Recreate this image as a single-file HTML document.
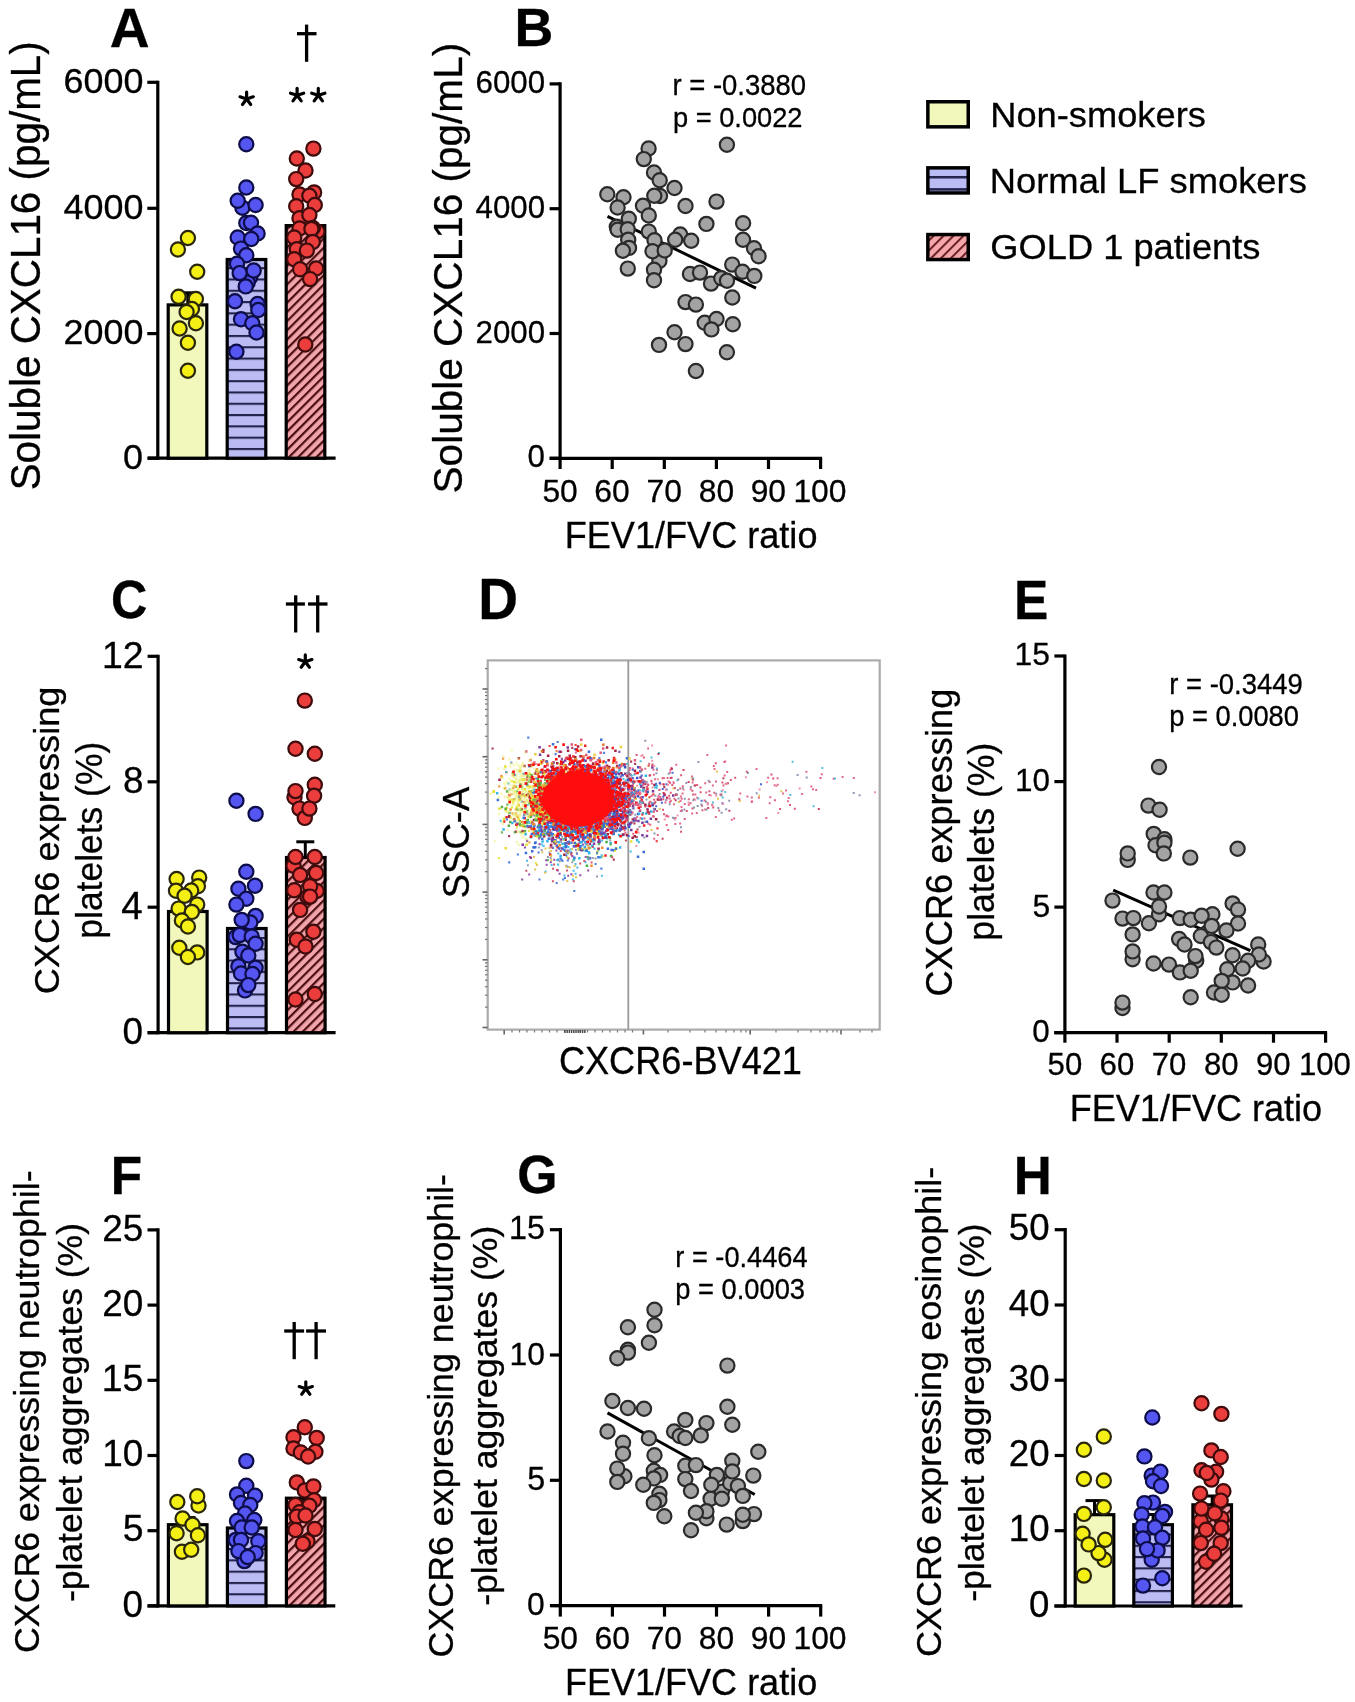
<!DOCTYPE html>
<html><head><meta charset="utf-8"><style>html,body{margin:0;padding:0;background:#fff;}svg{display:block;}text{font-family:"Liberation Sans",sans-serif;}</style></head>
<body><svg width="1355" height="1702" viewBox="0 0 1355 1702">
<defs>
<filter id="gblur" x="0" y="0" width="100%" height="100%" filterUnits="userSpaceOnUse"><feGaussianBlur stdDeviation="0.4"/></filter>
<filter id="soft" x="-5%" y="-5%" width="110%" height="110%"><feGaussianBlur stdDeviation="0.45"/></filter>
<pattern id="pblueA" patternUnits="userSpaceOnUse" width="20" height="11.3" y="7.25">
 <rect width="20" height="11.3" fill="#bcbcf4"/><rect y="0" width="20" height="2.1" fill="#23234d"/>
</pattern><pattern id="pblueC" patternUnits="userSpaceOnUse" width="20" height="11.3" y="-0.95">
 <rect width="20" height="11.3" fill="#bcbcf4"/><rect y="0" width="20" height="2.1" fill="#23234d"/>
</pattern><pattern id="pblueF" patternUnits="userSpaceOnUse" width="20" height="11.3" y="-0.05">
 <rect width="20" height="11.3" fill="#bcbcf4"/><rect y="0" width="20" height="2.1" fill="#23234d"/>
</pattern><pattern id="pblueH" patternUnits="userSpaceOnUse" width="20" height="11.3" y="7.95">
 <rect width="20" height="11.3" fill="#bcbcf4"/><rect y="0" width="20" height="2.1" fill="#23234d"/>
</pattern>
<pattern id="pblueL" patternUnits="userSpaceOnUse" width="20" height="12.2" y="175.95">
 <rect width="20" height="12.2" fill="#bcbcf4"/><rect y="0" width="20" height="2.5" fill="#23234d"/>
</pattern>
<pattern id="predL" patternUnits="userSpaceOnUse" width="7" height="7" patternTransform="rotate(-45)">
 <rect width="7" height="7" fill="#f4a6aa"/><rect y="0" width="7" height="1.8" fill="#5a1414"/>
</pattern>
<pattern id="pred" patternUnits="userSpaceOnUse" width="6.5" height="6.5" patternTransform="rotate(-45)">
 <rect width="6.5" height="6.5" fill="#f2a4ac"/><rect y="0" width="6.5" height="2.2" fill="#4a0e0e"/>
</pattern>
</defs>
<rect width="1355" height="1702" fill="#fff"/>
<g filter="url(#gblur)">
<line x1="157.8" y1="80.7" x2="157.8" y2="459.8" stroke="#000" stroke-width="3.2" stroke-linecap="butt"/>
<line x1="147.3" y1="82.3" x2="157.8" y2="82.3" stroke="#000" stroke-width="3.2" stroke-linecap="butt"/>
<line x1="147.3" y1="208.3" x2="157.8" y2="208.3" stroke="#000" stroke-width="3.2" stroke-linecap="butt"/>
<line x1="147.3" y1="333.6" x2="157.8" y2="333.6" stroke="#000" stroke-width="3.2" stroke-linecap="butt"/>
<line x1="147.3" y1="458.2" x2="157.8" y2="458.2" stroke="#000" stroke-width="3.2" stroke-linecap="butt"/>
<line x1="148.0" y1="458.2" x2="335.6" y2="458.2" stroke="#000" stroke-width="3.2" stroke-linecap="butt"/>
<rect x="168.2" y="304.9" width="38.6" height="153.3" fill="#f2f8bb" stroke="#000" stroke-width="3.2"/>
<rect x="227.2" y="259.5" width="38.6" height="198.7" fill="url(#pblueA)" stroke="#000" stroke-width="3.2"/>
<rect x="286.2" y="225.6" width="38.6" height="232.6" fill="url(#pred)" stroke="#000" stroke-width="3.2"/>
<line x1="560.1" y1="82.3" x2="560.1" y2="459.9" stroke="#000" stroke-width="3.2" stroke-linecap="butt"/>
<line x1="549.6" y1="458.3" x2="560.1" y2="458.3" stroke="#000" stroke-width="3.2" stroke-linecap="butt"/>
<line x1="549.6" y1="333.5" x2="560.1" y2="333.5" stroke="#000" stroke-width="3.2" stroke-linecap="butt"/>
<line x1="549.6" y1="208.7" x2="560.1" y2="208.7" stroke="#000" stroke-width="3.2" stroke-linecap="butt"/>
<line x1="549.6" y1="83.9" x2="560.1" y2="83.9" stroke="#000" stroke-width="3.2" stroke-linecap="butt"/>
<line x1="549.7" y1="458.3" x2="822.1" y2="458.3" stroke="#000" stroke-width="3.2" stroke-linecap="butt"/>
<line x1="560.1" y1="458.3" x2="560.1" y2="469.0" stroke="#000" stroke-width="3.2" stroke-linecap="butt"/>
<line x1="612.2" y1="458.3" x2="612.2" y2="469.0" stroke="#000" stroke-width="3.2" stroke-linecap="butt"/>
<line x1="664.3" y1="458.3" x2="664.3" y2="469.0" stroke="#000" stroke-width="3.2" stroke-linecap="butt"/>
<line x1="716.4" y1="458.3" x2="716.4" y2="469.0" stroke="#000" stroke-width="3.2" stroke-linecap="butt"/>
<line x1="768.5" y1="458.3" x2="768.5" y2="469.0" stroke="#000" stroke-width="3.2" stroke-linecap="butt"/>
<line x1="820.6" y1="458.3" x2="820.6" y2="469.0" stroke="#000" stroke-width="3.2" stroke-linecap="butt"/>
<rect x="927.85" y="101.75" width="40.4" height="25.10" fill="#f2f8bb" stroke="#000" stroke-width="3.5"/>
<rect x="927.85" y="167.85" width="40.4" height="25.10" fill="url(#pblueL)" stroke="#000" stroke-width="3.5"/>
<rect x="927.85" y="234.55" width="40.4" height="25.00" fill="url(#predL)" stroke="#000" stroke-width="3.5"/>
<line x1="158.1" y1="654.7" x2="158.1" y2="1034.3" stroke="#000" stroke-width="3.2" stroke-linecap="butt"/>
<line x1="147.6" y1="1032.7" x2="158.1" y2="1032.7" stroke="#000" stroke-width="3.2" stroke-linecap="butt"/>
<line x1="147.6" y1="907.2" x2="158.1" y2="907.2" stroke="#000" stroke-width="3.2" stroke-linecap="butt"/>
<line x1="147.6" y1="781.8" x2="158.1" y2="781.8" stroke="#000" stroke-width="3.2" stroke-linecap="butt"/>
<line x1="147.6" y1="656.3" x2="158.1" y2="656.3" stroke="#000" stroke-width="3.2" stroke-linecap="butt"/>
<line x1="147.6" y1="1032.7" x2="335.6" y2="1032.7" stroke="#000" stroke-width="3.2" stroke-linecap="butt"/>
<rect x="168.5" y="911.5" width="38.6" height="121.2" fill="#f2f8bb" stroke="#000" stroke-width="3.2"/>
<rect x="227.5" y="928.5" width="38.6" height="104.2" fill="url(#pblueC)" stroke="#000" stroke-width="3.2"/>
<rect x="286.5" y="857.5" width="38.6" height="175.2" fill="url(#pred)" stroke="#000" stroke-width="3.2"/>
<rect x="487.7" y="660.4" width="392" height="369.2" fill="none" stroke="#ababab" stroke-width="2.2"/>
<line x1="628.3" y1="660.4" x2="628.3" y2="1029.6" stroke="#9a9a9a" stroke-width="1.8" stroke-linecap="butt"/>
<line x1="1064.9" y1="654.4" x2="1064.9" y2="1034.3" stroke="#000" stroke-width="3.2" stroke-linecap="butt"/>
<line x1="1054.4" y1="1032.7" x2="1064.9" y2="1032.7" stroke="#000" stroke-width="3.2" stroke-linecap="butt"/>
<line x1="1054.4" y1="907.1" x2="1064.9" y2="907.1" stroke="#000" stroke-width="3.2" stroke-linecap="butt"/>
<line x1="1054.4" y1="781.6" x2="1064.9" y2="781.6" stroke="#000" stroke-width="3.2" stroke-linecap="butt"/>
<line x1="1054.4" y1="656.0" x2="1064.9" y2="656.0" stroke="#000" stroke-width="3.2" stroke-linecap="butt"/>
<line x1="1054.2" y1="1032.7" x2="1327.1" y2="1032.7" stroke="#000" stroke-width="3.2" stroke-linecap="butt"/>
<line x1="1064.9" y1="1032.7" x2="1064.9" y2="1042.7" stroke="#000" stroke-width="3.2" stroke-linecap="butt"/>
<line x1="1117.0" y1="1032.7" x2="1117.0" y2="1042.7" stroke="#000" stroke-width="3.2" stroke-linecap="butt"/>
<line x1="1169.2" y1="1032.7" x2="1169.2" y2="1042.7" stroke="#000" stroke-width="3.2" stroke-linecap="butt"/>
<line x1="1221.3" y1="1032.7" x2="1221.3" y2="1042.7" stroke="#000" stroke-width="3.2" stroke-linecap="butt"/>
<line x1="1273.5" y1="1032.7" x2="1273.5" y2="1042.7" stroke="#000" stroke-width="3.2" stroke-linecap="butt"/>
<line x1="1325.6" y1="1032.7" x2="1325.6" y2="1042.7" stroke="#000" stroke-width="3.2" stroke-linecap="butt"/>
<line x1="158.0" y1="1228.3" x2="158.0" y2="1607.5" stroke="#000" stroke-width="3.2" stroke-linecap="butt"/>
<line x1="147.5" y1="1605.9" x2="158.0" y2="1605.9" stroke="#000" stroke-width="3.2" stroke-linecap="butt"/>
<line x1="147.5" y1="1530.7" x2="158.0" y2="1530.7" stroke="#000" stroke-width="3.2" stroke-linecap="butt"/>
<line x1="147.5" y1="1455.5" x2="158.0" y2="1455.5" stroke="#000" stroke-width="3.2" stroke-linecap="butt"/>
<line x1="147.5" y1="1380.3" x2="158.0" y2="1380.3" stroke="#000" stroke-width="3.2" stroke-linecap="butt"/>
<line x1="147.5" y1="1305.1" x2="158.0" y2="1305.1" stroke="#000" stroke-width="3.2" stroke-linecap="butt"/>
<line x1="147.5" y1="1229.9" x2="158.0" y2="1229.9" stroke="#000" stroke-width="3.2" stroke-linecap="butt"/>
<line x1="147.6" y1="1605.9" x2="335.3" y2="1605.9" stroke="#000" stroke-width="3.2" stroke-linecap="butt"/>
<rect x="168.4" y="1524.7" width="38.6" height="81.2" fill="#f2f8bb" stroke="#000" stroke-width="3.2"/>
<rect x="227.4" y="1528.0" width="38.6" height="77.9" fill="url(#pblueF)" stroke="#000" stroke-width="3.2"/>
<rect x="286.4" y="1498.2" width="38.6" height="107.7" fill="url(#pred)" stroke="#000" stroke-width="3.2"/>
<line x1="560.4" y1="1228.1" x2="560.4" y2="1607.2" stroke="#000" stroke-width="3.2" stroke-linecap="butt"/>
<line x1="549.9" y1="1605.6" x2="560.4" y2="1605.6" stroke="#000" stroke-width="3.2" stroke-linecap="butt"/>
<line x1="549.9" y1="1480.3" x2="560.4" y2="1480.3" stroke="#000" stroke-width="3.2" stroke-linecap="butt"/>
<line x1="549.9" y1="1355.0" x2="560.4" y2="1355.0" stroke="#000" stroke-width="3.2" stroke-linecap="butt"/>
<line x1="549.9" y1="1229.7" x2="560.4" y2="1229.7" stroke="#000" stroke-width="3.2" stroke-linecap="butt"/>
<line x1="550.7" y1="1605.6" x2="822.2" y2="1605.6" stroke="#000" stroke-width="3.2" stroke-linecap="butt"/>
<line x1="560.3" y1="1605.6" x2="560.3" y2="1616.6" stroke="#000" stroke-width="3.2" stroke-linecap="butt"/>
<line x1="612.4" y1="1605.6" x2="612.4" y2="1616.6" stroke="#000" stroke-width="3.2" stroke-linecap="butt"/>
<line x1="664.5" y1="1605.6" x2="664.5" y2="1616.6" stroke="#000" stroke-width="3.2" stroke-linecap="butt"/>
<line x1="716.5" y1="1605.6" x2="716.5" y2="1616.6" stroke="#000" stroke-width="3.2" stroke-linecap="butt"/>
<line x1="768.6" y1="1605.6" x2="768.6" y2="1616.6" stroke="#000" stroke-width="3.2" stroke-linecap="butt"/>
<line x1="820.7" y1="1605.6" x2="820.7" y2="1616.6" stroke="#000" stroke-width="3.2" stroke-linecap="butt"/>
<line x1="1065.2" y1="1228.1" x2="1065.2" y2="1607.6" stroke="#000" stroke-width="3.2" stroke-linecap="butt"/>
<line x1="1054.7" y1="1606.0" x2="1065.2" y2="1606.0" stroke="#000" stroke-width="3.2" stroke-linecap="butt"/>
<line x1="1054.7" y1="1530.7" x2="1065.2" y2="1530.7" stroke="#000" stroke-width="3.2" stroke-linecap="butt"/>
<line x1="1054.7" y1="1455.5" x2="1065.2" y2="1455.5" stroke="#000" stroke-width="3.2" stroke-linecap="butt"/>
<line x1="1054.7" y1="1380.2" x2="1065.2" y2="1380.2" stroke="#000" stroke-width="3.2" stroke-linecap="butt"/>
<line x1="1054.7" y1="1305.0" x2="1065.2" y2="1305.0" stroke="#000" stroke-width="3.2" stroke-linecap="butt"/>
<line x1="1054.7" y1="1229.7" x2="1065.2" y2="1229.7" stroke="#000" stroke-width="3.2" stroke-linecap="butt"/>
<line x1="1054.3" y1="1606.0" x2="1242.5" y2="1606.0" stroke="#000" stroke-width="3.2" stroke-linecap="butt"/>
<rect x="1075.2" y="1514.7" width="38.6" height="91.3" fill="#f2f8bb" stroke="#000" stroke-width="3.2"/>
<rect x="1133.8" y="1524.7" width="38.6" height="81.3" fill="url(#pblueH)" stroke="#000" stroke-width="3.2"/>
<rect x="1192.9" y="1504.8" width="38.6" height="101.2" fill="url(#pred)" stroke="#000" stroke-width="3.2"/>
<line x1="187.8" y1="304.9" x2="187.8" y2="292.8" stroke="#000" stroke-width="3" stroke-linecap="butt"/>
<line x1="180.8" y1="292.8" x2="194.8" y2="292.8" stroke="#000" stroke-width="3" stroke-linecap="butt"/>
<circle cx="187.9" cy="238.0" r="7.1" fill="#f4f016" stroke="#2b2808" stroke-width="2.2"/>
<circle cx="177.9" cy="249.5" r="7.1" fill="#f4f016" stroke="#2b2808" stroke-width="2.2"/>
<circle cx="197.2" cy="271.8" r="7.1" fill="#f4f016" stroke="#2b2808" stroke-width="2.2"/>
<circle cx="178.6" cy="296.8" r="7.1" fill="#f4f016" stroke="#2b2808" stroke-width="2.2"/>
<circle cx="195.9" cy="299.0" r="7.1" fill="#f4f016" stroke="#2b2808" stroke-width="2.2"/>
<circle cx="191.9" cy="309.0" r="7.1" fill="#f4f016" stroke="#2b2808" stroke-width="2.2"/>
<circle cx="186.6" cy="312.0" r="7.1" fill="#f4f016" stroke="#2b2808" stroke-width="2.2"/>
<circle cx="195.9" cy="323.2" r="7.1" fill="#f4f016" stroke="#2b2808" stroke-width="2.2"/>
<circle cx="179.6" cy="328.5" r="7.1" fill="#f4f016" stroke="#2b2808" stroke-width="2.2"/>
<circle cx="187.9" cy="342.7" r="7.1" fill="#f4f016" stroke="#2b2808" stroke-width="2.2"/>
<circle cx="187.9" cy="370.8" r="7.1" fill="#f4f016" stroke="#2b2808" stroke-width="2.2"/>
<circle cx="246.3" cy="144.2" r="7.1" fill="#5454f2" stroke="#0c0c48" stroke-width="2.2"/>
<circle cx="246.3" cy="187.5" r="7.1" fill="#5454f2" stroke="#0c0c48" stroke-width="2.2"/>
<circle cx="242.4" cy="207.7" r="7.1" fill="#5454f2" stroke="#0c0c48" stroke-width="2.2"/>
<circle cx="237.7" cy="200.8" r="7.1" fill="#5454f2" stroke="#0c0c48" stroke-width="2.2"/>
<circle cx="255.6" cy="205.0" r="7.1" fill="#5454f2" stroke="#0c0c48" stroke-width="2.2"/>
<circle cx="246.3" cy="223.0" r="7.1" fill="#5454f2" stroke="#0c0c48" stroke-width="2.2"/>
<circle cx="251.0" cy="222.8" r="7.1" fill="#5454f2" stroke="#0c0c48" stroke-width="2.2"/>
<circle cx="257.6" cy="233.5" r="7.1" fill="#5454f2" stroke="#0c0c48" stroke-width="2.2"/>
<circle cx="237.7" cy="237.5" r="7.1" fill="#5454f2" stroke="#0c0c48" stroke-width="2.2"/>
<circle cx="251.3" cy="239.0" r="7.1" fill="#5454f2" stroke="#0c0c48" stroke-width="2.2"/>
<circle cx="241.0" cy="248.6" r="7.1" fill="#5454f2" stroke="#0c0c48" stroke-width="2.2"/>
<circle cx="246.3" cy="255.2" r="7.1" fill="#5454f2" stroke="#0c0c48" stroke-width="2.2"/>
<circle cx="237.0" cy="263.8" r="7.1" fill="#5454f2" stroke="#0c0c48" stroke-width="2.2"/>
<circle cx="250.3" cy="277.1" r="7.1" fill="#5454f2" stroke="#0c0c48" stroke-width="2.2"/>
<circle cx="247.7" cy="282.4" r="7.1" fill="#5454f2" stroke="#0c0c48" stroke-width="2.2"/>
<circle cx="245.7" cy="286.4" r="7.1" fill="#5454f2" stroke="#0c0c48" stroke-width="2.2"/>
<circle cx="239.7" cy="273.1" r="7.1" fill="#5454f2" stroke="#0c0c48" stroke-width="2.2"/>
<circle cx="253.7" cy="270.5" r="7.1" fill="#5454f2" stroke="#0c0c48" stroke-width="2.2"/>
<circle cx="235.0" cy="301.3" r="7.1" fill="#5454f2" stroke="#0c0c48" stroke-width="2.2"/>
<circle cx="257.6" cy="304.0" r="7.1" fill="#5454f2" stroke="#0c0c48" stroke-width="2.2"/>
<circle cx="258.3" cy="310.0" r="7.1" fill="#5454f2" stroke="#0c0c48" stroke-width="2.2"/>
<circle cx="241.0" cy="319.2" r="7.1" fill="#5454f2" stroke="#0c0c48" stroke-width="2.2"/>
<circle cx="252.3" cy="323.2" r="7.1" fill="#5454f2" stroke="#0c0c48" stroke-width="2.2"/>
<circle cx="256.5" cy="332.5" r="7.1" fill="#5454f2" stroke="#0c0c48" stroke-width="2.2"/>
<circle cx="236.4" cy="351.8" r="7.1" fill="#5454f2" stroke="#0c0c48" stroke-width="2.2"/>
<circle cx="313.4" cy="148.6" r="7.1" fill="#ec3e3e" stroke="#3e0808" stroke-width="2.2"/>
<circle cx="296.8" cy="158.5" r="7.1" fill="#ec3e3e" stroke="#3e0808" stroke-width="2.2"/>
<circle cx="305.5" cy="170.5" r="7.1" fill="#ec3e3e" stroke="#3e0808" stroke-width="2.2"/>
<circle cx="296.2" cy="179.1" r="7.1" fill="#ec3e3e" stroke="#3e0808" stroke-width="2.2"/>
<circle cx="314.1" cy="192.4" r="7.1" fill="#ec3e3e" stroke="#3e0808" stroke-width="2.2"/>
<circle cx="299.5" cy="194.4" r="7.1" fill="#ec3e3e" stroke="#3e0808" stroke-width="2.2"/>
<circle cx="309.4" cy="195.7" r="7.1" fill="#ec3e3e" stroke="#3e0808" stroke-width="2.2"/>
<circle cx="314.8" cy="205.0" r="7.1" fill="#ec3e3e" stroke="#3e0808" stroke-width="2.2"/>
<circle cx="296.2" cy="206.3" r="7.1" fill="#ec3e3e" stroke="#3e0808" stroke-width="2.2"/>
<circle cx="299.5" cy="218.3" r="7.1" fill="#ec3e3e" stroke="#3e0808" stroke-width="2.2"/>
<circle cx="309.4" cy="215.0" r="7.1" fill="#ec3e3e" stroke="#3e0808" stroke-width="2.2"/>
<circle cx="317.4" cy="231.6" r="7.1" fill="#ec3e3e" stroke="#3e0808" stroke-width="2.2"/>
<circle cx="312.8" cy="228.0" r="7.1" fill="#ec3e3e" stroke="#3e0808" stroke-width="2.2"/>
<circle cx="299.5" cy="228.5" r="7.1" fill="#ec3e3e" stroke="#3e0808" stroke-width="2.2"/>
<circle cx="311.4" cy="229.0" r="7.1" fill="#ec3e3e" stroke="#3e0808" stroke-width="2.2"/>
<circle cx="294.2" cy="237.5" r="7.1" fill="#ec3e3e" stroke="#3e0808" stroke-width="2.2"/>
<circle cx="312.8" cy="241.9" r="7.1" fill="#ec3e3e" stroke="#3e0808" stroke-width="2.2"/>
<circle cx="296.8" cy="249.2" r="7.1" fill="#ec3e3e" stroke="#3e0808" stroke-width="2.2"/>
<circle cx="306.8" cy="250.6" r="7.1" fill="#ec3e3e" stroke="#3e0808" stroke-width="2.2"/>
<circle cx="294.2" cy="259.2" r="7.1" fill="#ec3e3e" stroke="#3e0808" stroke-width="2.2"/>
<circle cx="300.1" cy="269.2" r="7.1" fill="#ec3e3e" stroke="#3e0808" stroke-width="2.2"/>
<circle cx="316.1" cy="268.5" r="7.1" fill="#ec3e3e" stroke="#3e0808" stroke-width="2.2"/>
<circle cx="310.1" cy="279.1" r="7.1" fill="#ec3e3e" stroke="#3e0808" stroke-width="2.2"/>
<circle cx="305.3" cy="344.5" r="7.1" fill="#ec3e3e" stroke="#3e0808" stroke-width="2.2"/>
<line x1="305.3" y1="857.5" x2="305.3" y2="841.8" stroke="#000" stroke-width="3" stroke-linecap="butt"/>
<line x1="296.3" y1="841.8" x2="314.3" y2="841.8" stroke="#000" stroke-width="3" stroke-linecap="butt"/>
<circle cx="176.6" cy="879.0" r="7.1" fill="#f4f016" stroke="#2b2808" stroke-width="2.2"/>
<circle cx="199.2" cy="877.6" r="7.1" fill="#f4f016" stroke="#2b2808" stroke-width="2.2"/>
<circle cx="197.9" cy="886.3" r="7.1" fill="#f4f016" stroke="#2b2808" stroke-width="2.2"/>
<circle cx="176.0" cy="890.8" r="7.1" fill="#f4f016" stroke="#2b2808" stroke-width="2.2"/>
<circle cx="191.2" cy="890.5" r="7.1" fill="#f4f016" stroke="#2b2808" stroke-width="2.2"/>
<circle cx="184.6" cy="895.8" r="7.1" fill="#f4f016" stroke="#2b2808" stroke-width="2.2"/>
<circle cx="178.6" cy="908.6" r="7.1" fill="#f4f016" stroke="#2b2808" stroke-width="2.2"/>
<circle cx="197.2" cy="904.6" r="7.1" fill="#f4f016" stroke="#2b2808" stroke-width="2.2"/>
<circle cx="191.9" cy="911.9" r="7.1" fill="#f4f016" stroke="#2b2808" stroke-width="2.2"/>
<circle cx="181.9" cy="920.5" r="7.1" fill="#f4f016" stroke="#2b2808" stroke-width="2.2"/>
<circle cx="187.9" cy="926.5" r="7.1" fill="#f4f016" stroke="#2b2808" stroke-width="2.2"/>
<circle cx="179.3" cy="947.7" r="7.1" fill="#f4f016" stroke="#2b2808" stroke-width="2.2"/>
<circle cx="197.2" cy="952.4" r="7.1" fill="#f4f016" stroke="#2b2808" stroke-width="2.2"/>
<circle cx="187.9" cy="957.0" r="7.1" fill="#f4f016" stroke="#2b2808" stroke-width="2.2"/>
<circle cx="236.4" cy="800.7" r="7.1" fill="#5454f2" stroke="#0c0c48" stroke-width="2.2"/>
<circle cx="255.6" cy="813.9" r="7.1" fill="#5454f2" stroke="#0c0c48" stroke-width="2.2"/>
<circle cx="246.3" cy="871.7" r="7.1" fill="#5454f2" stroke="#0c0c48" stroke-width="2.2"/>
<circle cx="238.4" cy="888.8" r="7.1" fill="#5454f2" stroke="#0c0c48" stroke-width="2.2"/>
<circle cx="255.0" cy="885.8" r="7.1" fill="#5454f2" stroke="#0c0c48" stroke-width="2.2"/>
<circle cx="246.3" cy="898.8" r="7.1" fill="#5454f2" stroke="#0c0c48" stroke-width="2.2"/>
<circle cx="236.4" cy="904.6" r="7.1" fill="#5454f2" stroke="#0c0c48" stroke-width="2.2"/>
<circle cx="255.6" cy="915.9" r="7.1" fill="#5454f2" stroke="#0c0c48" stroke-width="2.2"/>
<circle cx="250.3" cy="922.5" r="7.1" fill="#5454f2" stroke="#0c0c48" stroke-width="2.2"/>
<circle cx="241.7" cy="919.9" r="7.1" fill="#5454f2" stroke="#0c0c48" stroke-width="2.2"/>
<circle cx="235.7" cy="937.1" r="7.1" fill="#5454f2" stroke="#0c0c48" stroke-width="2.2"/>
<circle cx="239.7" cy="935.1" r="7.1" fill="#5454f2" stroke="#0c0c48" stroke-width="2.2"/>
<circle cx="251.7" cy="936.5" r="7.1" fill="#5454f2" stroke="#0c0c48" stroke-width="2.2"/>
<circle cx="255.6" cy="943.8" r="7.1" fill="#5454f2" stroke="#0c0c48" stroke-width="2.2"/>
<circle cx="242.4" cy="951.7" r="7.1" fill="#5454f2" stroke="#0c0c48" stroke-width="2.2"/>
<circle cx="248.3" cy="955.5" r="7.1" fill="#5454f2" stroke="#0c0c48" stroke-width="2.2"/>
<circle cx="238.4" cy="966.3" r="7.1" fill="#5454f2" stroke="#0c0c48" stroke-width="2.2"/>
<circle cx="255.6" cy="967.7" r="7.1" fill="#5454f2" stroke="#0c0c48" stroke-width="2.2"/>
<circle cx="245.0" cy="990.4" r="7.1" fill="#5454f2" stroke="#0c0c48" stroke-width="2.2"/>
<circle cx="241.0" cy="973.5" r="7.1" fill="#5454f2" stroke="#0c0c48" stroke-width="2.2"/>
<circle cx="252.5" cy="974.0" r="7.1" fill="#5454f2" stroke="#0c0c48" stroke-width="2.2"/>
<circle cx="248.3" cy="985.1" r="7.1" fill="#5454f2" stroke="#0c0c48" stroke-width="2.2"/>
<circle cx="304.8" cy="700.6" r="7.1" fill="#ec3e3e" stroke="#3e0808" stroke-width="2.2"/>
<circle cx="295.5" cy="748.8" r="7.1" fill="#ec3e3e" stroke="#3e0808" stroke-width="2.2"/>
<circle cx="314.8" cy="753.7" r="7.1" fill="#ec3e3e" stroke="#3e0808" stroke-width="2.2"/>
<circle cx="294.5" cy="797.3" r="7.1" fill="#ec3e3e" stroke="#3e0808" stroke-width="2.2"/>
<circle cx="314.8" cy="784.8" r="7.1" fill="#ec3e3e" stroke="#3e0808" stroke-width="2.2"/>
<circle cx="295.5" cy="791.1" r="7.1" fill="#ec3e3e" stroke="#3e0808" stroke-width="2.2"/>
<circle cx="314.1" cy="795.8" r="7.1" fill="#ec3e3e" stroke="#3e0808" stroke-width="2.2"/>
<circle cx="299.5" cy="808.6" r="7.1" fill="#ec3e3e" stroke="#3e0808" stroke-width="2.2"/>
<circle cx="304.8" cy="817.9" r="7.1" fill="#ec3e3e" stroke="#3e0808" stroke-width="2.2"/>
<circle cx="309.4" cy="808.6" r="7.1" fill="#ec3e3e" stroke="#3e0808" stroke-width="2.2"/>
<circle cx="293.5" cy="865.7" r="7.1" fill="#ec3e3e" stroke="#3e0808" stroke-width="2.2"/>
<circle cx="295.5" cy="857.0" r="7.1" fill="#ec3e3e" stroke="#3e0808" stroke-width="2.2"/>
<circle cx="314.8" cy="857.0" r="7.1" fill="#ec3e3e" stroke="#3e0808" stroke-width="2.2"/>
<circle cx="300.1" cy="875.0" r="7.1" fill="#ec3e3e" stroke="#3e0808" stroke-width="2.2"/>
<circle cx="316.1" cy="873.0" r="7.1" fill="#ec3e3e" stroke="#3e0808" stroke-width="2.2"/>
<circle cx="294.2" cy="890.2" r="7.1" fill="#ec3e3e" stroke="#3e0808" stroke-width="2.2"/>
<circle cx="316.7" cy="891.0" r="7.1" fill="#ec3e3e" stroke="#3e0808" stroke-width="2.2"/>
<circle cx="310.1" cy="886.3" r="7.1" fill="#ec3e3e" stroke="#3e0808" stroke-width="2.2"/>
<circle cx="307.5" cy="897.0" r="7.1" fill="#ec3e3e" stroke="#3e0808" stroke-width="2.2"/>
<circle cx="310.1" cy="896.6" r="7.1" fill="#ec3e3e" stroke="#3e0808" stroke-width="2.2"/>
<circle cx="300.1" cy="909.9" r="7.1" fill="#ec3e3e" stroke="#3e0808" stroke-width="2.2"/>
<circle cx="313.4" cy="931.8" r="7.1" fill="#ec3e3e" stroke="#3e0808" stroke-width="2.2"/>
<circle cx="296.8" cy="939.8" r="7.1" fill="#ec3e3e" stroke="#3e0808" stroke-width="2.2"/>
<circle cx="305.5" cy="946.5" r="7.1" fill="#ec3e3e" stroke="#3e0808" stroke-width="2.2"/>
<circle cx="314.8" cy="994.0" r="7.1" fill="#ec3e3e" stroke="#3e0808" stroke-width="2.2"/>
<circle cx="295.5" cy="999.5" r="7.1" fill="#ec3e3e" stroke="#3e0808" stroke-width="2.2"/>
<line x1="187.5" y1="1524.7" x2="187.5" y2="1517.5" stroke="#000" stroke-width="3" stroke-linecap="butt"/>
<line x1="179.5" y1="1517.5" x2="195.5" y2="1517.5" stroke="#000" stroke-width="3" stroke-linecap="butt"/>
<circle cx="177.3" cy="1502.0" r="7.1" fill="#f4f016" stroke="#2b2808" stroke-width="2.2"/>
<circle cx="198.5" cy="1505.5" r="7.1" fill="#f4f016" stroke="#2b2808" stroke-width="2.2"/>
<circle cx="197.2" cy="1496.3" r="7.1" fill="#f4f016" stroke="#2b2808" stroke-width="2.2"/>
<circle cx="182.6" cy="1518.5" r="7.1" fill="#f4f016" stroke="#2b2808" stroke-width="2.2"/>
<circle cx="192.5" cy="1524.8" r="7.1" fill="#f4f016" stroke="#2b2808" stroke-width="2.2"/>
<circle cx="176.6" cy="1533.2" r="7.1" fill="#f4f016" stroke="#2b2808" stroke-width="2.2"/>
<circle cx="197.9" cy="1535.2" r="7.1" fill="#f4f016" stroke="#2b2808" stroke-width="2.2"/>
<circle cx="181.9" cy="1551.8" r="7.1" fill="#f4f016" stroke="#2b2808" stroke-width="2.2"/>
<circle cx="191.2" cy="1549.8" r="7.1" fill="#f4f016" stroke="#2b2808" stroke-width="2.2"/>
<circle cx="246.3" cy="1461.1" r="7.1" fill="#5454f2" stroke="#0c0c48" stroke-width="2.2"/>
<circle cx="246.3" cy="1485.7" r="7.1" fill="#5454f2" stroke="#0c0c48" stroke-width="2.2"/>
<circle cx="237.0" cy="1494.4" r="7.1" fill="#5454f2" stroke="#0c0c48" stroke-width="2.2"/>
<circle cx="255.0" cy="1495.7" r="7.1" fill="#5454f2" stroke="#0c0c48" stroke-width="2.2"/>
<circle cx="241.0" cy="1503.0" r="7.1" fill="#5454f2" stroke="#0c0c48" stroke-width="2.2"/>
<circle cx="250.3" cy="1505.0" r="7.1" fill="#5454f2" stroke="#0c0c48" stroke-width="2.2"/>
<circle cx="245.0" cy="1513.5" r="7.1" fill="#5454f2" stroke="#0c0c48" stroke-width="2.2"/>
<circle cx="237.0" cy="1521.0" r="7.1" fill="#5454f2" stroke="#0c0c48" stroke-width="2.2"/>
<circle cx="254.3" cy="1520.0" r="7.1" fill="#5454f2" stroke="#0c0c48" stroke-width="2.2"/>
<circle cx="241.7" cy="1527.5" r="7.1" fill="#5454f2" stroke="#0c0c48" stroke-width="2.2"/>
<circle cx="251.7" cy="1527.5" r="7.1" fill="#5454f2" stroke="#0c0c48" stroke-width="2.2"/>
<circle cx="235.7" cy="1539.9" r="7.1" fill="#5454f2" stroke="#0c0c48" stroke-width="2.2"/>
<circle cx="241.0" cy="1539.9" r="7.1" fill="#5454f2" stroke="#0c0c48" stroke-width="2.2"/>
<circle cx="258.3" cy="1541.2" r="7.1" fill="#5454f2" stroke="#0c0c48" stroke-width="2.2"/>
<circle cx="255.6" cy="1553.1" r="7.1" fill="#5454f2" stroke="#0c0c48" stroke-width="2.2"/>
<circle cx="244.4" cy="1561.1" r="7.1" fill="#5454f2" stroke="#0c0c48" stroke-width="2.2"/>
<circle cx="238.4" cy="1551.1" r="7.1" fill="#5454f2" stroke="#0c0c48" stroke-width="2.2"/>
<circle cx="247.7" cy="1557.1" r="7.1" fill="#5454f2" stroke="#0c0c48" stroke-width="2.2"/>
<circle cx="304.8" cy="1427.3" r="7.1" fill="#ec3e3e" stroke="#3e0808" stroke-width="2.2"/>
<circle cx="293.5" cy="1437.2" r="7.1" fill="#ec3e3e" stroke="#3e0808" stroke-width="2.2"/>
<circle cx="316.7" cy="1437.9" r="7.1" fill="#ec3e3e" stroke="#3e0808" stroke-width="2.2"/>
<circle cx="293.5" cy="1448.5" r="7.1" fill="#ec3e3e" stroke="#3e0808" stroke-width="2.2"/>
<circle cx="315.4" cy="1451.8" r="7.1" fill="#ec3e3e" stroke="#3e0808" stroke-width="2.2"/>
<circle cx="300.8" cy="1452.5" r="7.1" fill="#ec3e3e" stroke="#3e0808" stroke-width="2.2"/>
<circle cx="308.1" cy="1456.5" r="7.1" fill="#ec3e3e" stroke="#3e0808" stroke-width="2.2"/>
<circle cx="296.8" cy="1482.4" r="7.1" fill="#ec3e3e" stroke="#3e0808" stroke-width="2.2"/>
<circle cx="304.8" cy="1490.4" r="7.1" fill="#ec3e3e" stroke="#3e0808" stroke-width="2.2"/>
<circle cx="313.4" cy="1486.4" r="7.1" fill="#ec3e3e" stroke="#3e0808" stroke-width="2.2"/>
<circle cx="314.1" cy="1500.3" r="7.1" fill="#ec3e3e" stroke="#3e0808" stroke-width="2.2"/>
<circle cx="295.5" cy="1505.0" r="7.1" fill="#ec3e3e" stroke="#3e0808" stroke-width="2.2"/>
<circle cx="309.4" cy="1505.8" r="7.1" fill="#ec3e3e" stroke="#3e0808" stroke-width="2.2"/>
<circle cx="299.5" cy="1512.3" r="7.1" fill="#ec3e3e" stroke="#3e0808" stroke-width="2.2"/>
<circle cx="296.8" cy="1516.6" r="7.1" fill="#ec3e3e" stroke="#3e0808" stroke-width="2.2"/>
<circle cx="305.5" cy="1515.5" r="7.1" fill="#ec3e3e" stroke="#3e0808" stroke-width="2.2"/>
<circle cx="314.8" cy="1529.0" r="7.1" fill="#ec3e3e" stroke="#3e0808" stroke-width="2.2"/>
<circle cx="295.5" cy="1530.0" r="7.1" fill="#ec3e3e" stroke="#3e0808" stroke-width="2.2"/>
<circle cx="307.5" cy="1541.2" r="7.1" fill="#ec3e3e" stroke="#3e0808" stroke-width="2.2"/>
<circle cx="302.8" cy="1543.8" r="7.1" fill="#ec3e3e" stroke="#3e0808" stroke-width="2.2"/>
<line x1="1094.5" y1="1514.7" x2="1094.5" y2="1500.6" stroke="#000" stroke-width="3" stroke-linecap="butt"/>
<line x1="1085.5" y1="1500.6" x2="1103.5" y2="1500.6" stroke="#000" stroke-width="3" stroke-linecap="butt"/>
<line x1="1212.2" y1="1504.8" x2="1212.2" y2="1496.0" stroke="#000" stroke-width="3" stroke-linecap="butt"/>
<line x1="1203.2" y1="1496.0" x2="1221.2" y2="1496.0" stroke="#000" stroke-width="3" stroke-linecap="butt"/>
<line x1="1153.1" y1="1524.7" x2="1153.1" y2="1514.5" stroke="#000" stroke-width="3" stroke-linecap="butt"/>
<line x1="1144.1" y1="1514.5" x2="1162.1" y2="1514.5" stroke="#000" stroke-width="3" stroke-linecap="butt"/>
<circle cx="1103.8" cy="1436.5" r="7.1" fill="#f4f016" stroke="#2b2808" stroke-width="2.2"/>
<circle cx="1083.9" cy="1449.7" r="7.1" fill="#f4f016" stroke="#2b2808" stroke-width="2.2"/>
<circle cx="1083.9" cy="1479.0" r="7.1" fill="#f4f016" stroke="#2b2808" stroke-width="2.2"/>
<circle cx="1103.8" cy="1480.5" r="7.1" fill="#f4f016" stroke="#2b2808" stroke-width="2.2"/>
<circle cx="1103.8" cy="1507.2" r="7.1" fill="#f4f016" stroke="#2b2808" stroke-width="2.2"/>
<circle cx="1083.9" cy="1513.9" r="7.1" fill="#f4f016" stroke="#2b2808" stroke-width="2.2"/>
<circle cx="1082.6" cy="1533.8" r="7.1" fill="#f4f016" stroke="#2b2808" stroke-width="2.2"/>
<circle cx="1105.2" cy="1539.8" r="7.1" fill="#f4f016" stroke="#2b2808" stroke-width="2.2"/>
<circle cx="1104.5" cy="1559.7" r="7.1" fill="#f4f016" stroke="#2b2808" stroke-width="2.2"/>
<circle cx="1098.5" cy="1553.1" r="7.1" fill="#f4f016" stroke="#2b2808" stroke-width="2.2"/>
<circle cx="1088.6" cy="1544.4" r="7.1" fill="#f4f016" stroke="#2b2808" stroke-width="2.2"/>
<circle cx="1083.9" cy="1575.6" r="7.1" fill="#f4f016" stroke="#2b2808" stroke-width="2.2"/>
<circle cx="1152.3" cy="1417.5" r="7.1" fill="#5454f2" stroke="#0c0c48" stroke-width="2.2"/>
<circle cx="1144.4" cy="1456.4" r="7.1" fill="#5454f2" stroke="#0c0c48" stroke-width="2.2"/>
<circle cx="1151.7" cy="1475.6" r="7.1" fill="#5454f2" stroke="#0c0c48" stroke-width="2.2"/>
<circle cx="1160.3" cy="1471.7" r="7.1" fill="#5454f2" stroke="#0c0c48" stroke-width="2.2"/>
<circle cx="1153.0" cy="1481.3" r="7.1" fill="#5454f2" stroke="#0c0c48" stroke-width="2.2"/>
<circle cx="1161.0" cy="1486.0" r="7.1" fill="#5454f2" stroke="#0c0c48" stroke-width="2.2"/>
<circle cx="1153.0" cy="1502.6" r="7.1" fill="#5454f2" stroke="#0c0c48" stroke-width="2.2"/>
<circle cx="1144.4" cy="1503.2" r="7.1" fill="#5454f2" stroke="#0c0c48" stroke-width="2.2"/>
<circle cx="1165.0" cy="1511.9" r="7.1" fill="#5454f2" stroke="#0c0c48" stroke-width="2.2"/>
<circle cx="1141.7" cy="1514.5" r="7.1" fill="#5454f2" stroke="#0c0c48" stroke-width="2.2"/>
<circle cx="1162.3" cy="1515.9" r="7.1" fill="#5454f2" stroke="#0c0c48" stroke-width="2.2"/>
<circle cx="1142.4" cy="1526.5" r="7.1" fill="#5454f2" stroke="#0c0c48" stroke-width="2.2"/>
<circle cx="1155.0" cy="1527.2" r="7.1" fill="#5454f2" stroke="#0c0c48" stroke-width="2.2"/>
<circle cx="1143.0" cy="1538.4" r="7.1" fill="#5454f2" stroke="#0c0c48" stroke-width="2.2"/>
<circle cx="1162.3" cy="1537.8" r="7.1" fill="#5454f2" stroke="#0c0c48" stroke-width="2.2"/>
<circle cx="1151.7" cy="1559.7" r="7.1" fill="#5454f2" stroke="#0c0c48" stroke-width="2.2"/>
<circle cx="1157.6" cy="1550.4" r="7.1" fill="#5454f2" stroke="#0c0c48" stroke-width="2.2"/>
<circle cx="1147.0" cy="1549.1" r="7.1" fill="#5454f2" stroke="#0c0c48" stroke-width="2.2"/>
<circle cx="1162.3" cy="1578.3" r="7.1" fill="#5454f2" stroke="#0c0c48" stroke-width="2.2"/>
<circle cx="1143.0" cy="1585.6" r="7.1" fill="#5454f2" stroke="#0c0c48" stroke-width="2.2"/>
<circle cx="1201.5" cy="1403.2" r="7.1" fill="#ec3e3e" stroke="#3e0808" stroke-width="2.2"/>
<circle cx="1221.4" cy="1413.9" r="7.1" fill="#ec3e3e" stroke="#3e0808" stroke-width="2.2"/>
<circle cx="1211.4" cy="1450.4" r="7.1" fill="#ec3e3e" stroke="#3e0808" stroke-width="2.2"/>
<circle cx="1220.7" cy="1457.0" r="7.1" fill="#ec3e3e" stroke="#3e0808" stroke-width="2.2"/>
<circle cx="1216.1" cy="1471.7" r="7.1" fill="#ec3e3e" stroke="#3e0808" stroke-width="2.2"/>
<circle cx="1201.5" cy="1470.3" r="7.1" fill="#ec3e3e" stroke="#3e0808" stroke-width="2.2"/>
<circle cx="1211.4" cy="1479.6" r="7.1" fill="#ec3e3e" stroke="#3e0808" stroke-width="2.2"/>
<circle cx="1206.8" cy="1473.0" r="7.1" fill="#ec3e3e" stroke="#3e0808" stroke-width="2.2"/>
<circle cx="1200.1" cy="1493.6" r="7.1" fill="#ec3e3e" stroke="#3e0808" stroke-width="2.2"/>
<circle cx="1223.4" cy="1491.3" r="7.1" fill="#ec3e3e" stroke="#3e0808" stroke-width="2.2"/>
<circle cx="1220.7" cy="1500.6" r="7.1" fill="#ec3e3e" stroke="#3e0808" stroke-width="2.2"/>
<circle cx="1221.4" cy="1518.5" r="7.1" fill="#ec3e3e" stroke="#3e0808" stroke-width="2.2"/>
<circle cx="1200.8" cy="1521.2" r="7.1" fill="#ec3e3e" stroke="#3e0808" stroke-width="2.2"/>
<circle cx="1201.5" cy="1508.6" r="7.1" fill="#ec3e3e" stroke="#3e0808" stroke-width="2.2"/>
<circle cx="1214.8" cy="1513.2" r="7.1" fill="#ec3e3e" stroke="#3e0808" stroke-width="2.2"/>
<circle cx="1221.4" cy="1527.8" r="7.1" fill="#ec3e3e" stroke="#3e0808" stroke-width="2.2"/>
<circle cx="1206.1" cy="1529.8" r="7.1" fill="#ec3e3e" stroke="#3e0808" stroke-width="2.2"/>
<circle cx="1206.1" cy="1561.7" r="7.1" fill="#ec3e3e" stroke="#3e0808" stroke-width="2.2"/>
<circle cx="1200.8" cy="1543.1" r="7.1" fill="#ec3e3e" stroke="#3e0808" stroke-width="2.2"/>
<circle cx="1220.7" cy="1543.1" r="7.1" fill="#ec3e3e" stroke="#3e0808" stroke-width="2.2"/>
<circle cx="1214.1" cy="1553.7" r="7.1" fill="#ec3e3e" stroke="#3e0808" stroke-width="2.2"/>
<line x1="607.5" y1="216.3" x2="756.0" y2="288.2" stroke="#000" stroke-width="3.0" stroke-linecap="butt"/>
<circle cx="648.6" cy="148.5" r="7.1" fill="#a3a3a3" stroke="#2c2c2c" stroke-width="2.2"/>
<circle cx="643.8" cy="159.1" r="7.1" fill="#a3a3a3" stroke="#2c2c2c" stroke-width="2.2"/>
<circle cx="654.0" cy="172.5" r="7.1" fill="#a3a3a3" stroke="#2c2c2c" stroke-width="2.2"/>
<circle cx="659.7" cy="180.2" r="7.1" fill="#a3a3a3" stroke="#2c2c2c" stroke-width="2.2"/>
<circle cx="674.5" cy="188.0" r="7.1" fill="#a3a3a3" stroke="#2c2c2c" stroke-width="2.2"/>
<circle cx="726.9" cy="144.8" r="7.1" fill="#a3a3a3" stroke="#2c2c2c" stroke-width="2.2"/>
<circle cx="607.3" cy="194.2" r="7.1" fill="#a3a3a3" stroke="#2c2c2c" stroke-width="2.2"/>
<circle cx="623.5" cy="197.2" r="7.1" fill="#a3a3a3" stroke="#2c2c2c" stroke-width="2.2"/>
<circle cx="617.6" cy="207.5" r="7.1" fill="#a3a3a3" stroke="#2c2c2c" stroke-width="2.2"/>
<circle cx="660.0" cy="196.0" r="7.1" fill="#a3a3a3" stroke="#2c2c2c" stroke-width="2.2"/>
<circle cx="654.3" cy="195.7" r="7.1" fill="#a3a3a3" stroke="#2c2c2c" stroke-width="2.2"/>
<circle cx="643.0" cy="205.7" r="7.1" fill="#a3a3a3" stroke="#2c2c2c" stroke-width="2.2"/>
<circle cx="648.8" cy="215.5" r="7.1" fill="#a3a3a3" stroke="#2c2c2c" stroke-width="2.2"/>
<circle cx="685.5" cy="206.0" r="7.1" fill="#a3a3a3" stroke="#2c2c2c" stroke-width="2.2"/>
<circle cx="716.5" cy="201.6" r="7.1" fill="#a3a3a3" stroke="#2c2c2c" stroke-width="2.2"/>
<circle cx="628.8" cy="218.7" r="7.1" fill="#a3a3a3" stroke="#2c2c2c" stroke-width="2.2"/>
<circle cx="616.8" cy="226.8" r="7.1" fill="#a3a3a3" stroke="#2c2c2c" stroke-width="2.2"/>
<circle cx="617.6" cy="229.7" r="7.1" fill="#a3a3a3" stroke="#2c2c2c" stroke-width="2.2"/>
<circle cx="627.7" cy="229.3" r="7.1" fill="#a3a3a3" stroke="#2c2c2c" stroke-width="2.2"/>
<circle cx="648.8" cy="231.6" r="7.1" fill="#a3a3a3" stroke="#2c2c2c" stroke-width="2.2"/>
<circle cx="706.4" cy="223.9" r="7.1" fill="#a3a3a3" stroke="#2c2c2c" stroke-width="2.2"/>
<circle cx="743.1" cy="223.3" r="7.1" fill="#a3a3a3" stroke="#2c2c2c" stroke-width="2.2"/>
<circle cx="628.2" cy="239.8" r="7.1" fill="#a3a3a3" stroke="#2c2c2c" stroke-width="2.2"/>
<circle cx="629.0" cy="247.9" r="7.1" fill="#a3a3a3" stroke="#2c2c2c" stroke-width="2.2"/>
<circle cx="622.9" cy="250.8" r="7.1" fill="#a3a3a3" stroke="#2c2c2c" stroke-width="2.2"/>
<circle cx="654.5" cy="240.2" r="7.1" fill="#a3a3a3" stroke="#2c2c2c" stroke-width="2.2"/>
<circle cx="659.4" cy="260.9" r="7.1" fill="#a3a3a3" stroke="#2c2c2c" stroke-width="2.2"/>
<circle cx="652.5" cy="251.2" r="7.1" fill="#a3a3a3" stroke="#2c2c2c" stroke-width="2.2"/>
<circle cx="664.7" cy="250.4" r="7.1" fill="#a3a3a3" stroke="#2c2c2c" stroke-width="2.2"/>
<circle cx="680.2" cy="234.5" r="7.1" fill="#a3a3a3" stroke="#2c2c2c" stroke-width="2.2"/>
<circle cx="675.2" cy="239.8" r="7.1" fill="#a3a3a3" stroke="#2c2c2c" stroke-width="2.2"/>
<circle cx="691.2" cy="240.8" r="7.1" fill="#a3a3a3" stroke="#2c2c2c" stroke-width="2.2"/>
<circle cx="743.0" cy="239.7" r="7.1" fill="#a3a3a3" stroke="#2c2c2c" stroke-width="2.2"/>
<circle cx="754.0" cy="248.2" r="7.1" fill="#a3a3a3" stroke="#2c2c2c" stroke-width="2.2"/>
<circle cx="758.6" cy="256.3" r="7.1" fill="#a3a3a3" stroke="#2c2c2c" stroke-width="2.2"/>
<circle cx="627.8" cy="268.6" r="7.1" fill="#a3a3a3" stroke="#2c2c2c" stroke-width="2.2"/>
<circle cx="654.0" cy="269.8" r="7.1" fill="#a3a3a3" stroke="#2c2c2c" stroke-width="2.2"/>
<circle cx="654.0" cy="280.2" r="7.1" fill="#a3a3a3" stroke="#2c2c2c" stroke-width="2.2"/>
<circle cx="690.0" cy="274.0" r="7.1" fill="#a3a3a3" stroke="#2c2c2c" stroke-width="2.2"/>
<circle cx="700.0" cy="272.6" r="7.1" fill="#a3a3a3" stroke="#2c2c2c" stroke-width="2.2"/>
<circle cx="711.0" cy="283.6" r="7.1" fill="#a3a3a3" stroke="#2c2c2c" stroke-width="2.2"/>
<circle cx="732.2" cy="264.6" r="7.1" fill="#a3a3a3" stroke="#2c2c2c" stroke-width="2.2"/>
<circle cx="742.5" cy="271.8" r="7.1" fill="#a3a3a3" stroke="#2c2c2c" stroke-width="2.2"/>
<circle cx="754.3" cy="275.9" r="7.1" fill="#a3a3a3" stroke="#2c2c2c" stroke-width="2.2"/>
<circle cx="721.3" cy="278.2" r="7.1" fill="#a3a3a3" stroke="#2c2c2c" stroke-width="2.2"/>
<circle cx="727.0" cy="280.7" r="7.1" fill="#a3a3a3" stroke="#2c2c2c" stroke-width="2.2"/>
<circle cx="732.3" cy="297.5" r="7.1" fill="#a3a3a3" stroke="#2c2c2c" stroke-width="2.2"/>
<circle cx="685.5" cy="302.1" r="7.1" fill="#a3a3a3" stroke="#2c2c2c" stroke-width="2.2"/>
<circle cx="695.9" cy="304.6" r="7.1" fill="#a3a3a3" stroke="#2c2c2c" stroke-width="2.2"/>
<circle cx="704.7" cy="322.7" r="7.1" fill="#a3a3a3" stroke="#2c2c2c" stroke-width="2.2"/>
<circle cx="716.5" cy="319.0" r="7.1" fill="#a3a3a3" stroke="#2c2c2c" stroke-width="2.2"/>
<circle cx="711.4" cy="329.4" r="7.1" fill="#a3a3a3" stroke="#2c2c2c" stroke-width="2.2"/>
<circle cx="732.8" cy="324.2" r="7.1" fill="#a3a3a3" stroke="#2c2c2c" stroke-width="2.2"/>
<circle cx="674.5" cy="332.3" r="7.1" fill="#a3a3a3" stroke="#2c2c2c" stroke-width="2.2"/>
<circle cx="659.0" cy="344.9" r="7.1" fill="#a3a3a3" stroke="#2c2c2c" stroke-width="2.2"/>
<circle cx="685.5" cy="344.1" r="7.1" fill="#a3a3a3" stroke="#2c2c2c" stroke-width="2.2"/>
<circle cx="726.9" cy="352.2" r="7.1" fill="#a3a3a3" stroke="#2c2c2c" stroke-width="2.2"/>
<circle cx="695.9" cy="371.0" r="7.1" fill="#a3a3a3" stroke="#2c2c2c" stroke-width="2.2"/>
<line x1="1113.2" y1="890.2" x2="1250.4" y2="950.7" stroke="#000" stroke-width="3.0" stroke-linecap="butt"/>
<circle cx="1159.0" cy="767.0" r="7.1" fill="#a3a3a3" stroke="#2c2c2c" stroke-width="2.2"/>
<circle cx="1148.4" cy="805.6" r="7.1" fill="#a3a3a3" stroke="#2c2c2c" stroke-width="2.2"/>
<circle cx="1159.6" cy="809.7" r="7.1" fill="#a3a3a3" stroke="#2c2c2c" stroke-width="2.2"/>
<circle cx="1153.7" cy="833.9" r="7.1" fill="#a3a3a3" stroke="#2c2c2c" stroke-width="2.2"/>
<circle cx="1164.4" cy="839.3" r="7.1" fill="#a3a3a3" stroke="#2c2c2c" stroke-width="2.2"/>
<circle cx="1155.5" cy="845.2" r="7.1" fill="#a3a3a3" stroke="#2c2c2c" stroke-width="2.2"/>
<circle cx="1164.4" cy="842.8" r="7.1" fill="#a3a3a3" stroke="#2c2c2c" stroke-width="2.2"/>
<circle cx="1163.8" cy="853.4" r="7.1" fill="#a3a3a3" stroke="#2c2c2c" stroke-width="2.2"/>
<circle cx="1127.7" cy="859.9" r="7.1" fill="#a3a3a3" stroke="#2c2c2c" stroke-width="2.2"/>
<circle cx="1127.7" cy="853.4" r="7.1" fill="#a3a3a3" stroke="#2c2c2c" stroke-width="2.2"/>
<circle cx="1190.3" cy="857.6" r="7.1" fill="#a3a3a3" stroke="#2c2c2c" stroke-width="2.2"/>
<circle cx="1237.6" cy="848.7" r="7.1" fill="#a3a3a3" stroke="#2c2c2c" stroke-width="2.2"/>
<circle cx="1112.5" cy="900.6" r="7.1" fill="#a3a3a3" stroke="#2c2c2c" stroke-width="2.2"/>
<circle cx="1153.5" cy="892.5" r="7.1" fill="#a3a3a3" stroke="#2c2c2c" stroke-width="2.2"/>
<circle cx="1164.4" cy="892.5" r="7.1" fill="#a3a3a3" stroke="#2c2c2c" stroke-width="2.2"/>
<circle cx="1122.5" cy="918.6" r="7.1" fill="#a3a3a3" stroke="#2c2c2c" stroke-width="2.2"/>
<circle cx="1133.4" cy="918.1" r="7.1" fill="#a3a3a3" stroke="#2c2c2c" stroke-width="2.2"/>
<circle cx="1148.9" cy="923.2" r="7.1" fill="#a3a3a3" stroke="#2c2c2c" stroke-width="2.2"/>
<circle cx="1159.0" cy="914.2" r="7.1" fill="#a3a3a3" stroke="#2c2c2c" stroke-width="2.2"/>
<circle cx="1159.0" cy="906.5" r="7.1" fill="#a3a3a3" stroke="#2c2c2c" stroke-width="2.2"/>
<circle cx="1179.9" cy="918.1" r="7.1" fill="#a3a3a3" stroke="#2c2c2c" stroke-width="2.2"/>
<circle cx="1190.7" cy="919.7" r="7.1" fill="#a3a3a3" stroke="#2c2c2c" stroke-width="2.2"/>
<circle cx="1212.4" cy="914.2" r="7.1" fill="#a3a3a3" stroke="#2c2c2c" stroke-width="2.2"/>
<circle cx="1201.6" cy="915.8" r="7.1" fill="#a3a3a3" stroke="#2c2c2c" stroke-width="2.2"/>
<circle cx="1207.0" cy="932.8" r="7.1" fill="#a3a3a3" stroke="#2c2c2c" stroke-width="2.2"/>
<circle cx="1211.7" cy="925.9" r="7.1" fill="#a3a3a3" stroke="#2c2c2c" stroke-width="2.2"/>
<circle cx="1200.8" cy="936.0" r="7.1" fill="#a3a3a3" stroke="#2c2c2c" stroke-width="2.2"/>
<circle cx="1232.6" cy="903.4" r="7.1" fill="#a3a3a3" stroke="#2c2c2c" stroke-width="2.2"/>
<circle cx="1238.0" cy="909.6" r="7.1" fill="#a3a3a3" stroke="#2c2c2c" stroke-width="2.2"/>
<circle cx="1238.0" cy="923.5" r="7.1" fill="#a3a3a3" stroke="#2c2c2c" stroke-width="2.2"/>
<circle cx="1226.4" cy="930.5" r="7.1" fill="#a3a3a3" stroke="#2c2c2c" stroke-width="2.2"/>
<circle cx="1132.6" cy="934.4" r="7.1" fill="#a3a3a3" stroke="#2c2c2c" stroke-width="2.2"/>
<circle cx="1132.6" cy="959.2" r="7.1" fill="#a3a3a3" stroke="#2c2c2c" stroke-width="2.2"/>
<circle cx="1132.6" cy="951.4" r="7.1" fill="#a3a3a3" stroke="#2c2c2c" stroke-width="2.2"/>
<circle cx="1179.1" cy="939.0" r="7.1" fill="#a3a3a3" stroke="#2c2c2c" stroke-width="2.2"/>
<circle cx="1184.5" cy="944.5" r="7.1" fill="#a3a3a3" stroke="#2c2c2c" stroke-width="2.2"/>
<circle cx="1196.2" cy="960.7" r="7.1" fill="#a3a3a3" stroke="#2c2c2c" stroke-width="2.2"/>
<circle cx="1195.4" cy="956.1" r="7.1" fill="#a3a3a3" stroke="#2c2c2c" stroke-width="2.2"/>
<circle cx="1153.5" cy="963.5" r="7.1" fill="#a3a3a3" stroke="#2c2c2c" stroke-width="2.2"/>
<circle cx="1169.0" cy="964.6" r="7.1" fill="#a3a3a3" stroke="#2c2c2c" stroke-width="2.2"/>
<circle cx="1179.9" cy="972.4" r="7.1" fill="#a3a3a3" stroke="#2c2c2c" stroke-width="2.2"/>
<circle cx="1190.7" cy="970.8" r="7.1" fill="#a3a3a3" stroke="#2c2c2c" stroke-width="2.2"/>
<circle cx="1210.9" cy="942.1" r="7.1" fill="#a3a3a3" stroke="#2c2c2c" stroke-width="2.2"/>
<circle cx="1216.3" cy="947.6" r="7.1" fill="#a3a3a3" stroke="#2c2c2c" stroke-width="2.2"/>
<circle cx="1232.6" cy="955.3" r="7.1" fill="#a3a3a3" stroke="#2c2c2c" stroke-width="2.2"/>
<circle cx="1258.2" cy="944.5" r="7.1" fill="#a3a3a3" stroke="#2c2c2c" stroke-width="2.2"/>
<circle cx="1263.6" cy="961.5" r="7.1" fill="#a3a3a3" stroke="#2c2c2c" stroke-width="2.2"/>
<circle cx="1258.9" cy="954.5" r="7.1" fill="#a3a3a3" stroke="#2c2c2c" stroke-width="2.2"/>
<circle cx="1248.1" cy="960.7" r="7.1" fill="#a3a3a3" stroke="#2c2c2c" stroke-width="2.2"/>
<circle cx="1242.7" cy="968.5" r="7.1" fill="#a3a3a3" stroke="#2c2c2c" stroke-width="2.2"/>
<circle cx="1227.2" cy="969.3" r="7.1" fill="#a3a3a3" stroke="#2c2c2c" stroke-width="2.2"/>
<circle cx="1232.6" cy="982.4" r="7.1" fill="#a3a3a3" stroke="#2c2c2c" stroke-width="2.2"/>
<circle cx="1221.7" cy="980.9" r="7.1" fill="#a3a3a3" stroke="#2c2c2c" stroke-width="2.2"/>
<circle cx="1248.1" cy="985.5" r="7.1" fill="#a3a3a3" stroke="#2c2c2c" stroke-width="2.2"/>
<circle cx="1214.0" cy="992.5" r="7.1" fill="#a3a3a3" stroke="#2c2c2c" stroke-width="2.2"/>
<circle cx="1221.7" cy="994.8" r="7.1" fill="#a3a3a3" stroke="#2c2c2c" stroke-width="2.2"/>
<circle cx="1190.7" cy="997.2" r="7.1" fill="#a3a3a3" stroke="#2c2c2c" stroke-width="2.2"/>
<circle cx="1122.5" cy="1008.0" r="7.1" fill="#a3a3a3" stroke="#2c2c2c" stroke-width="2.2"/>
<circle cx="1122.5" cy="1002.6" r="7.1" fill="#a3a3a3" stroke="#2c2c2c" stroke-width="2.2"/>
<line x1="607.5" y1="1412.9" x2="754.7" y2="1494.5" stroke="#000" stroke-width="3.0" stroke-linecap="butt"/>
<circle cx="654.5" cy="1309.8" r="7.1" fill="#a3a3a3" stroke="#2c2c2c" stroke-width="2.2"/>
<circle cx="654.5" cy="1325.2" r="7.1" fill="#a3a3a3" stroke="#2c2c2c" stroke-width="2.2"/>
<circle cx="627.9" cy="1327.3" r="7.1" fill="#a3a3a3" stroke="#2c2c2c" stroke-width="2.2"/>
<circle cx="648.9" cy="1342.8" r="7.1" fill="#a3a3a3" stroke="#2c2c2c" stroke-width="2.2"/>
<circle cx="627.9" cy="1349.8" r="7.1" fill="#a3a3a3" stroke="#2c2c2c" stroke-width="2.2"/>
<circle cx="627.9" cy="1352.6" r="7.1" fill="#a3a3a3" stroke="#2c2c2c" stroke-width="2.2"/>
<circle cx="617.3" cy="1358.2" r="7.1" fill="#a3a3a3" stroke="#2c2c2c" stroke-width="2.2"/>
<circle cx="727.4" cy="1365.6" r="7.1" fill="#a3a3a3" stroke="#2c2c2c" stroke-width="2.2"/>
<circle cx="612.4" cy="1401.0" r="7.1" fill="#a3a3a3" stroke="#2c2c2c" stroke-width="2.2"/>
<circle cx="627.9" cy="1408.0" r="7.1" fill="#a3a3a3" stroke="#2c2c2c" stroke-width="2.2"/>
<circle cx="644.0" cy="1408.7" r="7.1" fill="#a3a3a3" stroke="#2c2c2c" stroke-width="2.2"/>
<circle cx="727.4" cy="1406.8" r="7.1" fill="#a3a3a3" stroke="#2c2c2c" stroke-width="2.2"/>
<circle cx="685.3" cy="1419.9" r="7.1" fill="#a3a3a3" stroke="#2c2c2c" stroke-width="2.2"/>
<circle cx="706.4" cy="1423.1" r="7.1" fill="#a3a3a3" stroke="#2c2c2c" stroke-width="2.2"/>
<circle cx="732.3" cy="1424.8" r="7.1" fill="#a3a3a3" stroke="#2c2c2c" stroke-width="2.2"/>
<circle cx="607.5" cy="1431.5" r="7.1" fill="#a3a3a3" stroke="#2c2c2c" stroke-width="2.2"/>
<circle cx="674.1" cy="1431.5" r="7.1" fill="#a3a3a3" stroke="#2c2c2c" stroke-width="2.2"/>
<circle cx="679.7" cy="1436.0" r="7.1" fill="#a3a3a3" stroke="#2c2c2c" stroke-width="2.2"/>
<circle cx="685.3" cy="1438.0" r="7.1" fill="#a3a3a3" stroke="#2c2c2c" stroke-width="2.2"/>
<circle cx="700.8" cy="1435.4" r="7.1" fill="#a3a3a3" stroke="#2c2c2c" stroke-width="2.2"/>
<circle cx="648.9" cy="1438.2" r="7.1" fill="#a3a3a3" stroke="#2c2c2c" stroke-width="2.2"/>
<circle cx="623.0" cy="1442.8" r="7.1" fill="#a3a3a3" stroke="#2c2c2c" stroke-width="2.2"/>
<circle cx="623.0" cy="1453.8" r="7.1" fill="#a3a3a3" stroke="#2c2c2c" stroke-width="2.2"/>
<circle cx="624.4" cy="1476.3" r="7.1" fill="#a3a3a3" stroke="#2c2c2c" stroke-width="2.2"/>
<circle cx="617.3" cy="1468.6" r="7.1" fill="#a3a3a3" stroke="#2c2c2c" stroke-width="2.2"/>
<circle cx="617.3" cy="1481.9" r="7.1" fill="#a3a3a3" stroke="#2c2c2c" stroke-width="2.2"/>
<circle cx="654.5" cy="1455.2" r="7.1" fill="#a3a3a3" stroke="#2c2c2c" stroke-width="2.2"/>
<circle cx="653.8" cy="1470.7" r="7.1" fill="#a3a3a3" stroke="#2c2c2c" stroke-width="2.2"/>
<circle cx="660.1" cy="1474.9" r="7.1" fill="#a3a3a3" stroke="#2c2c2c" stroke-width="2.2"/>
<circle cx="653.8" cy="1478.4" r="7.1" fill="#a3a3a3" stroke="#2c2c2c" stroke-width="2.2"/>
<circle cx="643.3" cy="1484.7" r="7.1" fill="#a3a3a3" stroke="#2c2c2c" stroke-width="2.2"/>
<circle cx="659.4" cy="1493.8" r="7.1" fill="#a3a3a3" stroke="#2c2c2c" stroke-width="2.2"/>
<circle cx="659.4" cy="1500.1" r="7.1" fill="#a3a3a3" stroke="#2c2c2c" stroke-width="2.2"/>
<circle cx="653.8" cy="1502.9" r="7.1" fill="#a3a3a3" stroke="#2c2c2c" stroke-width="2.2"/>
<circle cx="664.3" cy="1516.2" r="7.1" fill="#a3a3a3" stroke="#2c2c2c" stroke-width="2.2"/>
<circle cx="685.3" cy="1465.8" r="7.1" fill="#a3a3a3" stroke="#2c2c2c" stroke-width="2.2"/>
<circle cx="695.9" cy="1465.1" r="7.1" fill="#a3a3a3" stroke="#2c2c2c" stroke-width="2.2"/>
<circle cx="685.3" cy="1479.1" r="7.1" fill="#a3a3a3" stroke="#2c2c2c" stroke-width="2.2"/>
<circle cx="691.0" cy="1491.0" r="7.1" fill="#a3a3a3" stroke="#2c2c2c" stroke-width="2.2"/>
<circle cx="691.0" cy="1530.3" r="7.1" fill="#a3a3a3" stroke="#2c2c2c" stroke-width="2.2"/>
<circle cx="716.9" cy="1474.9" r="7.1" fill="#a3a3a3" stroke="#2c2c2c" stroke-width="2.2"/>
<circle cx="710.6" cy="1498.7" r="7.1" fill="#a3a3a3" stroke="#2c2c2c" stroke-width="2.2"/>
<circle cx="721.8" cy="1491.7" r="7.1" fill="#a3a3a3" stroke="#2c2c2c" stroke-width="2.2"/>
<circle cx="711.3" cy="1484.7" r="7.1" fill="#a3a3a3" stroke="#2c2c2c" stroke-width="2.2"/>
<circle cx="721.8" cy="1498.7" r="7.1" fill="#a3a3a3" stroke="#2c2c2c" stroke-width="2.2"/>
<circle cx="706.4" cy="1518.3" r="7.1" fill="#a3a3a3" stroke="#2c2c2c" stroke-width="2.2"/>
<circle cx="706.4" cy="1511.3" r="7.1" fill="#a3a3a3" stroke="#2c2c2c" stroke-width="2.2"/>
<circle cx="695.9" cy="1512.7" r="7.1" fill="#a3a3a3" stroke="#2c2c2c" stroke-width="2.2"/>
<circle cx="732.3" cy="1460.8" r="7.1" fill="#a3a3a3" stroke="#2c2c2c" stroke-width="2.2"/>
<circle cx="730.2" cy="1483.3" r="7.1" fill="#a3a3a3" stroke="#2c2c2c" stroke-width="2.2"/>
<circle cx="732.3" cy="1471.4" r="7.1" fill="#a3a3a3" stroke="#2c2c2c" stroke-width="2.2"/>
<circle cx="737.9" cy="1486.1" r="7.1" fill="#a3a3a3" stroke="#2c2c2c" stroke-width="2.2"/>
<circle cx="742.8" cy="1495.9" r="7.1" fill="#a3a3a3" stroke="#2c2c2c" stroke-width="2.2"/>
<circle cx="758.3" cy="1451.7" r="7.1" fill="#a3a3a3" stroke="#2c2c2c" stroke-width="2.2"/>
<circle cx="753.3" cy="1475.6" r="7.1" fill="#a3a3a3" stroke="#2c2c2c" stroke-width="2.2"/>
<circle cx="742.8" cy="1521.1" r="7.1" fill="#a3a3a3" stroke="#2c2c2c" stroke-width="2.2"/>
<circle cx="754.0" cy="1514.1" r="7.1" fill="#a3a3a3" stroke="#2c2c2c" stroke-width="2.2"/>
<circle cx="742.8" cy="1514.8" r="7.1" fill="#a3a3a3" stroke="#2c2c2c" stroke-width="2.2"/>
<circle cx="726.7" cy="1524.6" r="7.1" fill="#a3a3a3" stroke="#2c2c2c" stroke-width="2.2"/>
<line x1="246.6" y1="99.0" x2="246.6" y2="92.0" stroke="#000" stroke-width="3.2" stroke-linecap="round"/>
<line x1="246.6" y1="99.0" x2="253.2" y2="96.8" stroke="#000" stroke-width="3.2" stroke-linecap="round"/>
<line x1="246.6" y1="99.0" x2="250.7" y2="104.5" stroke="#000" stroke-width="3.2" stroke-linecap="round"/>
<line x1="246.6" y1="99.0" x2="242.5" y2="104.5" stroke="#000" stroke-width="3.2" stroke-linecap="round"/>
<line x1="246.6" y1="99.0" x2="240.0" y2="96.8" stroke="#000" stroke-width="3.2" stroke-linecap="round"/>
<line x1="297.1" y1="95.3" x2="297.1" y2="88.4" stroke="#000" stroke-width="3.2" stroke-linecap="round"/>
<line x1="297.1" y1="95.3" x2="303.7" y2="93.2" stroke="#000" stroke-width="3.2" stroke-linecap="round"/>
<line x1="297.1" y1="95.3" x2="301.2" y2="100.9" stroke="#000" stroke-width="3.2" stroke-linecap="round"/>
<line x1="297.1" y1="95.3" x2="293.0" y2="100.9" stroke="#000" stroke-width="3.2" stroke-linecap="round"/>
<line x1="297.1" y1="95.3" x2="290.5" y2="93.2" stroke="#000" stroke-width="3.2" stroke-linecap="round"/>
<line x1="318.3" y1="95.3" x2="318.3" y2="88.4" stroke="#000" stroke-width="3.2" stroke-linecap="round"/>
<line x1="318.3" y1="95.3" x2="324.9" y2="93.2" stroke="#000" stroke-width="3.2" stroke-linecap="round"/>
<line x1="318.3" y1="95.3" x2="322.4" y2="100.9" stroke="#000" stroke-width="3.2" stroke-linecap="round"/>
<line x1="318.3" y1="95.3" x2="314.2" y2="100.9" stroke="#000" stroke-width="3.2" stroke-linecap="round"/>
<line x1="318.3" y1="95.3" x2="311.7" y2="93.2" stroke="#000" stroke-width="3.2" stroke-linecap="round"/>
<line x1="306.6" y1="24.6" x2="306.6" y2="61.8" stroke="#000" stroke-width="3.3" stroke-linecap="butt"/>
<line x1="297.0" y1="33.7" x2="316.5" y2="33.7" stroke="#000" stroke-width="3.3" stroke-linecap="butt"/>
<line x1="305.3" y1="661.8" x2="305.3" y2="654.9" stroke="#000" stroke-width="3.2" stroke-linecap="round"/>
<line x1="305.3" y1="661.8" x2="311.9" y2="659.6" stroke="#000" stroke-width="3.2" stroke-linecap="round"/>
<line x1="305.3" y1="661.8" x2="309.4" y2="667.3" stroke="#000" stroke-width="3.2" stroke-linecap="round"/>
<line x1="305.3" y1="661.8" x2="301.2" y2="667.3" stroke="#000" stroke-width="3.2" stroke-linecap="round"/>
<line x1="305.3" y1="661.8" x2="298.7" y2="659.6" stroke="#000" stroke-width="3.2" stroke-linecap="round"/>
<line x1="295.7" y1="595.3" x2="295.7" y2="632.5" stroke="#000" stroke-width="3.3" stroke-linecap="butt"/>
<line x1="285.9" y1="604.0" x2="304.9" y2="604.0" stroke="#000" stroke-width="3.3" stroke-linecap="butt"/>
<line x1="317.7" y1="595.3" x2="317.7" y2="632.5" stroke="#000" stroke-width="3.3" stroke-linecap="butt"/>
<line x1="308.0" y1="604.0" x2="327.5" y2="604.0" stroke="#000" stroke-width="3.3" stroke-linecap="butt"/>
<line x1="305.8" y1="1388.8" x2="305.8" y2="1381.8" stroke="#000" stroke-width="3.2" stroke-linecap="round"/>
<line x1="305.8" y1="1388.8" x2="312.4" y2="1386.6" stroke="#000" stroke-width="3.2" stroke-linecap="round"/>
<line x1="305.8" y1="1388.8" x2="309.9" y2="1394.3" stroke="#000" stroke-width="3.2" stroke-linecap="round"/>
<line x1="305.8" y1="1388.8" x2="301.7" y2="1394.3" stroke="#000" stroke-width="3.2" stroke-linecap="round"/>
<line x1="305.8" y1="1388.8" x2="299.2" y2="1386.6" stroke="#000" stroke-width="3.2" stroke-linecap="round"/>
<line x1="294.2" y1="1322.0" x2="294.2" y2="1359.2" stroke="#000" stroke-width="3.3" stroke-linecap="butt"/>
<line x1="284.2" y1="1331.0" x2="304.1" y2="1331.0" stroke="#000" stroke-width="3.3" stroke-linecap="butt"/>
<line x1="316.1" y1="1322.0" x2="316.1" y2="1359.2" stroke="#000" stroke-width="3.3" stroke-linecap="butt"/>
<line x1="306.1" y1="1331.0" x2="326.0" y2="1331.0" stroke="#000" stroke-width="3.3" stroke-linecap="butt"/>
<g filter="url(#soft)">
<path d="M578.6 821.0h2.5v2.5h-2.5zM576.3 802.2h2.5v2.5h-2.5zM538.4 835.5h2.5v2.5h-2.5zM588.0 813.7h2.5v2.5h-2.5zM594.1 816.4h2.5v2.5h-2.5zM588.2 846.5h2.5v2.5h-2.5zM568.9 820.6h2.5v2.5h-2.5zM578.9 815.0h2.5v2.5h-2.5zM591.9 814.3h2.5v2.5h-2.5zM574.5 803.6h2.5v2.5h-2.5zM578.9 812.3h2.5v2.5h-2.5zM536.7 833.7h2.5v2.5h-2.5zM582.8 803.4h2.5v2.5h-2.5zM558.8 818.2h2.5v2.5h-2.5zM558.4 829.7h2.5v2.5h-2.5zM562.3 817.7h2.5v2.5h-2.5zM592.4 816.1h2.5v2.5h-2.5zM591.5 814.7h2.5v2.5h-2.5zM595.7 817.2h2.5v2.5h-2.5zM569.7 816.3h2.5v2.5h-2.5zM579.1 828.0h2.5v2.5h-2.5zM575.6 819.1h2.5v2.5h-2.5zM579.2 816.6h2.5v2.5h-2.5zM580.1 829.0h2.5v2.5h-2.5zM576.3 807.1h2.5v2.5h-2.5zM563.6 826.9h2.5v2.5h-2.5zM583.3 817.7h2.5v2.5h-2.5zM574.9 826.0h2.5v2.5h-2.5zM580.7 808.5h2.5v2.5h-2.5zM566.8 819.2h2.5v2.5h-2.5zM574.5 804.5h2.5v2.5h-2.5zM567.0 815.1h2.5v2.5h-2.5zM570.3 827.4h2.5v2.5h-2.5zM608.7 836.8h2.5v2.5h-2.5zM563.6 821.9h2.5v2.5h-2.5zM574.0 830.7h2.5v2.5h-2.5zM576.7 801.2h2.5v2.5h-2.5zM585.7 864.4h2.5v2.5h-2.5zM575.4 808.2h2.5v2.5h-2.5zM581.3 809.7h2.5v2.5h-2.5zM569.9 828.5h2.5v2.5h-2.5zM609.9 854.8h2.5v2.5h-2.5zM580.4 827.2h2.5v2.5h-2.5zM561.6 829.0h2.5v2.5h-2.5zM604.1 833.4h2.5v2.5h-2.5zM598.0 830.1h2.5v2.5h-2.5zM575.4 843.4h2.5v2.5h-2.5zM568.9 807.7h2.5v2.5h-2.5zM613.0 829.2h2.5v2.5h-2.5zM562.0 815.6h2.5v2.5h-2.5zM587.0 807.8h2.5v2.5h-2.5zM586.9 825.3h2.5v2.5h-2.5zM574.8 804.3h2.5v2.5h-2.5zM605.3 840.8h2.5v2.5h-2.5zM581.3 848.7h2.5v2.5h-2.5zM594.0 831.1h2.5v2.5h-2.5zM580.4 808.8h2.5v2.5h-2.5zM570.5 827.8h2.5v2.5h-2.5zM590.7 815.4h2.5v2.5h-2.5zM563.7 842.5h2.5v2.5h-2.5zM560.7 820.1h2.5v2.5h-2.5zM570.8 827.8h2.5v2.5h-2.5zM552.8 818.4h2.5v2.5h-2.5zM589.2 808.8h2.5v2.5h-2.5zM563.6 826.4h2.5v2.5h-2.5zM535.6 830.3h2.5v2.5h-2.5zM603.8 820.5h2.5v2.5h-2.5zM587.6 809.3h2.5v2.5h-2.5zM587.2 829.7h2.5v2.5h-2.5zM553.5 818.6h2.5v2.5h-2.5zM588.2 818.7h2.5v2.5h-2.5zM582.0 829.4h2.5v2.5h-2.5zM583.0 836.6h2.5v2.5h-2.5zM561.6 826.0h2.5v2.5h-2.5zM581.3 804.0h2.5v2.5h-2.5zM574.0 810.2h2.5v2.5h-2.5zM562.9 825.9h2.5v2.5h-2.5zM577.1 814.4h2.5v2.5h-2.5zM569.6 809.6h2.5v2.5h-2.5zM557.1 823.0h2.5v2.5h-2.5zM567.2 809.8h2.5v2.5h-2.5zM573.2 824.5h2.5v2.5h-2.5zM588.6 823.1h2.5v2.5h-2.5zM573.7 829.3h2.5v2.5h-2.5zM586.6 811.7h2.5v2.5h-2.5zM593.6 813.4h2.5v2.5h-2.5zM576.1 824.6h2.5v2.5h-2.5zM594.7 821.9h2.5v2.5h-2.5zM597.6 833.0h2.5v2.5h-2.5zM585.4 811.3h2.5v2.5h-2.5zM564.6 807.8h2.5v2.5h-2.5zM552.7 820.2h2.5v2.5h-2.5zM566.2 805.5h2.5v2.5h-2.5zM545.7 831.7h2.5v2.5h-2.5z" fill="#46b04a"/>
<path d="M613.1 808.7h2.5v2.5h-2.5zM529.7 798.2h2.5v2.5h-2.5zM589.8 799.8h2.5v2.5h-2.5zM555.1 792.3h2.5v2.5h-2.5zM601.1 791.6h2.5v2.5h-2.5zM587.8 796.8h2.5v2.5h-2.5zM606.3 800.5h2.5v2.5h-2.5zM560.5 806.2h2.5v2.5h-2.5zM581.0 794.2h2.5v2.5h-2.5zM543.7 801.7h2.5v2.5h-2.5zM584.1 796.7h2.5v2.5h-2.5zM617.1 822.8h2.5v2.5h-2.5zM531.5 827.7h2.5v2.5h-2.5zM585.8 811.2h2.5v2.5h-2.5zM609.1 821.0h2.5v2.5h-2.5zM612.4 795.5h2.5v2.5h-2.5zM612.2 821.1h2.5v2.5h-2.5zM612.1 819.7h2.5v2.5h-2.5zM604.2 796.7h2.5v2.5h-2.5zM563.5 810.6h2.5v2.5h-2.5zM575.9 801.5h2.5v2.5h-2.5zM630.0 784.8h2.5v2.5h-2.5zM625.4 818.9h2.5v2.5h-2.5zM591.8 819.8h2.5v2.5h-2.5zM587.8 796.9h2.5v2.5h-2.5zM572.6 809.9h2.5v2.5h-2.5zM549.9 843.7h2.5v2.5h-2.5zM589.9 816.3h2.5v2.5h-2.5zM621.1 795.6h2.5v2.5h-2.5zM606.1 789.7h2.5v2.5h-2.5zM602.2 804.8h2.5v2.5h-2.5zM598.6 823.3h2.5v2.5h-2.5zM593.6 796.8h2.5v2.5h-2.5zM587.3 803.0h2.5v2.5h-2.5zM617.9 781.2h2.5v2.5h-2.5zM590.0 799.6h2.5v2.5h-2.5zM585.4 816.8h2.5v2.5h-2.5zM559.3 823.5h2.5v2.5h-2.5zM564.4 815.6h2.5v2.5h-2.5zM548.0 818.4h2.5v2.5h-2.5zM588.1 798.8h2.5v2.5h-2.5zM576.8 809.2h2.5v2.5h-2.5zM573.2 808.7h2.5v2.5h-2.5zM589.1 794.0h2.5v2.5h-2.5zM578.5 807.2h2.5v2.5h-2.5zM602.8 801.6h2.5v2.5h-2.5zM563.1 801.2h2.5v2.5h-2.5zM558.3 789.9h2.5v2.5h-2.5zM584.4 794.0h2.5v2.5h-2.5zM619.4 819.5h2.5v2.5h-2.5zM565.0 811.7h2.5v2.5h-2.5zM572.3 801.6h2.5v2.5h-2.5zM625.1 781.5h2.5v2.5h-2.5zM620.1 771.9h2.5v2.5h-2.5zM576.1 800.8h2.5v2.5h-2.5zM537.7 811.1h2.5v2.5h-2.5zM603.6 779.4h2.5v2.5h-2.5zM607.9 814.3h2.5v2.5h-2.5zM537.3 796.1h2.5v2.5h-2.5zM557.4 789.8h2.5v2.5h-2.5zM606.9 794.8h2.5v2.5h-2.5zM577.1 825.6h2.5v2.5h-2.5zM553.0 792.1h2.5v2.5h-2.5zM586.6 801.1h2.5v2.5h-2.5zM605.8 800.5h2.5v2.5h-2.5zM542.5 807.0h2.5v2.5h-2.5zM563.2 853.6h2.5v2.5h-2.5zM605.8 818.8h2.5v2.5h-2.5zM612.2 787.8h2.5v2.5h-2.5zM621.9 798.0h2.5v2.5h-2.5zM597.7 807.4h2.5v2.5h-2.5zM534.6 803.6h2.5v2.5h-2.5zM617.2 791.8h2.5v2.5h-2.5zM581.6 798.6h2.5v2.5h-2.5zM585.7 797.8h2.5v2.5h-2.5zM609.2 817.4h2.5v2.5h-2.5zM517.6 756.9h2.5v2.5h-2.5zM599.7 790.6h2.5v2.5h-2.5zM570.6 830.5h2.5v2.5h-2.5zM567.4 813.6h2.5v2.5h-2.5zM621.0 825.9h2.5v2.5h-2.5zM599.6 815.1h2.5v2.5h-2.5zM595.3 786.8h2.5v2.5h-2.5zM630.7 787.7h2.5v2.5h-2.5zM616.5 824.1h2.5v2.5h-2.5zM595.2 807.8h2.5v2.5h-2.5zM613.9 789.3h2.5v2.5h-2.5zM597.1 789.4h2.5v2.5h-2.5zM569.2 813.4h2.5v2.5h-2.5zM571.0 826.1h2.5v2.5h-2.5zM529.2 777.5h2.5v2.5h-2.5zM546.5 781.3h2.5v2.5h-2.5zM556.0 792.2h2.5v2.5h-2.5zM610.0 772.8h2.5v2.5h-2.5zM541.8 774.7h2.5v2.5h-2.5zM523.1 778.2h2.5v2.5h-2.5zM568.6 809.3h2.5v2.5h-2.5zM596.0 801.8h2.5v2.5h-2.5zM595.3 798.1h2.5v2.5h-2.5zM574.0 797.5h2.5v2.5h-2.5zM633.5 835.1h2.5v2.5h-2.5zM614.4 776.0h2.5v2.5h-2.5zM593.1 838.7h2.5v2.5h-2.5zM614.6 782.9h2.5v2.5h-2.5zM633.7 769.6h2.5v2.5h-2.5zM543.5 827.6h2.5v2.5h-2.5zM618.8 786.3h2.5v2.5h-2.5zM565.8 829.5h2.5v2.5h-2.5zM612.3 803.9h2.5v2.5h-2.5zM521.4 793.2h2.5v2.5h-2.5zM615.0 809.3h2.5v2.5h-2.5zM609.4 794.8h2.5v2.5h-2.5zM615.6 827.3h2.5v2.5h-2.5zM552.8 789.2h2.5v2.5h-2.5zM633.8 796.3h2.5v2.5h-2.5zM584.2 792.5h2.5v2.5h-2.5zM591.0 802.9h2.5v2.5h-2.5zM508.0 814.9h2.5v2.5h-2.5zM571.0 800.3h2.5v2.5h-2.5zM551.9 820.1h2.5v2.5h-2.5zM614.9 812.0h2.5v2.5h-2.5zM563.9 804.4h2.5v2.5h-2.5zM618.5 815.6h2.5v2.5h-2.5zM571.9 807.6h2.5v2.5h-2.5zM573.5 821.7h2.5v2.5h-2.5zM575.3 817.6h2.5v2.5h-2.5zM625.7 834.1h2.5v2.5h-2.5zM597.7 807.8h2.5v2.5h-2.5zM653.3 783.8h2.5v2.5h-2.5zM583.7 804.6h2.5v2.5h-2.5zM615.7 796.5h2.5v2.5h-2.5zM628.7 777.5h2.5v2.5h-2.5zM569.2 816.8h2.5v2.5h-2.5zM621.7 816.6h2.5v2.5h-2.5zM602.7 798.2h2.5v2.5h-2.5zM569.4 820.3h2.5v2.5h-2.5zM599.8 809.7h2.5v2.5h-2.5zM593.3 786.4h2.5v2.5h-2.5zM527.9 795.0h2.5v2.5h-2.5zM533.9 772.2h2.5v2.5h-2.5zM591.2 796.2h2.5v2.5h-2.5zM618.6 781.6h2.5v2.5h-2.5zM563.9 812.0h2.5v2.5h-2.5zM628.1 804.4h2.5v2.5h-2.5zM622.8 799.9h2.5v2.5h-2.5zM539.8 801.0h2.5v2.5h-2.5zM641.6 801.4h2.5v2.5h-2.5zM563.3 807.5h2.5v2.5h-2.5zM590.2 814.6h2.5v2.5h-2.5zM600.4 786.3h2.5v2.5h-2.5zM565.9 810.1h2.5v2.5h-2.5zM548.9 818.0h2.5v2.5h-2.5zM631.4 836.4h2.5v2.5h-2.5zM624.3 805.6h2.5v2.5h-2.5zM579.5 811.9h2.5v2.5h-2.5zM576.5 813.4h2.5v2.5h-2.5zM586.0 811.4h2.5v2.5h-2.5zM575.8 809.0h2.5v2.5h-2.5zM595.3 801.8h2.5v2.5h-2.5zM574.8 809.2h2.5v2.5h-2.5zM626.1 774.8h2.5v2.5h-2.5zM605.9 793.9h2.5v2.5h-2.5zM540.5 813.3h2.5v2.5h-2.5zM531.4 806.6h2.5v2.5h-2.5zM566.4 811.4h2.5v2.5h-2.5zM564.1 798.9h2.5v2.5h-2.5zM597.4 812.9h2.5v2.5h-2.5zM530.5 820.8h2.5v2.5h-2.5zM618.8 803.9h2.5v2.5h-2.5zM552.4 825.1h2.5v2.5h-2.5zM602.8 823.1h2.5v2.5h-2.5zM610.8 783.0h2.5v2.5h-2.5zM556.5 812.3h2.5v2.5h-2.5zM561.7 796.8h2.5v2.5h-2.5zM595.1 811.4h2.5v2.5h-2.5zM589.5 799.0h2.5v2.5h-2.5zM568.5 826.2h2.5v2.5h-2.5zM592.6 793.9h2.5v2.5h-2.5zM498.3 778.4h2.5v2.5h-2.5zM596.5 798.2h2.5v2.5h-2.5zM547.7 806.6h2.5v2.5h-2.5zM624.1 797.7h2.5v2.5h-2.5zM587.2 793.5h2.5v2.5h-2.5zM595.1 819.5h2.5v2.5h-2.5zM622.1 781.7h2.5v2.5h-2.5zM560.1 796.3h2.5v2.5h-2.5zM563.8 797.4h2.5v2.5h-2.5zM565.9 795.8h2.5v2.5h-2.5zM609.4 827.5h2.5v2.5h-2.5zM599.2 792.7h2.5v2.5h-2.5zM583.7 802.7h2.5v2.5h-2.5zM586.7 800.2h2.5v2.5h-2.5zM583.7 793.0h2.5v2.5h-2.5zM615.8 808.7h2.5v2.5h-2.5zM608.0 806.8h2.5v2.5h-2.5zM549.5 817.6h2.5v2.5h-2.5zM594.1 800.1h2.5v2.5h-2.5zM575.3 810.9h2.5v2.5h-2.5zM590.9 807.8h2.5v2.5h-2.5zM564.8 791.0h2.5v2.5h-2.5zM596.1 799.0h2.5v2.5h-2.5zM583.0 798.0h2.5v2.5h-2.5zM542.9 834.9h2.5v2.5h-2.5zM574.1 830.3h2.5v2.5h-2.5zM559.6 812.0h2.5v2.5h-2.5zM592.0 792.4h2.5v2.5h-2.5zM541.9 812.6h2.5v2.5h-2.5zM551.6 792.3h2.5v2.5h-2.5zM556.0 815.5h2.5v2.5h-2.5zM577.9 819.2h2.5v2.5h-2.5zM656.6 798.3h2.5v2.5h-2.5zM523.3 764.7h2.5v2.5h-2.5zM589.5 799.7h2.5v2.5h-2.5zM566.8 823.1h2.5v2.5h-2.5zM616.8 779.3h2.5v2.5h-2.5zM525.0 810.9h2.5v2.5h-2.5zM553.2 798.9h2.5v2.5h-2.5zM630.5 793.6h2.5v2.5h-2.5zM580.5 798.5h2.5v2.5h-2.5zM545.6 816.7h2.5v2.5h-2.5zM543.6 798.8h2.5v2.5h-2.5zM572.3 814.0h2.5v2.5h-2.5zM543.4 783.3h2.5v2.5h-2.5zM602.1 796.4h2.5v2.5h-2.5zM599.2 794.6h2.5v2.5h-2.5zM610.7 786.7h2.5v2.5h-2.5zM529.8 763.7h2.5v2.5h-2.5zM617.8 782.7h2.5v2.5h-2.5zM605.3 783.3h2.5v2.5h-2.5zM610.6 793.8h2.5v2.5h-2.5zM615.7 796.1h2.5v2.5h-2.5zM539.1 771.0h2.5v2.5h-2.5zM606.2 801.6h2.5v2.5h-2.5zM606.5 802.2h2.5v2.5h-2.5zM627.5 785.1h2.5v2.5h-2.5zM603.3 825.5h2.5v2.5h-2.5zM581.9 827.7h2.5v2.5h-2.5zM618.8 800.8h2.5v2.5h-2.5zM567.4 818.8h2.5v2.5h-2.5zM611.2 775.0h2.5v2.5h-2.5zM586.3 820.7h2.5v2.5h-2.5zM558.7 788.6h2.5v2.5h-2.5zM541.0 806.2h2.5v2.5h-2.5zM607.9 797.3h2.5v2.5h-2.5zM623.6 793.9h2.5v2.5h-2.5zM617.5 817.0h2.5v2.5h-2.5zM614.0 820.3h2.5v2.5h-2.5zM601.5 785.0h2.5v2.5h-2.5zM568.9 806.4h2.5v2.5h-2.5zM583.0 823.4h2.5v2.5h-2.5zM577.0 811.7h2.5v2.5h-2.5zM564.5 824.3h2.5v2.5h-2.5zM574.7 802.6h2.5v2.5h-2.5zM591.3 801.3h2.5v2.5h-2.5zM532.7 818.8h2.5v2.5h-2.5zM589.8 789.7h2.5v2.5h-2.5zM569.3 813.2h2.5v2.5h-2.5zM601.8 782.0h2.5v2.5h-2.5zM514.6 830.6h2.5v2.5h-2.5zM590.0 820.4h2.5v2.5h-2.5zM597.8 805.5h2.5v2.5h-2.5zM558.7 806.5h2.5v2.5h-2.5zM624.6 812.1h2.5v2.5h-2.5zM589.8 795.5h2.5v2.5h-2.5zM605.5 809.2h2.5v2.5h-2.5zM606.8 813.5h2.5v2.5h-2.5zM607.1 786.7h2.5v2.5h-2.5zM595.6 801.5h2.5v2.5h-2.5zM585.1 795.5h2.5v2.5h-2.5zM619.4 790.4h2.5v2.5h-2.5zM627.6 793.4h2.5v2.5h-2.5zM561.2 797.4h2.5v2.5h-2.5zM573.1 820.3h2.5v2.5h-2.5zM512.9 818.1h2.5v2.5h-2.5zM550.9 840.1h2.5v2.5h-2.5zM568.6 796.2h2.5v2.5h-2.5zM574.4 799.9h2.5v2.5h-2.5zM524.7 794.0h2.5v2.5h-2.5zM526.9 793.1h2.5v2.5h-2.5zM539.3 803.2h2.5v2.5h-2.5zM585.7 791.0h2.5v2.5h-2.5zM582.4 805.6h2.5v2.5h-2.5zM578.8 799.3h2.5v2.5h-2.5zM594.9 788.8h2.5v2.5h-2.5zM564.4 838.5h2.5v2.5h-2.5zM590.1 788.1h2.5v2.5h-2.5zM585.2 815.1h2.5v2.5h-2.5zM608.5 800.0h2.5v2.5h-2.5zM616.1 810.4h2.5v2.5h-2.5zM598.3 786.0h2.5v2.5h-2.5zM627.2 802.2h2.5v2.5h-2.5zM591.4 804.8h2.5v2.5h-2.5zM581.1 804.4h2.5v2.5h-2.5zM554.9 813.2h2.5v2.5h-2.5zM592.1 804.2h2.5v2.5h-2.5zM609.8 803.8h2.5v2.5h-2.5zM624.6 804.7h2.5v2.5h-2.5zM644.1 803.5h2.5v2.5h-2.5zM585.9 802.6h2.5v2.5h-2.5zM579.0 830.1h2.5v2.5h-2.5zM617.0 780.5h2.5v2.5h-2.5zM600.1 795.2h2.5v2.5h-2.5zM601.9 812.4h2.5v2.5h-2.5zM529.2 825.5h2.5v2.5h-2.5zM580.6 796.5h2.5v2.5h-2.5zM597.3 783.4h2.5v2.5h-2.5zM581.4 810.9h2.5v2.5h-2.5zM587.4 805.1h2.5v2.5h-2.5zM611.6 820.7h2.5v2.5h-2.5zM583.5 801.3h2.5v2.5h-2.5zM569.3 822.9h2.5v2.5h-2.5zM539.9 819.6h2.5v2.5h-2.5zM535.1 769.4h2.5v2.5h-2.5zM549.4 832.4h2.5v2.5h-2.5zM627.2 800.0h2.5v2.5h-2.5zM601.8 810.6h2.5v2.5h-2.5zM654.9 817.9h2.5v2.5h-2.5zM557.6 814.6h2.5v2.5h-2.5zM602.0 785.4h2.5v2.5h-2.5zM577.6 838.6h2.5v2.5h-2.5zM580.7 801.4h2.5v2.5h-2.5zM595.5 815.8h2.5v2.5h-2.5zM628.7 796.4h2.5v2.5h-2.5zM620.2 820.9h2.5v2.5h-2.5zM611.9 790.7h2.5v2.5h-2.5zM596.0 802.5h2.5v2.5h-2.5zM551.6 836.6h2.5v2.5h-2.5zM594.6 816.7h2.5v2.5h-2.5zM568.8 803.6h2.5v2.5h-2.5zM581.6 833.1h2.5v2.5h-2.5zM557.5 795.1h2.5v2.5h-2.5zM597.3 847.4h2.5v2.5h-2.5zM581.8 795.1h2.5v2.5h-2.5zM587.0 813.8h2.5v2.5h-2.5zM607.5 800.6h2.5v2.5h-2.5zM548.4 833.9h2.5v2.5h-2.5zM585.0 796.3h2.5v2.5h-2.5zM642.4 786.8h2.5v2.5h-2.5zM606.6 832.9h2.5v2.5h-2.5zM563.0 837.9h2.5v2.5h-2.5zM577.2 817.3h2.5v2.5h-2.5zM579.1 811.3h2.5v2.5h-2.5zM580.7 796.9h2.5v2.5h-2.5zM580.3 814.8h2.5v2.5h-2.5zM618.3 804.9h2.5v2.5h-2.5zM579.7 805.1h2.5v2.5h-2.5zM599.0 807.1h2.5v2.5h-2.5zM566.2 808.9h2.5v2.5h-2.5zM536.2 799.4h2.5v2.5h-2.5zM555.1 797.1h2.5v2.5h-2.5zM572.9 801.9h2.5v2.5h-2.5zM544.6 800.7h2.5v2.5h-2.5zM558.6 803.3h2.5v2.5h-2.5zM584.1 825.5h2.5v2.5h-2.5zM570.5 821.8h2.5v2.5h-2.5zM614.6 804.6h2.5v2.5h-2.5zM587.7 795.3h2.5v2.5h-2.5zM579.2 800.0h2.5v2.5h-2.5zM625.9 815.1h2.5v2.5h-2.5zM604.7 817.3h2.5v2.5h-2.5zM567.9 801.3h2.5v2.5h-2.5zM593.5 809.1h2.5v2.5h-2.5zM601.2 796.6h2.5v2.5h-2.5zM594.8 797.1h2.5v2.5h-2.5zM562.0 798.5h2.5v2.5h-2.5zM619.2 788.5h2.5v2.5h-2.5zM583.6 819.0h2.5v2.5h-2.5zM598.0 804.2h2.5v2.5h-2.5zM615.7 791.9h2.5v2.5h-2.5zM589.5 798.3h2.5v2.5h-2.5zM603.3 791.4h2.5v2.5h-2.5zM612.2 831.5h2.5v2.5h-2.5zM620.0 800.8h2.5v2.5h-2.5zM613.2 809.0h2.5v2.5h-2.5zM559.7 806.9h2.5v2.5h-2.5zM601.8 784.6h2.5v2.5h-2.5zM579.4 808.9h2.5v2.5h-2.5zM584.1 793.7h2.5v2.5h-2.5zM604.1 817.0h2.5v2.5h-2.5zM573.4 807.9h2.5v2.5h-2.5zM553.5 791.8h2.5v2.5h-2.5zM519.2 783.2h2.5v2.5h-2.5zM604.2 785.0h2.5v2.5h-2.5zM586.6 799.8h2.5v2.5h-2.5zM555.8 813.2h2.5v2.5h-2.5zM545.2 800.4h2.5v2.5h-2.5zM607.2 823.6h2.5v2.5h-2.5zM589.3 792.4h2.5v2.5h-2.5zM600.8 798.0h2.5v2.5h-2.5zM615.1 822.6h2.5v2.5h-2.5zM586.4 808.5h2.5v2.5h-2.5zM528.6 796.8h2.5v2.5h-2.5zM578.5 824.7h2.5v2.5h-2.5zM620.7 803.3h2.5v2.5h-2.5zM588.5 813.8h2.5v2.5h-2.5zM610.7 816.1h2.5v2.5h-2.5zM533.0 781.2h2.5v2.5h-2.5zM591.5 820.1h2.5v2.5h-2.5zM529.4 790.3h2.5v2.5h-2.5zM540.7 792.0h2.5v2.5h-2.5zM545.9 822.1h2.5v2.5h-2.5z" fill="#a02040"/>
<path d="M609.6 816.9h2.5v2.5h-2.5zM592.6 798.8h2.5v2.5h-2.5zM595.4 810.1h2.5v2.5h-2.5zM599.2 792.2h2.5v2.5h-2.5zM595.6 798.3h2.5v2.5h-2.5zM586.8 802.0h2.5v2.5h-2.5zM593.4 793.4h2.5v2.5h-2.5zM606.0 782.4h2.5v2.5h-2.5zM610.4 784.6h2.5v2.5h-2.5zM592.5 810.6h2.5v2.5h-2.5zM618.8 816.0h2.5v2.5h-2.5zM632.6 819.3h2.5v2.5h-2.5zM598.9 798.3h2.5v2.5h-2.5zM586.0 803.0h2.5v2.5h-2.5zM585.3 798.5h2.5v2.5h-2.5zM598.3 796.9h2.5v2.5h-2.5zM599.2 794.5h2.5v2.5h-2.5zM589.3 794.0h2.5v2.5h-2.5zM603.4 814.9h2.5v2.5h-2.5zM595.9 809.7h2.5v2.5h-2.5zM630.4 800.8h2.5v2.5h-2.5zM590.8 796.5h2.5v2.5h-2.5zM594.3 784.6h2.5v2.5h-2.5zM599.7 787.0h2.5v2.5h-2.5zM646.4 790.5h2.5v2.5h-2.5zM593.9 799.4h2.5v2.5h-2.5zM602.0 789.3h2.5v2.5h-2.5zM600.9 809.4h2.5v2.5h-2.5zM619.6 814.8h2.5v2.5h-2.5zM625.6 795.3h2.5v2.5h-2.5zM618.4 816.1h2.5v2.5h-2.5zM610.8 775.2h2.5v2.5h-2.5zM621.7 797.1h2.5v2.5h-2.5zM613.0 803.8h2.5v2.5h-2.5zM605.1 798.6h2.5v2.5h-2.5zM596.8 793.8h2.5v2.5h-2.5zM596.9 781.9h2.5v2.5h-2.5zM614.8 808.9h2.5v2.5h-2.5zM605.6 812.0h2.5v2.5h-2.5zM599.4 801.2h2.5v2.5h-2.5zM606.4 788.7h2.5v2.5h-2.5zM605.7 816.9h2.5v2.5h-2.5zM583.9 792.8h2.5v2.5h-2.5zM610.9 823.6h2.5v2.5h-2.5zM580.6 797.4h2.5v2.5h-2.5zM620.5 817.3h2.5v2.5h-2.5zM616.8 794.3h2.5v2.5h-2.5zM611.2 772.3h2.5v2.5h-2.5zM620.1 797.2h2.5v2.5h-2.5zM636.7 794.9h2.5v2.5h-2.5zM587.9 805.9h2.5v2.5h-2.5zM604.2 804.4h2.5v2.5h-2.5zM598.7 809.2h2.5v2.5h-2.5zM631.0 791.5h2.5v2.5h-2.5zM586.2 799.7h2.5v2.5h-2.5zM612.0 782.2h2.5v2.5h-2.5zM589.5 791.6h2.5v2.5h-2.5zM579.6 798.8h2.5v2.5h-2.5zM583.4 802.2h2.5v2.5h-2.5zM613.2 771.5h2.5v2.5h-2.5zM590.9 807.9h2.5v2.5h-2.5zM602.5 813.2h2.5v2.5h-2.5zM584.6 793.3h2.5v2.5h-2.5zM608.4 799.5h2.5v2.5h-2.5zM589.7 807.7h2.5v2.5h-2.5zM590.6 797.5h2.5v2.5h-2.5zM615.9 776.4h2.5v2.5h-2.5zM607.6 807.3h2.5v2.5h-2.5zM584.3 792.0h2.5v2.5h-2.5zM610.2 776.2h2.5v2.5h-2.5zM600.3 799.1h2.5v2.5h-2.5zM597.4 811.8h2.5v2.5h-2.5zM600.4 798.8h2.5v2.5h-2.5zM604.2 794.8h2.5v2.5h-2.5zM591.8 802.2h2.5v2.5h-2.5zM613.4 801.9h2.5v2.5h-2.5zM611.0 780.5h2.5v2.5h-2.5zM597.1 791.3h2.5v2.5h-2.5zM588.5 806.7h2.5v2.5h-2.5zM605.0 779.3h2.5v2.5h-2.5zM614.1 798.2h2.5v2.5h-2.5zM617.6 796.7h2.5v2.5h-2.5zM601.8 802.9h2.5v2.5h-2.5zM585.5 794.0h2.5v2.5h-2.5zM585.5 793.4h2.5v2.5h-2.5zM611.4 818.9h2.5v2.5h-2.5zM596.2 801.3h2.5v2.5h-2.5zM614.8 801.9h2.5v2.5h-2.5zM600.8 809.8h2.5v2.5h-2.5zM621.9 797.2h2.5v2.5h-2.5zM596.6 785.3h2.5v2.5h-2.5zM600.7 787.6h2.5v2.5h-2.5zM596.0 795.5h2.5v2.5h-2.5zM633.3 817.3h2.5v2.5h-2.5zM619.3 813.0h2.5v2.5h-2.5zM584.2 801.9h2.5v2.5h-2.5zM601.0 809.9h2.5v2.5h-2.5zM605.5 798.1h2.5v2.5h-2.5zM595.8 808.3h2.5v2.5h-2.5zM597.5 793.6h2.5v2.5h-2.5zM584.1 802.1h2.5v2.5h-2.5zM594.8 809.0h2.5v2.5h-2.5zM586.3 793.7h2.5v2.5h-2.5zM594.1 802.3h2.5v2.5h-2.5zM604.2 806.6h2.5v2.5h-2.5zM593.9 786.9h2.5v2.5h-2.5zM613.6 776.8h2.5v2.5h-2.5zM608.0 785.9h2.5v2.5h-2.5zM598.1 808.9h2.5v2.5h-2.5zM621.7 811.2h2.5v2.5h-2.5zM598.2 795.3h2.5v2.5h-2.5zM614.5 786.0h2.5v2.5h-2.5zM586.9 799.5h2.5v2.5h-2.5zM586.2 797.4h2.5v2.5h-2.5zM586.9 797.6h2.5v2.5h-2.5zM600.1 781.8h2.5v2.5h-2.5zM598.9 800.8h2.5v2.5h-2.5zM618.6 814.7h2.5v2.5h-2.5zM613.7 776.3h2.5v2.5h-2.5zM587.8 791.1h2.5v2.5h-2.5zM620.5 809.4h2.5v2.5h-2.5zM603.1 781.6h2.5v2.5h-2.5zM599.9 808.4h2.5v2.5h-2.5zM604.3 788.9h2.5v2.5h-2.5zM615.8 798.0h2.5v2.5h-2.5zM623.2 803.2h2.5v2.5h-2.5zM621.3 774.1h2.5v2.5h-2.5zM589.2 792.6h2.5v2.5h-2.5zM591.2 808.7h2.5v2.5h-2.5zM586.7 792.6h2.5v2.5h-2.5zM599.0 811.1h2.5v2.5h-2.5zM603.9 799.1h2.5v2.5h-2.5zM608.1 801.0h2.5v2.5h-2.5zM585.0 796.5h2.5v2.5h-2.5zM592.6 799.5h2.5v2.5h-2.5zM585.6 794.8h2.5v2.5h-2.5zM626.6 778.5h2.5v2.5h-2.5zM591.1 797.7h2.5v2.5h-2.5zM636.9 812.8h2.5v2.5h-2.5zM617.2 814.8h2.5v2.5h-2.5zM577.0 797.8h2.5v2.5h-2.5zM604.5 800.3h2.5v2.5h-2.5zM597.6 796.9h2.5v2.5h-2.5zM612.5 798.5h2.5v2.5h-2.5zM604.7 800.2h2.5v2.5h-2.5zM589.7 805.7h2.5v2.5h-2.5zM612.1 779.5h2.5v2.5h-2.5zM621.9 827.0h2.5v2.5h-2.5zM645.7 820.6h2.5v2.5h-2.5zM631.0 793.3h2.5v2.5h-2.5zM597.2 796.9h2.5v2.5h-2.5zM615.6 820.7h2.5v2.5h-2.5zM602.0 801.4h2.5v2.5h-2.5zM599.4 790.0h2.5v2.5h-2.5zM587.3 804.2h2.5v2.5h-2.5zM623.9 766.1h2.5v2.5h-2.5zM587.9 799.5h2.5v2.5h-2.5zM608.3 793.1h2.5v2.5h-2.5zM622.6 811.9h2.5v2.5h-2.5zM586.9 798.5h2.5v2.5h-2.5zM611.2 803.1h2.5v2.5h-2.5zM597.3 789.5h2.5v2.5h-2.5zM601.8 805.1h2.5v2.5h-2.5zM609.6 809.2h2.5v2.5h-2.5zM591.4 786.2h2.5v2.5h-2.5zM606.8 796.6h2.5v2.5h-2.5zM597.9 788.2h2.5v2.5h-2.5zM607.7 805.8h2.5v2.5h-2.5zM641.3 795.9h2.5v2.5h-2.5zM601.7 807.9h2.5v2.5h-2.5zM622.5 812.0h2.5v2.5h-2.5zM618.8 786.6h2.5v2.5h-2.5zM593.1 789.7h2.5v2.5h-2.5zM600.9 792.4h2.5v2.5h-2.5zM613.7 789.9h2.5v2.5h-2.5zM583.1 795.8h2.5v2.5h-2.5zM608.5 809.4h2.5v2.5h-2.5zM613.2 782.1h2.5v2.5h-2.5zM600.3 799.2h2.5v2.5h-2.5zM614.5 793.9h2.5v2.5h-2.5zM614.5 789.8h2.5v2.5h-2.5zM600.2 807.9h2.5v2.5h-2.5zM606.5 785.0h2.5v2.5h-2.5zM590.0 796.6h2.5v2.5h-2.5zM601.2 790.9h2.5v2.5h-2.5zM583.8 800.1h2.5v2.5h-2.5zM604.0 812.0h2.5v2.5h-2.5zM598.8 799.4h2.5v2.5h-2.5zM590.4 795.8h2.5v2.5h-2.5zM609.1 811.7h2.5v2.5h-2.5zM582.6 796.4h2.5v2.5h-2.5zM607.5 804.9h2.5v2.5h-2.5zM591.6 786.6h2.5v2.5h-2.5zM608.4 817.7h2.5v2.5h-2.5zM623.9 812.4h2.5v2.5h-2.5zM597.0 800.9h2.5v2.5h-2.5zM621.9 787.7h2.5v2.5h-2.5zM610.8 788.6h2.5v2.5h-2.5zM614.1 814.3h2.5v2.5h-2.5zM599.0 806.8h2.5v2.5h-2.5zM593.3 792.8h2.5v2.5h-2.5zM591.5 790.8h2.5v2.5h-2.5zM603.2 805.8h2.5v2.5h-2.5zM578.9 795.3h2.5v2.5h-2.5zM629.8 811.3h2.5v2.5h-2.5zM627.1 787.8h2.5v2.5h-2.5zM578.6 797.1h2.5v2.5h-2.5zM610.0 796.1h2.5v2.5h-2.5zM600.7 811.6h2.5v2.5h-2.5zM623.2 803.2h2.5v2.5h-2.5zM627.9 810.9h2.5v2.5h-2.5zM610.9 787.1h2.5v2.5h-2.5zM601.0 812.0h2.5v2.5h-2.5zM614.5 772.4h2.5v2.5h-2.5zM593.8 799.6h2.5v2.5h-2.5zM610.6 785.5h2.5v2.5h-2.5zM599.3 794.4h2.5v2.5h-2.5zM627.9 825.4h2.5v2.5h-2.5zM610.3 804.6h2.5v2.5h-2.5zM581.3 793.8h2.5v2.5h-2.5zM591.6 804.1h2.5v2.5h-2.5zM614.4 818.6h2.5v2.5h-2.5zM589.3 802.9h2.5v2.5h-2.5zM651.4 804.1h2.5v2.5h-2.5zM602.9 786.2h2.5v2.5h-2.5zM590.4 801.8h2.5v2.5h-2.5zM610.8 799.5h2.5v2.5h-2.5zM623.0 796.9h2.5v2.5h-2.5zM614.5 818.4h2.5v2.5h-2.5zM612.7 810.8h2.5v2.5h-2.5zM583.3 793.5h2.5v2.5h-2.5zM599.8 812.9h2.5v2.5h-2.5zM612.2 814.5h2.5v2.5h-2.5zM613.3 798.8h2.5v2.5h-2.5zM624.6 798.3h2.5v2.5h-2.5zM594.1 800.0h2.5v2.5h-2.5zM635.9 776.7h2.5v2.5h-2.5zM604.7 813.8h2.5v2.5h-2.5zM619.6 828.3h2.5v2.5h-2.5zM586.4 790.1h2.5v2.5h-2.5zM610.7 771.4h2.5v2.5h-2.5zM595.0 790.7h2.5v2.5h-2.5zM599.9 788.0h2.5v2.5h-2.5zM594.7 797.7h2.5v2.5h-2.5zM612.4 782.4h2.5v2.5h-2.5zM594.9 791.6h2.5v2.5h-2.5zM595.8 793.0h2.5v2.5h-2.5zM586.8 797.9h2.5v2.5h-2.5zM614.3 818.3h2.5v2.5h-2.5zM589.3 805.0h2.5v2.5h-2.5zM598.8 812.3h2.5v2.5h-2.5zM639.1 769.9h2.5v2.5h-2.5zM603.7 805.1h2.5v2.5h-2.5zM597.0 790.8h2.5v2.5h-2.5zM602.4 796.3h2.5v2.5h-2.5zM602.7 777.1h2.5v2.5h-2.5zM591.4 798.8h2.5v2.5h-2.5zM595.0 802.3h2.5v2.5h-2.5zM587.3 798.6h2.5v2.5h-2.5zM590.0 794.3h2.5v2.5h-2.5zM592.8 805.0h2.5v2.5h-2.5zM637.0 766.1h2.5v2.5h-2.5zM622.9 794.8h2.5v2.5h-2.5zM624.2 826.9h2.5v2.5h-2.5zM591.1 802.1h2.5v2.5h-2.5zM627.4 793.3h2.5v2.5h-2.5zM586.5 795.8h2.5v2.5h-2.5zM631.0 787.4h2.5v2.5h-2.5zM581.2 799.9h2.5v2.5h-2.5zM597.4 804.0h2.5v2.5h-2.5zM613.6 817.5h2.5v2.5h-2.5zM607.6 790.9h2.5v2.5h-2.5zM596.0 806.3h2.5v2.5h-2.5zM599.2 801.7h2.5v2.5h-2.5zM614.2 790.5h2.5v2.5h-2.5zM600.4 793.3h2.5v2.5h-2.5zM603.8 806.6h2.5v2.5h-2.5zM585.6 798.5h2.5v2.5h-2.5zM630.3 799.5h2.5v2.5h-2.5zM608.3 794.2h2.5v2.5h-2.5zM584.1 797.4h2.5v2.5h-2.5zM590.5 802.9h2.5v2.5h-2.5zM610.0 804.4h2.5v2.5h-2.5zM582.7 801.2h2.5v2.5h-2.5zM592.8 808.9h2.5v2.5h-2.5zM590.6 806.2h2.5v2.5h-2.5zM589.1 798.5h2.5v2.5h-2.5zM599.4 805.2h2.5v2.5h-2.5zM596.2 804.2h2.5v2.5h-2.5zM599.6 797.5h2.5v2.5h-2.5zM594.8 808.5h2.5v2.5h-2.5z" fill="#3850c8"/>
<path d="M564.5 821.2h2.5v2.5h-2.5zM597.2 808.5h2.5v2.5h-2.5zM575.2 836.6h2.5v2.5h-2.5zM574.2 837.3h2.5v2.5h-2.5zM565.6 811.2h2.5v2.5h-2.5zM599.1 812.9h2.5v2.5h-2.5zM593.7 812.2h2.5v2.5h-2.5zM575.0 832.5h2.5v2.5h-2.5zM590.6 798.2h2.5v2.5h-2.5zM577.3 801.3h2.5v2.5h-2.5zM644.6 774.6h2.5v2.5h-2.5zM560.9 813.5h2.5v2.5h-2.5zM568.7 809.7h2.5v2.5h-2.5zM558.7 806.7h2.5v2.5h-2.5zM592.3 800.5h2.5v2.5h-2.5zM593.8 813.4h2.5v2.5h-2.5zM599.0 791.0h2.5v2.5h-2.5zM578.1 856.9h2.5v2.5h-2.5zM547.4 825.4h2.5v2.5h-2.5zM578.0 817.1h2.5v2.5h-2.5zM538.1 796.7h2.5v2.5h-2.5zM581.9 808.8h2.5v2.5h-2.5zM528.0 765.0h2.5v2.5h-2.5zM592.6 831.2h2.5v2.5h-2.5zM555.3 826.8h2.5v2.5h-2.5zM610.6 817.0h2.5v2.5h-2.5zM609.5 841.9h2.5v2.5h-2.5zM586.5 807.9h2.5v2.5h-2.5zM568.1 834.7h2.5v2.5h-2.5zM559.4 828.0h2.5v2.5h-2.5zM574.1 811.5h2.5v2.5h-2.5zM582.6 808.5h2.5v2.5h-2.5zM611.4 788.2h2.5v2.5h-2.5zM592.5 805.2h2.5v2.5h-2.5zM572.2 830.0h2.5v2.5h-2.5zM592.6 795.3h2.5v2.5h-2.5zM562.5 798.0h2.5v2.5h-2.5zM562.3 819.4h2.5v2.5h-2.5zM563.7 829.0h2.5v2.5h-2.5zM591.9 802.9h2.5v2.5h-2.5zM602.4 782.5h2.5v2.5h-2.5zM539.2 828.1h2.5v2.5h-2.5zM597.2 807.6h2.5v2.5h-2.5zM572.8 799.2h2.5v2.5h-2.5zM577.3 806.3h2.5v2.5h-2.5zM550.2 834.8h2.5v2.5h-2.5zM595.5 807.5h2.5v2.5h-2.5zM602.1 810.1h2.5v2.5h-2.5zM598.2 791.0h2.5v2.5h-2.5zM586.1 819.3h2.5v2.5h-2.5zM587.0 808.5h2.5v2.5h-2.5zM570.3 835.6h2.5v2.5h-2.5zM573.5 804.5h2.5v2.5h-2.5zM563.9 809.4h2.5v2.5h-2.5zM586.5 805.9h2.5v2.5h-2.5zM551.2 813.1h2.5v2.5h-2.5zM585.2 793.0h2.5v2.5h-2.5zM590.3 839.9h2.5v2.5h-2.5zM599.3 816.8h2.5v2.5h-2.5zM593.7 799.6h2.5v2.5h-2.5zM553.0 815.8h2.5v2.5h-2.5zM622.9 795.9h2.5v2.5h-2.5zM541.3 840.2h2.5v2.5h-2.5zM572.9 824.2h2.5v2.5h-2.5zM609.1 775.3h2.5v2.5h-2.5zM576.9 797.1h2.5v2.5h-2.5zM572.3 800.9h2.5v2.5h-2.5zM568.0 805.8h2.5v2.5h-2.5zM513.7 773.8h2.5v2.5h-2.5zM618.3 768.9h2.5v2.5h-2.5zM600.6 834.5h2.5v2.5h-2.5zM574.5 822.8h2.5v2.5h-2.5zM568.1 814.0h2.5v2.5h-2.5zM612.6 789.1h2.5v2.5h-2.5zM562.6 817.6h2.5v2.5h-2.5zM582.6 806.5h2.5v2.5h-2.5zM642.3 788.4h2.5v2.5h-2.5zM608.1 799.2h2.5v2.5h-2.5zM607.1 816.7h2.5v2.5h-2.5zM561.0 812.0h2.5v2.5h-2.5zM590.9 788.3h2.5v2.5h-2.5zM644.9 812.2h2.5v2.5h-2.5zM546.4 823.2h2.5v2.5h-2.5zM584.7 802.3h2.5v2.5h-2.5zM546.0 799.6h2.5v2.5h-2.5zM585.8 805.4h2.5v2.5h-2.5zM570.9 798.6h2.5v2.5h-2.5zM587.7 828.4h2.5v2.5h-2.5zM580.2 810.0h2.5v2.5h-2.5zM581.7 794.1h2.5v2.5h-2.5zM586.7 810.0h2.5v2.5h-2.5zM601.2 802.5h2.5v2.5h-2.5zM549.2 825.0h2.5v2.5h-2.5zM573.1 823.1h2.5v2.5h-2.5zM545.2 788.2h2.5v2.5h-2.5zM588.5 833.1h2.5v2.5h-2.5zM573.3 815.9h2.5v2.5h-2.5zM591.4 808.8h2.5v2.5h-2.5zM551.6 815.8h2.5v2.5h-2.5zM561.7 815.0h2.5v2.5h-2.5zM575.9 799.7h2.5v2.5h-2.5zM637.8 812.5h2.5v2.5h-2.5zM599.4 797.7h2.5v2.5h-2.5zM532.6 788.4h2.5v2.5h-2.5zM597.4 840.7h2.5v2.5h-2.5zM640.0 784.7h2.5v2.5h-2.5zM578.2 801.1h2.5v2.5h-2.5zM587.6 824.6h2.5v2.5h-2.5zM610.6 804.1h2.5v2.5h-2.5zM585.2 802.7h2.5v2.5h-2.5zM596.6 804.4h2.5v2.5h-2.5zM602.1 785.5h2.5v2.5h-2.5zM584.1 814.6h2.5v2.5h-2.5zM595.8 786.0h2.5v2.5h-2.5zM578.5 800.4h2.5v2.5h-2.5zM543.5 817.9h2.5v2.5h-2.5zM571.5 837.3h2.5v2.5h-2.5zM588.6 817.8h2.5v2.5h-2.5zM579.5 805.1h2.5v2.5h-2.5zM555.0 785.3h2.5v2.5h-2.5zM601.2 797.9h2.5v2.5h-2.5zM549.7 798.2h2.5v2.5h-2.5zM546.1 826.9h2.5v2.5h-2.5zM593.5 803.0h2.5v2.5h-2.5zM567.9 807.7h2.5v2.5h-2.5zM593.5 834.7h2.5v2.5h-2.5zM613.9 787.1h2.5v2.5h-2.5zM576.6 809.1h2.5v2.5h-2.5zM592.6 799.4h2.5v2.5h-2.5zM565.2 814.8h2.5v2.5h-2.5zM599.4 855.9h2.5v2.5h-2.5zM564.1 845.2h2.5v2.5h-2.5zM607.9 774.1h2.5v2.5h-2.5zM603.3 810.3h2.5v2.5h-2.5zM549.1 800.4h2.5v2.5h-2.5zM574.5 817.5h2.5v2.5h-2.5zM570.1 795.7h2.5v2.5h-2.5zM495.9 791.9h2.5v2.5h-2.5zM575.1 819.1h2.5v2.5h-2.5zM585.0 801.6h2.5v2.5h-2.5zM618.5 766.8h2.5v2.5h-2.5zM579.5 816.0h2.5v2.5h-2.5zM593.3 817.6h2.5v2.5h-2.5zM580.9 806.3h2.5v2.5h-2.5zM599.9 816.6h2.5v2.5h-2.5zM639.0 800.2h2.5v2.5h-2.5zM583.1 825.1h2.5v2.5h-2.5zM584.0 815.4h2.5v2.5h-2.5zM587.4 837.7h2.5v2.5h-2.5zM591.9 795.3h2.5v2.5h-2.5zM604.3 783.5h2.5v2.5h-2.5zM608.4 775.3h2.5v2.5h-2.5zM598.1 822.8h2.5v2.5h-2.5zM608.6 784.0h2.5v2.5h-2.5zM595.4 802.6h2.5v2.5h-2.5zM581.4 809.3h2.5v2.5h-2.5zM598.6 780.6h2.5v2.5h-2.5zM578.0 818.6h2.5v2.5h-2.5zM561.8 822.5h2.5v2.5h-2.5zM603.8 832.8h2.5v2.5h-2.5zM582.0 808.9h2.5v2.5h-2.5zM570.9 803.7h2.5v2.5h-2.5zM577.4 825.8h2.5v2.5h-2.5zM584.4 849.5h2.5v2.5h-2.5zM564.1 824.8h2.5v2.5h-2.5zM589.9 826.4h2.5v2.5h-2.5zM532.5 825.5h2.5v2.5h-2.5zM617.6 805.6h2.5v2.5h-2.5zM524.4 833.1h2.5v2.5h-2.5zM559.3 795.4h2.5v2.5h-2.5zM550.5 798.9h2.5v2.5h-2.5zM576.6 825.0h2.5v2.5h-2.5zM566.5 851.8h2.5v2.5h-2.5zM566.1 841.7h2.5v2.5h-2.5zM575.7 802.4h2.5v2.5h-2.5zM609.9 790.7h2.5v2.5h-2.5zM570.8 802.6h2.5v2.5h-2.5zM557.5 827.3h2.5v2.5h-2.5zM565.5 810.1h2.5v2.5h-2.5zM538.5 788.4h2.5v2.5h-2.5zM570.1 814.5h2.5v2.5h-2.5zM571.7 826.7h2.5v2.5h-2.5zM585.6 825.1h2.5v2.5h-2.5zM598.5 809.9h2.5v2.5h-2.5zM593.5 825.8h2.5v2.5h-2.5zM528.5 821.2h2.5v2.5h-2.5zM556.5 821.2h2.5v2.5h-2.5zM607.6 817.2h2.5v2.5h-2.5zM575.2 815.0h2.5v2.5h-2.5zM596.3 790.0h2.5v2.5h-2.5zM575.8 836.8h2.5v2.5h-2.5zM562.4 818.2h2.5v2.5h-2.5zM537.8 828.9h2.5v2.5h-2.5zM584.0 808.1h2.5v2.5h-2.5zM580.9 807.8h2.5v2.5h-2.5zM563.3 805.5h2.5v2.5h-2.5zM603.0 788.2h2.5v2.5h-2.5zM609.0 820.2h2.5v2.5h-2.5zM587.6 851.0h2.5v2.5h-2.5zM595.5 798.4h2.5v2.5h-2.5zM580.9 829.4h2.5v2.5h-2.5zM559.4 854.8h2.5v2.5h-2.5zM567.1 801.6h2.5v2.5h-2.5zM613.5 821.7h2.5v2.5h-2.5zM563.8 824.7h2.5v2.5h-2.5zM581.5 803.9h2.5v2.5h-2.5zM591.3 844.7h2.5v2.5h-2.5zM617.1 829.1h2.5v2.5h-2.5zM641.1 817.5h2.5v2.5h-2.5zM595.7 823.2h2.5v2.5h-2.5zM588.2 796.7h2.5v2.5h-2.5zM585.4 805.9h2.5v2.5h-2.5zM598.3 804.6h2.5v2.5h-2.5zM589.9 808.1h2.5v2.5h-2.5zM556.5 824.5h2.5v2.5h-2.5zM606.0 777.5h2.5v2.5h-2.5zM588.1 794.7h2.5v2.5h-2.5zM635.9 838.9h2.5v2.5h-2.5zM575.8 803.8h2.5v2.5h-2.5zM637.6 780.1h2.5v2.5h-2.5zM612.8 820.4h2.5v2.5h-2.5zM551.3 799.3h2.5v2.5h-2.5zM583.9 817.1h2.5v2.5h-2.5zM556.2 829.8h2.5v2.5h-2.5zM588.1 817.0h2.5v2.5h-2.5zM568.9 804.9h2.5v2.5h-2.5zM567.0 791.8h2.5v2.5h-2.5zM574.3 817.8h2.5v2.5h-2.5zM511.1 821.8h2.5v2.5h-2.5zM618.9 846.3h2.5v2.5h-2.5zM562.7 795.8h2.5v2.5h-2.5zM577.1 828.2h2.5v2.5h-2.5zM564.4 805.0h2.5v2.5h-2.5zM576.0 811.0h2.5v2.5h-2.5zM583.1 809.7h2.5v2.5h-2.5zM613.2 787.8h2.5v2.5h-2.5zM540.6 806.2h2.5v2.5h-2.5zM596.4 793.3h2.5v2.5h-2.5zM639.0 782.7h2.5v2.5h-2.5zM596.4 792.1h2.5v2.5h-2.5zM566.0 824.2h2.5v2.5h-2.5zM602.7 781.3h2.5v2.5h-2.5zM562.4 827.5h2.5v2.5h-2.5zM650.0 810.3h2.5v2.5h-2.5zM529.8 836.1h2.5v2.5h-2.5zM603.5 791.6h2.5v2.5h-2.5zM585.8 814.4h2.5v2.5h-2.5zM578.7 809.4h2.5v2.5h-2.5zM616.9 771.4h2.5v2.5h-2.5zM544.3 788.3h2.5v2.5h-2.5zM629.2 822.2h2.5v2.5h-2.5zM655.2 784.5h2.5v2.5h-2.5zM606.7 794.1h2.5v2.5h-2.5zM593.1 791.1h2.5v2.5h-2.5zM577.5 831.3h2.5v2.5h-2.5zM598.5 817.9h2.5v2.5h-2.5zM592.2 797.1h2.5v2.5h-2.5zM580.1 803.3h2.5v2.5h-2.5zM607.3 818.8h2.5v2.5h-2.5zM596.2 782.4h2.5v2.5h-2.5zM608.9 780.5h2.5v2.5h-2.5zM575.6 806.2h2.5v2.5h-2.5zM586.0 791.0h2.5v2.5h-2.5zM621.0 799.7h2.5v2.5h-2.5zM621.2 803.8h2.5v2.5h-2.5zM581.6 818.6h2.5v2.5h-2.5zM598.7 813.9h2.5v2.5h-2.5zM569.7 851.2h2.5v2.5h-2.5zM558.0 816.2h2.5v2.5h-2.5zM550.3 822.2h2.5v2.5h-2.5zM565.7 806.8h2.5v2.5h-2.5zM556.1 803.0h2.5v2.5h-2.5zM578.7 795.5h2.5v2.5h-2.5zM589.9 813.9h2.5v2.5h-2.5zM641.6 811.9h2.5v2.5h-2.5zM579.0 815.8h2.5v2.5h-2.5zM586.0 816.3h2.5v2.5h-2.5zM607.3 821.0h2.5v2.5h-2.5zM577.7 814.2h2.5v2.5h-2.5zM581.9 810.1h2.5v2.5h-2.5zM603.0 815.4h2.5v2.5h-2.5zM582.7 814.5h2.5v2.5h-2.5zM586.9 790.8h2.5v2.5h-2.5zM625.6 811.2h2.5v2.5h-2.5zM586.5 815.5h2.5v2.5h-2.5zM561.0 810.3h2.5v2.5h-2.5zM546.2 840.0h2.5v2.5h-2.5zM611.9 813.1h2.5v2.5h-2.5zM541.5 815.2h2.5v2.5h-2.5zM571.2 807.2h2.5v2.5h-2.5zM557.2 787.2h2.5v2.5h-2.5zM573.3 801.1h2.5v2.5h-2.5zM612.0 828.6h2.5v2.5h-2.5zM567.2 820.2h2.5v2.5h-2.5zM610.3 790.9h2.5v2.5h-2.5zM580.4 841.0h2.5v2.5h-2.5zM585.2 843.1h2.5v2.5h-2.5zM572.1 823.3h2.5v2.5h-2.5zM594.8 809.9h2.5v2.5h-2.5zM621.6 763.2h2.5v2.5h-2.5zM604.6 819.6h2.5v2.5h-2.5zM568.1 815.8h2.5v2.5h-2.5zM613.5 812.5h2.5v2.5h-2.5zM628.1 797.3h2.5v2.5h-2.5zM605.5 780.9h2.5v2.5h-2.5zM566.3 805.0h2.5v2.5h-2.5zM607.1 777.9h2.5v2.5h-2.5zM630.5 791.9h2.5v2.5h-2.5zM600.3 822.7h2.5v2.5h-2.5zM557.7 840.9h2.5v2.5h-2.5zM558.0 833.3h2.5v2.5h-2.5zM594.9 791.4h2.5v2.5h-2.5zM554.3 784.7h2.5v2.5h-2.5zM580.5 819.4h2.5v2.5h-2.5zM589.2 822.0h2.5v2.5h-2.5zM585.6 823.3h2.5v2.5h-2.5zM539.9 832.7h2.5v2.5h-2.5zM587.2 822.8h2.5v2.5h-2.5zM571.0 822.3h2.5v2.5h-2.5zM547.9 782.1h2.5v2.5h-2.5zM561.3 842.4h2.5v2.5h-2.5zM604.3 835.0h2.5v2.5h-2.5zM609.3 789.7h2.5v2.5h-2.5zM589.4 810.3h2.5v2.5h-2.5zM567.2 808.8h2.5v2.5h-2.5zM579.5 799.6h2.5v2.5h-2.5zM574.3 800.2h2.5v2.5h-2.5zM586.9 857.0h2.5v2.5h-2.5zM617.9 833.7h2.5v2.5h-2.5zM569.6 823.5h2.5v2.5h-2.5zM586.6 806.8h2.5v2.5h-2.5zM588.0 851.9h2.5v2.5h-2.5zM527.8 821.3h2.5v2.5h-2.5zM574.4 829.7h2.5v2.5h-2.5zM571.4 826.3h2.5v2.5h-2.5zM614.7 796.0h2.5v2.5h-2.5zM606.8 807.7h2.5v2.5h-2.5zM571.2 813.4h2.5v2.5h-2.5zM612.4 818.5h2.5v2.5h-2.5zM502.3 828.2h2.5v2.5h-2.5zM584.2 799.3h2.5v2.5h-2.5zM632.0 781.6h2.5v2.5h-2.5zM583.2 806.5h2.5v2.5h-2.5zM616.3 795.5h2.5v2.5h-2.5zM551.9 816.2h2.5v2.5h-2.5zM608.7 775.3h2.5v2.5h-2.5zM575.8 807.5h2.5v2.5h-2.5zM540.5 812.8h2.5v2.5h-2.5zM589.4 807.6h2.5v2.5h-2.5zM571.9 819.0h2.5v2.5h-2.5zM590.9 808.5h2.5v2.5h-2.5zM603.2 801.6h2.5v2.5h-2.5zM608.3 801.9h2.5v2.5h-2.5zM593.0 811.4h2.5v2.5h-2.5zM628.7 813.5h2.5v2.5h-2.5zM575.2 808.9h2.5v2.5h-2.5z" fill="#35b6e6"/>
<path d="M570.0 827.9h2.5v2.5h-2.5zM564.0 820.6h2.5v2.5h-2.5zM527.8 790.1h2.5v2.5h-2.5zM532.7 794.8h2.5v2.5h-2.5zM555.0 809.7h2.5v2.5h-2.5zM575.3 802.7h2.5v2.5h-2.5zM551.6 786.7h2.5v2.5h-2.5zM536.2 783.7h2.5v2.5h-2.5zM565.1 805.3h2.5v2.5h-2.5zM565.8 795.4h2.5v2.5h-2.5zM556.4 791.7h2.5v2.5h-2.5zM592.8 828.9h2.5v2.5h-2.5zM559.6 832.4h2.5v2.5h-2.5zM565.1 797.5h2.5v2.5h-2.5zM527.7 815.5h2.5v2.5h-2.5zM558.9 804.2h2.5v2.5h-2.5zM538.7 821.1h2.5v2.5h-2.5zM549.4 798.9h2.5v2.5h-2.5zM570.9 805.6h2.5v2.5h-2.5zM572.0 799.4h2.5v2.5h-2.5zM566.9 813.6h2.5v2.5h-2.5zM605.0 824.3h2.5v2.5h-2.5zM561.6 805.4h2.5v2.5h-2.5zM546.7 809.3h2.5v2.5h-2.5zM528.3 786.0h2.5v2.5h-2.5zM559.8 786.9h2.5v2.5h-2.5zM570.4 819.7h2.5v2.5h-2.5zM560.4 791.8h2.5v2.5h-2.5zM586.5 826.8h2.5v2.5h-2.5zM547.8 818.3h2.5v2.5h-2.5zM589.7 834.9h2.5v2.5h-2.5zM582.3 813.9h2.5v2.5h-2.5zM557.8 791.4h2.5v2.5h-2.5zM505.4 806.8h2.5v2.5h-2.5zM555.0 820.3h2.5v2.5h-2.5zM538.8 819.6h2.5v2.5h-2.5zM544.8 790.2h2.5v2.5h-2.5zM558.2 801.7h2.5v2.5h-2.5zM556.6 796.2h2.5v2.5h-2.5zM564.0 820.5h2.5v2.5h-2.5zM580.8 813.0h2.5v2.5h-2.5zM540.2 816.1h2.5v2.5h-2.5zM558.2 788.8h2.5v2.5h-2.5zM570.5 819.8h2.5v2.5h-2.5zM533.2 780.7h2.5v2.5h-2.5zM569.7 795.5h2.5v2.5h-2.5zM528.7 800.8h2.5v2.5h-2.5zM545.2 817.2h2.5v2.5h-2.5zM565.7 795.3h2.5v2.5h-2.5zM554.1 801.1h2.5v2.5h-2.5zM561.9 788.9h2.5v2.5h-2.5zM592.2 811.4h2.5v2.5h-2.5zM542.9 803.7h2.5v2.5h-2.5zM546.3 779.7h2.5v2.5h-2.5zM553.9 810.7h2.5v2.5h-2.5zM548.6 792.7h2.5v2.5h-2.5zM579.2 846.4h2.5v2.5h-2.5zM573.0 797.5h2.5v2.5h-2.5zM544.5 790.9h2.5v2.5h-2.5zM590.0 821.5h2.5v2.5h-2.5zM565.0 803.9h2.5v2.5h-2.5zM532.4 830.4h2.5v2.5h-2.5zM537.7 771.2h2.5v2.5h-2.5zM548.2 807.5h2.5v2.5h-2.5zM578.2 800.0h2.5v2.5h-2.5zM580.5 803.3h2.5v2.5h-2.5zM564.8 816.3h2.5v2.5h-2.5zM562.9 803.1h2.5v2.5h-2.5zM550.3 780.3h2.5v2.5h-2.5zM531.2 811.2h2.5v2.5h-2.5zM564.4 810.3h2.5v2.5h-2.5zM560.2 789.2h2.5v2.5h-2.5zM529.8 821.2h2.5v2.5h-2.5zM557.3 791.5h2.5v2.5h-2.5zM545.1 798.7h2.5v2.5h-2.5zM547.8 811.7h2.5v2.5h-2.5zM559.4 831.2h2.5v2.5h-2.5zM591.5 813.4h2.5v2.5h-2.5zM571.2 800.6h2.5v2.5h-2.5zM538.9 789.6h2.5v2.5h-2.5zM578.3 814.2h2.5v2.5h-2.5zM547.3 780.7h2.5v2.5h-2.5zM553.1 787.3h2.5v2.5h-2.5zM553.5 813.8h2.5v2.5h-2.5zM557.1 788.4h2.5v2.5h-2.5zM553.8 788.7h2.5v2.5h-2.5zM580.4 804.9h2.5v2.5h-2.5zM567.2 804.1h2.5v2.5h-2.5zM569.3 817.7h2.5v2.5h-2.5zM573.5 811.4h2.5v2.5h-2.5zM588.1 821.7h2.5v2.5h-2.5zM492.6 789.9h2.5v2.5h-2.5zM544.6 786.4h2.5v2.5h-2.5zM547.3 797.6h2.5v2.5h-2.5zM540.5 810.5h2.5v2.5h-2.5zM522.8 778.3h2.5v2.5h-2.5zM531.1 796.0h2.5v2.5h-2.5zM536.7 809.5h2.5v2.5h-2.5zM551.4 809.6h2.5v2.5h-2.5zM573.2 802.8h2.5v2.5h-2.5zM542.3 820.8h2.5v2.5h-2.5zM578.0 801.5h2.5v2.5h-2.5zM566.6 815.7h2.5v2.5h-2.5zM572.9 800.7h2.5v2.5h-2.5zM550.8 788.8h2.5v2.5h-2.5zM565.7 800.4h2.5v2.5h-2.5zM549.0 818.8h2.5v2.5h-2.5zM555.6 813.1h2.5v2.5h-2.5zM546.7 789.6h2.5v2.5h-2.5zM568.6 835.5h2.5v2.5h-2.5zM568.1 793.3h2.5v2.5h-2.5zM547.7 803.6h2.5v2.5h-2.5zM549.5 833.8h2.5v2.5h-2.5zM538.5 823.2h2.5v2.5h-2.5zM576.6 799.7h2.5v2.5h-2.5zM590.7 838.9h2.5v2.5h-2.5zM542.9 810.9h2.5v2.5h-2.5zM577.4 848.0h2.5v2.5h-2.5zM542.4 772.7h2.5v2.5h-2.5zM615.0 847.1h2.5v2.5h-2.5zM557.6 792.2h2.5v2.5h-2.5zM572.7 797.0h2.5v2.5h-2.5zM509.2 816.2h2.5v2.5h-2.5zM565.1 801.1h2.5v2.5h-2.5zM530.5 827.7h2.5v2.5h-2.5zM523.6 788.0h2.5v2.5h-2.5zM568.7 798.8h2.5v2.5h-2.5zM560.2 795.8h2.5v2.5h-2.5zM567.6 792.9h2.5v2.5h-2.5zM570.1 831.2h2.5v2.5h-2.5zM565.6 818.3h2.5v2.5h-2.5zM604.6 823.2h2.5v2.5h-2.5zM539.5 805.2h2.5v2.5h-2.5zM528.6 772.4h2.5v2.5h-2.5zM550.6 804.5h2.5v2.5h-2.5zM565.5 808.2h2.5v2.5h-2.5zM554.5 806.2h2.5v2.5h-2.5zM537.4 816.9h2.5v2.5h-2.5zM553.7 802.6h2.5v2.5h-2.5zM555.6 803.6h2.5v2.5h-2.5zM582.3 822.1h2.5v2.5h-2.5zM583.4 830.3h2.5v2.5h-2.5zM529.9 802.6h2.5v2.5h-2.5zM566.7 794.4h2.5v2.5h-2.5zM556.4 804.5h2.5v2.5h-2.5zM540.3 790.3h2.5v2.5h-2.5zM594.9 831.5h2.5v2.5h-2.5zM553.6 795.3h2.5v2.5h-2.5zM567.4 796.8h2.5v2.5h-2.5zM547.9 798.3h2.5v2.5h-2.5zM567.1 811.6h2.5v2.5h-2.5zM561.5 803.4h2.5v2.5h-2.5zM573.1 841.4h2.5v2.5h-2.5zM537.0 807.6h2.5v2.5h-2.5zM561.1 794.9h2.5v2.5h-2.5zM546.2 793.0h2.5v2.5h-2.5zM536.5 807.5h2.5v2.5h-2.5zM545.0 812.8h2.5v2.5h-2.5zM571.3 817.2h2.5v2.5h-2.5zM553.0 797.6h2.5v2.5h-2.5zM546.8 786.2h2.5v2.5h-2.5zM535.6 769.0h2.5v2.5h-2.5zM513.1 780.8h2.5v2.5h-2.5zM559.6 790.6h2.5v2.5h-2.5zM553.1 796.1h2.5v2.5h-2.5zM560.2 807.4h2.5v2.5h-2.5zM579.2 806.2h2.5v2.5h-2.5zM502.9 817.5h2.5v2.5h-2.5zM540.6 796.5h2.5v2.5h-2.5zM576.0 811.3h2.5v2.5h-2.5zM586.5 811.9h2.5v2.5h-2.5zM547.6 810.6h2.5v2.5h-2.5zM534.8 815.3h2.5v2.5h-2.5zM544.5 787.7h2.5v2.5h-2.5zM518.2 798.4h2.5v2.5h-2.5zM552.7 787.1h2.5v2.5h-2.5zM590.0 820.7h2.5v2.5h-2.5zM504.5 808.7h2.5v2.5h-2.5zM574.1 815.8h2.5v2.5h-2.5zM572.8 798.2h2.5v2.5h-2.5zM592.6 812.1h2.5v2.5h-2.5zM577.7 808.5h2.5v2.5h-2.5zM586.1 813.3h2.5v2.5h-2.5zM549.8 799.9h2.5v2.5h-2.5zM557.3 809.4h2.5v2.5h-2.5zM552.5 810.4h2.5v2.5h-2.5zM549.5 804.9h2.5v2.5h-2.5zM572.4 804.4h2.5v2.5h-2.5zM554.2 814.3h2.5v2.5h-2.5zM537.5 819.5h2.5v2.5h-2.5zM552.8 818.8h2.5v2.5h-2.5zM538.4 793.2h2.5v2.5h-2.5zM554.2 801.3h2.5v2.5h-2.5zM570.7 799.3h2.5v2.5h-2.5zM556.3 814.0h2.5v2.5h-2.5zM566.3 828.3h2.5v2.5h-2.5zM564.8 829.6h2.5v2.5h-2.5zM587.1 821.4h2.5v2.5h-2.5zM573.8 805.0h2.5v2.5h-2.5zM554.7 797.4h2.5v2.5h-2.5zM535.4 819.0h2.5v2.5h-2.5zM546.7 814.6h2.5v2.5h-2.5zM596.3 821.7h2.5v2.5h-2.5zM540.1 801.3h2.5v2.5h-2.5zM565.9 808.0h2.5v2.5h-2.5zM562.3 838.2h2.5v2.5h-2.5zM569.8 800.6h2.5v2.5h-2.5zM545.9 822.8h2.5v2.5h-2.5zM552.0 802.1h2.5v2.5h-2.5zM544.1 784.6h2.5v2.5h-2.5zM557.0 794.7h2.5v2.5h-2.5zM562.0 803.3h2.5v2.5h-2.5zM581.4 816.4h2.5v2.5h-2.5zM565.1 801.3h2.5v2.5h-2.5zM533.4 802.1h2.5v2.5h-2.5zM533.8 798.6h2.5v2.5h-2.5zM552.8 795.6h2.5v2.5h-2.5zM540.7 803.1h2.5v2.5h-2.5zM629.9 840.3h2.5v2.5h-2.5zM560.2 804.0h2.5v2.5h-2.5zM600.9 820.7h2.5v2.5h-2.5zM549.5 793.5h2.5v2.5h-2.5zM571.4 795.1h2.5v2.5h-2.5zM566.0 793.7h2.5v2.5h-2.5zM564.0 805.2h2.5v2.5h-2.5zM556.9 807.1h2.5v2.5h-2.5zM585.6 813.7h2.5v2.5h-2.5zM541.4 785.5h2.5v2.5h-2.5zM580.4 821.8h2.5v2.5h-2.5zM569.4 797.3h2.5v2.5h-2.5zM551.1 789.3h2.5v2.5h-2.5zM560.5 793.5h2.5v2.5h-2.5zM511.9 800.4h2.5v2.5h-2.5zM525.1 819.9h2.5v2.5h-2.5zM560.7 793.0h2.5v2.5h-2.5zM576.3 817.9h2.5v2.5h-2.5zM584.5 847.7h2.5v2.5h-2.5zM547.6 799.0h2.5v2.5h-2.5zM556.3 790.0h2.5v2.5h-2.5zM517.4 818.1h2.5v2.5h-2.5zM540.7 809.3h2.5v2.5h-2.5zM510.5 798.6h2.5v2.5h-2.5zM492.4 790.5h2.5v2.5h-2.5zM600.2 825.9h2.5v2.5h-2.5zM559.7 787.6h2.5v2.5h-2.5zM582.6 818.5h2.5v2.5h-2.5zM556.5 797.2h2.5v2.5h-2.5zM577.6 845.3h2.5v2.5h-2.5zM563.2 814.4h2.5v2.5h-2.5zM538.3 770.3h2.5v2.5h-2.5zM551.4 797.7h2.5v2.5h-2.5zM574.0 798.3h2.5v2.5h-2.5zM558.8 802.8h2.5v2.5h-2.5zM597.8 840.3h2.5v2.5h-2.5zM559.5 810.7h2.5v2.5h-2.5zM515.5 806.3h2.5v2.5h-2.5zM543.2 816.3h2.5v2.5h-2.5zM498.2 807.4h2.5v2.5h-2.5zM525.2 843.5h2.5v2.5h-2.5zM556.2 786.8h2.5v2.5h-2.5zM552.8 821.8h2.5v2.5h-2.5zM552.8 798.8h2.5v2.5h-2.5zM551.5 802.8h2.5v2.5h-2.5zM560.1 787.8h2.5v2.5h-2.5zM539.5 784.0h2.5v2.5h-2.5zM560.2 788.9h2.5v2.5h-2.5zM585.0 808.5h2.5v2.5h-2.5zM537.7 808.2h2.5v2.5h-2.5zM543.7 795.8h2.5v2.5h-2.5zM551.5 805.7h2.5v2.5h-2.5zM554.4 785.5h2.5v2.5h-2.5zM562.8 817.2h2.5v2.5h-2.5zM558.8 795.7h2.5v2.5h-2.5zM543.1 828.2h2.5v2.5h-2.5zM549.8 798.7h2.5v2.5h-2.5zM543.7 805.4h2.5v2.5h-2.5zM530.5 798.2h2.5v2.5h-2.5zM550.8 784.0h2.5v2.5h-2.5zM559.1 808.0h2.5v2.5h-2.5zM539.7 815.1h2.5v2.5h-2.5zM552.5 784.2h2.5v2.5h-2.5zM548.6 807.0h2.5v2.5h-2.5zM558.7 797.5h2.5v2.5h-2.5zM587.5 823.3h2.5v2.5h-2.5zM568.2 796.7h2.5v2.5h-2.5zM553.7 784.0h2.5v2.5h-2.5zM569.8 816.4h2.5v2.5h-2.5zM559.5 785.3h2.5v2.5h-2.5zM565.8 804.6h2.5v2.5h-2.5zM567.0 810.0h2.5v2.5h-2.5zM536.1 802.0h2.5v2.5h-2.5zM563.1 791.1h2.5v2.5h-2.5zM504.1 765.3h2.5v2.5h-2.5zM598.0 820.4h2.5v2.5h-2.5zM558.9 796.0h2.5v2.5h-2.5zM530.2 792.2h2.5v2.5h-2.5zM532.2 785.0h2.5v2.5h-2.5zM545.0 817.4h2.5v2.5h-2.5zM521.1 778.2h2.5v2.5h-2.5zM504.5 847.1h2.5v2.5h-2.5zM577.3 802.2h2.5v2.5h-2.5zM564.5 800.3h2.5v2.5h-2.5zM544.7 776.1h2.5v2.5h-2.5zM530.5 808.7h2.5v2.5h-2.5zM538.8 799.7h2.5v2.5h-2.5zM596.4 835.3h2.5v2.5h-2.5zM548.1 814.3h2.5v2.5h-2.5zM537.3 806.0h2.5v2.5h-2.5zM526.4 784.8h2.5v2.5h-2.5zM558.5 820.3h2.5v2.5h-2.5zM538.8 792.5h2.5v2.5h-2.5zM570.4 794.3h2.5v2.5h-2.5zM561.3 804.2h2.5v2.5h-2.5zM552.6 822.4h2.5v2.5h-2.5zM562.1 790.5h2.5v2.5h-2.5zM587.7 810.8h2.5v2.5h-2.5zM537.8 781.3h2.5v2.5h-2.5zM542.7 788.0h2.5v2.5h-2.5zM570.2 809.4h2.5v2.5h-2.5zM561.3 800.8h2.5v2.5h-2.5zM565.8 794.9h2.5v2.5h-2.5z" fill="#e8e030"/>
<path d="M618.5 796.0h2.5v2.5h-2.5zM578.7 773.0h2.5v2.5h-2.5zM558.4 750.4h2.5v2.5h-2.5zM591.9 785.6h2.5v2.5h-2.5zM604.9 783.5h2.5v2.5h-2.5zM630.4 794.2h2.5v2.5h-2.5zM585.5 797.6h2.5v2.5h-2.5zM601.6 801.7h2.5v2.5h-2.5zM587.8 793.9h2.5v2.5h-2.5zM558.3 783.0h2.5v2.5h-2.5zM581.0 795.1h2.5v2.5h-2.5zM585.8 795.2h2.5v2.5h-2.5zM573.5 780.0h2.5v2.5h-2.5zM611.9 793.8h2.5v2.5h-2.5zM584.5 788.1h2.5v2.5h-2.5zM586.5 797.8h2.5v2.5h-2.5zM594.2 776.1h2.5v2.5h-2.5zM621.8 798.0h2.5v2.5h-2.5zM622.6 812.3h2.5v2.5h-2.5zM566.5 746.2h2.5v2.5h-2.5zM608.4 786.1h2.5v2.5h-2.5zM586.6 782.2h2.5v2.5h-2.5zM672.0 794.2h2.5v2.5h-2.5zM620.3 809.5h2.5v2.5h-2.5zM653.5 808.0h2.5v2.5h-2.5zM610.8 800.3h2.5v2.5h-2.5zM593.7 802.0h2.5v2.5h-2.5zM587.2 802.7h2.5v2.5h-2.5zM615.6 791.4h2.5v2.5h-2.5zM611.5 821.6h2.5v2.5h-2.5zM538.3 746.1h2.5v2.5h-2.5zM592.6 791.4h2.5v2.5h-2.5zM639.9 785.2h2.5v2.5h-2.5zM596.5 790.0h2.5v2.5h-2.5zM582.5 781.7h2.5v2.5h-2.5zM577.5 794.0h2.5v2.5h-2.5zM582.0 798.6h2.5v2.5h-2.5zM592.8 797.9h2.5v2.5h-2.5zM598.1 797.8h2.5v2.5h-2.5zM618.1 797.0h2.5v2.5h-2.5zM603.4 808.3h2.5v2.5h-2.5zM588.0 772.7h2.5v2.5h-2.5zM637.2 819.7h2.5v2.5h-2.5zM573.5 781.7h2.5v2.5h-2.5zM601.0 781.9h2.5v2.5h-2.5zM607.0 818.5h2.5v2.5h-2.5zM641.2 834.1h2.5v2.5h-2.5zM606.8 818.1h2.5v2.5h-2.5zM549.3 770.0h2.5v2.5h-2.5zM554.6 779.6h2.5v2.5h-2.5zM608.1 771.7h2.5v2.5h-2.5zM602.9 812.8h2.5v2.5h-2.5zM614.9 804.8h2.5v2.5h-2.5zM626.6 791.7h2.5v2.5h-2.5zM603.3 812.0h2.5v2.5h-2.5zM562.1 760.8h2.5v2.5h-2.5zM619.7 808.5h2.5v2.5h-2.5zM551.7 776.4h2.5v2.5h-2.5zM594.6 800.9h2.5v2.5h-2.5zM604.8 791.8h2.5v2.5h-2.5zM628.6 822.5h2.5v2.5h-2.5zM606.8 813.5h2.5v2.5h-2.5zM592.4 788.8h2.5v2.5h-2.5zM601.9 814.9h2.5v2.5h-2.5zM585.2 793.1h2.5v2.5h-2.5zM584.1 789.0h2.5v2.5h-2.5zM641.2 821.4h2.5v2.5h-2.5zM575.3 794.6h2.5v2.5h-2.5zM596.8 788.0h2.5v2.5h-2.5zM590.3 787.7h2.5v2.5h-2.5zM584.4 790.5h2.5v2.5h-2.5zM583.1 792.5h2.5v2.5h-2.5zM614.2 780.4h2.5v2.5h-2.5zM560.5 777.3h2.5v2.5h-2.5zM588.9 801.5h2.5v2.5h-2.5zM595.9 783.9h2.5v2.5h-2.5zM593.5 808.0h2.5v2.5h-2.5zM597.1 789.3h2.5v2.5h-2.5zM628.8 773.2h2.5v2.5h-2.5zM573.6 770.2h2.5v2.5h-2.5zM573.1 778.5h2.5v2.5h-2.5zM587.7 794.5h2.5v2.5h-2.5zM606.3 811.6h2.5v2.5h-2.5zM604.9 820.0h2.5v2.5h-2.5zM573.9 782.4h2.5v2.5h-2.5zM569.3 780.2h2.5v2.5h-2.5zM586.1 774.2h2.5v2.5h-2.5zM611.6 799.2h2.5v2.5h-2.5zM607.7 822.3h2.5v2.5h-2.5zM635.3 791.8h2.5v2.5h-2.5zM615.1 815.5h2.5v2.5h-2.5zM609.8 777.8h2.5v2.5h-2.5zM609.5 773.7h2.5v2.5h-2.5zM612.2 816.1h2.5v2.5h-2.5zM615.0 792.6h2.5v2.5h-2.5zM594.5 806.1h2.5v2.5h-2.5zM627.2 823.4h2.5v2.5h-2.5zM613.2 805.9h2.5v2.5h-2.5zM593.2 787.9h2.5v2.5h-2.5zM593.3 793.1h2.5v2.5h-2.5zM578.7 778.4h2.5v2.5h-2.5zM581.6 787.0h2.5v2.5h-2.5zM623.6 825.6h2.5v2.5h-2.5zM607.4 794.6h2.5v2.5h-2.5zM600.0 794.2h2.5v2.5h-2.5zM555.5 780.1h2.5v2.5h-2.5zM586.6 791.6h2.5v2.5h-2.5zM588.0 790.6h2.5v2.5h-2.5zM595.2 785.5h2.5v2.5h-2.5zM627.0 810.8h2.5v2.5h-2.5zM624.0 809.6h2.5v2.5h-2.5zM613.6 821.6h2.5v2.5h-2.5zM651.8 790.1h2.5v2.5h-2.5zM601.5 779.7h2.5v2.5h-2.5zM584.4 787.8h2.5v2.5h-2.5zM609.6 818.0h2.5v2.5h-2.5zM622.3 795.3h2.5v2.5h-2.5zM606.4 804.0h2.5v2.5h-2.5zM631.8 804.8h2.5v2.5h-2.5zM552.1 768.1h2.5v2.5h-2.5zM587.5 795.9h2.5v2.5h-2.5zM603.4 793.1h2.5v2.5h-2.5zM599.0 801.6h2.5v2.5h-2.5zM606.2 803.7h2.5v2.5h-2.5zM592.2 774.2h2.5v2.5h-2.5zM560.2 760.5h2.5v2.5h-2.5zM618.1 792.5h2.5v2.5h-2.5zM594.6 804.2h2.5v2.5h-2.5zM576.5 763.4h2.5v2.5h-2.5zM590.7 797.4h2.5v2.5h-2.5zM584.3 759.5h2.5v2.5h-2.5zM604.5 807.0h2.5v2.5h-2.5zM608.6 799.6h2.5v2.5h-2.5zM587.8 790.9h2.5v2.5h-2.5zM562.7 785.2h2.5v2.5h-2.5zM645.7 834.8h2.5v2.5h-2.5zM606.3 799.8h2.5v2.5h-2.5zM575.3 764.7h2.5v2.5h-2.5zM570.1 789.5h2.5v2.5h-2.5zM607.2 784.5h2.5v2.5h-2.5zM613.4 815.8h2.5v2.5h-2.5zM582.5 789.8h2.5v2.5h-2.5zM579.7 788.4h2.5v2.5h-2.5zM592.6 797.5h2.5v2.5h-2.5zM607.6 787.5h2.5v2.5h-2.5zM651.6 802.7h2.5v2.5h-2.5zM573.6 793.4h2.5v2.5h-2.5zM634.9 801.4h2.5v2.5h-2.5zM596.1 787.9h2.5v2.5h-2.5zM550.9 777.6h2.5v2.5h-2.5zM611.6 817.0h2.5v2.5h-2.5zM579.2 798.2h2.5v2.5h-2.5zM649.6 817.6h2.5v2.5h-2.5zM572.8 793.2h2.5v2.5h-2.5zM572.6 779.4h2.5v2.5h-2.5zM603.7 782.2h2.5v2.5h-2.5zM597.6 797.3h2.5v2.5h-2.5zM586.5 803.8h2.5v2.5h-2.5zM590.5 799.7h2.5v2.5h-2.5zM586.7 781.6h2.5v2.5h-2.5zM613.9 816.2h2.5v2.5h-2.5zM596.5 791.8h2.5v2.5h-2.5zM590.6 790.2h2.5v2.5h-2.5zM663.1 793.8h2.5v2.5h-2.5zM619.7 824.3h2.5v2.5h-2.5zM616.9 804.9h2.5v2.5h-2.5zM659.6 798.2h2.5v2.5h-2.5zM606.3 810.8h2.5v2.5h-2.5zM594.2 788.0h2.5v2.5h-2.5zM609.6 817.9h2.5v2.5h-2.5zM575.5 788.3h2.5v2.5h-2.5zM594.1 799.6h2.5v2.5h-2.5zM639.3 776.3h2.5v2.5h-2.5zM613.8 818.2h2.5v2.5h-2.5zM582.1 795.8h2.5v2.5h-2.5zM612.8 784.1h2.5v2.5h-2.5zM618.5 777.9h2.5v2.5h-2.5zM642.3 782.1h2.5v2.5h-2.5zM593.9 805.5h2.5v2.5h-2.5zM598.3 768.5h2.5v2.5h-2.5zM587.2 798.3h2.5v2.5h-2.5zM617.7 805.1h2.5v2.5h-2.5zM607.6 785.0h2.5v2.5h-2.5zM600.1 789.5h2.5v2.5h-2.5zM647.8 804.4h2.5v2.5h-2.5zM603.6 793.8h2.5v2.5h-2.5zM611.9 788.4h2.5v2.5h-2.5zM608.1 800.8h2.5v2.5h-2.5zM621.9 817.2h2.5v2.5h-2.5zM617.7 799.3h2.5v2.5h-2.5zM598.6 778.8h2.5v2.5h-2.5zM571.8 770.5h2.5v2.5h-2.5zM595.1 812.5h2.5v2.5h-2.5zM547.7 769.6h2.5v2.5h-2.5zM575.7 787.1h2.5v2.5h-2.5zM565.9 772.6h2.5v2.5h-2.5zM623.9 772.4h2.5v2.5h-2.5zM577.1 792.5h2.5v2.5h-2.5zM603.9 812.7h2.5v2.5h-2.5zM565.0 782.1h2.5v2.5h-2.5zM587.5 780.3h2.5v2.5h-2.5zM598.3 808.7h2.5v2.5h-2.5zM580.3 797.5h2.5v2.5h-2.5zM606.3 773.7h2.5v2.5h-2.5zM586.6 774.1h2.5v2.5h-2.5zM621.3 814.9h2.5v2.5h-2.5zM593.3 789.7h2.5v2.5h-2.5zM538.8 753.6h2.5v2.5h-2.5zM610.6 817.2h2.5v2.5h-2.5zM597.6 789.3h2.5v2.5h-2.5zM583.8 802.8h2.5v2.5h-2.5zM577.4 790.2h2.5v2.5h-2.5zM589.4 798.1h2.5v2.5h-2.5zM574.3 758.3h2.5v2.5h-2.5zM586.5 791.2h2.5v2.5h-2.5zM565.0 766.0h2.5v2.5h-2.5zM606.9 817.5h2.5v2.5h-2.5zM568.4 763.0h2.5v2.5h-2.5zM582.2 794.1h2.5v2.5h-2.5zM562.4 769.2h2.5v2.5h-2.5zM582.6 800.5h2.5v2.5h-2.5zM581.1 799.7h2.5v2.5h-2.5zM584.3 791.0h2.5v2.5h-2.5zM594.5 796.7h2.5v2.5h-2.5zM617.6 772.8h2.5v2.5h-2.5zM630.0 828.7h2.5v2.5h-2.5zM609.6 820.6h2.5v2.5h-2.5zM583.7 793.4h2.5v2.5h-2.5zM598.1 790.5h2.5v2.5h-2.5zM586.5 795.4h2.5v2.5h-2.5zM628.7 810.1h2.5v2.5h-2.5zM638.7 809.5h2.5v2.5h-2.5zM601.2 774.5h2.5v2.5h-2.5zM584.8 803.7h2.5v2.5h-2.5zM633.3 793.0h2.5v2.5h-2.5zM598.4 809.9h2.5v2.5h-2.5zM567.8 787.0h2.5v2.5h-2.5zM606.6 777.1h2.5v2.5h-2.5zM574.3 793.3h2.5v2.5h-2.5zM577.6 790.6h2.5v2.5h-2.5zM592.1 809.8h2.5v2.5h-2.5zM584.3 781.6h2.5v2.5h-2.5zM590.0 796.8h2.5v2.5h-2.5zM630.8 784.9h2.5v2.5h-2.5zM614.9 781.5h2.5v2.5h-2.5zM564.0 759.2h2.5v2.5h-2.5zM602.9 806.0h2.5v2.5h-2.5zM623.4 808.0h2.5v2.5h-2.5zM611.4 790.1h2.5v2.5h-2.5zM597.2 801.5h2.5v2.5h-2.5zM577.8 789.4h2.5v2.5h-2.5zM608.3 813.4h2.5v2.5h-2.5zM651.1 766.2h2.5v2.5h-2.5zM613.1 803.5h2.5v2.5h-2.5z" fill="#7a3a9a"/>
<path d="M567.9 785.7h2.5v2.5h-2.5zM573.8 795.1h2.5v2.5h-2.5zM572.4 760.5h2.5v2.5h-2.5zM584.2 789.7h2.5v2.5h-2.5zM556.0 768.7h2.5v2.5h-2.5zM558.5 783.6h2.5v2.5h-2.5zM566.3 780.4h2.5v2.5h-2.5zM594.2 772.1h2.5v2.5h-2.5zM587.8 775.4h2.5v2.5h-2.5zM572.8 787.1h2.5v2.5h-2.5zM566.8 749.4h2.5v2.5h-2.5zM548.4 776.6h2.5v2.5h-2.5zM582.3 787.6h2.5v2.5h-2.5zM603.7 765.7h2.5v2.5h-2.5zM567.6 785.4h2.5v2.5h-2.5zM545.3 760.2h2.5v2.5h-2.5zM585.0 775.5h2.5v2.5h-2.5zM584.9 784.4h2.5v2.5h-2.5zM582.7 768.8h2.5v2.5h-2.5zM583.5 788.0h2.5v2.5h-2.5zM588.0 771.6h2.5v2.5h-2.5zM575.3 788.2h2.5v2.5h-2.5zM589.0 778.6h2.5v2.5h-2.5zM587.4 785.5h2.5v2.5h-2.5zM574.9 780.3h2.5v2.5h-2.5zM575.7 778.1h2.5v2.5h-2.5zM605.8 746.3h2.5v2.5h-2.5zM566.9 781.4h2.5v2.5h-2.5zM562.3 781.3h2.5v2.5h-2.5zM556.3 782.6h2.5v2.5h-2.5zM604.7 772.2h2.5v2.5h-2.5zM574.8 772.3h2.5v2.5h-2.5zM576.9 778.6h2.5v2.5h-2.5zM598.4 766.4h2.5v2.5h-2.5zM604.1 775.3h2.5v2.5h-2.5zM568.2 788.7h2.5v2.5h-2.5zM587.2 770.0h2.5v2.5h-2.5zM607.2 766.7h2.5v2.5h-2.5zM569.6 790.4h2.5v2.5h-2.5zM578.0 777.2h2.5v2.5h-2.5zM559.0 780.6h2.5v2.5h-2.5zM558.8 771.6h2.5v2.5h-2.5zM550.9 768.5h2.5v2.5h-2.5zM565.4 757.2h2.5v2.5h-2.5zM564.4 772.6h2.5v2.5h-2.5zM589.8 767.8h2.5v2.5h-2.5zM603.6 766.8h2.5v2.5h-2.5zM582.7 791.8h2.5v2.5h-2.5zM542.0 759.3h2.5v2.5h-2.5zM591.0 765.4h2.5v2.5h-2.5zM572.5 792.1h2.5v2.5h-2.5zM568.9 788.1h2.5v2.5h-2.5zM573.2 791.4h2.5v2.5h-2.5zM551.2 775.0h2.5v2.5h-2.5zM573.1 773.2h2.5v2.5h-2.5zM574.0 755.9h2.5v2.5h-2.5zM541.8 771.5h2.5v2.5h-2.5zM578.3 793.9h2.5v2.5h-2.5zM565.6 783.1h2.5v2.5h-2.5zM568.0 786.8h2.5v2.5h-2.5zM572.9 791.1h2.5v2.5h-2.5zM570.4 791.0h2.5v2.5h-2.5zM571.7 774.5h2.5v2.5h-2.5zM585.6 768.8h2.5v2.5h-2.5zM586.6 774.0h2.5v2.5h-2.5zM573.3 791.3h2.5v2.5h-2.5zM574.2 792.1h2.5v2.5h-2.5zM574.8 758.4h2.5v2.5h-2.5zM576.4 785.2h2.5v2.5h-2.5zM561.0 762.5h2.5v2.5h-2.5zM549.6 771.8h2.5v2.5h-2.5zM547.0 775.1h2.5v2.5h-2.5zM582.9 789.9h2.5v2.5h-2.5zM554.3 773.2h2.5v2.5h-2.5zM587.2 766.9h2.5v2.5h-2.5zM599.8 774.3h2.5v2.5h-2.5zM584.6 765.2h2.5v2.5h-2.5zM566.6 785.7h2.5v2.5h-2.5zM578.2 780.0h2.5v2.5h-2.5zM597.0 775.8h2.5v2.5h-2.5zM614.2 749.6h2.5v2.5h-2.5zM579.8 792.8h2.5v2.5h-2.5zM602.7 775.9h2.5v2.5h-2.5zM550.6 776.2h2.5v2.5h-2.5zM570.0 786.1h2.5v2.5h-2.5zM553.5 778.4h2.5v2.5h-2.5zM579.3 755.0h2.5v2.5h-2.5zM566.8 757.5h2.5v2.5h-2.5zM544.1 769.7h2.5v2.5h-2.5zM586.0 786.4h2.5v2.5h-2.5zM608.0 765.8h2.5v2.5h-2.5zM569.0 783.3h2.5v2.5h-2.5zM568.6 779.3h2.5v2.5h-2.5zM542.0 750.6h2.5v2.5h-2.5zM586.6 778.4h2.5v2.5h-2.5zM569.4 791.4h2.5v2.5h-2.5zM574.6 765.5h2.5v2.5h-2.5zM590.0 778.0h2.5v2.5h-2.5zM605.8 764.6h2.5v2.5h-2.5zM593.5 773.5h2.5v2.5h-2.5zM555.1 770.0h2.5v2.5h-2.5zM594.9 778.4h2.5v2.5h-2.5zM586.5 783.9h2.5v2.5h-2.5zM560.7 784.1h2.5v2.5h-2.5zM590.8 784.7h2.5v2.5h-2.5zM568.5 754.5h2.5v2.5h-2.5zM572.2 795.0h2.5v2.5h-2.5zM588.0 782.3h2.5v2.5h-2.5zM583.4 779.8h2.5v2.5h-2.5zM570.7 786.5h2.5v2.5h-2.5zM572.0 790.6h2.5v2.5h-2.5zM557.4 781.7h2.5v2.5h-2.5zM571.3 783.9h2.5v2.5h-2.5zM569.4 780.2h2.5v2.5h-2.5zM594.1 782.8h2.5v2.5h-2.5zM569.2 782.3h2.5v2.5h-2.5zM588.3 774.9h2.5v2.5h-2.5zM590.7 780.1h2.5v2.5h-2.5zM562.9 786.1h2.5v2.5h-2.5zM582.3 764.1h2.5v2.5h-2.5zM552.3 761.2h2.5v2.5h-2.5zM550.3 765.6h2.5v2.5h-2.5zM542.1 748.8h2.5v2.5h-2.5zM576.8 745.3h2.5v2.5h-2.5zM592.9 776.7h2.5v2.5h-2.5zM616.0 764.7h2.5v2.5h-2.5zM570.5 786.7h2.5v2.5h-2.5zM592.0 783.4h2.5v2.5h-2.5zM566.0 774.9h2.5v2.5h-2.5zM576.7 794.0h2.5v2.5h-2.5zM586.2 768.9h2.5v2.5h-2.5zM563.3 787.9h2.5v2.5h-2.5zM583.2 780.3h2.5v2.5h-2.5zM597.7 770.0h2.5v2.5h-2.5zM583.0 769.3h2.5v2.5h-2.5zM605.5 769.6h2.5v2.5h-2.5zM582.1 787.5h2.5v2.5h-2.5zM565.0 768.1h2.5v2.5h-2.5zM576.1 761.2h2.5v2.5h-2.5zM567.6 786.2h2.5v2.5h-2.5zM596.6 773.5h2.5v2.5h-2.5zM546.9 754.4h2.5v2.5h-2.5zM572.1 769.5h2.5v2.5h-2.5zM576.4 781.5h2.5v2.5h-2.5zM558.0 755.0h2.5v2.5h-2.5zM576.0 787.2h2.5v2.5h-2.5zM580.3 788.5h2.5v2.5h-2.5zM575.3 771.5h2.5v2.5h-2.5zM567.3 787.9h2.5v2.5h-2.5zM561.2 786.5h2.5v2.5h-2.5zM565.6 782.0h2.5v2.5h-2.5zM588.0 788.2h2.5v2.5h-2.5zM586.8 779.5h2.5v2.5h-2.5zM557.9 783.6h2.5v2.5h-2.5zM590.3 782.3h2.5v2.5h-2.5zM568.0 788.6h2.5v2.5h-2.5zM574.1 789.2h2.5v2.5h-2.5zM556.0 761.9h2.5v2.5h-2.5zM569.2 756.7h2.5v2.5h-2.5zM577.5 760.6h2.5v2.5h-2.5zM569.9 792.8h2.5v2.5h-2.5zM586.8 784.2h2.5v2.5h-2.5zM565.4 785.7h2.5v2.5h-2.5zM584.0 782.5h2.5v2.5h-2.5zM564.3 780.6h2.5v2.5h-2.5zM573.3 790.8h2.5v2.5h-2.5zM574.5 789.5h2.5v2.5h-2.5zM553.0 769.3h2.5v2.5h-2.5zM562.4 768.6h2.5v2.5h-2.5zM581.6 782.8h2.5v2.5h-2.5zM552.2 779.3h2.5v2.5h-2.5zM559.9 769.0h2.5v2.5h-2.5zM577.5 782.2h2.5v2.5h-2.5zM566.4 787.2h2.5v2.5h-2.5zM577.1 788.4h2.5v2.5h-2.5zM575.8 787.8h2.5v2.5h-2.5zM556.7 781.8h2.5v2.5h-2.5zM584.1 788.6h2.5v2.5h-2.5zM558.8 776.5h2.5v2.5h-2.5zM562.6 764.6h2.5v2.5h-2.5zM590.0 757.5h2.5v2.5h-2.5zM566.7 773.1h2.5v2.5h-2.5zM579.7 784.6h2.5v2.5h-2.5zM592.0 762.3h2.5v2.5h-2.5zM607.4 758.9h2.5v2.5h-2.5zM563.4 788.1h2.5v2.5h-2.5zM581.3 789.3h2.5v2.5h-2.5zM574.6 794.9h2.5v2.5h-2.5z" fill="#a82040"/>
<path d="M572.5 793.1h2.5v2.5h-2.5zM558.7 763.0h2.5v2.5h-2.5zM580.2 793.7h2.5v2.5h-2.5zM564.6 772.0h2.5v2.5h-2.5zM563.1 763.9h2.5v2.5h-2.5zM577.3 792.1h2.5v2.5h-2.5zM569.7 782.7h2.5v2.5h-2.5zM587.0 771.4h2.5v2.5h-2.5zM571.8 775.0h2.5v2.5h-2.5zM553.4 771.4h2.5v2.5h-2.5zM619.7 745.7h2.5v2.5h-2.5zM559.8 767.3h2.5v2.5h-2.5zM579.9 743.3h2.5v2.5h-2.5zM579.7 788.3h2.5v2.5h-2.5zM539.7 762.5h2.5v2.5h-2.5zM567.1 788.3h2.5v2.5h-2.5zM539.9 760.1h2.5v2.5h-2.5zM581.5 769.4h2.5v2.5h-2.5zM574.3 779.5h2.5v2.5h-2.5zM588.0 780.6h2.5v2.5h-2.5zM586.9 775.8h2.5v2.5h-2.5zM577.7 771.6h2.5v2.5h-2.5zM586.9 777.4h2.5v2.5h-2.5zM591.1 779.6h2.5v2.5h-2.5zM534.1 752.9h2.5v2.5h-2.5zM604.8 766.1h2.5v2.5h-2.5zM576.7 776.5h2.5v2.5h-2.5zM550.9 762.3h2.5v2.5h-2.5zM574.5 784.1h2.5v2.5h-2.5zM562.6 767.8h2.5v2.5h-2.5zM543.4 771.5h2.5v2.5h-2.5zM578.9 749.7h2.5v2.5h-2.5zM574.5 758.2h2.5v2.5h-2.5zM576.1 784.8h2.5v2.5h-2.5zM628.1 757.3h2.5v2.5h-2.5zM586.2 788.7h2.5v2.5h-2.5zM563.1 781.7h2.5v2.5h-2.5zM588.2 779.9h2.5v2.5h-2.5zM574.4 795.5h2.5v2.5h-2.5zM571.8 791.7h2.5v2.5h-2.5zM582.7 767.5h2.5v2.5h-2.5zM561.3 782.9h2.5v2.5h-2.5zM560.3 783.0h2.5v2.5h-2.5zM574.8 765.2h2.5v2.5h-2.5zM579.5 781.9h2.5v2.5h-2.5zM592.7 776.7h2.5v2.5h-2.5zM559.1 776.4h2.5v2.5h-2.5zM601.5 761.4h2.5v2.5h-2.5zM568.0 789.5h2.5v2.5h-2.5zM593.3 753.4h2.5v2.5h-2.5zM586.7 789.0h2.5v2.5h-2.5zM580.5 771.7h2.5v2.5h-2.5zM577.0 778.6h2.5v2.5h-2.5zM584.3 786.0h2.5v2.5h-2.5zM548.2 775.5h2.5v2.5h-2.5zM579.9 781.5h2.5v2.5h-2.5zM594.8 780.3h2.5v2.5h-2.5zM555.0 780.3h2.5v2.5h-2.5zM585.6 772.4h2.5v2.5h-2.5zM568.3 768.7h2.5v2.5h-2.5z" fill="#e8d040"/>
<path d="M560.3 786.3h2.5v2.5h-2.5zM602.6 814.8h2.5v2.5h-2.5zM598.1 798.6h2.5v2.5h-2.5zM536.8 832.0h2.5v2.5h-2.5zM600.7 822.6h2.5v2.5h-2.5zM562.8 794.7h2.5v2.5h-2.5zM556.2 781.0h2.5v2.5h-2.5zM570.7 784.0h2.5v2.5h-2.5zM582.7 781.5h2.5v2.5h-2.5zM606.2 805.9h2.5v2.5h-2.5zM562.4 768.7h2.5v2.5h-2.5zM633.1 780.6h2.5v2.5h-2.5zM543.2 786.6h2.5v2.5h-2.5zM600.8 801.2h2.5v2.5h-2.5zM602.4 760.2h2.5v2.5h-2.5zM602.8 806.8h2.5v2.5h-2.5zM580.1 819.7h2.5v2.5h-2.5zM582.7 791.1h2.5v2.5h-2.5zM559.6 765.7h2.5v2.5h-2.5zM538.3 793.5h2.5v2.5h-2.5zM566.6 829.6h2.5v2.5h-2.5zM586.8 789.2h2.5v2.5h-2.5zM547.4 801.0h2.5v2.5h-2.5zM550.3 775.5h2.5v2.5h-2.5zM581.7 828.1h2.5v2.5h-2.5zM610.9 832.2h2.5v2.5h-2.5zM557.2 789.0h2.5v2.5h-2.5zM561.2 799.2h2.5v2.5h-2.5zM571.7 773.9h2.5v2.5h-2.5zM547.5 819.4h2.5v2.5h-2.5zM520.6 808.0h2.5v2.5h-2.5zM590.8 801.5h2.5v2.5h-2.5zM623.1 810.2h2.5v2.5h-2.5zM589.2 789.9h2.5v2.5h-2.5zM589.0 775.4h2.5v2.5h-2.5zM580.7 790.6h2.5v2.5h-2.5zM634.0 789.9h2.5v2.5h-2.5zM539.2 807.8h2.5v2.5h-2.5zM605.0 809.7h2.5v2.5h-2.5zM612.8 756.8h2.5v2.5h-2.5zM589.5 793.1h2.5v2.5h-2.5zM568.3 793.6h2.5v2.5h-2.5zM572.7 783.8h2.5v2.5h-2.5zM512.4 773.2h2.5v2.5h-2.5zM545.4 801.8h2.5v2.5h-2.5zM610.9 780.1h2.5v2.5h-2.5zM554.8 816.2h2.5v2.5h-2.5zM581.6 783.6h2.5v2.5h-2.5zM542.7 819.4h2.5v2.5h-2.5zM590.3 802.2h2.5v2.5h-2.5zM536.2 806.1h2.5v2.5h-2.5zM553.6 785.1h2.5v2.5h-2.5zM557.2 806.6h2.5v2.5h-2.5zM628.4 798.0h2.5v2.5h-2.5zM540.8 761.0h2.5v2.5h-2.5zM589.9 766.6h2.5v2.5h-2.5zM560.7 806.2h2.5v2.5h-2.5zM615.8 814.1h2.5v2.5h-2.5zM615.5 805.9h2.5v2.5h-2.5zM548.9 795.5h2.5v2.5h-2.5zM600.2 799.1h2.5v2.5h-2.5zM622.3 792.6h2.5v2.5h-2.5zM613.8 824.8h2.5v2.5h-2.5zM640.5 799.0h2.5v2.5h-2.5zM588.7 812.9h2.5v2.5h-2.5zM573.2 803.5h2.5v2.5h-2.5zM553.3 803.2h2.5v2.5h-2.5zM565.5 780.1h2.5v2.5h-2.5zM602.9 803.4h2.5v2.5h-2.5zM548.4 805.0h2.5v2.5h-2.5zM558.7 770.6h2.5v2.5h-2.5zM540.6 817.8h2.5v2.5h-2.5zM585.8 794.2h2.5v2.5h-2.5zM560.5 789.3h2.5v2.5h-2.5zM526.1 778.7h2.5v2.5h-2.5zM577.0 776.8h2.5v2.5h-2.5zM543.3 809.3h2.5v2.5h-2.5zM553.9 798.4h2.5v2.5h-2.5zM590.8 786.8h2.5v2.5h-2.5zM583.0 796.4h2.5v2.5h-2.5zM576.4 797.3h2.5v2.5h-2.5zM560.9 798.2h2.5v2.5h-2.5zM536.7 772.8h2.5v2.5h-2.5zM587.8 784.1h2.5v2.5h-2.5zM561.2 794.3h2.5v2.5h-2.5zM594.4 796.5h2.5v2.5h-2.5zM555.5 795.5h2.5v2.5h-2.5zM603.3 818.0h2.5v2.5h-2.5zM558.1 773.2h2.5v2.5h-2.5zM601.5 784.3h2.5v2.5h-2.5zM573.9 798.3h2.5v2.5h-2.5zM538.4 822.0h2.5v2.5h-2.5zM577.6 800.7h2.5v2.5h-2.5zM579.8 817.1h2.5v2.5h-2.5zM592.6 821.1h2.5v2.5h-2.5zM505.3 815.9h2.5v2.5h-2.5zM600.3 782.7h2.5v2.5h-2.5zM546.9 777.7h2.5v2.5h-2.5zM566.4 783.6h2.5v2.5h-2.5zM577.1 797.7h2.5v2.5h-2.5zM566.1 800.4h2.5v2.5h-2.5zM594.7 784.4h2.5v2.5h-2.5zM604.5 770.4h2.5v2.5h-2.5zM582.5 806.6h2.5v2.5h-2.5zM604.6 817.5h2.5v2.5h-2.5zM593.0 799.1h2.5v2.5h-2.5zM591.9 778.8h2.5v2.5h-2.5zM582.0 779.1h2.5v2.5h-2.5zM527.3 825.7h2.5v2.5h-2.5zM589.6 758.5h2.5v2.5h-2.5zM508.3 794.0h2.5v2.5h-2.5zM597.5 783.0h2.5v2.5h-2.5zM587.9 803.4h2.5v2.5h-2.5zM570.9 817.8h2.5v2.5h-2.5zM544.1 785.7h2.5v2.5h-2.5zM549.0 783.5h2.5v2.5h-2.5zM555.9 788.0h2.5v2.5h-2.5zM567.1 791.2h2.5v2.5h-2.5zM556.4 804.1h2.5v2.5h-2.5zM577.9 783.4h2.5v2.5h-2.5zM554.5 789.9h2.5v2.5h-2.5zM538.4 823.3h2.5v2.5h-2.5zM569.8 786.3h2.5v2.5h-2.5zM593.2 777.4h2.5v2.5h-2.5zM597.7 800.1h2.5v2.5h-2.5zM560.7 802.0h2.5v2.5h-2.5zM593.8 788.5h2.5v2.5h-2.5zM622.1 827.2h2.5v2.5h-2.5zM548.9 831.4h2.5v2.5h-2.5zM547.2 833.1h2.5v2.5h-2.5zM550.3 805.5h2.5v2.5h-2.5zM586.3 804.5h2.5v2.5h-2.5zM565.3 816.4h2.5v2.5h-2.5zM563.9 793.0h2.5v2.5h-2.5zM615.9 811.9h2.5v2.5h-2.5zM593.6 810.1h2.5v2.5h-2.5zM564.2 767.1h2.5v2.5h-2.5zM590.0 796.9h2.5v2.5h-2.5zM559.2 825.2h2.5v2.5h-2.5zM606.4 817.5h2.5v2.5h-2.5zM583.8 798.2h2.5v2.5h-2.5zM565.9 787.2h2.5v2.5h-2.5zM562.0 805.1h2.5v2.5h-2.5zM566.7 807.3h2.5v2.5h-2.5zM646.2 787.7h2.5v2.5h-2.5zM552.0 800.1h2.5v2.5h-2.5zM565.1 803.9h2.5v2.5h-2.5zM566.2 827.3h2.5v2.5h-2.5zM593.7 794.8h2.5v2.5h-2.5zM588.9 785.5h2.5v2.5h-2.5zM545.4 807.1h2.5v2.5h-2.5zM592.5 775.3h2.5v2.5h-2.5zM588.8 805.0h2.5v2.5h-2.5zM605.7 794.5h2.5v2.5h-2.5zM562.6 796.2h2.5v2.5h-2.5zM593.4 766.3h2.5v2.5h-2.5zM592.3 808.0h2.5v2.5h-2.5zM587.2 788.3h2.5v2.5h-2.5zM596.0 777.6h2.5v2.5h-2.5zM605.0 772.1h2.5v2.5h-2.5zM576.1 779.8h2.5v2.5h-2.5zM591.6 810.1h2.5v2.5h-2.5zM579.7 800.3h2.5v2.5h-2.5zM523.5 817.1h2.5v2.5h-2.5zM567.2 803.2h2.5v2.5h-2.5zM583.3 802.7h2.5v2.5h-2.5zM548.4 821.0h2.5v2.5h-2.5zM530.2 811.4h2.5v2.5h-2.5zM584.8 792.7h2.5v2.5h-2.5zM609.8 801.0h2.5v2.5h-2.5zM556.3 845.9h2.5v2.5h-2.5zM556.4 797.0h2.5v2.5h-2.5zM579.1 807.2h2.5v2.5h-2.5zM594.2 771.2h2.5v2.5h-2.5zM586.2 829.7h2.5v2.5h-2.5zM558.0 816.3h2.5v2.5h-2.5zM579.0 808.4h2.5v2.5h-2.5zM604.3 854.2h2.5v2.5h-2.5zM545.0 800.5h2.5v2.5h-2.5zM541.8 815.1h2.5v2.5h-2.5zM571.9 819.2h2.5v2.5h-2.5zM570.4 812.4h2.5v2.5h-2.5zM560.0 762.5h2.5v2.5h-2.5zM576.4 773.9h2.5v2.5h-2.5zM633.0 788.6h2.5v2.5h-2.5zM580.0 799.2h2.5v2.5h-2.5zM608.7 819.3h2.5v2.5h-2.5zM598.6 772.6h2.5v2.5h-2.5zM607.9 806.9h2.5v2.5h-2.5zM594.0 811.6h2.5v2.5h-2.5zM584.0 744.6h2.5v2.5h-2.5zM535.7 805.4h2.5v2.5h-2.5zM622.2 806.5h2.5v2.5h-2.5zM607.3 803.5h2.5v2.5h-2.5zM569.3 790.0h2.5v2.5h-2.5zM605.9 790.3h2.5v2.5h-2.5zM570.1 792.1h2.5v2.5h-2.5zM563.6 805.7h2.5v2.5h-2.5zM597.2 793.0h2.5v2.5h-2.5zM596.0 812.9h2.5v2.5h-2.5zM581.8 778.7h2.5v2.5h-2.5zM541.9 814.0h2.5v2.5h-2.5zM540.9 788.2h2.5v2.5h-2.5zM559.1 802.2h2.5v2.5h-2.5zM548.8 778.5h2.5v2.5h-2.5zM583.6 808.7h2.5v2.5h-2.5zM622.7 822.0h2.5v2.5h-2.5zM591.4 797.5h2.5v2.5h-2.5zM530.3 800.1h2.5v2.5h-2.5zM615.7 784.3h2.5v2.5h-2.5zM585.7 780.4h2.5v2.5h-2.5zM588.5 756.2h2.5v2.5h-2.5zM587.7 819.7h2.5v2.5h-2.5zM608.1 781.3h2.5v2.5h-2.5zM556.4 791.4h2.5v2.5h-2.5zM582.4 775.0h2.5v2.5h-2.5zM537.4 792.9h2.5v2.5h-2.5zM563.7 814.1h2.5v2.5h-2.5zM615.8 792.2h2.5v2.5h-2.5zM556.6 771.9h2.5v2.5h-2.5zM588.4 767.9h2.5v2.5h-2.5zM560.4 767.2h2.5v2.5h-2.5zM569.3 796.9h2.5v2.5h-2.5zM561.5 790.4h2.5v2.5h-2.5zM545.7 787.7h2.5v2.5h-2.5zM589.5 824.1h2.5v2.5h-2.5zM550.0 820.0h2.5v2.5h-2.5zM569.4 796.3h2.5v2.5h-2.5zM587.7 801.6h2.5v2.5h-2.5zM611.5 746.8h2.5v2.5h-2.5zM544.3 806.2h2.5v2.5h-2.5zM572.6 784.3h2.5v2.5h-2.5zM596.6 778.4h2.5v2.5h-2.5zM583.0 772.4h2.5v2.5h-2.5zM554.5 808.6h2.5v2.5h-2.5zM581.8 783.8h2.5v2.5h-2.5zM571.5 794.0h2.5v2.5h-2.5zM571.9 765.6h2.5v2.5h-2.5zM566.5 794.7h2.5v2.5h-2.5zM555.9 790.8h2.5v2.5h-2.5zM585.8 770.9h2.5v2.5h-2.5zM535.0 784.6h2.5v2.5h-2.5zM537.8 795.3h2.5v2.5h-2.5zM546.2 823.5h2.5v2.5h-2.5zM556.8 791.6h2.5v2.5h-2.5zM593.3 828.9h2.5v2.5h-2.5zM560.3 768.9h2.5v2.5h-2.5zM531.0 821.3h2.5v2.5h-2.5zM562.2 820.2h2.5v2.5h-2.5zM532.1 800.2h2.5v2.5h-2.5zM592.1 787.1h2.5v2.5h-2.5zM548.4 776.9h2.5v2.5h-2.5zM581.0 779.9h2.5v2.5h-2.5zM596.2 832.1h2.5v2.5h-2.5zM597.4 793.5h2.5v2.5h-2.5zM529.8 780.4h2.5v2.5h-2.5zM578.6 810.8h2.5v2.5h-2.5zM540.2 769.1h2.5v2.5h-2.5zM585.4 799.2h2.5v2.5h-2.5zM565.8 778.5h2.5v2.5h-2.5zM583.9 776.2h2.5v2.5h-2.5zM569.0 799.2h2.5v2.5h-2.5zM573.6 813.0h2.5v2.5h-2.5zM619.2 805.1h2.5v2.5h-2.5zM515.0 823.4h2.5v2.5h-2.5zM638.4 792.2h2.5v2.5h-2.5zM599.8 831.4h2.5v2.5h-2.5zM566.7 816.0h2.5v2.5h-2.5zM583.0 786.8h2.5v2.5h-2.5zM599.3 770.7h2.5v2.5h-2.5zM578.6 791.4h2.5v2.5h-2.5zM573.9 786.8h2.5v2.5h-2.5zM589.7 839.7h2.5v2.5h-2.5zM602.5 793.4h2.5v2.5h-2.5zM561.9 802.5h2.5v2.5h-2.5zM600.7 794.0h2.5v2.5h-2.5zM579.6 792.4h2.5v2.5h-2.5zM502.9 820.2h2.5v2.5h-2.5zM617.8 802.1h2.5v2.5h-2.5zM584.1 807.5h2.5v2.5h-2.5zM610.1 778.4h2.5v2.5h-2.5zM600.1 812.8h2.5v2.5h-2.5zM674.8 793.4h2.5v2.5h-2.5zM576.1 814.5h2.5v2.5h-2.5zM586.6 756.8h2.5v2.5h-2.5zM610.0 806.6h2.5v2.5h-2.5zM549.1 804.7h2.5v2.5h-2.5zM587.8 794.4h2.5v2.5h-2.5zM557.0 788.1h2.5v2.5h-2.5zM546.4 807.9h2.5v2.5h-2.5zM549.0 853.3h2.5v2.5h-2.5zM583.1 797.9h2.5v2.5h-2.5zM595.3 773.8h2.5v2.5h-2.5zM610.5 784.5h2.5v2.5h-2.5zM530.2 793.4h2.5v2.5h-2.5zM566.1 789.3h2.5v2.5h-2.5zM616.7 791.3h2.5v2.5h-2.5zM556.7 809.3h2.5v2.5h-2.5zM582.2 806.9h2.5v2.5h-2.5zM582.6 787.6h2.5v2.5h-2.5zM607.2 780.2h2.5v2.5h-2.5zM575.7 778.5h2.5v2.5h-2.5zM591.9 801.1h2.5v2.5h-2.5zM570.6 782.0h2.5v2.5h-2.5zM621.2 821.8h2.5v2.5h-2.5zM560.8 794.1h2.5v2.5h-2.5zM580.5 778.2h2.5v2.5h-2.5zM588.2 819.4h2.5v2.5h-2.5zM629.1 793.4h2.5v2.5h-2.5zM540.6 800.2h2.5v2.5h-2.5zM585.5 777.2h2.5v2.5h-2.5zM609.1 801.8h2.5v2.5h-2.5zM547.0 796.9h2.5v2.5h-2.5zM583.1 792.3h2.5v2.5h-2.5zM576.6 749.5h2.5v2.5h-2.5zM534.8 797.2h2.5v2.5h-2.5zM603.8 775.0h2.5v2.5h-2.5zM585.5 786.4h2.5v2.5h-2.5zM564.9 814.6h2.5v2.5h-2.5zM547.7 816.6h2.5v2.5h-2.5zM571.3 796.4h2.5v2.5h-2.5zM574.6 798.8h2.5v2.5h-2.5zM579.4 823.1h2.5v2.5h-2.5zM610.5 791.1h2.5v2.5h-2.5zM563.1 823.2h2.5v2.5h-2.5zM589.7 799.6h2.5v2.5h-2.5zM597.0 802.7h2.5v2.5h-2.5zM566.0 803.9h2.5v2.5h-2.5zM584.3 807.5h2.5v2.5h-2.5zM552.5 777.0h2.5v2.5h-2.5zM642.9 824.3h2.5v2.5h-2.5zM593.1 837.1h2.5v2.5h-2.5zM543.6 809.2h2.5v2.5h-2.5zM606.2 800.6h2.5v2.5h-2.5zM603.7 802.7h2.5v2.5h-2.5zM513.6 819.4h2.5v2.5h-2.5zM593.2 818.6h2.5v2.5h-2.5zM567.6 842.2h2.5v2.5h-2.5zM560.4 767.0h2.5v2.5h-2.5zM554.9 826.6h2.5v2.5h-2.5zM593.8 781.4h2.5v2.5h-2.5zM589.5 793.5h2.5v2.5h-2.5zM566.6 798.0h2.5v2.5h-2.5zM597.2 798.3h2.5v2.5h-2.5zM585.0 800.4h2.5v2.5h-2.5zM576.1 828.0h2.5v2.5h-2.5zM566.7 799.5h2.5v2.5h-2.5zM535.2 788.7h2.5v2.5h-2.5zM544.4 816.6h2.5v2.5h-2.5zM570.3 785.9h2.5v2.5h-2.5zM558.8 791.2h2.5v2.5h-2.5zM562.3 808.3h2.5v2.5h-2.5zM601.0 776.7h2.5v2.5h-2.5zM572.1 755.3h2.5v2.5h-2.5zM596.3 785.6h2.5v2.5h-2.5zM604.3 800.4h2.5v2.5h-2.5zM574.6 787.5h2.5v2.5h-2.5zM635.1 801.8h2.5v2.5h-2.5zM569.0 771.8h2.5v2.5h-2.5zM566.0 784.5h2.5v2.5h-2.5zM557.8 810.6h2.5v2.5h-2.5zM548.1 772.5h2.5v2.5h-2.5zM527.8 764.1h2.5v2.5h-2.5zM569.1 797.6h2.5v2.5h-2.5zM575.8 810.0h2.5v2.5h-2.5zM555.5 783.3h2.5v2.5h-2.5zM541.1 775.4h2.5v2.5h-2.5zM585.0 776.4h2.5v2.5h-2.5zM576.9 780.3h2.5v2.5h-2.5z" fill="#f02828"/>
<path d="M556.6 815.1h2.5v2.5h-2.5zM596.4 819.8h2.5v2.5h-2.5zM556.6 775.1h2.5v2.5h-2.5zM544.4 797.8h2.5v2.5h-2.5zM543.1 832.4h2.5v2.5h-2.5zM586.8 778.2h2.5v2.5h-2.5zM586.7 822.3h2.5v2.5h-2.5zM593.3 816.5h2.5v2.5h-2.5zM573.1 805.2h2.5v2.5h-2.5zM611.6 827.4h2.5v2.5h-2.5zM558.4 778.3h2.5v2.5h-2.5zM575.3 811.7h2.5v2.5h-2.5zM572.0 781.7h2.5v2.5h-2.5zM591.5 829.4h2.5v2.5h-2.5zM578.3 819.2h2.5v2.5h-2.5zM586.3 824.2h2.5v2.5h-2.5zM540.1 828.9h2.5v2.5h-2.5zM598.4 818.1h2.5v2.5h-2.5zM584.3 804.5h2.5v2.5h-2.5zM561.0 814.9h2.5v2.5h-2.5zM597.4 817.8h2.5v2.5h-2.5zM583.0 787.1h2.5v2.5h-2.5zM573.4 779.9h2.5v2.5h-2.5zM564.9 815.1h2.5v2.5h-2.5zM592.9 813.3h2.5v2.5h-2.5zM563.1 810.0h2.5v2.5h-2.5zM562.8 813.8h2.5v2.5h-2.5zM537.3 824.8h2.5v2.5h-2.5zM590.2 813.9h2.5v2.5h-2.5zM540.0 833.7h2.5v2.5h-2.5zM585.6 831.5h2.5v2.5h-2.5zM595.9 778.4h2.5v2.5h-2.5zM565.9 780.9h2.5v2.5h-2.5zM551.0 804.1h2.5v2.5h-2.5zM572.3 777.9h2.5v2.5h-2.5zM568.6 823.6h2.5v2.5h-2.5zM591.8 828.5h2.5v2.5h-2.5zM565.2 817.6h2.5v2.5h-2.5zM612.4 832.8h2.5v2.5h-2.5zM530.6 832.8h2.5v2.5h-2.5zM554.3 772.6h2.5v2.5h-2.5zM576.6 793.3h2.5v2.5h-2.5zM581.1 818.2h2.5v2.5h-2.5zM576.7 837.5h2.5v2.5h-2.5zM586.6 813.3h2.5v2.5h-2.5zM591.6 825.4h2.5v2.5h-2.5zM589.7 825.8h2.5v2.5h-2.5zM577.4 805.6h2.5v2.5h-2.5zM580.9 776.2h2.5v2.5h-2.5zM576.7 787.7h2.5v2.5h-2.5zM603.4 821.6h2.5v2.5h-2.5zM593.5 815.9h2.5v2.5h-2.5zM582.1 803.9h2.5v2.5h-2.5zM546.5 806.7h2.5v2.5h-2.5zM564.9 787.6h2.5v2.5h-2.5zM568.7 826.5h2.5v2.5h-2.5zM602.1 825.6h2.5v2.5h-2.5zM581.6 807.9h2.5v2.5h-2.5zM584.7 787.7h2.5v2.5h-2.5zM596.3 817.3h2.5v2.5h-2.5zM575.0 766.0h2.5v2.5h-2.5zM552.5 827.4h2.5v2.5h-2.5zM558.5 833.2h2.5v2.5h-2.5zM583.3 823.6h2.5v2.5h-2.5zM567.5 806.8h2.5v2.5h-2.5zM551.4 832.9h2.5v2.5h-2.5zM598.2 840.5h2.5v2.5h-2.5zM582.2 822.0h2.5v2.5h-2.5zM590.7 809.7h2.5v2.5h-2.5zM593.3 813.0h2.5v2.5h-2.5zM581.8 838.9h2.5v2.5h-2.5zM555.4 844.2h2.5v2.5h-2.5zM573.1 827.2h2.5v2.5h-2.5zM573.9 810.1h2.5v2.5h-2.5zM571.1 821.8h2.5v2.5h-2.5zM552.2 805.0h2.5v2.5h-2.5zM525.2 821.3h2.5v2.5h-2.5zM531.0 850.0h2.5v2.5h-2.5zM569.3 808.0h2.5v2.5h-2.5zM574.6 817.0h2.5v2.5h-2.5zM575.1 819.4h2.5v2.5h-2.5zM577.0 806.4h2.5v2.5h-2.5zM546.8 825.1h2.5v2.5h-2.5zM574.8 797.9h2.5v2.5h-2.5zM572.0 796.1h2.5v2.5h-2.5zM582.6 787.7h2.5v2.5h-2.5zM554.5 808.9h2.5v2.5h-2.5zM545.2 816.2h2.5v2.5h-2.5zM569.6 800.7h2.5v2.5h-2.5zM587.9 823.4h2.5v2.5h-2.5zM576.2 807.3h2.5v2.5h-2.5zM568.1 816.9h2.5v2.5h-2.5zM572.9 806.7h2.5v2.5h-2.5zM549.2 821.3h2.5v2.5h-2.5zM554.4 795.6h2.5v2.5h-2.5zM563.4 774.1h2.5v2.5h-2.5zM573.8 798.6h2.5v2.5h-2.5zM540.8 805.7h2.5v2.5h-2.5zM574.1 794.6h2.5v2.5h-2.5zM600.2 778.5h2.5v2.5h-2.5zM587.7 750.5h2.5v2.5h-2.5zM553.2 816.7h2.5v2.5h-2.5zM583.8 809.0h2.5v2.5h-2.5zM563.0 829.4h2.5v2.5h-2.5zM578.8 848.3h2.5v2.5h-2.5zM554.4 797.9h2.5v2.5h-2.5zM577.8 808.0h2.5v2.5h-2.5zM567.8 780.7h2.5v2.5h-2.5zM574.3 826.2h2.5v2.5h-2.5zM594.9 818.3h2.5v2.5h-2.5zM592.7 831.4h2.5v2.5h-2.5zM574.6 768.0h2.5v2.5h-2.5zM572.7 782.1h2.5v2.5h-2.5zM600.7 827.4h2.5v2.5h-2.5zM548.7 833.5h2.5v2.5h-2.5zM604.9 835.3h2.5v2.5h-2.5zM621.6 833.7h2.5v2.5h-2.5zM585.9 806.5h2.5v2.5h-2.5zM587.2 834.1h2.5v2.5h-2.5zM580.1 805.7h2.5v2.5h-2.5zM571.2 783.9h2.5v2.5h-2.5zM533.1 805.9h2.5v2.5h-2.5zM532.8 791.1h2.5v2.5h-2.5zM605.7 822.9h2.5v2.5h-2.5zM580.1 824.3h2.5v2.5h-2.5zM560.9 789.6h2.5v2.5h-2.5zM584.6 836.1h2.5v2.5h-2.5zM642.5 867.6h2.5v2.5h-2.5zM599.9 769.0h2.5v2.5h-2.5zM590.4 816.2h2.5v2.5h-2.5zM551.7 762.1h2.5v2.5h-2.5zM556.8 768.3h2.5v2.5h-2.5zM522.9 813.5h2.5v2.5h-2.5zM572.7 793.6h2.5v2.5h-2.5zM561.7 815.0h2.5v2.5h-2.5zM541.0 837.5h2.5v2.5h-2.5zM565.5 821.2h2.5v2.5h-2.5zM568.0 808.7h2.5v2.5h-2.5zM591.0 781.0h2.5v2.5h-2.5zM574.1 826.9h2.5v2.5h-2.5zM574.9 809.3h2.5v2.5h-2.5zM583.1 815.2h2.5v2.5h-2.5zM587.1 764.4h2.5v2.5h-2.5zM547.1 792.7h2.5v2.5h-2.5zM555.0 822.8h2.5v2.5h-2.5zM636.8 855.5h2.5v2.5h-2.5zM581.0 781.1h2.5v2.5h-2.5zM568.5 773.3h2.5v2.5h-2.5zM591.5 838.6h2.5v2.5h-2.5zM573.7 827.1h2.5v2.5h-2.5zM576.3 808.7h2.5v2.5h-2.5zM542.3 818.8h2.5v2.5h-2.5zM584.9 786.8h2.5v2.5h-2.5zM547.7 793.1h2.5v2.5h-2.5zM580.1 805.0h2.5v2.5h-2.5zM583.6 807.3h2.5v2.5h-2.5zM570.9 803.5h2.5v2.5h-2.5zM583.3 810.1h2.5v2.5h-2.5zM592.5 783.9h2.5v2.5h-2.5zM585.5 821.2h2.5v2.5h-2.5zM559.3 817.7h2.5v2.5h-2.5zM583.7 769.0h2.5v2.5h-2.5zM571.7 780.1h2.5v2.5h-2.5zM595.9 825.2h2.5v2.5h-2.5zM568.8 810.9h2.5v2.5h-2.5zM552.2 822.1h2.5v2.5h-2.5zM547.4 781.7h2.5v2.5h-2.5zM561.7 813.2h2.5v2.5h-2.5zM581.0 823.0h2.5v2.5h-2.5zM590.3 811.6h2.5v2.5h-2.5zM614.8 829.8h2.5v2.5h-2.5zM588.3 811.2h2.5v2.5h-2.5zM579.3 834.4h2.5v2.5h-2.5zM496.6 798.8h2.5v2.5h-2.5zM642.5 850.7h2.5v2.5h-2.5zM602.3 832.6h2.5v2.5h-2.5zM564.1 827.9h2.5v2.5h-2.5zM583.7 835.7h2.5v2.5h-2.5zM566.7 805.6h2.5v2.5h-2.5zM570.4 820.3h2.5v2.5h-2.5zM565.2 845.1h2.5v2.5h-2.5zM538.4 822.9h2.5v2.5h-2.5zM557.0 799.0h2.5v2.5h-2.5zM612.6 769.3h2.5v2.5h-2.5zM591.8 821.4h2.5v2.5h-2.5zM545.2 809.1h2.5v2.5h-2.5zM567.7 810.6h2.5v2.5h-2.5zM531.9 791.7h2.5v2.5h-2.5zM596.7 780.5h2.5v2.5h-2.5zM573.6 799.5h2.5v2.5h-2.5zM550.5 781.8h2.5v2.5h-2.5zM513.7 819.9h2.5v2.5h-2.5zM559.2 781.4h2.5v2.5h-2.5zM554.4 819.6h2.5v2.5h-2.5zM578.4 811.7h2.5v2.5h-2.5zM584.5 805.0h2.5v2.5h-2.5zM598.1 764.3h2.5v2.5h-2.5zM586.3 775.8h2.5v2.5h-2.5zM522.5 816.4h2.5v2.5h-2.5zM571.5 801.5h2.5v2.5h-2.5zM579.4 806.1h2.5v2.5h-2.5zM582.1 811.5h2.5v2.5h-2.5zM573.4 815.5h2.5v2.5h-2.5zM554.6 823.2h2.5v2.5h-2.5zM557.3 833.2h2.5v2.5h-2.5zM594.4 822.1h2.5v2.5h-2.5zM556.6 774.8h2.5v2.5h-2.5zM570.3 786.4h2.5v2.5h-2.5zM549.5 799.0h2.5v2.5h-2.5zM536.4 812.2h2.5v2.5h-2.5zM577.2 793.3h2.5v2.5h-2.5zM582.3 837.0h2.5v2.5h-2.5zM601.4 828.0h2.5v2.5h-2.5zM568.3 799.6h2.5v2.5h-2.5zM534.4 829.8h2.5v2.5h-2.5zM584.4 817.4h2.5v2.5h-2.5zM588.4 822.8h2.5v2.5h-2.5zM577.7 784.0h2.5v2.5h-2.5zM583.9 824.2h2.5v2.5h-2.5zM549.9 796.6h2.5v2.5h-2.5zM543.7 829.2h2.5v2.5h-2.5zM589.0 786.8h2.5v2.5h-2.5zM597.8 829.0h2.5v2.5h-2.5zM576.6 780.0h2.5v2.5h-2.5zM579.2 800.4h2.5v2.5h-2.5zM574.2 829.3h2.5v2.5h-2.5zM588.8 856.9h2.5v2.5h-2.5zM566.9 804.6h2.5v2.5h-2.5zM532.3 845.9h2.5v2.5h-2.5zM583.6 786.3h2.5v2.5h-2.5zM565.8 786.2h2.5v2.5h-2.5zM575.2 803.4h2.5v2.5h-2.5zM577.5 804.5h2.5v2.5h-2.5zM576.0 831.3h2.5v2.5h-2.5zM565.9 797.1h2.5v2.5h-2.5zM533.1 824.3h2.5v2.5h-2.5zM559.4 833.4h2.5v2.5h-2.5zM552.2 819.6h2.5v2.5h-2.5zM568.9 808.1h2.5v2.5h-2.5zM583.5 822.4h2.5v2.5h-2.5zM582.8 777.4h2.5v2.5h-2.5zM592.5 815.7h2.5v2.5h-2.5zM585.9 776.1h2.5v2.5h-2.5zM572.3 822.0h2.5v2.5h-2.5zM550.8 838.8h2.5v2.5h-2.5zM543.6 825.5h2.5v2.5h-2.5zM591.9 831.6h2.5v2.5h-2.5zM579.7 812.6h2.5v2.5h-2.5zM552.6 798.6h2.5v2.5h-2.5zM572.6 803.1h2.5v2.5h-2.5zM583.5 790.2h2.5v2.5h-2.5zM612.4 848.9h2.5v2.5h-2.5zM537.9 809.6h2.5v2.5h-2.5zM562.3 814.6h2.5v2.5h-2.5zM566.4 783.6h2.5v2.5h-2.5zM580.2 823.8h2.5v2.5h-2.5zM549.4 797.6h2.5v2.5h-2.5zM533.9 841.7h2.5v2.5h-2.5zM602.3 823.8h2.5v2.5h-2.5zM567.4 809.1h2.5v2.5h-2.5zM580.8 848.7h2.5v2.5h-2.5zM584.3 810.6h2.5v2.5h-2.5zM573.1 856.4h2.5v2.5h-2.5zM609.7 826.9h2.5v2.5h-2.5zM573.7 817.1h2.5v2.5h-2.5zM583.7 836.8h2.5v2.5h-2.5zM582.3 784.4h2.5v2.5h-2.5zM541.9 789.7h2.5v2.5h-2.5zM569.8 802.3h2.5v2.5h-2.5zM597.2 856.1h2.5v2.5h-2.5zM564.0 849.5h2.5v2.5h-2.5zM600.9 832.6h2.5v2.5h-2.5zM598.1 826.4h2.5v2.5h-2.5zM566.2 834.5h2.5v2.5h-2.5zM618.7 764.1h2.5v2.5h-2.5zM575.3 811.7h2.5v2.5h-2.5zM565.9 806.5h2.5v2.5h-2.5zM583.8 808.1h2.5v2.5h-2.5zM564.4 836.1h2.5v2.5h-2.5zM574.7 815.2h2.5v2.5h-2.5zM567.5 827.6h2.5v2.5h-2.5zM577.8 818.3h2.5v2.5h-2.5zM584.0 765.0h2.5v2.5h-2.5zM577.1 809.8h2.5v2.5h-2.5zM593.3 780.8h2.5v2.5h-2.5zM560.2 817.6h2.5v2.5h-2.5zM579.4 780.1h2.5v2.5h-2.5zM578.8 845.5h2.5v2.5h-2.5zM573.6 809.9h2.5v2.5h-2.5zM582.3 818.6h2.5v2.5h-2.5zM564.9 784.6h2.5v2.5h-2.5zM524.7 851.7h2.5v2.5h-2.5zM536.6 826.1h2.5v2.5h-2.5zM565.2 817.9h2.5v2.5h-2.5zM574.2 807.5h2.5v2.5h-2.5zM583.7 780.7h2.5v2.5h-2.5zM568.7 778.8h2.5v2.5h-2.5zM569.6 831.2h2.5v2.5h-2.5zM579.2 845.1h2.5v2.5h-2.5zM584.6 808.0h2.5v2.5h-2.5zM580.2 810.4h2.5v2.5h-2.5zM578.4 818.0h2.5v2.5h-2.5zM591.4 830.6h2.5v2.5h-2.5zM557.0 799.2h2.5v2.5h-2.5zM603.4 769.8h2.5v2.5h-2.5zM582.2 788.6h2.5v2.5h-2.5zM582.1 804.4h2.5v2.5h-2.5zM581.9 809.1h2.5v2.5h-2.5zM581.8 778.4h2.5v2.5h-2.5zM572.2 827.9h2.5v2.5h-2.5zM589.8 827.7h2.5v2.5h-2.5zM584.3 814.8h2.5v2.5h-2.5zM580.3 814.9h2.5v2.5h-2.5zM567.7 805.9h2.5v2.5h-2.5zM579.5 832.7h2.5v2.5h-2.5zM535.5 818.8h2.5v2.5h-2.5zM552.0 813.6h2.5v2.5h-2.5zM571.7 820.6h2.5v2.5h-2.5zM566.3 812.2h2.5v2.5h-2.5zM585.5 849.2h2.5v2.5h-2.5zM589.8 768.9h2.5v2.5h-2.5zM572.6 805.3h2.5v2.5h-2.5zM588.1 817.9h2.5v2.5h-2.5zM583.7 773.8h2.5v2.5h-2.5zM589.6 757.4h2.5v2.5h-2.5zM564.3 845.9h2.5v2.5h-2.5zM583.6 815.8h2.5v2.5h-2.5zM565.8 833.8h2.5v2.5h-2.5zM582.3 804.6h2.5v2.5h-2.5zM583.7 817.4h2.5v2.5h-2.5zM576.8 805.6h2.5v2.5h-2.5zM571.1 794.3h2.5v2.5h-2.5zM589.5 812.0h2.5v2.5h-2.5zM542.4 814.0h2.5v2.5h-2.5zM563.3 802.2h2.5v2.5h-2.5zM578.3 811.8h2.5v2.5h-2.5zM571.5 780.8h2.5v2.5h-2.5zM588.9 816.6h2.5v2.5h-2.5zM560.6 788.7h2.5v2.5h-2.5zM579.3 792.8h2.5v2.5h-2.5zM586.1 781.1h2.5v2.5h-2.5zM571.3 823.0h2.5v2.5h-2.5zM594.2 816.7h2.5v2.5h-2.5zM576.1 819.7h2.5v2.5h-2.5zM572.3 804.5h2.5v2.5h-2.5zM583.0 804.6h2.5v2.5h-2.5zM577.6 814.9h2.5v2.5h-2.5zM589.4 823.8h2.5v2.5h-2.5zM606.6 847.5h2.5v2.5h-2.5zM582.6 803.4h2.5v2.5h-2.5zM565.2 802.3h2.5v2.5h-2.5zM567.3 812.6h2.5v2.5h-2.5zM543.4 792.5h2.5v2.5h-2.5zM586.0 781.1h2.5v2.5h-2.5zM573.7 819.9h2.5v2.5h-2.5zM572.3 811.9h2.5v2.5h-2.5zM562.9 828.4h2.5v2.5h-2.5zM561.2 813.8h2.5v2.5h-2.5zM587.5 835.5h2.5v2.5h-2.5zM583.2 788.0h2.5v2.5h-2.5zM584.0 813.9h2.5v2.5h-2.5zM588.8 813.3h2.5v2.5h-2.5zM566.1 831.6h2.5v2.5h-2.5zM547.5 837.6h2.5v2.5h-2.5zM594.2 827.1h2.5v2.5h-2.5zM610.4 848.7h2.5v2.5h-2.5zM552.7 797.4h2.5v2.5h-2.5zM596.7 821.0h2.5v2.5h-2.5zM602.6 825.2h2.5v2.5h-2.5zM598.8 820.3h2.5v2.5h-2.5zM593.8 781.9h2.5v2.5h-2.5zM554.5 811.8h2.5v2.5h-2.5zM516.1 822.3h2.5v2.5h-2.5zM568.4 834.0h2.5v2.5h-2.5zM580.4 819.8h2.5v2.5h-2.5zM567.8 811.1h2.5v2.5h-2.5zM548.8 770.4h2.5v2.5h-2.5zM593.1 819.6h2.5v2.5h-2.5zM578.6 801.1h2.5v2.5h-2.5zM544.3 826.4h2.5v2.5h-2.5zM571.9 828.1h2.5v2.5h-2.5zM586.0 819.7h2.5v2.5h-2.5zM586.6 781.1h2.5v2.5h-2.5zM585.8 818.0h2.5v2.5h-2.5zM600.0 738.5h2.5v2.5h-2.5zM568.1 805.7h2.5v2.5h-2.5zM583.0 789.8h2.5v2.5h-2.5zM580.3 789.8h2.5v2.5h-2.5zM547.7 827.8h2.5v2.5h-2.5zM584.6 819.7h2.5v2.5h-2.5zM561.4 847.8h2.5v2.5h-2.5zM575.5 769.4h2.5v2.5h-2.5zM580.1 792.0h2.5v2.5h-2.5zM584.5 819.2h2.5v2.5h-2.5zM574.1 816.4h2.5v2.5h-2.5zM589.9 813.9h2.5v2.5h-2.5zM597.5 830.1h2.5v2.5h-2.5zM586.3 775.6h2.5v2.5h-2.5zM592.4 827.4h2.5v2.5h-2.5zM567.6 777.6h2.5v2.5h-2.5zM586.2 834.2h2.5v2.5h-2.5zM535.0 832.8h2.5v2.5h-2.5zM576.7 804.3h2.5v2.5h-2.5zM571.6 797.3h2.5v2.5h-2.5zM573.0 803.1h2.5v2.5h-2.5zM614.7 847.4h2.5v2.5h-2.5zM581.8 803.0h2.5v2.5h-2.5zM574.7 810.5h2.5v2.5h-2.5zM543.5 765.4h2.5v2.5h-2.5zM593.8 826.6h2.5v2.5h-2.5zM569.7 813.7h2.5v2.5h-2.5zM554.8 814.8h2.5v2.5h-2.5zM580.7 819.5h2.5v2.5h-2.5zM574.7 787.7h2.5v2.5h-2.5zM561.6 770.6h2.5v2.5h-2.5zM604.3 836.5h2.5v2.5h-2.5zM566.6 808.8h2.5v2.5h-2.5zM551.8 743.1h2.5v2.5h-2.5zM583.5 815.7h2.5v2.5h-2.5zM548.3 777.3h2.5v2.5h-2.5zM574.9 805.3h2.5v2.5h-2.5zM593.1 831.4h2.5v2.5h-2.5zM577.9 776.2h2.5v2.5h-2.5zM557.3 823.7h2.5v2.5h-2.5zM569.9 803.5h2.5v2.5h-2.5zM568.1 834.9h2.5v2.5h-2.5zM557.5 836.3h2.5v2.5h-2.5zM537.4 803.4h2.5v2.5h-2.5zM581.9 821.5h2.5v2.5h-2.5zM567.7 808.4h2.5v2.5h-2.5zM573.7 841.7h2.5v2.5h-2.5zM559.0 799.0h2.5v2.5h-2.5zM568.4 806.9h2.5v2.5h-2.5zM586.1 820.6h2.5v2.5h-2.5zM578.4 783.7h2.5v2.5h-2.5zM569.1 802.8h2.5v2.5h-2.5zM526.2 825.1h2.5v2.5h-2.5zM625.7 756.9h2.5v2.5h-2.5zM582.5 759.0h2.5v2.5h-2.5zM565.2 809.8h2.5v2.5h-2.5zM574.6 807.1h2.5v2.5h-2.5zM579.7 819.6h2.5v2.5h-2.5zM564.5 793.2h2.5v2.5h-2.5zM579.5 814.5h2.5v2.5h-2.5zM551.0 792.9h2.5v2.5h-2.5zM581.4 784.3h2.5v2.5h-2.5zM569.2 831.5h2.5v2.5h-2.5zM550.3 825.5h2.5v2.5h-2.5zM595.4 816.0h2.5v2.5h-2.5zM569.9 771.8h2.5v2.5h-2.5zM579.0 814.5h2.5v2.5h-2.5zM546.5 822.8h2.5v2.5h-2.5zM531.5 822.6h2.5v2.5h-2.5zM574.0 818.0h2.5v2.5h-2.5zM574.0 814.3h2.5v2.5h-2.5zM573.2 808.2h2.5v2.5h-2.5zM565.2 812.1h2.5v2.5h-2.5zM550.6 774.1h2.5v2.5h-2.5zM558.1 798.2h2.5v2.5h-2.5zM569.0 793.1h2.5v2.5h-2.5zM570.5 780.3h2.5v2.5h-2.5zM574.9 785.9h2.5v2.5h-2.5zM567.5 799.2h2.5v2.5h-2.5zM564.5 810.9h2.5v2.5h-2.5zM529.3 824.7h2.5v2.5h-2.5zM571.5 824.5h2.5v2.5h-2.5zM557.1 811.3h2.5v2.5h-2.5zM593.7 780.0h2.5v2.5h-2.5zM591.8 774.3h2.5v2.5h-2.5zM581.8 835.1h2.5v2.5h-2.5zM555.2 799.3h2.5v2.5h-2.5zM517.9 795.4h2.5v2.5h-2.5zM575.3 814.6h2.5v2.5h-2.5zM580.5 783.8h2.5v2.5h-2.5zM568.4 807.8h2.5v2.5h-2.5zM586.0 811.4h2.5v2.5h-2.5zM559.3 821.2h2.5v2.5h-2.5zM568.4 817.1h2.5v2.5h-2.5zM568.6 808.0h2.5v2.5h-2.5zM559.3 811.5h2.5v2.5h-2.5zM590.1 828.7h2.5v2.5h-2.5zM573.1 763.1h2.5v2.5h-2.5zM557.1 787.9h2.5v2.5h-2.5zM588.0 826.8h2.5v2.5h-2.5zM581.9 806.0h2.5v2.5h-2.5zM579.5 804.3h2.5v2.5h-2.5zM592.9 821.6h2.5v2.5h-2.5zM572.9 805.0h2.5v2.5h-2.5zM534.0 846.0h2.5v2.5h-2.5zM583.0 776.7h2.5v2.5h-2.5zM557.9 847.2h2.5v2.5h-2.5zM565.4 810.3h2.5v2.5h-2.5zM552.8 791.1h2.5v2.5h-2.5zM569.0 810.6h2.5v2.5h-2.5zM552.2 795.7h2.5v2.5h-2.5zM565.5 806.6h2.5v2.5h-2.5zM573.1 798.7h2.5v2.5h-2.5zM564.6 801.8h2.5v2.5h-2.5zM568.7 801.9h2.5v2.5h-2.5zM581.1 809.0h2.5v2.5h-2.5zM610.3 825.1h2.5v2.5h-2.5zM548.0 786.7h2.5v2.5h-2.5zM585.0 824.4h2.5v2.5h-2.5zM546.5 815.0h2.5v2.5h-2.5zM552.3 828.6h2.5v2.5h-2.5zM574.2 792.9h2.5v2.5h-2.5zM556.9 793.9h2.5v2.5h-2.5zM560.0 811.9h2.5v2.5h-2.5zM580.5 825.9h2.5v2.5h-2.5zM564.0 842.2h2.5v2.5h-2.5zM546.9 830.4h2.5v2.5h-2.5zM525.8 783.3h2.5v2.5h-2.5zM545.7 760.5h2.5v2.5h-2.5zM566.3 787.6h2.5v2.5h-2.5zM601.7 776.1h2.5v2.5h-2.5zM545.2 793.9h2.5v2.5h-2.5zM553.0 805.9h2.5v2.5h-2.5zM582.2 833.5h2.5v2.5h-2.5zM553.6 819.8h2.5v2.5h-2.5zM568.5 809.4h2.5v2.5h-2.5zM563.6 800.7h2.5v2.5h-2.5zM570.2 796.7h2.5v2.5h-2.5zM540.8 830.5h2.5v2.5h-2.5zM580.0 815.2h2.5v2.5h-2.5zM581.8 772.1h2.5v2.5h-2.5zM580.8 824.5h2.5v2.5h-2.5zM576.1 787.8h2.5v2.5h-2.5zM609.8 771.3h2.5v2.5h-2.5z" fill="#3a6fd8"/>
<path d="M546.7 788.9h2.5v2.5h-2.5zM544.9 795.1h2.5v2.5h-2.5zM572.5 796.0h2.5v2.5h-2.5zM522.2 823.7h2.5v2.5h-2.5zM553.3 781.4h2.5v2.5h-2.5zM539.4 781.5h2.5v2.5h-2.5zM553.2 799.6h2.5v2.5h-2.5zM558.1 784.3h2.5v2.5h-2.5zM568.6 796.9h2.5v2.5h-2.5zM563.0 804.0h2.5v2.5h-2.5zM563.5 807.1h2.5v2.5h-2.5zM544.9 806.9h2.5v2.5h-2.5zM534.5 801.8h2.5v2.5h-2.5zM565.9 791.6h2.5v2.5h-2.5zM537.5 788.1h2.5v2.5h-2.5zM545.2 775.7h2.5v2.5h-2.5zM541.9 798.8h2.5v2.5h-2.5zM572.2 797.2h2.5v2.5h-2.5zM568.1 796.2h2.5v2.5h-2.5zM547.8 810.1h2.5v2.5h-2.5zM545.6 800.6h2.5v2.5h-2.5zM551.3 801.4h2.5v2.5h-2.5zM523.7 825.2h2.5v2.5h-2.5zM557.9 807.9h2.5v2.5h-2.5zM546.7 786.4h2.5v2.5h-2.5zM569.5 798.8h2.5v2.5h-2.5zM537.2 784.7h2.5v2.5h-2.5zM549.8 789.7h2.5v2.5h-2.5zM541.6 801.5h2.5v2.5h-2.5zM543.0 803.0h2.5v2.5h-2.5zM553.2 787.0h2.5v2.5h-2.5zM505.9 790.3h2.5v2.5h-2.5zM523.7 830.0h2.5v2.5h-2.5zM571.5 798.0h2.5v2.5h-2.5zM529.8 815.2h2.5v2.5h-2.5zM525.5 782.3h2.5v2.5h-2.5zM528.9 776.0h2.5v2.5h-2.5zM551.0 787.4h2.5v2.5h-2.5zM562.0 795.5h2.5v2.5h-2.5zM561.1 798.1h2.5v2.5h-2.5zM548.5 809.5h2.5v2.5h-2.5zM519.1 823.9h2.5v2.5h-2.5zM555.9 786.9h2.5v2.5h-2.5zM568.7 797.7h2.5v2.5h-2.5zM552.8 808.1h2.5v2.5h-2.5zM538.4 807.6h2.5v2.5h-2.5zM545.8 814.4h2.5v2.5h-2.5zM569.4 799.4h2.5v2.5h-2.5zM551.0 799.7h2.5v2.5h-2.5zM546.5 794.2h2.5v2.5h-2.5zM553.3 789.6h2.5v2.5h-2.5zM557.8 801.4h2.5v2.5h-2.5zM547.9 799.1h2.5v2.5h-2.5zM547.2 791.4h2.5v2.5h-2.5zM565.4 792.8h2.5v2.5h-2.5zM547.4 787.9h2.5v2.5h-2.5zM551.0 807.4h2.5v2.5h-2.5zM558.0 788.7h2.5v2.5h-2.5zM546.7 816.4h2.5v2.5h-2.5zM537.8 824.7h2.5v2.5h-2.5zM569.5 797.4h2.5v2.5h-2.5zM530.1 790.0h2.5v2.5h-2.5zM547.0 777.2h2.5v2.5h-2.5zM544.4 800.0h2.5v2.5h-2.5zM535.0 818.7h2.5v2.5h-2.5zM539.1 796.4h2.5v2.5h-2.5zM555.7 811.5h2.5v2.5h-2.5zM566.9 796.8h2.5v2.5h-2.5zM552.6 791.5h2.5v2.5h-2.5zM537.0 816.8h2.5v2.5h-2.5zM536.9 782.3h2.5v2.5h-2.5zM550.8 806.9h2.5v2.5h-2.5zM526.5 818.7h2.5v2.5h-2.5zM509.0 820.7h2.5v2.5h-2.5zM552.0 807.1h2.5v2.5h-2.5zM535.8 782.8h2.5v2.5h-2.5zM536.8 778.1h2.5v2.5h-2.5zM561.3 790.8h2.5v2.5h-2.5zM572.4 798.5h2.5v2.5h-2.5zM504.4 807.5h2.5v2.5h-2.5zM550.5 803.9h2.5v2.5h-2.5zM508.2 811.7h2.5v2.5h-2.5zM558.8 803.0h2.5v2.5h-2.5zM553.4 794.0h2.5v2.5h-2.5zM549.6 790.7h2.5v2.5h-2.5zM526.3 774.8h2.5v2.5h-2.5zM529.7 774.2h2.5v2.5h-2.5zM507.6 824.4h2.5v2.5h-2.5zM550.3 785.4h2.5v2.5h-2.5zM547.1 813.2h2.5v2.5h-2.5zM543.4 798.1h2.5v2.5h-2.5zM560.5 796.9h2.5v2.5h-2.5zM516.1 808.5h2.5v2.5h-2.5zM548.8 812.5h2.5v2.5h-2.5zM538.9 782.5h2.5v2.5h-2.5zM553.8 795.8h2.5v2.5h-2.5zM556.7 797.5h2.5v2.5h-2.5zM567.1 802.6h2.5v2.5h-2.5zM537.1 786.9h2.5v2.5h-2.5zM555.9 789.1h2.5v2.5h-2.5zM565.5 802.6h2.5v2.5h-2.5zM566.4 800.6h2.5v2.5h-2.5zM555.2 785.8h2.5v2.5h-2.5zM562.5 789.5h2.5v2.5h-2.5zM538.6 816.6h2.5v2.5h-2.5zM514.6 785.4h2.5v2.5h-2.5zM545.0 804.1h2.5v2.5h-2.5zM533.9 804.1h2.5v2.5h-2.5zM527.9 780.2h2.5v2.5h-2.5zM536.1 814.3h2.5v2.5h-2.5zM542.8 822.4h2.5v2.5h-2.5zM518.5 822.4h2.5v2.5h-2.5zM538.3 794.8h2.5v2.5h-2.5zM534.9 809.9h2.5v2.5h-2.5zM567.9 803.1h2.5v2.5h-2.5zM565.5 800.3h2.5v2.5h-2.5zM534.1 818.6h2.5v2.5h-2.5zM560.8 788.0h2.5v2.5h-2.5zM551.8 788.0h2.5v2.5h-2.5zM552.9 796.1h2.5v2.5h-2.5zM520.0 808.8h2.5v2.5h-2.5zM549.9 815.2h2.5v2.5h-2.5zM531.4 804.8h2.5v2.5h-2.5zM554.8 784.8h2.5v2.5h-2.5zM500.7 805.7h2.5v2.5h-2.5zM530.3 773.9h2.5v2.5h-2.5zM525.7 810.3h2.5v2.5h-2.5zM562.1 794.2h2.5v2.5h-2.5zM560.7 803.1h2.5v2.5h-2.5zM569.8 793.9h2.5v2.5h-2.5zM556.8 791.4h2.5v2.5h-2.5zM519.5 808.6h2.5v2.5h-2.5z" fill="#58b048"/>
<path d="M538.9 818.6h2.5v2.5h-2.5zM569.9 797.9h2.5v2.5h-2.5zM531.8 810.3h2.5v2.5h-2.5zM544.3 806.5h2.5v2.5h-2.5zM540.1 807.0h2.5v2.5h-2.5zM575.3 801.7h2.5v2.5h-2.5zM592.8 815.4h2.5v2.5h-2.5zM556.5 809.0h2.5v2.5h-2.5zM557.9 807.8h2.5v2.5h-2.5zM558.7 808.9h2.5v2.5h-2.5zM555.8 792.6h2.5v2.5h-2.5zM564.3 799.6h2.5v2.5h-2.5zM517.5 803.8h2.5v2.5h-2.5zM585.6 813.9h2.5v2.5h-2.5zM539.4 792.0h2.5v2.5h-2.5zM536.6 810.9h2.5v2.5h-2.5zM544.5 799.4h2.5v2.5h-2.5zM576.8 830.2h2.5v2.5h-2.5zM591.6 813.2h2.5v2.5h-2.5zM505.1 771.1h2.5v2.5h-2.5zM513.4 785.1h2.5v2.5h-2.5zM586.8 836.6h2.5v2.5h-2.5zM516.4 815.5h2.5v2.5h-2.5zM566.9 805.7h2.5v2.5h-2.5zM540.9 812.8h2.5v2.5h-2.5zM559.9 814.8h2.5v2.5h-2.5zM558.5 797.3h2.5v2.5h-2.5zM596.5 833.1h2.5v2.5h-2.5zM583.7 815.0h2.5v2.5h-2.5zM523.6 794.6h2.5v2.5h-2.5zM547.3 779.8h2.5v2.5h-2.5zM551.0 791.8h2.5v2.5h-2.5zM590.0 813.9h2.5v2.5h-2.5zM557.4 799.2h2.5v2.5h-2.5zM531.3 801.5h2.5v2.5h-2.5zM509.3 808.2h2.5v2.5h-2.5zM540.7 794.5h2.5v2.5h-2.5zM536.9 795.8h2.5v2.5h-2.5zM549.8 811.3h2.5v2.5h-2.5zM544.0 800.7h2.5v2.5h-2.5zM528.5 814.4h2.5v2.5h-2.5zM563.4 815.6h2.5v2.5h-2.5zM563.0 808.1h2.5v2.5h-2.5zM539.9 790.2h2.5v2.5h-2.5zM558.5 844.0h2.5v2.5h-2.5zM539.4 807.5h2.5v2.5h-2.5zM556.7 806.5h2.5v2.5h-2.5zM584.5 831.5h2.5v2.5h-2.5zM542.5 806.1h2.5v2.5h-2.5zM550.6 809.6h2.5v2.5h-2.5zM553.5 800.7h2.5v2.5h-2.5zM528.4 791.1h2.5v2.5h-2.5zM542.7 795.5h2.5v2.5h-2.5zM569.3 801.7h2.5v2.5h-2.5zM559.8 801.1h2.5v2.5h-2.5zM570.4 823.0h2.5v2.5h-2.5zM560.7 818.2h2.5v2.5h-2.5zM587.6 825.5h2.5v2.5h-2.5zM561.3 788.1h2.5v2.5h-2.5zM591.5 811.8h2.5v2.5h-2.5zM589.1 838.6h2.5v2.5h-2.5zM573.7 798.0h2.5v2.5h-2.5zM535.4 810.7h2.5v2.5h-2.5zM563.8 805.7h2.5v2.5h-2.5zM545.8 786.6h2.5v2.5h-2.5zM535.9 772.7h2.5v2.5h-2.5zM545.9 810.0h2.5v2.5h-2.5zM564.7 817.2h2.5v2.5h-2.5zM550.0 797.2h2.5v2.5h-2.5zM529.9 764.8h2.5v2.5h-2.5zM542.7 813.2h2.5v2.5h-2.5zM569.9 818.3h2.5v2.5h-2.5zM545.6 790.4h2.5v2.5h-2.5zM552.1 823.2h2.5v2.5h-2.5zM574.3 798.1h2.5v2.5h-2.5zM566.5 800.0h2.5v2.5h-2.5zM565.3 810.7h2.5v2.5h-2.5zM564.0 834.8h2.5v2.5h-2.5zM581.3 824.1h2.5v2.5h-2.5zM558.9 800.1h2.5v2.5h-2.5zM572.3 817.2h2.5v2.5h-2.5zM534.5 797.0h2.5v2.5h-2.5zM556.2 807.6h2.5v2.5h-2.5zM536.8 795.5h2.5v2.5h-2.5zM575.7 815.5h2.5v2.5h-2.5zM590.2 864.6h2.5v2.5h-2.5zM546.8 805.4h2.5v2.5h-2.5zM532.0 822.7h2.5v2.5h-2.5zM559.2 801.9h2.5v2.5h-2.5zM564.3 816.8h2.5v2.5h-2.5zM541.8 832.8h2.5v2.5h-2.5zM537.8 812.5h2.5v2.5h-2.5zM548.4 833.3h2.5v2.5h-2.5zM566.2 803.7h2.5v2.5h-2.5zM556.4 802.2h2.5v2.5h-2.5zM597.5 815.0h2.5v2.5h-2.5zM601.0 846.5h2.5v2.5h-2.5zM535.8 768.1h2.5v2.5h-2.5zM588.0 812.3h2.5v2.5h-2.5zM532.9 823.0h2.5v2.5h-2.5zM534.9 783.5h2.5v2.5h-2.5zM611.1 826.3h2.5v2.5h-2.5zM565.3 805.7h2.5v2.5h-2.5zM590.1 829.2h2.5v2.5h-2.5zM583.7 816.6h2.5v2.5h-2.5zM503.9 787.1h2.5v2.5h-2.5zM556.4 804.8h2.5v2.5h-2.5zM520.7 820.8h2.5v2.5h-2.5zM542.6 785.0h2.5v2.5h-2.5zM547.7 799.6h2.5v2.5h-2.5zM563.3 793.0h2.5v2.5h-2.5zM596.4 819.3h2.5v2.5h-2.5zM531.0 813.3h2.5v2.5h-2.5zM542.7 807.1h2.5v2.5h-2.5zM548.0 794.2h2.5v2.5h-2.5zM562.2 799.0h2.5v2.5h-2.5zM561.1 803.9h2.5v2.5h-2.5zM569.3 806.3h2.5v2.5h-2.5zM535.3 790.5h2.5v2.5h-2.5zM598.1 827.7h2.5v2.5h-2.5zM559.7 822.7h2.5v2.5h-2.5zM567.3 799.2h2.5v2.5h-2.5zM576.8 814.1h2.5v2.5h-2.5zM554.3 842.3h2.5v2.5h-2.5zM554.4 784.1h2.5v2.5h-2.5zM569.8 815.6h2.5v2.5h-2.5zM559.0 814.2h2.5v2.5h-2.5zM568.9 815.4h2.5v2.5h-2.5zM529.4 813.6h2.5v2.5h-2.5zM563.7 805.9h2.5v2.5h-2.5zM576.9 799.1h2.5v2.5h-2.5zM521.5 824.7h2.5v2.5h-2.5zM533.3 785.1h2.5v2.5h-2.5zM575.7 812.2h2.5v2.5h-2.5zM563.0 804.0h2.5v2.5h-2.5zM580.5 822.9h2.5v2.5h-2.5zM551.0 815.4h2.5v2.5h-2.5zM570.4 795.2h2.5v2.5h-2.5zM578.3 805.9h2.5v2.5h-2.5zM531.9 812.8h2.5v2.5h-2.5zM572.9 826.6h2.5v2.5h-2.5zM536.1 795.1h2.5v2.5h-2.5zM535.8 807.4h2.5v2.5h-2.5zM551.8 810.7h2.5v2.5h-2.5zM599.8 824.8h2.5v2.5h-2.5zM586.2 820.8h2.5v2.5h-2.5zM553.0 794.0h2.5v2.5h-2.5zM543.0 799.4h2.5v2.5h-2.5zM599.7 833.3h2.5v2.5h-2.5zM592.9 835.5h2.5v2.5h-2.5zM611.4 830.7h2.5v2.5h-2.5zM552.5 783.3h2.5v2.5h-2.5zM579.3 809.4h2.5v2.5h-2.5zM540.5 825.2h2.5v2.5h-2.5zM518.1 792.7h2.5v2.5h-2.5zM607.5 825.7h2.5v2.5h-2.5zM570.0 795.8h2.5v2.5h-2.5zM570.4 826.9h2.5v2.5h-2.5zM541.8 790.6h2.5v2.5h-2.5zM540.2 825.1h2.5v2.5h-2.5zM563.6 797.2h2.5v2.5h-2.5zM552.1 790.5h2.5v2.5h-2.5zM552.8 821.1h2.5v2.5h-2.5zM558.8 814.4h2.5v2.5h-2.5zM580.5 828.2h2.5v2.5h-2.5zM518.7 769.7h2.5v2.5h-2.5zM604.7 820.2h2.5v2.5h-2.5zM538.7 809.8h2.5v2.5h-2.5zM546.9 795.2h2.5v2.5h-2.5zM534.3 834.4h2.5v2.5h-2.5zM582.6 810.9h2.5v2.5h-2.5zM560.4 819.4h2.5v2.5h-2.5zM547.4 794.4h2.5v2.5h-2.5zM500.2 775.1h2.5v2.5h-2.5zM544.1 802.7h2.5v2.5h-2.5zM556.4 804.7h2.5v2.5h-2.5zM541.4 799.7h2.5v2.5h-2.5zM583.5 822.8h2.5v2.5h-2.5zM548.4 781.7h2.5v2.5h-2.5zM547.4 808.3h2.5v2.5h-2.5zM542.3 784.0h2.5v2.5h-2.5zM587.5 847.0h2.5v2.5h-2.5zM594.2 812.9h2.5v2.5h-2.5zM565.6 798.4h2.5v2.5h-2.5zM557.6 803.3h2.5v2.5h-2.5zM549.8 798.1h2.5v2.5h-2.5zM581.6 811.6h2.5v2.5h-2.5zM554.9 804.7h2.5v2.5h-2.5zM582.0 805.6h2.5v2.5h-2.5z" fill="#f09030"/>
<path d="M571.7 834.1h2.5v2.5h-2.5zM571.2 805.4h2.5v2.5h-2.5zM577.3 824.3h2.5v2.5h-2.5zM593.5 814.2h2.5v2.5h-2.5zM610.5 826.3h2.5v2.5h-2.5zM569.9 814.5h2.5v2.5h-2.5zM540.3 829.6h2.5v2.5h-2.5zM583.6 805.6h2.5v2.5h-2.5zM565.6 813.4h2.5v2.5h-2.5zM584.6 806.2h2.5v2.5h-2.5zM604.9 829.8h2.5v2.5h-2.5zM587.4 810.6h2.5v2.5h-2.5zM574.7 811.9h2.5v2.5h-2.5zM576.6 811.2h2.5v2.5h-2.5zM566.4 823.7h2.5v2.5h-2.5zM585.4 826.4h2.5v2.5h-2.5zM592.8 842.5h2.5v2.5h-2.5zM584.0 840.8h2.5v2.5h-2.5zM580.2 819.2h2.5v2.5h-2.5zM583.9 804.4h2.5v2.5h-2.5zM595.4 814.6h2.5v2.5h-2.5zM572.9 844.9h2.5v2.5h-2.5zM581.5 815.5h2.5v2.5h-2.5zM583.5 804.0h2.5v2.5h-2.5zM584.9 823.0h2.5v2.5h-2.5zM589.9 814.5h2.5v2.5h-2.5zM581.4 819.5h2.5v2.5h-2.5zM579.9 814.6h2.5v2.5h-2.5zM579.1 801.8h2.5v2.5h-2.5zM558.4 823.9h2.5v2.5h-2.5zM593.5 830.7h2.5v2.5h-2.5zM562.2 819.1h2.5v2.5h-2.5zM581.6 821.8h2.5v2.5h-2.5zM579.2 809.3h2.5v2.5h-2.5zM581.0 813.6h2.5v2.5h-2.5zM574.6 805.2h2.5v2.5h-2.5zM568.4 816.1h2.5v2.5h-2.5zM575.7 813.1h2.5v2.5h-2.5zM569.6 837.0h2.5v2.5h-2.5zM574.1 810.8h2.5v2.5h-2.5zM554.3 819.9h2.5v2.5h-2.5zM579.9 818.5h2.5v2.5h-2.5zM565.2 807.0h2.5v2.5h-2.5zM566.5 807.8h2.5v2.5h-2.5zM568.2 822.5h2.5v2.5h-2.5zM590.6 823.2h2.5v2.5h-2.5zM588.0 814.1h2.5v2.5h-2.5zM567.5 823.6h2.5v2.5h-2.5zM593.3 818.3h2.5v2.5h-2.5zM563.5 832.9h2.5v2.5h-2.5zM570.3 803.9h2.5v2.5h-2.5zM573.9 816.4h2.5v2.5h-2.5zM550.5 837.7h2.5v2.5h-2.5zM583.0 815.5h2.5v2.5h-2.5zM579.4 813.2h2.5v2.5h-2.5zM570.2 806.0h2.5v2.5h-2.5zM582.8 808.2h2.5v2.5h-2.5zM594.1 824.6h2.5v2.5h-2.5zM589.2 833.4h2.5v2.5h-2.5zM580.0 832.4h2.5v2.5h-2.5zM567.2 840.9h2.5v2.5h-2.5zM577.6 822.3h2.5v2.5h-2.5zM592.4 826.6h2.5v2.5h-2.5zM582.0 837.6h2.5v2.5h-2.5zM598.0 841.2h2.5v2.5h-2.5zM586.3 808.0h2.5v2.5h-2.5zM566.0 807.3h2.5v2.5h-2.5zM580.5 804.9h2.5v2.5h-2.5zM573.0 818.3h2.5v2.5h-2.5zM574.9 799.8h2.5v2.5h-2.5zM577.2 801.7h2.5v2.5h-2.5zM521.5 843.5h2.5v2.5h-2.5zM560.4 820.4h2.5v2.5h-2.5zM571.4 823.1h2.5v2.5h-2.5zM539.9 826.3h2.5v2.5h-2.5zM565.9 816.0h2.5v2.5h-2.5zM563.6 809.5h2.5v2.5h-2.5zM580.1 848.8h2.5v2.5h-2.5zM592.6 820.4h2.5v2.5h-2.5zM580.1 820.7h2.5v2.5h-2.5zM577.5 812.7h2.5v2.5h-2.5zM561.3 813.9h2.5v2.5h-2.5zM563.8 808.3h2.5v2.5h-2.5zM605.9 828.0h2.5v2.5h-2.5zM563.6 817.5h2.5v2.5h-2.5zM556.4 834.9h2.5v2.5h-2.5zM602.4 836.6h2.5v2.5h-2.5zM580.9 812.2h2.5v2.5h-2.5zM578.0 803.3h2.5v2.5h-2.5zM560.3 823.2h2.5v2.5h-2.5zM574.0 809.9h2.5v2.5h-2.5zM588.4 827.8h2.5v2.5h-2.5zM599.7 820.5h2.5v2.5h-2.5zM547.0 821.0h2.5v2.5h-2.5zM621.8 833.5h2.5v2.5h-2.5zM573.9 805.5h2.5v2.5h-2.5zM611.7 830.3h2.5v2.5h-2.5zM599.9 832.6h2.5v2.5h-2.5zM582.5 808.1h2.5v2.5h-2.5zM597.7 826.1h2.5v2.5h-2.5zM600.2 831.4h2.5v2.5h-2.5zM598.0 838.5h2.5v2.5h-2.5zM596.3 820.3h2.5v2.5h-2.5zM579.9 832.3h2.5v2.5h-2.5zM588.7 842.8h2.5v2.5h-2.5zM553.0 838.7h2.5v2.5h-2.5zM582.3 817.0h2.5v2.5h-2.5zM572.1 814.1h2.5v2.5h-2.5zM594.2 826.5h2.5v2.5h-2.5zM579.4 812.8h2.5v2.5h-2.5zM574.3 809.5h2.5v2.5h-2.5zM562.2 821.0h2.5v2.5h-2.5zM584.9 823.0h2.5v2.5h-2.5zM572.9 802.0h2.5v2.5h-2.5zM580.7 829.2h2.5v2.5h-2.5zM572.2 800.5h2.5v2.5h-2.5zM577.0 828.4h2.5v2.5h-2.5zM575.7 823.7h2.5v2.5h-2.5zM559.6 838.3h2.5v2.5h-2.5zM557.0 818.4h2.5v2.5h-2.5zM570.2 841.6h2.5v2.5h-2.5zM585.2 819.6h2.5v2.5h-2.5zM582.8 803.3h2.5v2.5h-2.5zM603.0 831.5h2.5v2.5h-2.5zM573.7 804.6h2.5v2.5h-2.5zM553.9 828.4h2.5v2.5h-2.5z" fill="#8a3aa0"/>
<path d="M591.5 794.7h2.5v2.5h-2.5zM564.2 774.7h2.5v2.5h-2.5zM624.3 805.0h2.5v2.5h-2.5zM589.8 792.4h2.5v2.5h-2.5zM596.0 783.3h2.5v2.5h-2.5zM593.3 810.7h2.5v2.5h-2.5zM591.9 808.1h2.5v2.5h-2.5zM605.9 803.2h2.5v2.5h-2.5zM589.7 758.9h2.5v2.5h-2.5zM624.3 800.2h2.5v2.5h-2.5zM587.2 803.2h2.5v2.5h-2.5zM581.6 777.4h2.5v2.5h-2.5zM596.3 806.1h2.5v2.5h-2.5zM593.4 793.4h2.5v2.5h-2.5zM581.6 795.0h2.5v2.5h-2.5zM617.5 801.9h2.5v2.5h-2.5zM571.9 790.6h2.5v2.5h-2.5zM583.2 775.4h2.5v2.5h-2.5zM628.0 799.5h2.5v2.5h-2.5zM604.2 765.8h2.5v2.5h-2.5zM614.8 794.6h2.5v2.5h-2.5zM589.4 792.7h2.5v2.5h-2.5zM586.0 800.6h2.5v2.5h-2.5zM597.5 774.0h2.5v2.5h-2.5zM603.5 805.2h2.5v2.5h-2.5zM597.3 792.9h2.5v2.5h-2.5zM570.5 782.7h2.5v2.5h-2.5zM590.6 790.2h2.5v2.5h-2.5zM581.4 796.3h2.5v2.5h-2.5zM605.2 817.0h2.5v2.5h-2.5zM586.9 793.0h2.5v2.5h-2.5zM593.4 795.8h2.5v2.5h-2.5zM578.9 772.7h2.5v2.5h-2.5zM612.1 785.8h2.5v2.5h-2.5zM586.2 791.2h2.5v2.5h-2.5zM553.7 776.3h2.5v2.5h-2.5zM586.7 780.0h2.5v2.5h-2.5zM609.1 821.0h2.5v2.5h-2.5zM608.8 790.0h2.5v2.5h-2.5zM634.2 818.1h2.5v2.5h-2.5zM625.0 818.5h2.5v2.5h-2.5zM633.7 758.9h2.5v2.5h-2.5zM584.6 780.0h2.5v2.5h-2.5zM578.3 785.5h2.5v2.5h-2.5zM584.0 785.2h2.5v2.5h-2.5zM593.9 789.9h2.5v2.5h-2.5zM589.1 784.2h2.5v2.5h-2.5zM576.5 772.4h2.5v2.5h-2.5zM587.5 796.1h2.5v2.5h-2.5zM601.1 799.6h2.5v2.5h-2.5zM598.0 803.4h2.5v2.5h-2.5zM601.9 802.3h2.5v2.5h-2.5zM606.8 811.9h2.5v2.5h-2.5zM589.0 797.7h2.5v2.5h-2.5zM613.0 807.4h2.5v2.5h-2.5zM582.8 798.7h2.5v2.5h-2.5zM593.2 802.9h2.5v2.5h-2.5zM566.6 788.9h2.5v2.5h-2.5zM599.5 768.5h2.5v2.5h-2.5zM585.7 795.9h2.5v2.5h-2.5zM612.8 785.8h2.5v2.5h-2.5zM596.7 759.1h2.5v2.5h-2.5zM598.7 801.2h2.5v2.5h-2.5zM599.4 751.4h2.5v2.5h-2.5zM614.8 770.7h2.5v2.5h-2.5zM588.5 794.0h2.5v2.5h-2.5zM554.6 779.4h2.5v2.5h-2.5zM557.3 775.6h2.5v2.5h-2.5zM574.6 776.0h2.5v2.5h-2.5zM529.3 759.0h2.5v2.5h-2.5zM581.3 786.2h2.5v2.5h-2.5zM525.0 750.3h2.5v2.5h-2.5zM610.3 800.2h2.5v2.5h-2.5zM589.7 804.9h2.5v2.5h-2.5zM570.7 769.7h2.5v2.5h-2.5zM623.2 784.6h2.5v2.5h-2.5zM613.5 807.7h2.5v2.5h-2.5zM587.7 786.5h2.5v2.5h-2.5zM546.5 768.8h2.5v2.5h-2.5zM605.1 790.4h2.5v2.5h-2.5zM572.7 781.9h2.5v2.5h-2.5zM546.3 764.0h2.5v2.5h-2.5zM560.3 784.8h2.5v2.5h-2.5zM547.3 771.4h2.5v2.5h-2.5zM579.6 775.7h2.5v2.5h-2.5zM570.2 770.1h2.5v2.5h-2.5zM605.4 784.1h2.5v2.5h-2.5zM575.3 777.4h2.5v2.5h-2.5zM607.4 799.7h2.5v2.5h-2.5zM571.3 783.1h2.5v2.5h-2.5zM587.0 797.9h2.5v2.5h-2.5zM601.9 747.2h2.5v2.5h-2.5zM572.2 781.1h2.5v2.5h-2.5zM612.5 806.7h2.5v2.5h-2.5zM557.7 777.9h2.5v2.5h-2.5zM607.1 797.3h2.5v2.5h-2.5zM594.5 787.4h2.5v2.5h-2.5zM624.6 819.8h2.5v2.5h-2.5zM600.2 804.2h2.5v2.5h-2.5zM594.7 760.9h2.5v2.5h-2.5zM616.9 816.5h2.5v2.5h-2.5zM608.7 813.8h2.5v2.5h-2.5zM603.2 792.5h2.5v2.5h-2.5zM615.6 793.9h2.5v2.5h-2.5zM571.5 787.9h2.5v2.5h-2.5zM556.2 780.4h2.5v2.5h-2.5zM637.1 803.5h2.5v2.5h-2.5zM582.9 797.7h2.5v2.5h-2.5zM587.5 787.1h2.5v2.5h-2.5zM582.0 797.2h2.5v2.5h-2.5zM619.9 765.1h2.5v2.5h-2.5zM582.7 787.3h2.5v2.5h-2.5zM614.3 827.1h2.5v2.5h-2.5zM558.3 767.8h2.5v2.5h-2.5zM569.8 770.4h2.5v2.5h-2.5zM606.8 791.3h2.5v2.5h-2.5zM580.0 738.5h2.5v2.5h-2.5zM578.7 779.0h2.5v2.5h-2.5zM603.7 817.3h2.5v2.5h-2.5zM607.5 807.4h2.5v2.5h-2.5zM586.0 791.8h2.5v2.5h-2.5zM645.7 786.1h2.5v2.5h-2.5zM606.3 816.9h2.5v2.5h-2.5zM601.3 766.6h2.5v2.5h-2.5zM603.2 783.9h2.5v2.5h-2.5zM597.4 775.7h2.5v2.5h-2.5zM552.4 777.4h2.5v2.5h-2.5zM602.2 802.1h2.5v2.5h-2.5zM581.4 777.5h2.5v2.5h-2.5zM562.7 771.2h2.5v2.5h-2.5zM599.4 798.8h2.5v2.5h-2.5zM582.2 771.6h2.5v2.5h-2.5zM595.0 787.3h2.5v2.5h-2.5zM640.5 768.4h2.5v2.5h-2.5zM617.9 766.7h2.5v2.5h-2.5zM584.4 783.4h2.5v2.5h-2.5zM585.0 753.7h2.5v2.5h-2.5zM588.7 776.7h2.5v2.5h-2.5zM587.1 783.6h2.5v2.5h-2.5zM601.8 795.4h2.5v2.5h-2.5zM614.1 801.6h2.5v2.5h-2.5zM580.0 748.7h2.5v2.5h-2.5zM580.4 787.1h2.5v2.5h-2.5zM572.5 765.0h2.5v2.5h-2.5zM595.8 798.5h2.5v2.5h-2.5zM615.1 761.3h2.5v2.5h-2.5zM581.6 802.2h2.5v2.5h-2.5zM598.4 813.0h2.5v2.5h-2.5zM608.1 785.4h2.5v2.5h-2.5zM582.0 793.2h2.5v2.5h-2.5zM600.1 812.9h2.5v2.5h-2.5zM589.0 785.9h2.5v2.5h-2.5zM562.9 786.7h2.5v2.5h-2.5zM582.1 784.5h2.5v2.5h-2.5zM599.4 801.0h2.5v2.5h-2.5zM564.7 757.5h2.5v2.5h-2.5zM596.4 778.6h2.5v2.5h-2.5zM591.0 801.6h2.5v2.5h-2.5zM570.5 743.2h2.5v2.5h-2.5zM620.1 808.4h2.5v2.5h-2.5zM597.3 778.0h2.5v2.5h-2.5z" fill="#e05a80"/>
<path d="M613.8 758.4h2.5v2.5h-2.5zM588.7 773.0h2.5v2.5h-2.5zM579.4 781.8h2.5v2.5h-2.5zM574.8 796.8h2.5v2.5h-2.5zM566.1 784.4h2.5v2.5h-2.5zM574.5 794.3h2.5v2.5h-2.5zM577.1 777.7h2.5v2.5h-2.5zM597.0 780.5h2.5v2.5h-2.5zM582.1 775.8h2.5v2.5h-2.5zM572.3 783.5h2.5v2.5h-2.5zM575.7 788.9h2.5v2.5h-2.5zM574.5 794.0h2.5v2.5h-2.5zM566.2 779.2h2.5v2.5h-2.5zM575.1 787.1h2.5v2.5h-2.5zM576.7 788.3h2.5v2.5h-2.5zM573.1 795.7h2.5v2.5h-2.5zM580.2 777.9h2.5v2.5h-2.5zM569.4 759.5h2.5v2.5h-2.5zM608.7 769.4h2.5v2.5h-2.5zM569.3 787.9h2.5v2.5h-2.5zM584.1 790.7h2.5v2.5h-2.5zM590.4 782.4h2.5v2.5h-2.5zM584.3 785.2h2.5v2.5h-2.5zM586.7 775.0h2.5v2.5h-2.5zM583.7 783.0h2.5v2.5h-2.5zM565.7 787.9h2.5v2.5h-2.5zM566.5 790.0h2.5v2.5h-2.5zM557.9 779.1h2.5v2.5h-2.5zM562.3 775.0h2.5v2.5h-2.5zM582.3 782.0h2.5v2.5h-2.5zM581.0 783.5h2.5v2.5h-2.5zM609.1 772.0h2.5v2.5h-2.5zM602.9 772.4h2.5v2.5h-2.5zM551.6 778.3h2.5v2.5h-2.5zM553.9 776.7h2.5v2.5h-2.5zM611.9 761.6h2.5v2.5h-2.5zM592.9 756.8h2.5v2.5h-2.5zM577.4 794.4h2.5v2.5h-2.5zM559.3 773.7h2.5v2.5h-2.5zM591.9 781.9h2.5v2.5h-2.5zM554.0 776.2h2.5v2.5h-2.5zM574.5 779.8h2.5v2.5h-2.5zM570.9 759.4h2.5v2.5h-2.5zM568.7 786.3h2.5v2.5h-2.5zM562.7 776.9h2.5v2.5h-2.5zM576.8 780.4h2.5v2.5h-2.5zM578.0 790.7h2.5v2.5h-2.5zM620.7 762.7h2.5v2.5h-2.5zM574.5 770.0h2.5v2.5h-2.5zM565.6 777.5h2.5v2.5h-2.5zM570.0 779.6h2.5v2.5h-2.5zM581.5 792.2h2.5v2.5h-2.5zM572.7 795.4h2.5v2.5h-2.5zM572.9 789.1h2.5v2.5h-2.5zM572.3 789.1h2.5v2.5h-2.5zM551.0 761.9h2.5v2.5h-2.5zM581.2 779.1h2.5v2.5h-2.5zM611.8 766.8h2.5v2.5h-2.5zM592.3 781.7h2.5v2.5h-2.5zM588.7 781.4h2.5v2.5h-2.5zM567.1 780.5h2.5v2.5h-2.5zM571.5 789.3h2.5v2.5h-2.5zM584.1 782.1h2.5v2.5h-2.5zM592.1 783.4h2.5v2.5h-2.5zM584.8 783.7h2.5v2.5h-2.5zM575.6 784.6h2.5v2.5h-2.5zM579.2 792.4h2.5v2.5h-2.5zM582.5 781.2h2.5v2.5h-2.5zM570.4 789.6h2.5v2.5h-2.5zM546.0 762.5h2.5v2.5h-2.5zM579.6 773.0h2.5v2.5h-2.5zM586.1 778.2h2.5v2.5h-2.5zM574.8 784.8h2.5v2.5h-2.5zM595.7 769.6h2.5v2.5h-2.5zM568.4 787.9h2.5v2.5h-2.5zM585.5 784.6h2.5v2.5h-2.5zM594.3 763.2h2.5v2.5h-2.5zM576.2 769.4h2.5v2.5h-2.5zM564.5 781.7h2.5v2.5h-2.5zM587.7 772.9h2.5v2.5h-2.5zM550.6 777.3h2.5v2.5h-2.5zM576.0 767.0h2.5v2.5h-2.5zM571.0 788.8h2.5v2.5h-2.5zM563.3 788.0h2.5v2.5h-2.5zM584.5 789.2h2.5v2.5h-2.5zM563.2 780.0h2.5v2.5h-2.5zM576.1 794.8h2.5v2.5h-2.5zM564.3 763.9h2.5v2.5h-2.5zM572.1 793.8h2.5v2.5h-2.5zM575.9 787.7h2.5v2.5h-2.5zM577.1 790.6h2.5v2.5h-2.5zM571.5 781.0h2.5v2.5h-2.5zM602.1 743.4h2.5v2.5h-2.5zM578.7 762.5h2.5v2.5h-2.5zM559.8 779.3h2.5v2.5h-2.5zM571.1 786.7h2.5v2.5h-2.5zM606.9 767.0h2.5v2.5h-2.5zM581.8 793.0h2.5v2.5h-2.5zM577.3 768.2h2.5v2.5h-2.5zM540.7 749.9h2.5v2.5h-2.5zM566.5 767.1h2.5v2.5h-2.5zM598.7 759.0h2.5v2.5h-2.5zM572.9 778.7h2.5v2.5h-2.5zM567.6 780.5h2.5v2.5h-2.5zM573.0 791.3h2.5v2.5h-2.5zM570.4 775.2h2.5v2.5h-2.5zM562.5 785.9h2.5v2.5h-2.5zM597.1 767.3h2.5v2.5h-2.5zM579.3 793.5h2.5v2.5h-2.5zM575.6 794.4h2.5v2.5h-2.5zM570.8 770.2h2.5v2.5h-2.5zM564.9 775.8h2.5v2.5h-2.5zM577.8 791.2h2.5v2.5h-2.5zM578.1 784.1h2.5v2.5h-2.5zM592.4 770.5h2.5v2.5h-2.5zM562.3 770.9h2.5v2.5h-2.5zM582.8 784.9h2.5v2.5h-2.5zM571.7 786.2h2.5v2.5h-2.5zM575.7 790.4h2.5v2.5h-2.5zM569.1 780.4h2.5v2.5h-2.5zM573.6 785.3h2.5v2.5h-2.5zM578.6 788.2h2.5v2.5h-2.5zM591.7 782.3h2.5v2.5h-2.5zM566.9 788.4h2.5v2.5h-2.5zM572.0 793.8h2.5v2.5h-2.5zM568.8 759.3h2.5v2.5h-2.5zM603.5 768.8h2.5v2.5h-2.5zM532.2 762.2h2.5v2.5h-2.5zM563.8 781.1h2.5v2.5h-2.5zM562.7 785.0h2.5v2.5h-2.5z" fill="#e87830"/>
<path d="M595.2 817.8h2.2v2.2h-2.2zM578.7 817.0h2.2v2.2h-2.2zM576.8 810.7h2.2v2.2h-2.2zM588.2 820.2h2.2v2.2h-2.2zM546.7 859.0h2.2v2.2h-2.2zM583.1 814.7h2.2v2.2h-2.2zM571.1 831.5h2.2v2.2h-2.2zM552.9 841.2h2.2v2.2h-2.2zM572.2 816.5h2.2v2.2h-2.2zM600.9 825.5h2.2v2.2h-2.2zM576.3 811.3h2.2v2.2h-2.2zM572.4 859.0h2.2v2.2h-2.2zM597.8 843.0h2.2v2.2h-2.2zM609.5 843.3h2.2v2.2h-2.2zM566.8 827.8h2.2v2.2h-2.2zM596.0 852.2h2.2v2.2h-2.2zM543.3 829.8h2.2v2.2h-2.2zM543.0 833.9h2.2v2.2h-2.2zM575.6 799.1h2.2v2.2h-2.2zM584.2 828.2h2.2v2.2h-2.2zM590.6 813.8h2.2v2.2h-2.2zM586.7 856.0h2.2v2.2h-2.2zM581.7 820.3h2.2v2.2h-2.2zM567.8 815.4h2.2v2.2h-2.2z" fill="#46b04a" fill-opacity="0.85"/>
<path d="M554.7 838.9h2.2v2.2h-2.2zM600.7 831.2h2.2v2.2h-2.2zM554.5 753.0h2.2v2.2h-2.2zM573.4 784.8h2.2v2.2h-2.2zM561.8 793.6h2.2v2.2h-2.2zM522.4 772.8h2.2v2.2h-2.2zM583.3 804.1h2.2v2.2h-2.2zM589.5 833.9h2.2v2.2h-2.2zM557.1 858.5h2.2v2.2h-2.2zM552.0 826.3h2.2v2.2h-2.2zM566.7 859.4h2.2v2.2h-2.2zM533.4 814.3h2.2v2.2h-2.2zM540.2 775.9h2.2v2.2h-2.2zM556.8 822.6h2.2v2.2h-2.2zM562.1 878.4h2.2v2.2h-2.2zM533.1 846.2h2.2v2.2h-2.2zM539.5 770.9h2.2v2.2h-2.2zM555.6 822.3h2.2v2.2h-2.2zM549.4 833.1h2.2v2.2h-2.2zM577.7 807.5h2.2v2.2h-2.2zM582.9 815.3h2.2v2.2h-2.2zM552.7 819.9h2.2v2.2h-2.2zM563.4 848.9h2.2v2.2h-2.2zM539.6 834.4h2.2v2.2h-2.2zM556.1 835.0h2.2v2.2h-2.2zM574.0 824.3h2.2v2.2h-2.2zM537.5 851.4h2.2v2.2h-2.2zM538.2 826.0h2.2v2.2h-2.2zM577.9 789.4h2.2v2.2h-2.2zM591.4 810.2h2.2v2.2h-2.2zM542.0 797.1h2.2v2.2h-2.2zM577.5 811.0h2.2v2.2h-2.2zM546.2 801.9h2.2v2.2h-2.2zM584.8 805.4h2.2v2.2h-2.2zM602.9 751.7h2.2v2.2h-2.2zM556.6 740.9h2.2v2.2h-2.2zM563.8 822.7h2.2v2.2h-2.2zM570.5 837.4h2.2v2.2h-2.2zM527.2 736.6h2.2v2.2h-2.2zM565.3 798.7h2.2v2.2h-2.2zM580.3 784.5h2.2v2.2h-2.2zM551.9 846.7h2.2v2.2h-2.2zM539.7 825.2h2.2v2.2h-2.2zM577.3 812.2h2.2v2.2h-2.2zM566.5 791.6h2.2v2.2h-2.2zM572.6 789.0h2.2v2.2h-2.2zM538.5 830.1h2.2v2.2h-2.2zM608.2 828.4h2.2v2.2h-2.2zM520.8 800.5h2.2v2.2h-2.2zM524.2 807.6h2.2v2.2h-2.2zM535.1 777.3h2.2v2.2h-2.2zM599.8 822.5h2.2v2.2h-2.2zM573.8 748.1h2.2v2.2h-2.2zM574.3 818.5h2.2v2.2h-2.2zM564.4 793.7h2.2v2.2h-2.2zM578.8 841.1h2.2v2.2h-2.2zM557.9 828.4h2.2v2.2h-2.2zM571.3 805.0h2.2v2.2h-2.2zM508.1 861.3h2.2v2.2h-2.2zM568.0 806.0h2.2v2.2h-2.2zM556.0 786.0h2.2v2.2h-2.2zM600.3 867.6h2.2v2.2h-2.2zM554.9 766.9h2.2v2.2h-2.2zM559.8 774.9h2.2v2.2h-2.2zM530.0 775.9h2.2v2.2h-2.2zM560.1 813.2h2.2v2.2h-2.2zM553.5 826.3h2.2v2.2h-2.2zM583.8 846.0h2.2v2.2h-2.2zM578.9 788.0h2.2v2.2h-2.2zM604.8 761.3h2.2v2.2h-2.2zM556.1 835.7h2.2v2.2h-2.2zM578.3 823.6h2.2v2.2h-2.2zM602.5 822.6h2.2v2.2h-2.2zM567.6 819.5h2.2v2.2h-2.2zM589.1 815.0h2.2v2.2h-2.2zM579.9 779.0h2.2v2.2h-2.2zM572.1 805.8h2.2v2.2h-2.2zM586.0 821.0h2.2v2.2h-2.2zM550.3 831.6h2.2v2.2h-2.2zM505.8 818.2h2.2v2.2h-2.2zM510.2 761.6h2.2v2.2h-2.2zM578.8 811.5h2.2v2.2h-2.2zM571.4 830.0h2.2v2.2h-2.2zM574.3 802.6h2.2v2.2h-2.2zM598.2 756.9h2.2v2.2h-2.2zM557.2 789.0h2.2v2.2h-2.2zM588.2 780.2h2.2v2.2h-2.2zM560.8 796.6h2.2v2.2h-2.2zM610.4 825.5h2.2v2.2h-2.2zM534.6 841.3h2.2v2.2h-2.2zM574.7 830.5h2.2v2.2h-2.2zM553.6 825.8h2.2v2.2h-2.2zM566.3 808.9h2.2v2.2h-2.2zM583.4 786.9h2.2v2.2h-2.2zM516.8 853.4h2.2v2.2h-2.2zM569.6 827.7h2.2v2.2h-2.2zM526.1 812.7h2.2v2.2h-2.2zM593.2 781.4h2.2v2.2h-2.2z" fill="#3a6fd8" fill-opacity="0.85"/>
<path d="M585.4 827.7h2.2v2.2h-2.2zM558.5 820.4h2.2v2.2h-2.2zM600.4 828.2h2.2v2.2h-2.2zM564.7 828.1h2.2v2.2h-2.2zM554.6 820.2h2.2v2.2h-2.2zM566.5 829.6h2.2v2.2h-2.2zM544.2 827.8h2.2v2.2h-2.2zM558.7 813.6h2.2v2.2h-2.2zM549.6 845.2h2.2v2.2h-2.2zM526.0 839.8h2.2v2.2h-2.2zM589.7 836.0h2.2v2.2h-2.2zM570.7 818.1h2.2v2.2h-2.2zM538.5 843.1h2.2v2.2h-2.2zM597.1 840.7h2.2v2.2h-2.2zM571.2 855.0h2.2v2.2h-2.2zM556.6 869.2h2.2v2.2h-2.2zM579.9 812.2h2.2v2.2h-2.2zM538.0 837.4h2.2v2.2h-2.2zM560.5 847.1h2.2v2.2h-2.2zM576.3 823.0h2.2v2.2h-2.2zM567.4 807.2h2.2v2.2h-2.2zM582.0 818.7h2.2v2.2h-2.2zM555.6 825.7h2.2v2.2h-2.2zM592.6 816.2h2.2v2.2h-2.2zM556.0 829.5h2.2v2.2h-2.2zM528.9 856.1h2.2v2.2h-2.2zM577.6 828.1h2.2v2.2h-2.2z" fill="#8a3aa0" fill-opacity="0.85"/>
<path d="M664.9 799.1h2.2v2.2h-2.2zM572.3 809.1h2.2v2.2h-2.2zM507.3 782.2h2.2v2.2h-2.2zM542.5 844.7h2.2v2.2h-2.2zM563.5 826.0h2.2v2.2h-2.2zM569.4 848.3h2.2v2.2h-2.2zM585.7 823.3h2.2v2.2h-2.2zM562.4 845.9h2.2v2.2h-2.2zM617.6 793.4h2.2v2.2h-2.2zM610.0 804.4h2.2v2.2h-2.2zM593.9 804.6h2.2v2.2h-2.2zM533.1 834.2h2.2v2.2h-2.2zM606.4 787.6h2.2v2.2h-2.2zM620.5 819.2h2.2v2.2h-2.2zM638.9 796.4h2.2v2.2h-2.2zM587.9 821.7h2.2v2.2h-2.2zM633.6 792.5h2.2v2.2h-2.2zM597.6 797.7h2.2v2.2h-2.2zM578.1 816.0h2.2v2.2h-2.2zM585.7 804.9h2.2v2.2h-2.2zM641.5 789.7h2.2v2.2h-2.2zM581.1 844.4h2.2v2.2h-2.2zM611.9 779.5h2.2v2.2h-2.2zM605.9 837.3h2.2v2.2h-2.2zM561.1 791.7h2.2v2.2h-2.2zM601.6 820.8h2.2v2.2h-2.2zM540.8 843.4h2.2v2.2h-2.2zM618.4 798.1h2.2v2.2h-2.2zM560.8 814.2h2.2v2.2h-2.2zM553.5 805.4h2.2v2.2h-2.2zM557.0 863.5h2.2v2.2h-2.2zM592.4 839.9h2.2v2.2h-2.2zM586.2 811.3h2.2v2.2h-2.2zM559.5 811.0h2.2v2.2h-2.2zM622.3 777.9h2.2v2.2h-2.2zM614.8 775.0h2.2v2.2h-2.2zM528.4 778.7h2.2v2.2h-2.2zM583.2 823.9h2.2v2.2h-2.2zM544.7 823.2h2.2v2.2h-2.2zM608.1 825.2h2.2v2.2h-2.2zM566.2 841.7h2.2v2.2h-2.2zM508.5 788.3h2.2v2.2h-2.2zM568.8 822.7h2.2v2.2h-2.2zM505.1 770.9h2.2v2.2h-2.2zM614.2 820.2h2.2v2.2h-2.2zM499.6 819.8h2.2v2.2h-2.2zM526.4 803.9h2.2v2.2h-2.2zM630.6 774.6h2.2v2.2h-2.2zM615.5 790.5h2.2v2.2h-2.2zM610.9 824.9h2.2v2.2h-2.2zM566.7 809.5h2.2v2.2h-2.2zM575.6 823.8h2.2v2.2h-2.2zM578.8 841.5h2.2v2.2h-2.2zM578.6 812.8h2.2v2.2h-2.2zM580.8 811.8h2.2v2.2h-2.2zM593.3 819.7h2.2v2.2h-2.2zM591.3 844.7h2.2v2.2h-2.2zM563.0 809.9h2.2v2.2h-2.2zM558.1 816.6h2.2v2.2h-2.2zM637.8 841.0h2.2v2.2h-2.2zM597.7 823.4h2.2v2.2h-2.2zM629.6 850.4h2.2v2.2h-2.2zM600.9 839.5h2.2v2.2h-2.2zM566.2 799.7h2.2v2.2h-2.2zM593.4 847.6h2.2v2.2h-2.2zM571.1 822.7h2.2v2.2h-2.2zM584.0 840.9h2.2v2.2h-2.2zM594.9 806.3h2.2v2.2h-2.2zM571.9 822.3h2.2v2.2h-2.2zM541.5 794.7h2.2v2.2h-2.2zM547.4 788.8h2.2v2.2h-2.2zM625.7 762.9h2.2v2.2h-2.2zM600.6 854.3h2.2v2.2h-2.2zM605.0 795.5h2.2v2.2h-2.2z" fill="#35b6e6" fill-opacity="0.85"/>
<path d="M570.8 785.8h2.2v2.2h-2.2zM612.5 789.4h2.2v2.2h-2.2zM529.0 796.9h2.2v2.2h-2.2zM541.6 813.8h2.2v2.2h-2.2zM520.8 830.4h2.2v2.2h-2.2zM566.8 800.9h2.2v2.2h-2.2zM544.7 771.1h2.2v2.2h-2.2zM572.9 778.0h2.2v2.2h-2.2zM512.3 786.9h2.2v2.2h-2.2zM596.6 797.3h2.2v2.2h-2.2zM553.5 787.4h2.2v2.2h-2.2zM546.0 819.1h2.2v2.2h-2.2zM573.8 828.3h2.2v2.2h-2.2zM547.2 810.6h2.2v2.2h-2.2zM641.3 813.6h2.2v2.2h-2.2zM583.3 818.5h2.2v2.2h-2.2zM578.1 773.5h2.2v2.2h-2.2zM594.9 784.5h2.2v2.2h-2.2zM580.4 799.8h2.2v2.2h-2.2zM555.8 806.0h2.2v2.2h-2.2zM591.6 772.4h2.2v2.2h-2.2zM554.2 799.5h2.2v2.2h-2.2zM566.5 776.6h2.2v2.2h-2.2zM619.9 783.9h2.2v2.2h-2.2zM613.3 808.9h2.2v2.2h-2.2zM565.2 801.5h2.2v2.2h-2.2zM588.0 791.7h2.2v2.2h-2.2zM604.8 787.9h2.2v2.2h-2.2zM602.2 806.4h2.2v2.2h-2.2zM530.0 778.6h2.2v2.2h-2.2zM599.5 807.2h2.2v2.2h-2.2zM580.6 836.3h2.2v2.2h-2.2zM592.3 765.6h2.2v2.2h-2.2zM656.4 827.2h2.2v2.2h-2.2zM538.1 783.3h2.2v2.2h-2.2zM541.8 808.0h2.2v2.2h-2.2zM555.1 768.3h2.2v2.2h-2.2zM581.6 777.2h2.2v2.2h-2.2zM532.7 832.2h2.2v2.2h-2.2zM582.1 812.5h2.2v2.2h-2.2zM554.8 805.7h2.2v2.2h-2.2zM564.1 788.8h2.2v2.2h-2.2zM652.3 793.3h2.2v2.2h-2.2zM573.9 815.0h2.2v2.2h-2.2zM603.9 820.0h2.2v2.2h-2.2zM543.2 818.5h2.2v2.2h-2.2zM591.1 818.1h2.2v2.2h-2.2zM589.7 795.6h2.2v2.2h-2.2zM523.1 800.9h2.2v2.2h-2.2zM622.1 802.3h2.2v2.2h-2.2zM593.1 782.1h2.2v2.2h-2.2zM555.9 827.5h2.2v2.2h-2.2zM585.8 795.6h2.2v2.2h-2.2zM516.3 823.3h2.2v2.2h-2.2zM655.6 840.0h2.2v2.2h-2.2zM541.1 788.4h2.2v2.2h-2.2zM548.5 744.9h2.2v2.2h-2.2zM589.4 773.9h2.2v2.2h-2.2zM534.9 795.0h2.2v2.2h-2.2zM590.5 811.6h2.2v2.2h-2.2zM571.4 784.5h2.2v2.2h-2.2zM546.4 802.1h2.2v2.2h-2.2zM571.7 805.8h2.2v2.2h-2.2zM626.3 795.4h2.2v2.2h-2.2zM609.0 789.2h2.2v2.2h-2.2zM629.1 813.4h2.2v2.2h-2.2zM554.4 781.2h2.2v2.2h-2.2zM539.8 779.7h2.2v2.2h-2.2zM574.5 743.9h2.2v2.2h-2.2zM571.8 795.6h2.2v2.2h-2.2zM565.6 756.4h2.2v2.2h-2.2zM586.0 764.6h2.2v2.2h-2.2zM577.7 783.7h2.2v2.2h-2.2zM541.6 814.4h2.2v2.2h-2.2zM536.1 789.2h2.2v2.2h-2.2zM563.7 807.5h2.2v2.2h-2.2zM581.0 755.4h2.2v2.2h-2.2zM530.4 827.7h2.2v2.2h-2.2zM618.9 796.2h2.2v2.2h-2.2zM606.9 781.2h2.2v2.2h-2.2zM569.3 809.0h2.2v2.2h-2.2zM550.4 797.7h2.2v2.2h-2.2z" fill="#f02828" fill-opacity="0.85"/>
<path d="M564.2 787.8h2.2v2.2h-2.2zM550.3 777.6h2.2v2.2h-2.2zM549.8 773.7h2.2v2.2h-2.2zM565.9 780.9h2.2v2.2h-2.2zM582.0 771.9h2.2v2.2h-2.2zM593.3 780.6h2.2v2.2h-2.2zM575.4 787.1h2.2v2.2h-2.2zM571.4 781.4h2.2v2.2h-2.2zM575.6 747.9h2.2v2.2h-2.2zM584.4 768.6h2.2v2.2h-2.2zM568.3 763.2h2.2v2.2h-2.2zM582.3 757.3h2.2v2.2h-2.2zM591.7 762.9h2.2v2.2h-2.2zM597.4 763.3h2.2v2.2h-2.2zM571.1 746.7h2.2v2.2h-2.2zM552.2 765.1h2.2v2.2h-2.2zM560.0 750.7h2.2v2.2h-2.2zM590.8 774.8h2.2v2.2h-2.2zM575.7 787.8h2.2v2.2h-2.2zM566.9 771.3h2.2v2.2h-2.2z" fill="#a82040" fill-opacity="0.85"/>
<path d="M615.6 806.3h2.2v2.2h-2.2zM659.2 783.1h2.2v2.2h-2.2zM570.8 774.3h2.2v2.2h-2.2zM603.9 806.1h2.2v2.2h-2.2zM533.4 760.9h2.2v2.2h-2.2zM603.5 795.3h2.2v2.2h-2.2zM602.8 797.6h2.2v2.2h-2.2zM623.0 813.0h2.2v2.2h-2.2zM570.7 770.1h2.2v2.2h-2.2zM590.9 801.0h2.2v2.2h-2.2zM611.4 786.1h2.2v2.2h-2.2zM569.5 782.0h2.2v2.2h-2.2zM534.5 762.9h2.2v2.2h-2.2zM616.2 807.3h2.2v2.2h-2.2zM574.9 751.4h2.2v2.2h-2.2zM577.5 765.0h2.2v2.2h-2.2zM631.8 806.9h2.2v2.2h-2.2zM600.2 812.6h2.2v2.2h-2.2zM601.9 790.7h2.2v2.2h-2.2zM618.3 791.2h2.2v2.2h-2.2zM567.3 779.2h2.2v2.2h-2.2zM543.4 765.8h2.2v2.2h-2.2zM609.1 773.0h2.2v2.2h-2.2zM556.9 778.4h2.2v2.2h-2.2zM600.5 791.4h2.2v2.2h-2.2zM585.2 800.1h2.2v2.2h-2.2zM586.7 789.3h2.2v2.2h-2.2z" fill="#e05a80" fill-opacity="0.85"/>
<path d="M559.2 786.0h2.2v2.2h-2.2zM530.0 793.7h2.2v2.2h-2.2zM537.3 775.7h2.2v2.2h-2.2zM533.6 808.5h2.2v2.2h-2.2zM576.9 810.4h2.2v2.2h-2.2zM590.5 830.6h2.2v2.2h-2.2zM554.4 801.4h2.2v2.2h-2.2zM520.4 824.7h2.2v2.2h-2.2zM537.6 815.7h2.2v2.2h-2.2zM522.3 831.6h2.2v2.2h-2.2zM545.4 785.9h2.2v2.2h-2.2zM531.1 799.5h2.2v2.2h-2.2zM546.3 789.7h2.2v2.2h-2.2zM571.5 838.2h2.2v2.2h-2.2zM552.9 803.7h2.2v2.2h-2.2zM614.0 849.8h2.2v2.2h-2.2zM559.4 799.7h2.2v2.2h-2.2zM561.7 823.3h2.2v2.2h-2.2zM546.1 816.9h2.2v2.2h-2.2zM508.3 799.1h2.2v2.2h-2.2zM561.6 787.2h2.2v2.2h-2.2zM533.8 810.1h2.2v2.2h-2.2zM571.3 815.6h2.2v2.2h-2.2zM497.8 856.9h2.2v2.2h-2.2zM510.9 806.3h2.2v2.2h-2.2zM501.2 776.3h2.2v2.2h-2.2zM561.6 794.2h2.2v2.2h-2.2zM547.8 816.8h2.2v2.2h-2.2zM513.6 798.3h2.2v2.2h-2.2zM546.8 800.7h2.2v2.2h-2.2zM526.9 794.6h2.2v2.2h-2.2zM516.8 804.1h2.2v2.2h-2.2zM522.0 779.0h2.2v2.2h-2.2zM533.7 813.1h2.2v2.2h-2.2zM511.0 780.0h2.2v2.2h-2.2zM572.4 800.5h2.2v2.2h-2.2zM562.2 808.8h2.2v2.2h-2.2zM553.8 792.6h2.2v2.2h-2.2zM543.1 795.7h2.2v2.2h-2.2zM533.1 798.8h2.2v2.2h-2.2zM541.3 822.9h2.2v2.2h-2.2zM541.9 801.9h2.2v2.2h-2.2zM543.3 820.3h2.2v2.2h-2.2zM557.3 796.7h2.2v2.2h-2.2zM545.7 817.5h2.2v2.2h-2.2zM529.2 785.6h2.2v2.2h-2.2zM517.2 787.8h2.2v2.2h-2.2zM559.2 797.8h2.2v2.2h-2.2zM550.1 794.5h2.2v2.2h-2.2zM534.8 861.9h2.2v2.2h-2.2zM533.7 828.0h2.2v2.2h-2.2zM534.9 801.5h2.2v2.2h-2.2zM538.7 805.2h2.2v2.2h-2.2zM590.5 823.1h2.2v2.2h-2.2zM556.9 800.1h2.2v2.2h-2.2zM541.4 808.3h2.2v2.2h-2.2zM527.9 829.8h2.2v2.2h-2.2zM535.2 795.8h2.2v2.2h-2.2zM515.9 826.3h2.2v2.2h-2.2zM589.4 814.9h2.2v2.2h-2.2zM560.1 808.1h2.2v2.2h-2.2zM595.9 830.5h2.2v2.2h-2.2zM546.9 817.8h2.2v2.2h-2.2zM553.8 840.0h2.2v2.2h-2.2zM571.6 799.6h2.2v2.2h-2.2zM570.4 795.2h2.2v2.2h-2.2zM546.3 815.2h2.2v2.2h-2.2zM546.1 802.5h2.2v2.2h-2.2zM560.1 799.8h2.2v2.2h-2.2zM535.7 835.5h2.2v2.2h-2.2zM572.3 795.7h2.2v2.2h-2.2zM566.1 856.3h2.2v2.2h-2.2zM549.8 784.0h2.2v2.2h-2.2zM551.8 815.1h2.2v2.2h-2.2z" fill="#e8e030" fill-opacity="0.85"/>
<path d="M630.3 821.5h2.2v2.2h-2.2zM622.0 797.1h2.2v2.2h-2.2zM568.3 779.3h2.2v2.2h-2.2zM621.1 787.7h2.2v2.2h-2.2zM614.2 800.9h2.2v2.2h-2.2zM570.7 776.9h2.2v2.2h-2.2zM600.8 796.8h2.2v2.2h-2.2zM614.3 814.3h2.2v2.2h-2.2zM605.2 798.6h2.2v2.2h-2.2zM617.6 803.1h2.2v2.2h-2.2zM606.9 796.7h2.2v2.2h-2.2zM585.8 783.2h2.2v2.2h-2.2zM641.2 778.8h2.2v2.2h-2.2zM601.1 794.6h2.2v2.2h-2.2zM618.2 750.8h2.2v2.2h-2.2zM573.1 792.0h2.2v2.2h-2.2zM603.5 781.2h2.2v2.2h-2.2zM646.3 808.0h2.2v2.2h-2.2zM611.8 803.2h2.2v2.2h-2.2zM593.0 789.8h2.2v2.2h-2.2zM597.9 799.6h2.2v2.2h-2.2zM601.3 771.8h2.2v2.2h-2.2zM583.1 778.1h2.2v2.2h-2.2zM584.0 770.3h2.2v2.2h-2.2zM618.7 829.9h2.2v2.2h-2.2zM605.3 814.6h2.2v2.2h-2.2zM608.5 799.2h2.2v2.2h-2.2zM599.3 771.2h2.2v2.2h-2.2zM560.8 757.7h2.2v2.2h-2.2zM614.2 780.8h2.2v2.2h-2.2zM605.4 803.9h2.2v2.2h-2.2zM557.7 772.9h2.2v2.2h-2.2zM634.9 819.5h2.2v2.2h-2.2zM586.4 793.1h2.2v2.2h-2.2z" fill="#7a3a9a" fill-opacity="0.85"/>
<path d="M601.2 782.3h2.2v2.2h-2.2zM565.2 792.3h2.2v2.2h-2.2zM594.0 815.0h2.2v2.2h-2.2zM584.2 796.2h2.2v2.2h-2.2zM564.6 792.2h2.2v2.2h-2.2zM617.9 792.8h2.2v2.2h-2.2zM491.5 747.4h2.2v2.2h-2.2zM575.0 845.2h2.2v2.2h-2.2zM568.5 792.6h2.2v2.2h-2.2zM560.2 797.1h2.2v2.2h-2.2zM623.3 763.5h2.2v2.2h-2.2zM596.7 811.3h2.2v2.2h-2.2zM621.4 789.2h2.2v2.2h-2.2zM601.3 787.4h2.2v2.2h-2.2zM636.4 828.4h2.2v2.2h-2.2zM631.5 818.2h2.2v2.2h-2.2zM646.5 811.0h2.2v2.2h-2.2zM554.5 823.7h2.2v2.2h-2.2zM551.9 827.8h2.2v2.2h-2.2zM553.7 812.6h2.2v2.2h-2.2zM512.9 798.1h2.2v2.2h-2.2zM561.8 801.1h2.2v2.2h-2.2zM610.6 809.5h2.2v2.2h-2.2zM597.2 800.9h2.2v2.2h-2.2zM605.3 836.5h2.2v2.2h-2.2zM630.0 760.6h2.2v2.2h-2.2zM597.0 793.3h2.2v2.2h-2.2zM663.2 786.0h2.2v2.2h-2.2zM634.0 762.7h2.2v2.2h-2.2zM528.6 764.9h2.2v2.2h-2.2zM607.0 781.8h2.2v2.2h-2.2zM612.9 810.7h2.2v2.2h-2.2zM535.5 801.0h2.2v2.2h-2.2zM599.3 813.1h2.2v2.2h-2.2zM508.0 835.1h2.2v2.2h-2.2zM612.7 858.5h2.2v2.2h-2.2zM556.5 806.4h2.2v2.2h-2.2zM572.6 836.2h2.2v2.2h-2.2zM619.5 815.8h2.2v2.2h-2.2zM526.2 776.4h2.2v2.2h-2.2zM617.2 793.0h2.2v2.2h-2.2zM519.0 797.6h2.2v2.2h-2.2zM646.6 808.8h2.2v2.2h-2.2zM581.5 805.8h2.2v2.2h-2.2zM612.7 790.8h2.2v2.2h-2.2zM579.8 808.2h2.2v2.2h-2.2zM559.5 832.1h2.2v2.2h-2.2zM539.6 819.5h2.2v2.2h-2.2zM552.9 799.8h2.2v2.2h-2.2zM601.5 817.4h2.2v2.2h-2.2zM616.2 802.1h2.2v2.2h-2.2zM614.1 796.1h2.2v2.2h-2.2zM545.8 776.5h2.2v2.2h-2.2zM560.7 807.0h2.2v2.2h-2.2zM632.3 799.6h2.2v2.2h-2.2zM582.3 802.9h2.2v2.2h-2.2zM568.4 795.6h2.2v2.2h-2.2zM507.9 815.9h2.2v2.2h-2.2zM587.6 798.7h2.2v2.2h-2.2zM589.0 834.1h2.2v2.2h-2.2zM548.0 834.4h2.2v2.2h-2.2zM601.9 815.9h2.2v2.2h-2.2zM582.2 797.1h2.2v2.2h-2.2zM623.8 782.3h2.2v2.2h-2.2zM611.8 815.4h2.2v2.2h-2.2zM569.1 809.9h2.2v2.2h-2.2zM573.4 826.0h2.2v2.2h-2.2zM644.3 783.0h2.2v2.2h-2.2zM569.5 806.9h2.2v2.2h-2.2zM633.3 822.2h2.2v2.2h-2.2zM602.4 808.8h2.2v2.2h-2.2zM609.5 803.1h2.2v2.2h-2.2zM521.6 829.7h2.2v2.2h-2.2zM528.8 799.8h2.2v2.2h-2.2zM605.4 786.3h2.2v2.2h-2.2zM577.2 804.7h2.2v2.2h-2.2zM622.5 833.2h2.2v2.2h-2.2zM615.1 798.3h2.2v2.2h-2.2zM599.2 826.2h2.2v2.2h-2.2zM635.5 836.1h2.2v2.2h-2.2z" fill="#a02040" fill-opacity="0.85"/>
<path d="M526.0 822.4h2.2v2.2h-2.2zM539.1 792.9h2.2v2.2h-2.2zM546.3 795.7h2.2v2.2h-2.2zM570.5 796.9h2.2v2.2h-2.2zM549.3 786.2h2.2v2.2h-2.2zM519.1 783.8h2.2v2.2h-2.2zM542.2 802.1h2.2v2.2h-2.2zM518.8 820.0h2.2v2.2h-2.2zM520.9 786.2h2.2v2.2h-2.2zM555.9 784.1h2.2v2.2h-2.2zM532.5 798.5h2.2v2.2h-2.2zM562.5 796.9h2.2v2.2h-2.2zM556.9 796.4h2.2v2.2h-2.2zM533.9 803.6h2.2v2.2h-2.2zM540.4 819.6h2.2v2.2h-2.2zM513.6 831.3h2.2v2.2h-2.2zM555.7 795.4h2.2v2.2h-2.2zM544.6 786.5h2.2v2.2h-2.2zM557.8 788.4h2.2v2.2h-2.2zM500.8 831.3h2.2v2.2h-2.2zM529.3 815.7h2.2v2.2h-2.2zM528.3 802.4h2.2v2.2h-2.2zM537.1 785.1h2.2v2.2h-2.2zM511.6 771.7h2.2v2.2h-2.2zM536.5 813.1h2.2v2.2h-2.2zM539.1 790.3h2.2v2.2h-2.2zM515.8 790.2h2.2v2.2h-2.2zM536.0 802.8h2.2v2.2h-2.2zM573.6 798.8h2.2v2.2h-2.2zM544.0 778.8h2.2v2.2h-2.2zM506.2 803.6h2.2v2.2h-2.2zM549.1 799.0h2.2v2.2h-2.2zM539.3 785.3h2.2v2.2h-2.2zM521.6 823.8h2.2v2.2h-2.2zM544.1 782.1h2.2v2.2h-2.2zM533.7 799.0h2.2v2.2h-2.2zM519.5 831.1h2.2v2.2h-2.2zM546.4 784.3h2.2v2.2h-2.2z" fill="#58b048" fill-opacity="0.85"/>
<path d="M613.9 822.9h2.2v2.2h-2.2zM606.2 778.9h2.2v2.2h-2.2zM595.1 804.6h2.2v2.2h-2.2zM637.4 789.2h2.2v2.2h-2.2zM612.9 796.7h2.2v2.2h-2.2zM608.1 813.8h2.2v2.2h-2.2zM585.7 791.8h2.2v2.2h-2.2zM586.5 801.5h2.2v2.2h-2.2zM589.8 790.6h2.2v2.2h-2.2zM616.3 806.1h2.2v2.2h-2.2zM590.9 806.1h2.2v2.2h-2.2zM630.3 790.6h2.2v2.2h-2.2zM616.6 812.4h2.2v2.2h-2.2zM605.2 793.6h2.2v2.2h-2.2zM621.8 782.5h2.2v2.2h-2.2zM591.2 806.5h2.2v2.2h-2.2zM612.6 797.4h2.2v2.2h-2.2zM617.7 815.4h2.2v2.2h-2.2zM623.8 798.0h2.2v2.2h-2.2zM585.4 795.5h2.2v2.2h-2.2zM601.7 788.7h2.2v2.2h-2.2zM590.0 803.7h2.2v2.2h-2.2zM658.7 781.7h2.2v2.2h-2.2zM617.5 805.8h2.2v2.2h-2.2zM632.4 807.4h2.2v2.2h-2.2zM633.6 787.1h2.2v2.2h-2.2zM628.7 779.4h2.2v2.2h-2.2zM613.6 808.6h2.2v2.2h-2.2zM589.6 808.0h2.2v2.2h-2.2zM605.4 789.6h2.2v2.2h-2.2zM604.8 814.1h2.2v2.2h-2.2zM606.1 783.2h2.2v2.2h-2.2zM629.9 793.5h2.2v2.2h-2.2zM604.3 798.8h2.2v2.2h-2.2zM629.0 808.9h2.2v2.2h-2.2zM618.9 827.2h2.2v2.2h-2.2zM608.6 786.6h2.2v2.2h-2.2zM623.3 764.6h2.2v2.2h-2.2zM624.9 805.6h2.2v2.2h-2.2zM611.3 824.8h2.2v2.2h-2.2zM619.6 775.6h2.2v2.2h-2.2zM640.6 774.5h2.2v2.2h-2.2zM629.1 823.2h2.2v2.2h-2.2zM585.5 796.1h2.2v2.2h-2.2zM637.0 790.7h2.2v2.2h-2.2zM625.8 816.4h2.2v2.2h-2.2zM613.2 812.2h2.2v2.2h-2.2zM610.5 822.8h2.2v2.2h-2.2zM599.9 789.0h2.2v2.2h-2.2zM599.7 793.7h2.2v2.2h-2.2z" fill="#3850c8" fill-opacity="0.85"/>
<path d="M586.6 844.3h2.2v2.2h-2.2zM593.9 826.5h2.2v2.2h-2.2zM498.1 785.3h2.2v2.2h-2.2zM573.2 822.7h2.2v2.2h-2.2zM540.0 799.5h2.2v2.2h-2.2zM537.8 811.6h2.2v2.2h-2.2zM567.9 795.1h2.2v2.2h-2.2zM536.4 803.7h2.2v2.2h-2.2zM546.7 800.4h2.2v2.2h-2.2zM592.0 823.0h2.2v2.2h-2.2zM606.6 828.8h2.2v2.2h-2.2zM583.5 817.8h2.2v2.2h-2.2zM514.9 808.3h2.2v2.2h-2.2zM544.6 788.9h2.2v2.2h-2.2zM564.9 798.8h2.2v2.2h-2.2zM528.3 841.2h2.2v2.2h-2.2zM575.8 827.5h2.2v2.2h-2.2zM511.4 812.3h2.2v2.2h-2.2zM559.7 798.2h2.2v2.2h-2.2zM555.2 809.9h2.2v2.2h-2.2zM597.7 819.9h2.2v2.2h-2.2zM584.8 806.6h2.2v2.2h-2.2zM555.9 815.5h2.2v2.2h-2.2zM556.1 804.0h2.2v2.2h-2.2zM515.1 812.5h2.2v2.2h-2.2zM546.0 808.6h2.2v2.2h-2.2zM543.3 809.5h2.2v2.2h-2.2zM547.7 797.8h2.2v2.2h-2.2zM582.0 817.4h2.2v2.2h-2.2zM502.0 757.5h2.2v2.2h-2.2zM581.2 832.0h2.2v2.2h-2.2zM547.6 818.4h2.2v2.2h-2.2zM534.1 807.6h2.2v2.2h-2.2zM533.5 801.9h2.2v2.2h-2.2zM565.5 799.5h2.2v2.2h-2.2zM567.8 818.6h2.2v2.2h-2.2zM565.1 850.0h2.2v2.2h-2.2zM585.6 821.2h2.2v2.2h-2.2zM551.7 805.8h2.2v2.2h-2.2zM510.5 793.1h2.2v2.2h-2.2zM560.8 788.9h2.2v2.2h-2.2zM519.1 794.2h2.2v2.2h-2.2zM566.1 804.2h2.2v2.2h-2.2zM556.2 836.9h2.2v2.2h-2.2zM526.1 772.5h2.2v2.2h-2.2zM568.0 794.4h2.2v2.2h-2.2zM535.8 808.2h2.2v2.2h-2.2z" fill="#f09030" fill-opacity="0.85"/>
<path d="M570.1 787.6h2.2v2.2h-2.2zM563.0 765.0h2.2v2.2h-2.2zM571.3 790.1h2.2v2.2h-2.2zM564.3 771.1h2.2v2.2h-2.2zM574.4 796.4h2.2v2.2h-2.2zM554.4 775.2h2.2v2.2h-2.2zM565.9 785.9h2.2v2.2h-2.2z" fill="#e8d040" fill-opacity="0.85"/>
<path d="M578.2 768.2h2.2v2.2h-2.2zM564.4 764.2h2.2v2.2h-2.2zM561.7 782.6h2.2v2.2h-2.2zM576.8 794.6h2.2v2.2h-2.2zM582.9 755.2h2.2v2.2h-2.2zM561.4 786.2h2.2v2.2h-2.2zM548.6 772.7h2.2v2.2h-2.2zM555.5 750.1h2.2v2.2h-2.2zM612.6 767.3h2.2v2.2h-2.2zM615.5 766.3h2.2v2.2h-2.2zM591.7 783.5h2.2v2.2h-2.2zM584.8 782.5h2.2v2.2h-2.2zM576.5 770.3h2.2v2.2h-2.2zM553.6 780.5h2.2v2.2h-2.2zM585.1 783.1h2.2v2.2h-2.2zM550.6 763.4h2.2v2.2h-2.2z" fill="#e87830" fill-opacity="0.85"/>
<path d="M528.9 812.6h2.6v2.6h-2.6zM529.7 811.6h2.6v2.6h-2.6zM515.2 778.4h2.6v2.6h-2.6zM519.7 768.9h2.6v2.6h-2.6zM529.5 757.8h2.6v2.6h-2.6zM503.1 781.5h2.6v2.6h-2.6zM542.3 760.3h2.6v2.6h-2.6zM528.7 791.9h2.6v2.6h-2.6zM526.1 797.4h2.6v2.6h-2.6zM512.7 786.5h2.6v2.6h-2.6zM503.7 783.2h2.6v2.6h-2.6zM518.5 781.3h2.6v2.6h-2.6zM519.3 778.4h2.6v2.6h-2.6zM502.0 755.2h2.6v2.6h-2.6zM521.2 761.6h2.6v2.6h-2.6zM520.9 793.9h2.6v2.6h-2.6zM514.3 813.6h2.6v2.6h-2.6zM518.1 806.0h2.6v2.6h-2.6zM521.5 809.9h2.6v2.6h-2.6zM509.1 764.9h2.6v2.6h-2.6zM519.2 767.6h2.6v2.6h-2.6zM522.9 798.6h2.6v2.6h-2.6zM520.0 833.5h2.6v2.6h-2.6zM525.1 798.5h2.6v2.6h-2.6zM516.8 801.5h2.6v2.6h-2.6zM517.1 800.9h2.6v2.6h-2.6zM489.5 792.1h2.6v2.6h-2.6zM524.5 773.7h2.6v2.6h-2.6zM517.1 814.8h2.6v2.6h-2.6zM493.8 839.7h2.6v2.6h-2.6zM517.2 757.2h2.6v2.6h-2.6zM526.6 792.1h2.6v2.6h-2.6zM532.1 811.8h2.6v2.6h-2.6zM523.5 802.3h2.6v2.6h-2.6zM505.6 780.4h2.6v2.6h-2.6zM520.2 774.3h2.6v2.6h-2.6zM511.9 798.4h2.6v2.6h-2.6zM527.4 780.5h2.6v2.6h-2.6zM525.9 806.4h2.6v2.6h-2.6zM517.1 803.0h2.6v2.6h-2.6zM519.7 781.6h2.6v2.6h-2.6zM513.5 790.0h2.6v2.6h-2.6zM521.8 784.0h2.6v2.6h-2.6zM511.6 798.6h2.6v2.6h-2.6zM512.6 763.9h2.6v2.6h-2.6zM526.1 800.5h2.6v2.6h-2.6zM531.0 803.9h2.6v2.6h-2.6zM514.7 795.0h2.6v2.6h-2.6zM521.8 836.1h2.6v2.6h-2.6zM523.6 827.1h2.6v2.6h-2.6zM516.2 830.5h2.6v2.6h-2.6zM528.2 774.5h2.6v2.6h-2.6zM520.6 787.3h2.6v2.6h-2.6zM529.9 793.7h2.6v2.6h-2.6zM521.0 801.9h2.6v2.6h-2.6zM520.7 790.8h2.6v2.6h-2.6zM506.1 795.7h2.6v2.6h-2.6zM518.3 815.8h2.6v2.6h-2.6zM523.3 813.1h2.6v2.6h-2.6zM529.4 808.9h2.6v2.6h-2.6zM500.1 792.6h2.6v2.6h-2.6zM507.0 810.5h2.6v2.6h-2.6zM528.2 777.8h2.6v2.6h-2.6zM523.1 804.5h2.6v2.6h-2.6zM512.9 775.8h2.6v2.6h-2.6zM516.7 768.7h2.6v2.6h-2.6zM508.8 794.0h2.6v2.6h-2.6zM521.9 804.7h2.6v2.6h-2.6zM530.9 787.3h2.6v2.6h-2.6zM507.5 798.9h2.6v2.6h-2.6zM520.3 773.4h2.6v2.6h-2.6zM497.6 812.7h2.6v2.6h-2.6zM518.3 814.1h2.6v2.6h-2.6zM528.2 808.5h2.6v2.6h-2.6zM524.2 795.9h2.6v2.6h-2.6zM535.4 816.8h2.6v2.6h-2.6zM506.2 781.3h2.6v2.6h-2.6zM510.0 779.5h2.6v2.6h-2.6zM509.2 788.3h2.6v2.6h-2.6zM509.6 792.5h2.6v2.6h-2.6zM524.0 808.2h2.6v2.6h-2.6zM516.2 792.0h2.6v2.6h-2.6zM516.9 769.5h2.6v2.6h-2.6zM524.1 778.5h2.6v2.6h-2.6z" fill="#f2ee6a" fill-opacity="0.45"/>
<path d="M531.4 789.5h2.6v2.6h-2.6zM515.5 774.4h2.6v2.6h-2.6zM530.2 820.0h2.6v2.6h-2.6zM517.1 764.4h2.6v2.6h-2.6zM517.6 780.4h2.6v2.6h-2.6zM510.3 748.9h2.6v2.6h-2.6zM518.2 808.8h2.6v2.6h-2.6zM517.6 819.8h2.6v2.6h-2.6zM518.3 830.2h2.6v2.6h-2.6zM504.1 786.2h2.6v2.6h-2.6zM521.0 796.9h2.6v2.6h-2.6zM525.5 800.1h2.6v2.6h-2.6zM515.3 794.6h2.6v2.6h-2.6zM513.0 802.6h2.6v2.6h-2.6zM526.9 778.3h2.6v2.6h-2.6zM515.3 820.1h2.6v2.6h-2.6zM508.1 777.5h2.6v2.6h-2.6zM517.7 785.7h2.6v2.6h-2.6zM511.7 818.3h2.6v2.6h-2.6zM514.0 789.8h2.6v2.6h-2.6zM514.2 796.7h2.6v2.6h-2.6zM523.2 765.3h2.6v2.6h-2.6zM511.6 801.8h2.6v2.6h-2.6zM512.4 783.6h2.6v2.6h-2.6zM513.6 814.0h2.6v2.6h-2.6zM519.7 809.9h2.6v2.6h-2.6zM527.4 815.5h2.6v2.6h-2.6zM532.5 772.1h2.6v2.6h-2.6zM515.6 772.6h2.6v2.6h-2.6zM506.6 828.7h2.6v2.6h-2.6zM524.1 804.0h2.6v2.6h-2.6zM523.2 823.1h2.6v2.6h-2.6zM501.2 819.8h2.6v2.6h-2.6zM530.9 792.9h2.6v2.6h-2.6zM523.7 809.1h2.6v2.6h-2.6zM522.4 779.7h2.6v2.6h-2.6zM517.5 809.9h2.6v2.6h-2.6zM540.6 791.7h2.6v2.6h-2.6zM523.3 792.0h2.6v2.6h-2.6zM507.8 796.8h2.6v2.6h-2.6zM511.8 784.7h2.6v2.6h-2.6zM526.7 841.8h2.6v2.6h-2.6zM519.6 776.7h2.6v2.6h-2.6zM508.3 758.1h2.6v2.6h-2.6zM524.0 800.7h2.6v2.6h-2.6zM516.1 799.4h2.6v2.6h-2.6zM510.3 780.0h2.6v2.6h-2.6zM497.0 767.5h2.6v2.6h-2.6zM520.5 791.1h2.6v2.6h-2.6zM515.7 761.8h2.6v2.6h-2.6zM533.8 768.1h2.6v2.6h-2.6zM512.5 792.7h2.6v2.6h-2.6zM523.0 793.2h2.6v2.6h-2.6zM520.5 764.6h2.6v2.6h-2.6zM524.5 789.5h2.6v2.6h-2.6zM524.0 774.8h2.6v2.6h-2.6zM514.8 785.1h2.6v2.6h-2.6zM527.1 816.7h2.6v2.6h-2.6zM521.8 782.4h2.6v2.6h-2.6zM512.9 798.1h2.6v2.6h-2.6zM521.1 777.4h2.6v2.6h-2.6zM510.9 773.9h2.6v2.6h-2.6zM516.4 810.1h2.6v2.6h-2.6zM514.5 797.7h2.6v2.6h-2.6zM518.7 776.6h2.6v2.6h-2.6zM513.5 817.1h2.6v2.6h-2.6zM530.3 789.5h2.6v2.6h-2.6zM517.2 809.8h2.6v2.6h-2.6zM527.2 787.2h2.6v2.6h-2.6zM518.0 820.6h2.6v2.6h-2.6zM520.5 794.9h2.6v2.6h-2.6zM516.5 787.5h2.6v2.6h-2.6zM519.0 775.7h2.6v2.6h-2.6zM516.9 803.6h2.6v2.6h-2.6zM508.7 788.8h2.6v2.6h-2.6zM510.0 762.1h2.6v2.6h-2.6zM533.7 768.1h2.6v2.6h-2.6zM511.4 799.2h2.6v2.6h-2.6zM522.5 822.3h2.6v2.6h-2.6zM523.3 802.5h2.6v2.6h-2.6zM508.5 783.5h2.6v2.6h-2.6zM519.3 797.5h2.6v2.6h-2.6zM520.5 799.9h2.6v2.6h-2.6z" fill="#eef27a" fill-opacity="0.45"/>
<path d="M523.7 778.1h2.6v2.6h-2.6zM512.8 770.2h2.6v2.6h-2.6zM508.1 801.8h2.6v2.6h-2.6zM524.1 808.7h2.6v2.6h-2.6zM518.2 769.7h2.6v2.6h-2.6zM519.8 770.7h2.6v2.6h-2.6zM511.4 789.5h2.6v2.6h-2.6zM535.4 769.2h2.6v2.6h-2.6zM503.6 795.4h2.6v2.6h-2.6zM513.9 812.0h2.6v2.6h-2.6zM513.5 798.1h2.6v2.6h-2.6zM507.1 811.2h2.6v2.6h-2.6zM515.8 840.7h2.6v2.6h-2.6zM522.1 804.6h2.6v2.6h-2.6zM520.4 794.6h2.6v2.6h-2.6zM511.4 803.1h2.6v2.6h-2.6zM519.6 796.9h2.6v2.6h-2.6zM524.5 790.8h2.6v2.6h-2.6zM519.0 765.8h2.6v2.6h-2.6zM521.2 823.4h2.6v2.6h-2.6zM517.0 797.4h2.6v2.6h-2.6zM513.5 790.2h2.6v2.6h-2.6zM517.2 799.2h2.6v2.6h-2.6zM501.4 822.5h2.6v2.6h-2.6zM520.8 764.0h2.6v2.6h-2.6zM527.9 759.5h2.6v2.6h-2.6zM514.7 777.5h2.6v2.6h-2.6zM527.3 812.8h2.6v2.6h-2.6zM516.2 792.5h2.6v2.6h-2.6zM513.2 791.8h2.6v2.6h-2.6zM523.9 750.9h2.6v2.6h-2.6zM523.4 796.0h2.6v2.6h-2.6zM533.5 775.9h2.6v2.6h-2.6zM525.1 838.1h2.6v2.6h-2.6zM521.3 773.3h2.6v2.6h-2.6zM524.8 811.4h2.6v2.6h-2.6zM502.5 786.8h2.6v2.6h-2.6zM514.7 780.9h2.6v2.6h-2.6zM526.1 786.0h2.6v2.6h-2.6zM517.8 779.2h2.6v2.6h-2.6zM521.6 789.5h2.6v2.6h-2.6zM538.3 796.3h2.6v2.6h-2.6zM522.2 810.2h2.6v2.6h-2.6zM514.2 768.8h2.6v2.6h-2.6zM516.9 795.5h2.6v2.6h-2.6zM517.8 770.5h2.6v2.6h-2.6zM519.1 794.6h2.6v2.6h-2.6zM511.5 788.3h2.6v2.6h-2.6zM502.7 767.5h2.6v2.6h-2.6zM515.6 814.2h2.6v2.6h-2.6zM525.8 785.6h2.6v2.6h-2.6zM542.6 782.8h2.6v2.6h-2.6zM517.9 798.3h2.6v2.6h-2.6zM514.1 808.5h2.6v2.6h-2.6zM527.4 812.3h2.6v2.6h-2.6zM525.8 814.3h2.6v2.6h-2.6zM511.7 785.1h2.6v2.6h-2.6zM526.0 810.5h2.6v2.6h-2.6zM518.3 808.9h2.6v2.6h-2.6zM520.0 806.4h2.6v2.6h-2.6zM515.4 781.3h2.6v2.6h-2.6zM507.0 796.6h2.6v2.6h-2.6zM526.4 799.4h2.6v2.6h-2.6zM519.1 812.6h2.6v2.6h-2.6zM541.3 790.6h2.6v2.6h-2.6zM527.2 769.4h2.6v2.6h-2.6zM524.7 803.1h2.6v2.6h-2.6zM497.5 796.2h2.6v2.6h-2.6zM530.0 775.8h2.6v2.6h-2.6zM511.8 775.1h2.6v2.6h-2.6zM523.2 794.5h2.6v2.6h-2.6zM516.8 795.9h2.6v2.6h-2.6zM520.9 787.5h2.6v2.6h-2.6zM517.4 843.4h2.6v2.6h-2.6zM527.2 776.1h2.6v2.6h-2.6zM518.9 798.5h2.6v2.6h-2.6zM511.5 788.5h2.6v2.6h-2.6zM519.4 778.9h2.6v2.6h-2.6zM514.7 815.0h2.6v2.6h-2.6zM529.1 785.2h2.6v2.6h-2.6zM518.9 812.9h2.6v2.6h-2.6zM532.1 763.8h2.6v2.6h-2.6zM507.0 791.8h2.6v2.6h-2.6zM512.1 813.7h2.6v2.6h-2.6zM515.3 806.6h2.6v2.6h-2.6zM525.6 813.3h2.6v2.6h-2.6zM516.7 788.3h2.6v2.6h-2.6zM511.4 773.3h2.6v2.6h-2.6zM522.0 774.5h2.6v2.6h-2.6zM512.1 812.6h2.6v2.6h-2.6zM528.2 768.7h2.6v2.6h-2.6zM528.4 774.8h2.6v2.6h-2.6zM504.6 810.4h2.6v2.6h-2.6z" fill="#dfe860" fill-opacity="0.45"/>
<path d="M561.5 859.9h2.0v2.0h-2.0zM565.1 845.5h2.0v2.0h-2.0zM596.0 851.6h2.0v2.0h-2.0zM565.4 832.3h2.0v2.0h-2.0zM573.3 890.0h2.0v2.0h-2.0zM555.7 881.9h2.0v2.0h-2.0zM565.4 854.4h2.0v2.0h-2.0zM568.2 840.4h2.0v2.0h-2.0zM564.0 877.0h2.0v2.0h-2.0zM579.5 836.1h2.0v2.0h-2.0zM538.5 878.4h2.0v2.0h-2.0zM576.0 852.7h2.0v2.0h-2.0zM572.6 845.4h2.0v2.0h-2.0zM546.4 833.7h2.0v2.0h-2.0zM594.6 862.9h2.0v2.0h-2.0zM560.7 858.8h2.0v2.0h-2.0zM559.7 857.9h2.0v2.0h-2.0zM585.4 823.4h2.0v2.0h-2.0z" fill="#3a6fd8" fill-opacity="0.9"/>
<path d="M544.6 870.4h2.0v2.0h-2.0zM574.6 872.7h2.0v2.0h-2.0zM526.0 859.7h2.0v2.0h-2.0zM563.4 874.5h2.0v2.0h-2.0zM559.4 856.4h2.0v2.0h-2.0zM576.3 866.5h2.0v2.0h-2.0zM573.3 858.4h2.0v2.0h-2.0zM597.5 849.4h2.0v2.0h-2.0zM574.6 863.1h2.0v2.0h-2.0zM569.8 842.3h2.0v2.0h-2.0zM572.6 869.8h2.0v2.0h-2.0zM567.4 846.1h2.0v2.0h-2.0zM556.1 859.2h2.0v2.0h-2.0zM550.6 863.9h2.0v2.0h-2.0zM584.5 861.2h2.0v2.0h-2.0zM583.6 846.3h2.0v2.0h-2.0zM562.4 838.3h2.0v2.0h-2.0zM571.9 878.4h2.0v2.0h-2.0zM591.3 827.3h2.0v2.0h-2.0zM568.9 828.0h2.0v2.0h-2.0zM557.3 852.5h2.0v2.0h-2.0zM600.9 874.7h2.0v2.0h-2.0z" fill="#35b6e6" fill-opacity="0.9"/>
<path d="M593.7 837.5h2.0v2.0h-2.0zM583.3 859.9h2.0v2.0h-2.0zM591.7 846.1h2.0v2.0h-2.0zM525.3 869.8h2.0v2.0h-2.0zM556.0 869.1h2.0v2.0h-2.0zM553.1 863.4h2.0v2.0h-2.0zM611.2 856.2h2.0v2.0h-2.0zM566.0 869.4h2.0v2.0h-2.0zM570.1 853.6h2.0v2.0h-2.0zM572.1 834.5h2.0v2.0h-2.0zM559.7 850.0h2.0v2.0h-2.0zM567.7 857.4h2.0v2.0h-2.0zM570.6 852.3h2.0v2.0h-2.0zM572.8 880.3h2.0v2.0h-2.0zM550.7 846.4h2.0v2.0h-2.0zM552.1 867.8h2.0v2.0h-2.0zM577.5 842.5h2.0v2.0h-2.0zM572.3 825.7h2.0v2.0h-2.0zM549.4 828.9h2.0v2.0h-2.0zM529.8 856.4h2.0v2.0h-2.0zM579.2 862.4h2.0v2.0h-2.0zM551.9 880.3h2.0v2.0h-2.0zM590.6 861.6h2.0v2.0h-2.0z" fill="#d04060" fill-opacity="0.9"/>
<path d="M545.2 859.2h2.0v2.0h-2.0zM555.2 836.0h2.0v2.0h-2.0zM566.6 851.6h2.0v2.0h-2.0zM530.1 856.9h2.0v2.0h-2.0zM579.3 874.2h2.0v2.0h-2.0zM565.8 841.8h2.0v2.0h-2.0zM545.7 863.8h2.0v2.0h-2.0zM521.2 878.5h2.0v2.0h-2.0zM528.2 873.4h2.0v2.0h-2.0zM558.6 872.7h2.0v2.0h-2.0zM549.8 861.2h2.0v2.0h-2.0zM582.3 843.6h2.0v2.0h-2.0zM567.2 874.8h2.0v2.0h-2.0zM553.3 858.7h2.0v2.0h-2.0zM584.7 856.1h2.0v2.0h-2.0zM524.0 846.4h2.0v2.0h-2.0zM567.0 849.4h2.0v2.0h-2.0zM555.4 849.6h2.0v2.0h-2.0zM570.3 873.3h2.0v2.0h-2.0zM587.2 869.6h2.0v2.0h-2.0zM553.4 842.6h2.0v2.0h-2.0z" fill="#8a3aa0" fill-opacity="0.9"/>
<path d="M556.1 841.1h2.0v2.0h-2.0zM560.1 840.8h2.0v2.0h-2.0zM558.7 860.3h2.0v2.0h-2.0zM537.9 846.4h2.0v2.0h-2.0zM571.3 861.3h2.0v2.0h-2.0zM567.9 850.2h2.0v2.0h-2.0zM565.5 851.6h2.0v2.0h-2.0zM540.6 848.9h2.0v2.0h-2.0zM591.8 856.9h2.0v2.0h-2.0zM548.5 851.8h2.0v2.0h-2.0zM588.3 856.5h2.0v2.0h-2.0zM594.6 857.6h2.0v2.0h-2.0zM549.6 856.9h2.0v2.0h-2.0zM546.9 855.9h2.0v2.0h-2.0zM575.7 851.7h2.0v2.0h-2.0zM609.2 839.5h2.0v2.0h-2.0zM566.8 865.8h2.0v2.0h-2.0zM574.9 848.9h2.0v2.0h-2.0zM526.9 864.2h2.0v2.0h-2.0zM596.0 875.4h2.0v2.0h-2.0zM587.6 858.4h2.0v2.0h-2.0zM565.5 864.8h2.0v2.0h-2.0zM561.1 835.8h2.0v2.0h-2.0z" fill="#8a90a8" fill-opacity="0.9"/>
<path d="M571.1 848.0h2.0v2.0h-2.0zM548.4 847.1h2.0v2.0h-2.0zM550.3 859.0h2.0v2.0h-2.0zM544.5 847.6h2.0v2.0h-2.0zM568.7 866.2h2.0v2.0h-2.0zM596.6 850.2h2.0v2.0h-2.0zM566.3 879.9h2.0v2.0h-2.0zM577.5 848.2h2.0v2.0h-2.0zM534.1 868.6h2.0v2.0h-2.0zM533.0 856.1h2.0v2.0h-2.0zM535.9 864.1h2.0v2.0h-2.0zM572.1 874.8h2.0v2.0h-2.0zM553.6 834.1h2.0v2.0h-2.0zM581.1 847.7h2.0v2.0h-2.0zM541.3 851.2h2.0v2.0h-2.0zM550.2 855.0h2.0v2.0h-2.0zM575.1 876.3h2.0v2.0h-2.0zM544.1 871.8h2.0v2.0h-2.0zM573.6 864.9h2.0v2.0h-2.0zM565.0 865.4h2.0v2.0h-2.0zM601.8 855.5h2.0v2.0h-2.0zM567.4 851.8h2.0v2.0h-2.0zM549.8 850.0h2.0v2.0h-2.0zM690.9 777.8h2.0v2.0h-2.0zM715.9 770.6h2.0v2.0h-2.0zM647.5 765.1h2.0v2.0h-2.0zM780.4 790.3h2.0v2.0h-2.0zM633.4 787.1h2.0v2.0h-2.0zM758.1 794.7h2.0v2.0h-2.0zM635.0 798.1h2.0v2.0h-2.0zM672.4 787.5h2.0v2.0h-2.0zM738.7 800.1h2.0v2.0h-2.0zM648.2 796.7h2.0v2.0h-2.0zM658.7 807.9h2.0v2.0h-2.0zM677.9 800.9h2.0v2.0h-2.0zM717.0 797.7h2.0v2.0h-2.0zM650.5 829.1h2.0v2.0h-2.0z" fill="#e0c040" fill-opacity="0.9"/>
<path d="M646.2 792.8h2.0v2.0h-2.0zM712.3 806.5h2.0v2.0h-2.0zM624.9 785.1h2.0v2.0h-2.0zM718.2 809.6h2.0v2.0h-2.0zM667.2 828.9h2.0v2.0h-2.0zM738.3 798.3h2.0v2.0h-2.0zM653.2 798.8h2.0v2.0h-2.0zM685.7 809.9h2.0v2.0h-2.0zM629.6 802.4h2.0v2.0h-2.0zM699.7 791.2h2.0v2.0h-2.0zM646.4 830.1h2.0v2.0h-2.0zM647.7 764.5h2.0v2.0h-2.0zM683.7 818.0h2.0v2.0h-2.0zM691.4 789.8h2.0v2.0h-2.0zM651.7 763.4h2.0v2.0h-2.0zM650.3 780.0h2.0v2.0h-2.0zM720.4 793.4h2.0v2.0h-2.0zM701.4 809.3h2.0v2.0h-2.0zM669.5 768.7h2.0v2.0h-2.0zM773.9 799.2h2.0v2.0h-2.0zM669.7 791.8h2.0v2.0h-2.0zM636.4 780.2h2.0v2.0h-2.0zM624.6 795.8h2.0v2.0h-2.0zM647.6 805.3h2.0v2.0h-2.0zM721.4 781.6h2.0v2.0h-2.0zM634.4 772.6h2.0v2.0h-2.0zM663.0 813.2h2.0v2.0h-2.0zM639.2 792.5h2.0v2.0h-2.0zM714.8 762.2h2.0v2.0h-2.0zM647.3 784.1h2.0v2.0h-2.0zM644.8 790.8h2.0v2.0h-2.0zM819.5 777.0h2.0v2.0h-2.0zM632.3 793.7h2.0v2.0h-2.0zM680.0 830.7h2.0v2.0h-2.0zM647.0 783.4h2.0v2.0h-2.0zM630.2 790.3h2.0v2.0h-2.0zM649.2 800.7h2.0v2.0h-2.0zM658.6 799.0h2.0v2.0h-2.0zM652.7 815.8h2.0v2.0h-2.0zM679.3 787.6h2.0v2.0h-2.0zM638.8 766.1h2.0v2.0h-2.0zM653.4 802.5h2.0v2.0h-2.0zM629.0 805.0h2.0v2.0h-2.0zM729.8 778.9h2.0v2.0h-2.0zM662.2 798.2h2.0v2.0h-2.0zM639.6 797.0h2.0v2.0h-2.0zM671.3 784.0h2.0v2.0h-2.0zM708.4 790.2h2.0v2.0h-2.0zM639.8 806.0h2.0v2.0h-2.0zM623.2 780.8h2.0v2.0h-2.0zM648.6 795.9h2.0v2.0h-2.0zM789.0 803.9h2.0v2.0h-2.0zM673.9 787.1h2.0v2.0h-2.0zM691.5 807.5h2.0v2.0h-2.0zM713.4 791.7h2.0v2.0h-2.0zM680.1 774.2h2.0v2.0h-2.0zM665.6 814.6h2.0v2.0h-2.0zM628.7 793.1h2.0v2.0h-2.0zM642.9 756.6h2.0v2.0h-2.0zM656.0 768.8h2.0v2.0h-2.0zM644.1 780.4h2.0v2.0h-2.0zM650.7 794.7h2.0v2.0h-2.0zM651.1 764.6h2.0v2.0h-2.0zM703.6 799.4h2.0v2.0h-2.0zM668.5 797.5h2.0v2.0h-2.0zM627.8 772.2h2.0v2.0h-2.0zM692.1 793.5h2.0v2.0h-2.0zM793.8 807.7h2.0v2.0h-2.0zM772.2 777.4h2.0v2.0h-2.0zM640.4 796.2h2.0v2.0h-2.0zM692.0 778.7h2.0v2.0h-2.0zM699.5 786.6h2.0v2.0h-2.0zM750.7 800.8h2.0v2.0h-2.0zM645.1 789.4h2.0v2.0h-2.0zM668.2 794.8h2.0v2.0h-2.0zM696.1 784.1h2.0v2.0h-2.0zM734.2 776.7h2.0v2.0h-2.0zM779.1 808.1h2.0v2.0h-2.0zM662.0 808.7h2.0v2.0h-2.0zM656.0 810.1h2.0v2.0h-2.0zM670.5 766.9h2.0v2.0h-2.0zM639.6 817.3h2.0v2.0h-2.0zM632.7 803.3h2.0v2.0h-2.0zM639.3 766.7h2.0v2.0h-2.0zM677.3 778.6h2.0v2.0h-2.0zM745.9 770.8h2.0v2.0h-2.0zM635.6 754.1h2.0v2.0h-2.0zM770.5 773.4h2.0v2.0h-2.0zM689.5 802.2h2.0v2.0h-2.0z" fill="#d84868" fill-opacity="0.9"/>
<path d="M669.2 781.9h2.0v2.0h-2.0zM639.6 803.7h2.0v2.0h-2.0zM641.3 800.2h2.0v2.0h-2.0zM629.0 787.3h2.0v2.0h-2.0zM746.4 795.4h2.0v2.0h-2.0zM630.6 802.9h2.0v2.0h-2.0zM683.8 802.9h2.0v2.0h-2.0zM725.1 744.5h2.0v2.0h-2.0zM639.6 781.7h2.0v2.0h-2.0zM648.2 762.7h2.0v2.0h-2.0zM713.5 767.9h2.0v2.0h-2.0zM689.7 788.3h2.0v2.0h-2.0zM667.5 780.5h2.0v2.0h-2.0zM640.3 781.0h2.0v2.0h-2.0zM643.6 817.4h2.0v2.0h-2.0zM706.8 802.3h2.0v2.0h-2.0zM654.1 778.3h2.0v2.0h-2.0zM632.1 783.1h2.0v2.0h-2.0zM643.5 782.0h2.0v2.0h-2.0zM652.9 773.8h2.0v2.0h-2.0zM726.2 771.1h2.0v2.0h-2.0zM768.7 802.3h2.0v2.0h-2.0zM714.9 780.6h2.0v2.0h-2.0zM805.4 770.7h2.0v2.0h-2.0zM711.9 784.5h2.0v2.0h-2.0zM638.2 793.6h2.0v2.0h-2.0zM630.6 813.3h2.0v2.0h-2.0zM676.0 793.7h2.0v2.0h-2.0zM644.3 767.7h2.0v2.0h-2.0zM629.0 800.8h2.0v2.0h-2.0zM785.0 789.5h2.0v2.0h-2.0zM786.9 800.3h2.0v2.0h-2.0zM750.8 796.6h2.0v2.0h-2.0zM696.2 796.7h2.0v2.0h-2.0zM694.2 784.6h2.0v2.0h-2.0zM712.8 764.9h2.0v2.0h-2.0zM649.2 774.3h2.0v2.0h-2.0zM751.1 800.5h2.0v2.0h-2.0zM724.2 760.4h2.0v2.0h-2.0zM801.1 793.0h2.0v2.0h-2.0zM649.3 823.8h2.0v2.0h-2.0zM658.7 788.7h2.0v2.0h-2.0zM628.0 772.3h2.0v2.0h-2.0zM629.0 767.1h2.0v2.0h-2.0zM658.2 789.0h2.0v2.0h-2.0zM629.4 793.5h2.0v2.0h-2.0zM656.8 834.1h2.0v2.0h-2.0zM630.3 780.7h2.0v2.0h-2.0zM668.6 781.3h2.0v2.0h-2.0zM679.1 822.5h2.0v2.0h-2.0zM711.1 803.7h2.0v2.0h-2.0zM635.2 791.4h2.0v2.0h-2.0zM695.8 812.1h2.0v2.0h-2.0zM662.8 792.3h2.0v2.0h-2.0zM687.8 798.3h2.0v2.0h-2.0zM636.1 815.9h2.0v2.0h-2.0zM631.8 802.1h2.0v2.0h-2.0zM757.9 796.7h2.0v2.0h-2.0zM667.3 815.4h2.0v2.0h-2.0zM652.2 815.1h2.0v2.0h-2.0zM691.2 812.5h2.0v2.0h-2.0zM755.5 768.1h2.0v2.0h-2.0zM669.9 799.7h2.0v2.0h-2.0zM624.3 763.5h2.0v2.0h-2.0zM714.8 816.0h2.0v2.0h-2.0zM776.6 777.3h2.0v2.0h-2.0zM719.4 793.4h2.0v2.0h-2.0zM681.6 792.6h2.0v2.0h-2.0zM629.3 779.5h2.0v2.0h-2.0zM635.4 802.9h2.0v2.0h-2.0zM666.6 776.9h2.0v2.0h-2.0zM679.5 800.1h2.0v2.0h-2.0zM723.6 774.5h2.0v2.0h-2.0zM652.5 768.8h2.0v2.0h-2.0zM773.7 784.3h2.0v2.0h-2.0zM661.5 777.3h2.0v2.0h-2.0zM679.8 809.9h2.0v2.0h-2.0zM706.3 754.0h2.0v2.0h-2.0zM624.3 814.3h2.0v2.0h-2.0zM724.7 782.8h2.0v2.0h-2.0zM623.5 799.1h2.0v2.0h-2.0zM820.8 773.2h2.0v2.0h-2.0zM769.3 796.3h2.0v2.0h-2.0zM733.1 817.4h2.0v2.0h-2.0zM730.8 818.7h2.0v2.0h-2.0zM665.7 823.9h2.0v2.0h-2.0zM670.8 776.8h2.0v2.0h-2.0zM647.1 747.4h2.0v2.0h-2.0zM852.8 777.1h2.0v2.0h-2.0zM704.2 808.6h2.0v2.0h-2.0zM631.7 811.6h2.0v2.0h-2.0zM674.6 816.9h2.0v2.0h-2.0zM675.3 763.7h2.0v2.0h-2.0zM664.4 801.4h2.0v2.0h-2.0zM815.2 789.1h2.0v2.0h-2.0zM659.4 796.0h2.0v2.0h-2.0zM669.0 771.6h2.0v2.0h-2.0zM776.7 783.8h2.0v2.0h-2.0zM787.7 797.0h2.0v2.0h-2.0zM765.3 816.9h2.0v2.0h-2.0zM641.9 783.9h2.0v2.0h-2.0zM687.8 803.7h2.0v2.0h-2.0zM708.4 794.1h2.0v2.0h-2.0zM722.4 784.4h2.0v2.0h-2.0zM680.7 797.7h2.0v2.0h-2.0zM662.3 783.2h2.0v2.0h-2.0zM642.1 779.4h2.0v2.0h-2.0zM650.9 782.5h2.0v2.0h-2.0zM810.3 785.5h2.0v2.0h-2.0zM694.3 793.4h2.0v2.0h-2.0zM704.2 782.3h2.0v2.0h-2.0zM657.5 795.0h2.0v2.0h-2.0zM841.6 776.0h2.0v2.0h-2.0zM681.8 785.3h2.0v2.0h-2.0zM628.4 790.0h2.0v2.0h-2.0zM625.8 810.0h2.0v2.0h-2.0zM832.6 777.7h2.0v2.0h-2.0zM634.1 772.5h2.0v2.0h-2.0zM631.7 767.6h2.0v2.0h-2.0zM673.0 803.3h2.0v2.0h-2.0zM653.2 837.8h2.0v2.0h-2.0zM701.0 804.8h2.0v2.0h-2.0zM708.7 781.1h2.0v2.0h-2.0zM705.2 791.6h2.0v2.0h-2.0zM739.3 792.5h2.0v2.0h-2.0zM631.2 776.9h2.0v2.0h-2.0zM767.2 776.7h2.0v2.0h-2.0zM668.9 801.0h2.0v2.0h-2.0zM624.5 832.1h2.0v2.0h-2.0zM629.2 788.5h2.0v2.0h-2.0zM693.0 798.2h2.0v2.0h-2.0zM641.4 779.1h2.0v2.0h-2.0zM680.5 806.0h2.0v2.0h-2.0zM665.9 796.3h2.0v2.0h-2.0zM672.5 781.2h2.0v2.0h-2.0zM679.9 795.6h2.0v2.0h-2.0zM639.2 809.4h2.0v2.0h-2.0zM673.4 797.7h2.0v2.0h-2.0zM691.6 781.4h2.0v2.0h-2.0zM782.1 792.6h2.0v2.0h-2.0zM636.2 792.3h2.0v2.0h-2.0zM635.0 804.1h2.0v2.0h-2.0zM723.3 761.1h2.0v2.0h-2.0zM657.3 797.3h2.0v2.0h-2.0zM665.3 815.3h2.0v2.0h-2.0zM632.2 832.7h2.0v2.0h-2.0zM691.0 775.4h2.0v2.0h-2.0zM647.3 822.8h2.0v2.0h-2.0zM628.6 768.9h2.0v2.0h-2.0zM625.0 774.0h2.0v2.0h-2.0zM631.7 795.4h2.0v2.0h-2.0zM623.8 829.5h2.0v2.0h-2.0zM662.9 777.0h2.0v2.0h-2.0zM672.7 782.1h2.0v2.0h-2.0zM674.3 823.1h2.0v2.0h-2.0zM812.0 788.2h2.0v2.0h-2.0zM637.0 791.9h2.0v2.0h-2.0z" fill="#e05a80" fill-opacity="0.9"/>
<path d="M633.9 789.7h2.0v2.0h-2.0zM655.2 805.3h2.0v2.0h-2.0zM721.5 802.2h2.0v2.0h-2.0zM623.7 796.4h2.0v2.0h-2.0zM627.7 835.0h2.0v2.0h-2.0zM760.0 783.2h2.0v2.0h-2.0zM632.1 777.2h2.0v2.0h-2.0zM681.0 809.5h2.0v2.0h-2.0zM671.5 771.8h2.0v2.0h-2.0zM655.1 782.7h2.0v2.0h-2.0zM631.8 768.8h2.0v2.0h-2.0zM661.7 787.9h2.0v2.0h-2.0zM665.5 783.3h2.0v2.0h-2.0zM631.8 780.8h2.0v2.0h-2.0zM660.9 801.7h2.0v2.0h-2.0zM662.3 795.7h2.0v2.0h-2.0zM642.5 780.7h2.0v2.0h-2.0zM700.6 799.7h2.0v2.0h-2.0zM665.6 788.6h2.0v2.0h-2.0z" fill="#3a58d0" fill-opacity="0.9"/>
<path d="M746.9 772.0h2.0v2.0h-2.0zM683.8 797.7h2.0v2.0h-2.0zM632.3 807.3h2.0v2.0h-2.0zM720.3 794.5h2.0v2.0h-2.0zM629.2 802.0h2.0v2.0h-2.0zM627.6 770.8h2.0v2.0h-2.0zM626.2 772.3h2.0v2.0h-2.0zM755.7 792.3h2.0v2.0h-2.0zM681.9 787.2h2.0v2.0h-2.0zM852.7 792.0h2.0v2.0h-2.0zM858.6 794.2h2.0v2.0h-2.0zM644.4 820.9h2.0v2.0h-2.0zM624.5 784.2h2.0v2.0h-2.0zM624.2 791.4h2.0v2.0h-2.0zM629.1 809.5h2.0v2.0h-2.0zM667.6 772.8h2.0v2.0h-2.0zM624.9 811.9h2.0v2.0h-2.0zM629.6 773.8h2.0v2.0h-2.0zM626.8 791.7h2.0v2.0h-2.0zM671.9 816.8h2.0v2.0h-2.0zM627.6 806.2h2.0v2.0h-2.0zM673.1 816.9h2.0v2.0h-2.0zM697.4 761.1h2.0v2.0h-2.0zM720.6 811.8h2.0v2.0h-2.0zM676.9 789.0h2.0v2.0h-2.0zM639.8 770.2h2.0v2.0h-2.0zM715.2 792.8h2.0v2.0h-2.0zM648.0 803.1h2.0v2.0h-2.0zM796.6 774.1h2.0v2.0h-2.0zM675.5 793.3h2.0v2.0h-2.0zM642.5 790.5h2.0v2.0h-2.0zM685.3 782.1h2.0v2.0h-2.0zM645.5 798.5h2.0v2.0h-2.0zM689.9 786.0h2.0v2.0h-2.0zM700.3 803.4h2.0v2.0h-2.0zM658.6 792.9h2.0v2.0h-2.0zM652.8 807.8h2.0v2.0h-2.0zM668.7 803.2h2.0v2.0h-2.0zM634.6 790.3h2.0v2.0h-2.0zM677.5 797.5h2.0v2.0h-2.0zM644.3 739.7h2.0v2.0h-2.0zM705.5 808.5h2.0v2.0h-2.0zM633.0 796.0h2.0v2.0h-2.0zM645.8 781.2h2.0v2.0h-2.0zM650.3 801.6h2.0v2.0h-2.0zM680.0 826.3h2.0v2.0h-2.0zM692.9 806.6h2.0v2.0h-2.0zM705.0 800.7h2.0v2.0h-2.0zM655.4 772.2h2.0v2.0h-2.0zM692.4 799.3h2.0v2.0h-2.0zM634.3 813.7h2.0v2.0h-2.0zM632.5 782.1h2.0v2.0h-2.0zM642.6 779.7h2.0v2.0h-2.0zM653.5 832.5h2.0v2.0h-2.0zM728.2 799.7h2.0v2.0h-2.0zM692.2 777.5h2.0v2.0h-2.0zM638.5 801.9h2.0v2.0h-2.0zM624.1 823.4h2.0v2.0h-2.0zM638.6 825.8h2.0v2.0h-2.0zM683.4 808.4h2.0v2.0h-2.0zM717.3 807.1h2.0v2.0h-2.0zM696.6 805.1h2.0v2.0h-2.0zM657.5 821.1h2.0v2.0h-2.0zM654.3 794.7h2.0v2.0h-2.0zM629.9 793.8h2.0v2.0h-2.0zM805.7 776.5h2.0v2.0h-2.0zM725.2 808.3h2.0v2.0h-2.0zM707.7 779.7h2.0v2.0h-2.0zM643.3 836.6h2.0v2.0h-2.0z" fill="#7f8ea8" fill-opacity="0.9"/>
<path d="M724.2 790.9h2.0v2.0h-2.0zM791.7 760.7h2.0v2.0h-2.0zM834.0 777.5h2.0v2.0h-2.0zM712.0 801.4h2.0v2.0h-2.0zM676.4 779.2h2.0v2.0h-2.0zM720.6 790.3h2.0v2.0h-2.0zM721.8 796.6h2.0v2.0h-2.0zM629.1 812.4h2.0v2.0h-2.0zM631.4 799.5h2.0v2.0h-2.0zM789.3 793.9h2.0v2.0h-2.0zM641.4 802.1h2.0v2.0h-2.0zM624.8 779.6h2.0v2.0h-2.0zM651.4 801.9h2.0v2.0h-2.0zM658.0 751.9h2.0v2.0h-2.0zM653.9 786.4h2.0v2.0h-2.0zM639.0 789.5h2.0v2.0h-2.0zM639.7 760.2h2.0v2.0h-2.0zM812.6 805.2h2.0v2.0h-2.0zM697.4 797.6h2.0v2.0h-2.0zM655.7 787.0h2.0v2.0h-2.0zM650.5 756.5h2.0v2.0h-2.0zM633.3 773.8h2.0v2.0h-2.0zM821.3 767.1h2.0v2.0h-2.0zM655.8 767.5h2.0v2.0h-2.0z" fill="#48b8d8" fill-opacity="0.9"/>
<path d="M647.1 811.6h2.0v2.0h-2.0zM624.4 816.3h2.0v2.0h-2.0zM627.9 798.5h2.0v2.0h-2.0zM657.4 753.0h2.0v2.0h-2.0zM646.1 793.3h2.0v2.0h-2.0zM665.9 797.1h2.0v2.0h-2.0zM644.4 805.4h2.0v2.0h-2.0zM648.3 811.1h2.0v2.0h-2.0zM726.9 782.3h2.0v2.0h-2.0zM707.2 807.1h2.0v2.0h-2.0zM728.4 809.8h2.0v2.0h-2.0zM670.9 767.9h2.0v2.0h-2.0zM626.1 817.5h2.0v2.0h-2.0zM632.9 780.4h2.0v2.0h-2.0zM687.6 781.1h2.0v2.0h-2.0zM652.8 810.8h2.0v2.0h-2.0zM640.4 780.2h2.0v2.0h-2.0zM682.5 769.1h2.0v2.0h-2.0zM722.4 777.2h2.0v2.0h-2.0zM693.7 784.4h2.0v2.0h-2.0zM623.5 763.2h2.0v2.0h-2.0zM624.9 839.6h2.0v2.0h-2.0zM662.6 791.9h2.0v2.0h-2.0zM674.7 799.3h2.0v2.0h-2.0zM631.7 785.3h2.0v2.0h-2.0zM662.8 783.6h2.0v2.0h-2.0zM628.4 802.4h2.0v2.0h-2.0zM664.1 793.5h2.0v2.0h-2.0zM661.6 837.8h2.0v2.0h-2.0zM654.3 801.2h2.0v2.0h-2.0zM630.5 821.6h2.0v2.0h-2.0zM648.4 801.8h2.0v2.0h-2.0zM648.6 774.6h2.0v2.0h-2.0zM669.7 776.9h2.0v2.0h-2.0zM624.9 801.4h2.0v2.0h-2.0zM817.8 808.1h2.0v2.0h-2.0zM648.3 813.0h2.0v2.0h-2.0z" fill="#c03050" fill-opacity="0.9"/>
<path d="M653.2 764.9h2.0v2.0h-2.0zM711.6 804.9h2.0v2.0h-2.0zM663.7 818.6h2.0v2.0h-2.0zM628.2 775.0h2.0v2.0h-2.0zM681.2 808.9h2.0v2.0h-2.0zM673.8 818.5h2.0v2.0h-2.0zM777.2 811.9h2.0v2.0h-2.0zM721.7 802.9h2.0v2.0h-2.0zM798.6 787.4h2.0v2.0h-2.0zM651.2 759.8h2.0v2.0h-2.0zM649.4 801.4h2.0v2.0h-2.0zM710.0 794.4h2.0v2.0h-2.0zM651.1 744.6h2.0v2.0h-2.0zM682.7 788.8h2.0v2.0h-2.0zM715.1 794.5h2.0v2.0h-2.0zM664.9 788.9h2.0v2.0h-2.0zM725.8 782.8h2.0v2.0h-2.0zM626.8 785.3h2.0v2.0h-2.0zM625.1 806.0h2.0v2.0h-2.0zM635.2 794.0h2.0v2.0h-2.0zM651.6 786.6h2.0v2.0h-2.0zM657.0 778.2h2.0v2.0h-2.0zM638.7 790.4h2.0v2.0h-2.0zM706.8 803.5h2.0v2.0h-2.0zM766.1 781.3h2.0v2.0h-2.0zM639.8 792.5h2.0v2.0h-2.0zM635.3 844.9h2.0v2.0h-2.0zM687.6 801.6h2.0v2.0h-2.0zM758.6 788.6h2.0v2.0h-2.0zM676.5 814.5h2.0v2.0h-2.0zM667.0 784.0h2.0v2.0h-2.0zM641.5 753.9h2.0v2.0h-2.0zM744.9 776.3h2.0v2.0h-2.0zM665.6 799.3h2.0v2.0h-2.0zM629.3 790.1h2.0v2.0h-2.0zM874.0 791.2h2.0v2.0h-2.0zM624.4 787.6h2.0v2.0h-2.0zM640.4 755.1h2.0v2.0h-2.0zM775.4 785.0h2.0v2.0h-2.0zM694.3 798.8h2.0v2.0h-2.0zM721.7 789.2h2.0v2.0h-2.0zM636.2 784.8h2.0v2.0h-2.0zM637.6 831.5h2.0v2.0h-2.0z" fill="#f08aa0" fill-opacity="0.9"/>
<ellipse cx="578" cy="799" rx="36" ry="27.5" fill="#ff0a0a"/>
<path d="M563.8 784.3h2.6v2.6h-2.6zM596.0 812.1h2.6v2.6h-2.6zM605.8 795.9h2.6v2.6h-2.6zM605.3 794.0h2.6v2.6h-2.6zM541.1 768.6h2.6v2.6h-2.6zM552.6 799.9h2.6v2.6h-2.6zM536.7 780.0h2.6v2.6h-2.6zM597.2 812.3h2.6v2.6h-2.6zM601.0 792.3h2.6v2.6h-2.6zM568.9 804.8h2.6v2.6h-2.6zM558.6 792.8h2.6v2.6h-2.6zM563.6 784.6h2.6v2.6h-2.6zM557.7 778.3h2.6v2.6h-2.6zM564.0 811.4h2.6v2.6h-2.6zM560.3 798.6h2.6v2.6h-2.6zM591.0 780.2h2.6v2.6h-2.6zM617.0 800.4h2.6v2.6h-2.6zM573.5 812.7h2.6v2.6h-2.6zM592.6 798.8h2.6v2.6h-2.6zM607.3 809.0h2.6v2.6h-2.6zM604.8 791.2h2.6v2.6h-2.6zM572.3 768.0h2.6v2.6h-2.6zM587.0 777.1h2.6v2.6h-2.6zM603.2 792.4h2.6v2.6h-2.6zM599.2 800.5h2.6v2.6h-2.6zM604.8 810.8h2.6v2.6h-2.6zM563.5 826.7h2.6v2.6h-2.6zM576.9 797.5h2.6v2.6h-2.6zM594.4 798.6h2.6v2.6h-2.6zM572.9 810.0h2.6v2.6h-2.6zM617.9 800.7h2.6v2.6h-2.6zM626.8 792.5h2.6v2.6h-2.6zM559.9 798.9h2.6v2.6h-2.6zM564.4 821.3h2.6v2.6h-2.6zM575.2 796.3h2.6v2.6h-2.6zM583.2 772.0h2.6v2.6h-2.6zM599.3 820.9h2.6v2.6h-2.6zM614.4 795.5h2.6v2.6h-2.6zM561.9 816.6h2.6v2.6h-2.6zM575.2 788.7h2.6v2.6h-2.6zM593.1 766.3h2.6v2.6h-2.6zM565.7 788.0h2.6v2.6h-2.6zM587.5 774.9h2.6v2.6h-2.6zM548.7 799.9h2.6v2.6h-2.6zM583.9 799.9h2.6v2.6h-2.6zM574.3 791.0h2.6v2.6h-2.6zM585.7 823.2h2.6v2.6h-2.6zM554.8 780.5h2.6v2.6h-2.6zM560.8 777.2h2.6v2.6h-2.6zM565.5 799.4h2.6v2.6h-2.6zM548.9 808.1h2.6v2.6h-2.6zM538.4 798.9h2.6v2.6h-2.6zM553.6 785.5h2.6v2.6h-2.6zM587.4 811.7h2.6v2.6h-2.6zM571.8 765.6h2.6v2.6h-2.6zM581.3 777.8h2.6v2.6h-2.6zM574.9 792.2h2.6v2.6h-2.6zM611.1 768.7h2.6v2.6h-2.6zM567.4 796.3h2.6v2.6h-2.6zM573.7 790.0h2.6v2.6h-2.6zM593.0 793.8h2.6v2.6h-2.6zM578.4 798.1h2.6v2.6h-2.6zM581.9 804.9h2.6v2.6h-2.6zM586.7 799.3h2.6v2.6h-2.6zM557.2 798.1h2.6v2.6h-2.6zM552.6 768.1h2.6v2.6h-2.6zM563.7 792.5h2.6v2.6h-2.6zM594.9 782.6h2.6v2.6h-2.6zM627.4 786.2h2.6v2.6h-2.6zM555.0 758.0h2.6v2.6h-2.6zM583.9 779.7h2.6v2.6h-2.6zM534.6 790.9h2.6v2.6h-2.6zM573.3 816.0h2.6v2.6h-2.6zM583.2 778.1h2.6v2.6h-2.6zM578.5 769.9h2.6v2.6h-2.6zM550.6 797.3h2.6v2.6h-2.6zM568.9 823.2h2.6v2.6h-2.6zM608.9 808.2h2.6v2.6h-2.6zM579.3 791.8h2.6v2.6h-2.6zM563.0 802.0h2.6v2.6h-2.6zM580.0 785.2h2.6v2.6h-2.6zM560.2 800.5h2.6v2.6h-2.6zM567.4 792.4h2.6v2.6h-2.6zM570.4 827.3h2.6v2.6h-2.6zM575.3 784.0h2.6v2.6h-2.6zM569.3 804.4h2.6v2.6h-2.6zM587.4 803.1h2.6v2.6h-2.6zM548.2 795.1h2.6v2.6h-2.6zM553.3 799.9h2.6v2.6h-2.6zM594.5 832.1h2.6v2.6h-2.6zM567.2 776.5h2.6v2.6h-2.6zM573.0 800.5h2.6v2.6h-2.6zM566.4 811.3h2.6v2.6h-2.6zM566.3 782.6h2.6v2.6h-2.6zM553.6 778.8h2.6v2.6h-2.6zM577.8 771.3h2.6v2.6h-2.6zM575.2 825.8h2.6v2.6h-2.6zM557.5 805.2h2.6v2.6h-2.6zM577.1 787.4h2.6v2.6h-2.6zM597.8 788.9h2.6v2.6h-2.6zM537.6 792.5h2.6v2.6h-2.6zM595.2 802.7h2.6v2.6h-2.6zM563.9 784.1h2.6v2.6h-2.6zM568.1 807.4h2.6v2.6h-2.6zM581.6 807.9h2.6v2.6h-2.6zM591.8 818.7h2.6v2.6h-2.6zM579.3 805.0h2.6v2.6h-2.6zM587.2 808.5h2.6v2.6h-2.6zM549.7 804.4h2.6v2.6h-2.6zM550.4 815.1h2.6v2.6h-2.6zM555.1 806.4h2.6v2.6h-2.6zM568.8 794.1h2.6v2.6h-2.6zM555.8 788.8h2.6v2.6h-2.6zM553.9 789.0h2.6v2.6h-2.6zM590.6 799.1h2.6v2.6h-2.6zM572.5 785.3h2.6v2.6h-2.6zM549.6 796.6h2.6v2.6h-2.6zM601.1 786.0h2.6v2.6h-2.6zM601.0 798.3h2.6v2.6h-2.6zM599.4 796.3h2.6v2.6h-2.6zM529.8 801.2h2.6v2.6h-2.6zM550.7 815.1h2.6v2.6h-2.6zM553.5 798.5h2.6v2.6h-2.6zM579.3 771.3h2.6v2.6h-2.6zM587.1 807.6h2.6v2.6h-2.6zM586.0 799.5h2.6v2.6h-2.6zM562.7 801.2h2.6v2.6h-2.6zM597.5 796.3h2.6v2.6h-2.6zM617.7 787.0h2.6v2.6h-2.6zM578.3 776.9h2.6v2.6h-2.6zM598.6 804.7h2.6v2.6h-2.6zM578.5 809.6h2.6v2.6h-2.6zM524.6 771.9h2.6v2.6h-2.6zM563.3 789.0h2.6v2.6h-2.6zM568.9 768.1h2.6v2.6h-2.6zM587.5 771.7h2.6v2.6h-2.6zM593.0 811.4h2.6v2.6h-2.6zM564.4 795.1h2.6v2.6h-2.6zM555.5 819.5h2.6v2.6h-2.6zM557.9 774.2h2.6v2.6h-2.6zM573.0 799.5h2.6v2.6h-2.6zM569.9 812.2h2.6v2.6h-2.6zM577.8 811.3h2.6v2.6h-2.6zM596.2 826.9h2.6v2.6h-2.6zM553.7 804.0h2.6v2.6h-2.6zM614.2 804.4h2.6v2.6h-2.6zM568.6 804.1h2.6v2.6h-2.6zM601.8 808.3h2.6v2.6h-2.6zM576.9 802.3h2.6v2.6h-2.6zM588.0 797.5h2.6v2.6h-2.6zM561.9 794.9h2.6v2.6h-2.6zM594.0 807.9h2.6v2.6h-2.6zM575.3 790.8h2.6v2.6h-2.6zM547.7 784.8h2.6v2.6h-2.6zM570.2 812.0h2.6v2.6h-2.6zM558.5 793.7h2.6v2.6h-2.6zM588.7 792.7h2.6v2.6h-2.6zM564.8 802.4h2.6v2.6h-2.6zM592.9 790.1h2.6v2.6h-2.6zM590.9 783.7h2.6v2.6h-2.6zM588.0 811.7h2.6v2.6h-2.6zM565.1 815.2h2.6v2.6h-2.6zM598.7 783.6h2.6v2.6h-2.6zM574.2 794.6h2.6v2.6h-2.6zM572.8 805.4h2.6v2.6h-2.6zM597.3 816.2h2.6v2.6h-2.6zM567.1 809.2h2.6v2.6h-2.6zM600.8 809.2h2.6v2.6h-2.6zM593.0 791.7h2.6v2.6h-2.6zM589.1 801.1h2.6v2.6h-2.6zM574.7 813.7h2.6v2.6h-2.6zM565.0 781.1h2.6v2.6h-2.6zM585.1 811.6h2.6v2.6h-2.6zM553.3 801.4h2.6v2.6h-2.6zM582.2 788.9h2.6v2.6h-2.6zM558.2 807.1h2.6v2.6h-2.6zM600.0 804.8h2.6v2.6h-2.6zM578.6 789.0h2.6v2.6h-2.6zM596.9 795.2h2.6v2.6h-2.6zM556.1 785.8h2.6v2.6h-2.6zM576.3 794.5h2.6v2.6h-2.6zM563.5 781.3h2.6v2.6h-2.6zM572.8 776.1h2.6v2.6h-2.6zM553.1 810.5h2.6v2.6h-2.6zM595.2 774.3h2.6v2.6h-2.6zM559.7 777.1h2.6v2.6h-2.6zM585.6 782.9h2.6v2.6h-2.6zM587.4 829.5h2.6v2.6h-2.6zM604.0 775.6h2.6v2.6h-2.6zM588.8 791.2h2.6v2.6h-2.6zM543.0 787.2h2.6v2.6h-2.6zM560.7 809.8h2.6v2.6h-2.6zM551.8 786.5h2.6v2.6h-2.6zM550.8 816.5h2.6v2.6h-2.6zM555.2 797.5h2.6v2.6h-2.6zM590.8 817.9h2.6v2.6h-2.6zM589.6 802.7h2.6v2.6h-2.6zM582.5 797.1h2.6v2.6h-2.6zM554.6 779.1h2.6v2.6h-2.6zM565.9 788.8h2.6v2.6h-2.6zM588.7 795.4h2.6v2.6h-2.6zM581.9 793.2h2.6v2.6h-2.6zM553.4 806.6h2.6v2.6h-2.6zM579.0 797.1h2.6v2.6h-2.6zM577.7 810.2h2.6v2.6h-2.6zM607.5 795.4h2.6v2.6h-2.6zM570.8 793.3h2.6v2.6h-2.6zM523.5 811.0h2.6v2.6h-2.6zM583.4 802.3h2.6v2.6h-2.6zM599.0 810.2h2.6v2.6h-2.6zM544.5 803.9h2.6v2.6h-2.6zM594.8 790.0h2.6v2.6h-2.6zM600.1 801.3h2.6v2.6h-2.6zM581.0 804.4h2.6v2.6h-2.6zM565.9 799.7h2.6v2.6h-2.6zM578.0 820.1h2.6v2.6h-2.6zM570.8 767.0h2.6v2.6h-2.6zM582.7 801.6h2.6v2.6h-2.6zM601.9 799.6h2.6v2.6h-2.6zM581.5 812.4h2.6v2.6h-2.6zM567.5 790.5h2.6v2.6h-2.6zM591.7 801.8h2.6v2.6h-2.6zM571.2 787.6h2.6v2.6h-2.6zM545.8 775.3h2.6v2.6h-2.6zM582.9 782.7h2.6v2.6h-2.6zM615.3 817.7h2.6v2.6h-2.6zM569.4 776.7h2.6v2.6h-2.6zM581.6 803.4h2.6v2.6h-2.6zM548.9 775.9h2.6v2.6h-2.6zM575.0 808.8h2.6v2.6h-2.6zM570.6 806.8h2.6v2.6h-2.6zM581.8 799.4h2.6v2.6h-2.6zM577.7 789.4h2.6v2.6h-2.6zM573.7 797.5h2.6v2.6h-2.6zM593.6 802.3h2.6v2.6h-2.6zM564.4 792.2h2.6v2.6h-2.6zM556.3 766.4h2.6v2.6h-2.6zM599.4 808.1h2.6v2.6h-2.6zM589.2 798.2h2.6v2.6h-2.6zM558.8 795.5h2.6v2.6h-2.6zM553.0 790.6h2.6v2.6h-2.6zM554.3 745.9h2.6v2.6h-2.6zM622.4 795.0h2.6v2.6h-2.6zM591.8 791.5h2.6v2.6h-2.6zM582.9 804.8h2.6v2.6h-2.6zM591.8 801.2h2.6v2.6h-2.6zM589.0 786.1h2.6v2.6h-2.6zM626.4 805.2h2.6v2.6h-2.6zM589.7 794.5h2.6v2.6h-2.6zM587.8 800.7h2.6v2.6h-2.6zM572.2 795.2h2.6v2.6h-2.6zM596.2 806.0h2.6v2.6h-2.6zM585.3 807.1h2.6v2.6h-2.6zM581.6 804.7h2.6v2.6h-2.6zM523.5 821.1h2.6v2.6h-2.6zM573.6 814.5h2.6v2.6h-2.6zM559.5 805.1h2.6v2.6h-2.6zM591.8 791.0h2.6v2.6h-2.6zM537.2 793.7h2.6v2.6h-2.6zM565.1 799.1h2.6v2.6h-2.6zM554.9 799.1h2.6v2.6h-2.6zM577.7 785.8h2.6v2.6h-2.6zM580.8 781.6h2.6v2.6h-2.6zM585.8 805.1h2.6v2.6h-2.6zM565.7 798.9h2.6v2.6h-2.6zM570.7 799.8h2.6v2.6h-2.6zM552.3 772.1h2.6v2.6h-2.6zM581.0 772.5h2.6v2.6h-2.6zM564.1 801.9h2.6v2.6h-2.6zM601.2 812.9h2.6v2.6h-2.6zM619.9 813.4h2.6v2.6h-2.6zM546.1 805.4h2.6v2.6h-2.6zM575.7 809.1h2.6v2.6h-2.6zM552.2 775.8h2.6v2.6h-2.6zM553.3 811.3h2.6v2.6h-2.6zM580.5 805.5h2.6v2.6h-2.6zM586.7 763.6h2.6v2.6h-2.6zM571.4 817.1h2.6v2.6h-2.6zM594.1 816.4h2.6v2.6h-2.6zM578.0 792.1h2.6v2.6h-2.6zM566.0 779.6h2.6v2.6h-2.6zM611.5 818.0h2.6v2.6h-2.6zM588.7 799.3h2.6v2.6h-2.6zM578.0 779.3h2.6v2.6h-2.6zM593.2 787.0h2.6v2.6h-2.6zM595.0 806.0h2.6v2.6h-2.6zM574.2 790.7h2.6v2.6h-2.6zM598.8 822.5h2.6v2.6h-2.6zM545.5 786.6h2.6v2.6h-2.6zM552.7 810.0h2.6v2.6h-2.6zM580.6 815.3h2.6v2.6h-2.6zM551.1 800.8h2.6v2.6h-2.6zM608.6 807.0h2.6v2.6h-2.6zM576.2 788.1h2.6v2.6h-2.6zM597.0 817.8h2.6v2.6h-2.6zM579.0 799.8h2.6v2.6h-2.6zM567.9 788.6h2.6v2.6h-2.6zM572.7 798.6h2.6v2.6h-2.6zM594.8 816.0h2.6v2.6h-2.6zM571.5 795.5h2.6v2.6h-2.6zM537.5 775.3h2.6v2.6h-2.6zM605.3 783.2h2.6v2.6h-2.6zM570.1 816.7h2.6v2.6h-2.6zM571.7 796.2h2.6v2.6h-2.6zM573.2 783.9h2.6v2.6h-2.6zM557.5 801.6h2.6v2.6h-2.6zM524.1 804.3h2.6v2.6h-2.6zM565.6 806.4h2.6v2.6h-2.6zM563.6 790.5h2.6v2.6h-2.6zM580.3 799.7h2.6v2.6h-2.6zM579.8 800.5h2.6v2.6h-2.6zM568.0 799.9h2.6v2.6h-2.6zM561.0 801.1h2.6v2.6h-2.6zM610.2 798.6h2.6v2.6h-2.6zM585.4 799.0h2.6v2.6h-2.6zM576.2 777.8h2.6v2.6h-2.6zM548.3 783.5h2.6v2.6h-2.6zM564.6 816.1h2.6v2.6h-2.6zM577.0 797.0h2.6v2.6h-2.6zM554.6 789.4h2.6v2.6h-2.6zM560.7 811.5h2.6v2.6h-2.6zM555.9 834.3h2.6v2.6h-2.6zM571.3 833.9h2.6v2.6h-2.6zM582.7 798.2h2.6v2.6h-2.6zM572.8 802.8h2.6v2.6h-2.6zM570.7 785.2h2.6v2.6h-2.6zM583.5 811.8h2.6v2.6h-2.6zM592.9 814.5h2.6v2.6h-2.6zM518.3 791.3h2.6v2.6h-2.6zM555.6 777.0h2.6v2.6h-2.6zM570.1 785.5h2.6v2.6h-2.6zM582.5 801.7h2.6v2.6h-2.6zM530.9 775.7h2.6v2.6h-2.6zM567.4 812.7h2.6v2.6h-2.6zM600.9 797.3h2.6v2.6h-2.6zM575.2 789.1h2.6v2.6h-2.6zM578.7 798.1h2.6v2.6h-2.6zM594.4 785.2h2.6v2.6h-2.6zM589.2 809.6h2.6v2.6h-2.6zM561.7 794.7h2.6v2.6h-2.6zM579.8 807.3h2.6v2.6h-2.6zM561.0 821.8h2.6v2.6h-2.6zM586.1 794.3h2.6v2.6h-2.6zM590.3 800.0h2.6v2.6h-2.6zM595.8 762.7h2.6v2.6h-2.6zM584.0 808.6h2.6v2.6h-2.6zM524.2 804.8h2.6v2.6h-2.6zM574.3 805.1h2.6v2.6h-2.6zM559.5 789.5h2.6v2.6h-2.6zM591.0 789.6h2.6v2.6h-2.6zM598.6 760.4h2.6v2.6h-2.6zM582.4 798.5h2.6v2.6h-2.6zM566.5 787.2h2.6v2.6h-2.6zM585.6 799.9h2.6v2.6h-2.6zM592.9 800.0h2.6v2.6h-2.6zM599.6 801.2h2.6v2.6h-2.6zM597.3 781.4h2.6v2.6h-2.6zM571.8 809.2h2.6v2.6h-2.6zM580.5 804.7h2.6v2.6h-2.6zM577.3 790.1h2.6v2.6h-2.6zM600.8 778.1h2.6v2.6h-2.6zM547.0 789.7h2.6v2.6h-2.6zM545.7 774.5h2.6v2.6h-2.6zM598.5 799.3h2.6v2.6h-2.6zM598.5 789.9h2.6v2.6h-2.6zM590.3 822.7h2.6v2.6h-2.6zM573.9 812.0h2.6v2.6h-2.6zM596.0 787.6h2.6v2.6h-2.6zM575.2 790.0h2.6v2.6h-2.6zM563.7 791.9h2.6v2.6h-2.6zM589.6 784.2h2.6v2.6h-2.6zM554.1 810.7h2.6v2.6h-2.6zM583.3 790.8h2.6v2.6h-2.6zM571.6 761.7h2.6v2.6h-2.6zM578.7 790.7h2.6v2.6h-2.6zM612.5 759.3h2.6v2.6h-2.6zM549.0 795.6h2.6v2.6h-2.6zM583.1 806.8h2.6v2.6h-2.6zM600.5 790.5h2.6v2.6h-2.6zM594.2 771.7h2.6v2.6h-2.6zM584.7 791.6h2.6v2.6h-2.6zM558.8 810.7h2.6v2.6h-2.6zM603.8 795.8h2.6v2.6h-2.6zM568.4 771.1h2.6v2.6h-2.6zM616.0 779.7h2.6v2.6h-2.6zM576.5 796.8h2.6v2.6h-2.6zM596.9 796.1h2.6v2.6h-2.6zM594.7 801.6h2.6v2.6h-2.6zM566.8 785.6h2.6v2.6h-2.6zM575.3 748.5h2.6v2.6h-2.6zM599.7 792.8h2.6v2.6h-2.6zM568.5 817.1h2.6v2.6h-2.6zM593.2 810.1h2.6v2.6h-2.6zM571.7 770.2h2.6v2.6h-2.6zM589.6 786.4h2.6v2.6h-2.6zM580.3 784.9h2.6v2.6h-2.6zM581.9 820.3h2.6v2.6h-2.6zM602.9 800.9h2.6v2.6h-2.6zM559.5 771.4h2.6v2.6h-2.6zM557.7 785.9h2.6v2.6h-2.6zM539.7 818.1h2.6v2.6h-2.6zM637.5 806.4h2.6v2.6h-2.6zM568.2 796.1h2.6v2.6h-2.6zM599.5 772.5h2.6v2.6h-2.6zM570.3 771.3h2.6v2.6h-2.6zM567.0 834.5h2.6v2.6h-2.6zM560.8 791.0h2.6v2.6h-2.6zM618.3 779.0h2.6v2.6h-2.6zM560.7 790.6h2.6v2.6h-2.6zM556.7 832.4h2.6v2.6h-2.6zM584.9 820.6h2.6v2.6h-2.6zM588.7 807.8h2.6v2.6h-2.6zM584.2 789.9h2.6v2.6h-2.6zM556.6 811.0h2.6v2.6h-2.6zM578.5 819.3h2.6v2.6h-2.6zM593.6 796.5h2.6v2.6h-2.6zM562.5 790.8h2.6v2.6h-2.6zM608.8 799.5h2.6v2.6h-2.6zM566.5 804.3h2.6v2.6h-2.6zM586.2 788.9h2.6v2.6h-2.6zM580.8 764.6h2.6v2.6h-2.6zM570.5 823.6h2.6v2.6h-2.6zM597.6 807.8h2.6v2.6h-2.6zM548.8 785.8h2.6v2.6h-2.6zM575.4 801.8h2.6v2.6h-2.6zM552.7 810.3h2.6v2.6h-2.6zM585.5 813.7h2.6v2.6h-2.6zM540.3 792.2h2.6v2.6h-2.6zM589.9 790.6h2.6v2.6h-2.6zM564.3 793.7h2.6v2.6h-2.6zM595.2 804.5h2.6v2.6h-2.6zM569.0 761.9h2.6v2.6h-2.6zM608.5 824.1h2.6v2.6h-2.6zM572.3 793.1h2.6v2.6h-2.6zM570.0 797.2h2.6v2.6h-2.6zM565.0 786.4h2.6v2.6h-2.6zM568.2 786.1h2.6v2.6h-2.6zM547.6 800.2h2.6v2.6h-2.6zM579.7 793.3h2.6v2.6h-2.6zM541.6 797.4h2.6v2.6h-2.6zM574.2 786.2h2.6v2.6h-2.6zM566.1 812.4h2.6v2.6h-2.6zM569.1 788.5h2.6v2.6h-2.6zM559.4 803.4h2.6v2.6h-2.6zM570.1 782.1h2.6v2.6h-2.6zM573.6 807.1h2.6v2.6h-2.6zM579.7 806.4h2.6v2.6h-2.6zM605.1 806.9h2.6v2.6h-2.6zM569.5 785.6h2.6v2.6h-2.6zM591.0 797.3h2.6v2.6h-2.6zM593.7 802.7h2.6v2.6h-2.6zM592.5 817.5h2.6v2.6h-2.6zM572.3 795.3h2.6v2.6h-2.6zM616.4 804.2h2.6v2.6h-2.6zM547.5 797.4h2.6v2.6h-2.6zM564.8 782.9h2.6v2.6h-2.6zM582.6 775.8h2.6v2.6h-2.6zM563.1 777.3h2.6v2.6h-2.6zM579.3 809.9h2.6v2.6h-2.6zM589.2 764.9h2.6v2.6h-2.6zM575.3 792.6h2.6v2.6h-2.6zM570.1 777.2h2.6v2.6h-2.6zM586.0 796.7h2.6v2.6h-2.6zM569.3 791.9h2.6v2.6h-2.6zM565.1 813.4h2.6v2.6h-2.6zM541.8 800.9h2.6v2.6h-2.6zM589.1 783.4h2.6v2.6h-2.6zM610.2 808.0h2.6v2.6h-2.6zM556.2 789.9h2.6v2.6h-2.6zM563.9 806.4h2.6v2.6h-2.6zM602.2 788.7h2.6v2.6h-2.6zM551.5 767.0h2.6v2.6h-2.6zM556.5 806.9h2.6v2.6h-2.6zM586.0 792.0h2.6v2.6h-2.6zM576.9 831.8h2.6v2.6h-2.6zM588.9 799.7h2.6v2.6h-2.6zM547.8 775.9h2.6v2.6h-2.6zM591.3 790.5h2.6v2.6h-2.6zM562.7 820.3h2.6v2.6h-2.6zM598.9 794.9h2.6v2.6h-2.6zM592.5 788.4h2.6v2.6h-2.6zM565.8 794.1h2.6v2.6h-2.6zM598.4 798.2h2.6v2.6h-2.6zM572.0 789.3h2.6v2.6h-2.6zM556.2 780.6h2.6v2.6h-2.6zM567.8 775.4h2.6v2.6h-2.6zM549.1 811.9h2.6v2.6h-2.6zM571.6 838.6h2.6v2.6h-2.6zM556.9 804.3h2.6v2.6h-2.6zM599.5 818.3h2.6v2.6h-2.6zM555.6 807.9h2.6v2.6h-2.6zM601.1 801.9h2.6v2.6h-2.6zM591.2 776.0h2.6v2.6h-2.6zM543.6 798.1h2.6v2.6h-2.6zM573.6 801.3h2.6v2.6h-2.6zM571.1 794.9h2.6v2.6h-2.6zM564.3 791.8h2.6v2.6h-2.6zM572.5 798.7h2.6v2.6h-2.6zM616.6 797.5h2.6v2.6h-2.6zM573.1 793.2h2.6v2.6h-2.6zM552.4 790.1h2.6v2.6h-2.6zM558.1 796.2h2.6v2.6h-2.6zM566.0 802.0h2.6v2.6h-2.6zM621.4 802.4h2.6v2.6h-2.6zM566.3 803.3h2.6v2.6h-2.6zM605.1 813.6h2.6v2.6h-2.6zM547.3 806.1h2.6v2.6h-2.6zM566.7 815.6h2.6v2.6h-2.6zM568.3 817.0h2.6v2.6h-2.6zM567.4 785.8h2.6v2.6h-2.6zM581.7 797.9h2.6v2.6h-2.6zM584.5 798.1h2.6v2.6h-2.6zM572.9 800.4h2.6v2.6h-2.6zM549.5 786.6h2.6v2.6h-2.6zM579.8 830.2h2.6v2.6h-2.6zM575.4 769.4h2.6v2.6h-2.6zM589.3 788.9h2.6v2.6h-2.6zM558.1 806.3h2.6v2.6h-2.6zM601.6 772.9h2.6v2.6h-2.6zM582.5 792.6h2.6v2.6h-2.6zM551.6 799.5h2.6v2.6h-2.6zM592.4 786.8h2.6v2.6h-2.6zM556.2 806.5h2.6v2.6h-2.6zM562.0 771.3h2.6v2.6h-2.6zM570.3 779.8h2.6v2.6h-2.6zM581.8 823.7h2.6v2.6h-2.6zM622.3 799.6h2.6v2.6h-2.6zM571.5 800.8h2.6v2.6h-2.6zM586.7 769.0h2.6v2.6h-2.6zM585.4 788.2h2.6v2.6h-2.6zM571.1 805.2h2.6v2.6h-2.6zM545.8 780.0h2.6v2.6h-2.6zM577.0 784.4h2.6v2.6h-2.6zM535.6 811.2h2.6v2.6h-2.6zM583.7 780.3h2.6v2.6h-2.6zM547.3 797.7h2.6v2.6h-2.6zM582.2 792.1h2.6v2.6h-2.6zM597.0 778.2h2.6v2.6h-2.6zM561.6 797.7h2.6v2.6h-2.6zM588.2 801.5h2.6v2.6h-2.6zM599.4 767.3h2.6v2.6h-2.6zM554.7 812.7h2.6v2.6h-2.6zM534.2 783.5h2.6v2.6h-2.6zM563.7 785.4h2.6v2.6h-2.6zM581.8 800.0h2.6v2.6h-2.6zM555.7 808.0h2.6v2.6h-2.6zM576.0 812.2h2.6v2.6h-2.6zM580.6 774.8h2.6v2.6h-2.6zM590.5 796.7h2.6v2.6h-2.6zM599.6 810.6h2.6v2.6h-2.6zM584.2 787.8h2.6v2.6h-2.6zM559.6 787.2h2.6v2.6h-2.6zM570.3 796.5h2.6v2.6h-2.6zM544.1 811.9h2.6v2.6h-2.6zM589.6 809.9h2.6v2.6h-2.6zM617.6 803.1h2.6v2.6h-2.6zM549.4 795.4h2.6v2.6h-2.6zM586.8 781.5h2.6v2.6h-2.6zM590.8 786.0h2.6v2.6h-2.6zM636.3 771.7h2.6v2.6h-2.6zM617.3 817.0h2.6v2.6h-2.6zM568.7 803.9h2.6v2.6h-2.6zM596.8 796.9h2.6v2.6h-2.6zM592.1 794.1h2.6v2.6h-2.6zM541.6 802.9h2.6v2.6h-2.6zM579.7 768.8h2.6v2.6h-2.6zM571.6 818.2h2.6v2.6h-2.6zM610.1 807.6h2.6v2.6h-2.6zM572.1 785.9h2.6v2.6h-2.6zM586.3 795.2h2.6v2.6h-2.6zM606.3 828.9h2.6v2.6h-2.6zM597.1 809.5h2.6v2.6h-2.6zM551.8 819.7h2.6v2.6h-2.6zM576.3 799.3h2.6v2.6h-2.6zM584.1 785.0h2.6v2.6h-2.6zM587.3 792.0h2.6v2.6h-2.6zM571.9 813.2h2.6v2.6h-2.6zM596.2 801.2h2.6v2.6h-2.6zM562.3 789.2h2.6v2.6h-2.6zM568.2 757.5h2.6v2.6h-2.6zM606.1 809.4h2.6v2.6h-2.6zM571.3 812.2h2.6v2.6h-2.6zM548.9 797.3h2.6v2.6h-2.6zM605.3 798.5h2.6v2.6h-2.6zM550.9 796.2h2.6v2.6h-2.6zM562.9 778.8h2.6v2.6h-2.6zM581.9 802.0h2.6v2.6h-2.6zM593.0 779.2h2.6v2.6h-2.6zM592.3 796.6h2.6v2.6h-2.6zM596.9 800.8h2.6v2.6h-2.6zM592.7 797.7h2.6v2.6h-2.6zM588.9 781.2h2.6v2.6h-2.6zM578.3 783.6h2.6v2.6h-2.6zM571.1 802.6h2.6v2.6h-2.6zM566.0 777.5h2.6v2.6h-2.6zM622.8 782.6h2.6v2.6h-2.6zM595.1 804.8h2.6v2.6h-2.6zM582.7 789.5h2.6v2.6h-2.6zM601.0 803.7h2.6v2.6h-2.6zM588.0 796.3h2.6v2.6h-2.6zM589.3 799.7h2.6v2.6h-2.6zM582.2 792.5h2.6v2.6h-2.6zM589.2 780.9h2.6v2.6h-2.6zM581.1 775.7h2.6v2.6h-2.6zM551.5 807.2h2.6v2.6h-2.6zM582.5 804.2h2.6v2.6h-2.6zM589.8 785.6h2.6v2.6h-2.6zM578.2 823.6h2.6v2.6h-2.6zM572.7 801.9h2.6v2.6h-2.6zM581.8 799.2h2.6v2.6h-2.6zM576.5 806.3h2.6v2.6h-2.6zM555.1 785.7h2.6v2.6h-2.6zM576.2 787.7h2.6v2.6h-2.6zM562.4 788.6h2.6v2.6h-2.6zM552.1 795.7h2.6v2.6h-2.6zM585.5 811.3h2.6v2.6h-2.6zM582.7 807.6h2.6v2.6h-2.6zM594.5 784.5h2.6v2.6h-2.6zM571.7 813.0h2.6v2.6h-2.6zM586.4 840.6h2.6v2.6h-2.6zM579.8 785.6h2.6v2.6h-2.6zM588.7 820.3h2.6v2.6h-2.6zM561.2 778.5h2.6v2.6h-2.6zM595.7 790.2h2.6v2.6h-2.6zM563.3 799.7h2.6v2.6h-2.6zM537.3 763.4h2.6v2.6h-2.6zM575.9 794.1h2.6v2.6h-2.6zM547.3 803.3h2.6v2.6h-2.6zM596.5 815.0h2.6v2.6h-2.6zM552.4 803.6h2.6v2.6h-2.6zM578.6 804.5h2.6v2.6h-2.6zM544.0 765.0h2.6v2.6h-2.6zM584.8 796.8h2.6v2.6h-2.6zM605.5 793.6h2.6v2.6h-2.6zM570.3 833.4h2.6v2.6h-2.6zM600.9 817.0h2.6v2.6h-2.6zM573.9 786.0h2.6v2.6h-2.6zM554.6 816.5h2.6v2.6h-2.6zM571.5 780.8h2.6v2.6h-2.6zM560.9 806.2h2.6v2.6h-2.6zM589.1 782.7h2.6v2.6h-2.6zM587.9 817.6h2.6v2.6h-2.6zM610.6 805.7h2.6v2.6h-2.6zM561.1 817.4h2.6v2.6h-2.6zM574.6 809.3h2.6v2.6h-2.6zM565.1 796.9h2.6v2.6h-2.6zM561.0 787.4h2.6v2.6h-2.6zM570.3 794.0h2.6v2.6h-2.6zM587.9 798.8h2.6v2.6h-2.6zM590.0 805.2h2.6v2.6h-2.6zM598.0 805.9h2.6v2.6h-2.6zM570.5 797.6h2.6v2.6h-2.6zM574.0 808.0h2.6v2.6h-2.6zM568.4 784.6h2.6v2.6h-2.6zM508.4 800.7h2.6v2.6h-2.6zM577.3 775.8h2.6v2.6h-2.6zM577.7 802.0h2.6v2.6h-2.6zM566.1 794.8h2.6v2.6h-2.6zM580.4 819.5h2.6v2.6h-2.6zM598.6 789.9h2.6v2.6h-2.6zM552.1 789.0h2.6v2.6h-2.6zM584.5 772.8h2.6v2.6h-2.6zM563.9 808.7h2.6v2.6h-2.6zM573.7 776.9h2.6v2.6h-2.6zM572.9 818.3h2.6v2.6h-2.6zM571.7 777.7h2.6v2.6h-2.6zM606.8 785.4h2.6v2.6h-2.6zM574.5 765.7h2.6v2.6h-2.6zM571.8 797.4h2.6v2.6h-2.6zM555.1 805.3h2.6v2.6h-2.6zM609.3 823.2h2.6v2.6h-2.6zM586.1 808.9h2.6v2.6h-2.6zM577.5 798.8h2.6v2.6h-2.6zM560.0 787.9h2.6v2.6h-2.6zM570.1 794.0h2.6v2.6h-2.6zM609.8 831.3h2.6v2.6h-2.6zM559.6 826.4h2.6v2.6h-2.6zM557.1 809.9h2.6v2.6h-2.6zM604.7 779.0h2.6v2.6h-2.6zM556.9 801.8h2.6v2.6h-2.6zM590.8 809.3h2.6v2.6h-2.6zM615.6 781.5h2.6v2.6h-2.6zM552.3 805.6h2.6v2.6h-2.6zM556.9 806.7h2.6v2.6h-2.6zM602.5 797.6h2.6v2.6h-2.6zM603.5 787.3h2.6v2.6h-2.6zM617.3 817.8h2.6v2.6h-2.6zM582.2 789.7h2.6v2.6h-2.6zM580.9 806.5h2.6v2.6h-2.6zM554.1 811.4h2.6v2.6h-2.6zM571.8 787.7h2.6v2.6h-2.6zM576.3 806.6h2.6v2.6h-2.6zM583.0 818.3h2.6v2.6h-2.6zM559.6 808.0h2.6v2.6h-2.6zM572.3 793.9h2.6v2.6h-2.6zM597.0 802.4h2.6v2.6h-2.6zM608.9 795.1h2.6v2.6h-2.6zM589.2 789.2h2.6v2.6h-2.6zM593.7 798.0h2.6v2.6h-2.6zM607.8 794.4h2.6v2.6h-2.6zM537.7 788.9h2.6v2.6h-2.6zM615.5 786.0h2.6v2.6h-2.6zM576.6 777.0h2.6v2.6h-2.6zM543.8 804.0h2.6v2.6h-2.6zM583.6 788.9h2.6v2.6h-2.6zM591.7 812.9h2.6v2.6h-2.6zM565.6 797.2h2.6v2.6h-2.6zM601.4 800.5h2.6v2.6h-2.6zM595.2 793.2h2.6v2.6h-2.6zM623.8 814.2h2.6v2.6h-2.6zM576.4 776.1h2.6v2.6h-2.6zM577.5 797.2h2.6v2.6h-2.6zM567.6 803.7h2.6v2.6h-2.6zM556.1 784.0h2.6v2.6h-2.6zM584.9 791.1h2.6v2.6h-2.6zM620.6 793.0h2.6v2.6h-2.6zM564.8 834.2h2.6v2.6h-2.6zM560.6 819.3h2.6v2.6h-2.6zM580.0 809.6h2.6v2.6h-2.6zM563.2 832.5h2.6v2.6h-2.6zM587.3 828.8h2.6v2.6h-2.6zM572.1 810.5h2.6v2.6h-2.6zM566.9 800.0h2.6v2.6h-2.6zM566.6 777.3h2.6v2.6h-2.6zM578.2 780.8h2.6v2.6h-2.6zM605.9 792.4h2.6v2.6h-2.6zM538.0 792.8h2.6v2.6h-2.6zM615.0 807.0h2.6v2.6h-2.6zM584.6 782.9h2.6v2.6h-2.6zM606.0 811.9h2.6v2.6h-2.6zM595.2 786.8h2.6v2.6h-2.6zM589.1 797.6h2.6v2.6h-2.6zM560.2 780.2h2.6v2.6h-2.6zM559.9 800.2h2.6v2.6h-2.6zM593.1 769.5h2.6v2.6h-2.6zM588.3 796.2h2.6v2.6h-2.6zM618.6 809.0h2.6v2.6h-2.6zM512.2 770.4h2.6v2.6h-2.6zM564.6 793.1h2.6v2.6h-2.6zM524.5 782.2h2.6v2.6h-2.6zM616.7 791.0h2.6v2.6h-2.6zM562.7 786.5h2.6v2.6h-2.6zM547.1 807.5h2.6v2.6h-2.6zM589.9 825.7h2.6v2.6h-2.6zM591.6 804.3h2.6v2.6h-2.6zM551.2 795.3h2.6v2.6h-2.6zM562.3 743.3h2.6v2.6h-2.6zM572.4 782.1h2.6v2.6h-2.6zM607.3 801.0h2.6v2.6h-2.6zM561.0 785.7h2.6v2.6h-2.6zM575.4 807.9h2.6v2.6h-2.6zM596.4 802.8h2.6v2.6h-2.6zM579.0 798.5h2.6v2.6h-2.6zM568.8 797.1h2.6v2.6h-2.6zM578.4 805.6h2.6v2.6h-2.6zM603.1 808.2h2.6v2.6h-2.6zM576.4 787.6h2.6v2.6h-2.6zM596.8 802.0h2.6v2.6h-2.6zM556.5 773.7h2.6v2.6h-2.6zM570.4 806.2h2.6v2.6h-2.6zM563.6 816.7h2.6v2.6h-2.6zM597.1 809.5h2.6v2.6h-2.6zM554.0 799.1h2.6v2.6h-2.6zM542.7 803.6h2.6v2.6h-2.6zM585.4 807.5h2.6v2.6h-2.6zM598.9 795.1h2.6v2.6h-2.6zM619.3 835.0h2.6v2.6h-2.6zM543.6 802.1h2.6v2.6h-2.6zM550.7 801.4h2.6v2.6h-2.6zM602.5 790.0h2.6v2.6h-2.6zM589.4 809.3h2.6v2.6h-2.6zM567.1 796.9h2.6v2.6h-2.6zM582.1 810.7h2.6v2.6h-2.6zM599.2 805.9h2.6v2.6h-2.6zM588.7 777.1h2.6v2.6h-2.6zM540.4 799.0h2.6v2.6h-2.6zM576.1 810.7h2.6v2.6h-2.6zM580.4 812.2h2.6v2.6h-2.6zM599.2 800.4h2.6v2.6h-2.6zM601.6 774.0h2.6v2.6h-2.6zM579.3 784.5h2.6v2.6h-2.6zM587.6 827.6h2.6v2.6h-2.6zM569.1 808.1h2.6v2.6h-2.6zM559.0 815.5h2.6v2.6h-2.6zM581.3 759.1h2.6v2.6h-2.6zM547.8 798.7h2.6v2.6h-2.6zM534.8 804.9h2.6v2.6h-2.6zM548.9 799.2h2.6v2.6h-2.6zM588.4 810.3h2.6v2.6h-2.6zM578.3 815.9h2.6v2.6h-2.6zM574.4 808.7h2.6v2.6h-2.6zM607.6 782.6h2.6v2.6h-2.6zM583.9 773.7h2.6v2.6h-2.6zM570.0 794.8h2.6v2.6h-2.6zM601.0 772.9h2.6v2.6h-2.6zM576.3 797.3h2.6v2.6h-2.6zM543.6 822.4h2.6v2.6h-2.6zM563.7 785.8h2.6v2.6h-2.6zM565.2 810.9h2.6v2.6h-2.6zM581.8 806.7h2.6v2.6h-2.6zM574.0 791.1h2.6v2.6h-2.6zM586.7 797.3h2.6v2.6h-2.6zM576.5 782.0h2.6v2.6h-2.6zM570.9 797.4h2.6v2.6h-2.6zM569.6 807.8h2.6v2.6h-2.6zM572.8 787.2h2.6v2.6h-2.6zM568.2 796.9h2.6v2.6h-2.6zM547.1 792.9h2.6v2.6h-2.6zM559.8 811.6h2.6v2.6h-2.6zM587.2 818.9h2.6v2.6h-2.6zM553.6 788.4h2.6v2.6h-2.6zM603.5 781.7h2.6v2.6h-2.6zM583.7 804.0h2.6v2.6h-2.6zM572.8 794.9h2.6v2.6h-2.6zM544.5 801.6h2.6v2.6h-2.6zM572.5 812.0h2.6v2.6h-2.6zM569.6 800.1h2.6v2.6h-2.6zM587.0 807.0h2.6v2.6h-2.6zM600.2 775.6h2.6v2.6h-2.6zM596.9 793.1h2.6v2.6h-2.6zM591.0 793.9h2.6v2.6h-2.6zM594.8 801.7h2.6v2.6h-2.6zM612.2 799.6h2.6v2.6h-2.6zM590.8 794.7h2.6v2.6h-2.6zM589.2 775.6h2.6v2.6h-2.6zM565.4 803.0h2.6v2.6h-2.6zM578.8 807.3h2.6v2.6h-2.6zM588.5 793.1h2.6v2.6h-2.6zM542.8 800.3h2.6v2.6h-2.6zM615.7 790.4h2.6v2.6h-2.6zM573.8 784.2h2.6v2.6h-2.6zM590.3 789.2h2.6v2.6h-2.6zM532.2 777.9h2.6v2.6h-2.6zM579.2 788.6h2.6v2.6h-2.6zM553.9 767.7h2.6v2.6h-2.6zM574.5 799.8h2.6v2.6h-2.6zM553.6 816.2h2.6v2.6h-2.6zM554.7 806.7h2.6v2.6h-2.6zM542.3 795.3h2.6v2.6h-2.6zM601.8 790.5h2.6v2.6h-2.6zM561.6 774.1h2.6v2.6h-2.6zM553.9 793.8h2.6v2.6h-2.6zM545.4 815.9h2.6v2.6h-2.6zM573.3 805.2h2.6v2.6h-2.6zM608.2 771.5h2.6v2.6h-2.6zM574.4 772.7h2.6v2.6h-2.6zM558.1 800.3h2.6v2.6h-2.6zM573.6 775.2h2.6v2.6h-2.6zM562.2 772.5h2.6v2.6h-2.6zM571.4 812.1h2.6v2.6h-2.6zM560.9 770.6h2.6v2.6h-2.6zM604.9 795.0h2.6v2.6h-2.6zM620.3 803.9h2.6v2.6h-2.6zM568.8 812.7h2.6v2.6h-2.6zM557.3 775.6h2.6v2.6h-2.6zM580.8 795.8h2.6v2.6h-2.6zM578.7 815.9h2.6v2.6h-2.6zM596.4 768.6h2.6v2.6h-2.6zM565.5 782.2h2.6v2.6h-2.6zM572.9 793.8h2.6v2.6h-2.6zM576.6 791.9h2.6v2.6h-2.6zM573.3 790.2h2.6v2.6h-2.6zM584.6 809.5h2.6v2.6h-2.6zM586.4 794.9h2.6v2.6h-2.6zM585.4 790.6h2.6v2.6h-2.6zM540.4 775.9h2.6v2.6h-2.6zM587.6 805.1h2.6v2.6h-2.6zM580.6 808.6h2.6v2.6h-2.6zM538.2 786.2h2.6v2.6h-2.6zM578.0 820.2h2.6v2.6h-2.6zM562.8 792.5h2.6v2.6h-2.6zM574.0 799.2h2.6v2.6h-2.6zM553.1 795.8h2.6v2.6h-2.6zM592.4 800.1h2.6v2.6h-2.6zM590.0 797.2h2.6v2.6h-2.6zM596.8 836.1h2.6v2.6h-2.6zM586.7 797.8h2.6v2.6h-2.6zM587.1 802.2h2.6v2.6h-2.6zM588.1 828.1h2.6v2.6h-2.6zM601.6 836.6h2.6v2.6h-2.6zM577.4 783.9h2.6v2.6h-2.6zM594.2 809.3h2.6v2.6h-2.6zM553.0 798.9h2.6v2.6h-2.6zM592.6 800.6h2.6v2.6h-2.6zM573.4 795.0h2.6v2.6h-2.6zM609.3 795.4h2.6v2.6h-2.6zM587.1 801.9h2.6v2.6h-2.6zM559.3 793.9h2.6v2.6h-2.6zM585.7 807.5h2.6v2.6h-2.6zM568.2 821.5h2.6v2.6h-2.6zM599.9 790.7h2.6v2.6h-2.6zM577.9 787.5h2.6v2.6h-2.6zM574.4 796.4h2.6v2.6h-2.6zM576.9 844.2h2.6v2.6h-2.6zM554.3 804.4h2.6v2.6h-2.6zM579.0 760.3h2.6v2.6h-2.6zM572.1 785.7h2.6v2.6h-2.6zM578.5 777.6h2.6v2.6h-2.6zM598.8 800.1h2.6v2.6h-2.6zM553.0 802.2h2.6v2.6h-2.6zM575.0 792.2h2.6v2.6h-2.6zM607.0 785.5h2.6v2.6h-2.6zM573.5 783.8h2.6v2.6h-2.6zM569.5 824.3h2.6v2.6h-2.6zM581.0 792.3h2.6v2.6h-2.6zM601.0 790.7h2.6v2.6h-2.6zM578.5 800.0h2.6v2.6h-2.6zM600.2 790.8h2.6v2.6h-2.6zM556.5 810.0h2.6v2.6h-2.6zM604.1 786.6h2.6v2.6h-2.6zM570.8 778.1h2.6v2.6h-2.6zM589.7 805.2h2.6v2.6h-2.6zM597.9 797.0h2.6v2.6h-2.6zM563.9 792.6h2.6v2.6h-2.6zM616.6 778.5h2.6v2.6h-2.6zM581.7 783.4h2.6v2.6h-2.6zM568.7 800.4h2.6v2.6h-2.6zM610.4 794.5h2.6v2.6h-2.6zM592.2 809.4h2.6v2.6h-2.6zM622.0 788.4h2.6v2.6h-2.6zM578.2 769.4h2.6v2.6h-2.6zM551.5 798.0h2.6v2.6h-2.6zM585.0 801.0h2.6v2.6h-2.6zM541.3 802.9h2.6v2.6h-2.6zM593.9 798.9h2.6v2.6h-2.6zM578.7 773.0h2.6v2.6h-2.6zM529.9 804.8h2.6v2.6h-2.6zM574.1 759.4h2.6v2.6h-2.6zM558.2 811.8h2.6v2.6h-2.6zM539.5 798.0h2.6v2.6h-2.6zM558.2 810.8h2.6v2.6h-2.6zM559.6 773.2h2.6v2.6h-2.6zM578.7 798.4h2.6v2.6h-2.6zM557.3 771.3h2.6v2.6h-2.6zM601.7 811.7h2.6v2.6h-2.6zM620.9 797.4h2.6v2.6h-2.6zM588.1 777.7h2.6v2.6h-2.6zM559.5 825.4h2.6v2.6h-2.6zM576.2 792.5h2.6v2.6h-2.6zM576.7 780.5h2.6v2.6h-2.6zM558.9 771.2h2.6v2.6h-2.6zM570.9 821.2h2.6v2.6h-2.6zM602.4 796.2h2.6v2.6h-2.6zM560.4 793.3h2.6v2.6h-2.6zM594.7 802.4h2.6v2.6h-2.6zM571.8 794.1h2.6v2.6h-2.6zM556.6 812.6h2.6v2.6h-2.6zM570.8 779.8h2.6v2.6h-2.6zM594.3 800.9h2.6v2.6h-2.6zM574.7 809.7h2.6v2.6h-2.6zM564.6 779.2h2.6v2.6h-2.6zM571.9 800.1h2.6v2.6h-2.6zM556.1 817.3h2.6v2.6h-2.6zM580.4 777.8h2.6v2.6h-2.6zM595.1 812.6h2.6v2.6h-2.6zM597.1 804.5h2.6v2.6h-2.6zM613.0 799.7h2.6v2.6h-2.6zM589.7 803.1h2.6v2.6h-2.6zM531.7 802.6h2.6v2.6h-2.6zM584.3 813.1h2.6v2.6h-2.6zM548.6 810.6h2.6v2.6h-2.6zM568.0 779.7h2.6v2.6h-2.6zM561.8 793.6h2.6v2.6h-2.6zM586.4 773.9h2.6v2.6h-2.6zM575.3 805.7h2.6v2.6h-2.6zM566.9 805.8h2.6v2.6h-2.6zM577.8 790.4h2.6v2.6h-2.6zM544.6 796.9h2.6v2.6h-2.6zM556.6 810.4h2.6v2.6h-2.6zM588.5 807.0h2.6v2.6h-2.6zM612.9 801.9h2.6v2.6h-2.6zM564.4 813.0h2.6v2.6h-2.6zM602.0 773.9h2.6v2.6h-2.6zM571.5 789.8h2.6v2.6h-2.6zM599.9 821.5h2.6v2.6h-2.6zM551.9 790.3h2.6v2.6h-2.6zM581.1 770.5h2.6v2.6h-2.6zM599.5 796.1h2.6v2.6h-2.6zM552.3 794.1h2.6v2.6h-2.6zM576.2 802.6h2.6v2.6h-2.6zM557.0 782.9h2.6v2.6h-2.6zM569.7 804.2h2.6v2.6h-2.6zM583.0 783.6h2.6v2.6h-2.6zM569.5 806.6h2.6v2.6h-2.6zM562.8 803.8h2.6v2.6h-2.6zM579.4 766.0h2.6v2.6h-2.6zM560.8 781.8h2.6v2.6h-2.6zM568.4 806.4h2.6v2.6h-2.6zM560.7 801.2h2.6v2.6h-2.6zM580.2 792.7h2.6v2.6h-2.6zM559.6 789.5h2.6v2.6h-2.6zM556.8 799.4h2.6v2.6h-2.6zM556.3 819.2h2.6v2.6h-2.6zM551.9 809.2h2.6v2.6h-2.6zM583.6 812.7h2.6v2.6h-2.6zM594.8 825.3h2.6v2.6h-2.6zM572.6 784.6h2.6v2.6h-2.6zM551.4 779.5h2.6v2.6h-2.6zM543.8 793.7h2.6v2.6h-2.6zM566.3 806.7h2.6v2.6h-2.6zM567.2 778.0h2.6v2.6h-2.6zM575.8 792.9h2.6v2.6h-2.6zM574.0 796.6h2.6v2.6h-2.6zM586.4 806.4h2.6v2.6h-2.6zM559.3 780.6h2.6v2.6h-2.6zM614.4 841.1h2.6v2.6h-2.6zM555.0 806.3h2.6v2.6h-2.6zM569.0 810.6h2.6v2.6h-2.6zM572.0 796.5h2.6v2.6h-2.6zM559.8 805.5h2.6v2.6h-2.6zM532.8 827.6h2.6v2.6h-2.6zM597.0 788.1h2.6v2.6h-2.6zM644.5 793.8h2.6v2.6h-2.6zM598.2 776.0h2.6v2.6h-2.6zM539.6 786.5h2.6v2.6h-2.6zM576.2 786.7h2.6v2.6h-2.6zM570.8 798.4h2.6v2.6h-2.6zM599.8 801.2h2.6v2.6h-2.6zM578.5 794.6h2.6v2.6h-2.6zM571.9 783.7h2.6v2.6h-2.6zM560.1 781.7h2.6v2.6h-2.6zM584.2 797.4h2.6v2.6h-2.6zM568.7 792.2h2.6v2.6h-2.6zM581.5 780.0h2.6v2.6h-2.6zM583.8 804.6h2.6v2.6h-2.6zM576.7 809.0h2.6v2.6h-2.6zM575.0 800.7h2.6v2.6h-2.6zM569.3 792.3h2.6v2.6h-2.6zM574.6 794.8h2.6v2.6h-2.6zM548.7 787.6h2.6v2.6h-2.6zM532.5 809.2h2.6v2.6h-2.6zM571.4 783.1h2.6v2.6h-2.6zM589.4 815.7h2.6v2.6h-2.6zM566.9 800.4h2.6v2.6h-2.6zM559.9 760.4h2.6v2.6h-2.6zM576.6 829.7h2.6v2.6h-2.6zM554.8 786.2h2.6v2.6h-2.6zM555.2 802.1h2.6v2.6h-2.6zM566.9 788.8h2.6v2.6h-2.6zM577.3 782.9h2.6v2.6h-2.6zM574.9 810.8h2.6v2.6h-2.6zM600.9 806.3h2.6v2.6h-2.6zM568.9 803.2h2.6v2.6h-2.6zM545.8 799.6h2.6v2.6h-2.6zM554.7 797.4h2.6v2.6h-2.6zM562.3 787.8h2.6v2.6h-2.6zM571.0 787.6h2.6v2.6h-2.6zM550.8 787.8h2.6v2.6h-2.6zM585.9 801.3h2.6v2.6h-2.6zM585.4 797.9h2.6v2.6h-2.6zM559.3 804.8h2.6v2.6h-2.6zM598.5 786.0h2.6v2.6h-2.6zM572.6 809.8h2.6v2.6h-2.6zM556.5 803.0h2.6v2.6h-2.6zM564.7 766.5h2.6v2.6h-2.6zM561.4 796.4h2.6v2.6h-2.6zM595.6 828.0h2.6v2.6h-2.6zM563.2 796.0h2.6v2.6h-2.6zM599.9 792.3h2.6v2.6h-2.6zM583.4 788.2h2.6v2.6h-2.6zM574.8 802.3h2.6v2.6h-2.6zM585.6 798.5h2.6v2.6h-2.6zM571.5 801.3h2.6v2.6h-2.6zM567.4 801.3h2.6v2.6h-2.6zM550.5 781.0h2.6v2.6h-2.6zM594.8 791.1h2.6v2.6h-2.6zM625.3 805.4h2.6v2.6h-2.6zM555.8 783.1h2.6v2.6h-2.6zM576.5 799.5h2.6v2.6h-2.6zM612.4 807.9h2.6v2.6h-2.6zM615.2 790.9h2.6v2.6h-2.6zM608.9 806.8h2.6v2.6h-2.6zM575.2 781.7h2.6v2.6h-2.6zM604.0 779.8h2.6v2.6h-2.6zM578.3 776.5h2.6v2.6h-2.6zM556.6 807.2h2.6v2.6h-2.6zM583.3 791.3h2.6v2.6h-2.6zM585.8 804.1h2.6v2.6h-2.6zM606.8 778.8h2.6v2.6h-2.6zM565.7 808.5h2.6v2.6h-2.6zM559.5 790.1h2.6v2.6h-2.6zM584.0 801.7h2.6v2.6h-2.6zM588.9 796.5h2.6v2.6h-2.6zM610.7 793.6h2.6v2.6h-2.6zM584.3 785.3h2.6v2.6h-2.6zM567.1 797.3h2.6v2.6h-2.6zM577.6 782.1h2.6v2.6h-2.6zM634.9 830.8h2.6v2.6h-2.6zM538.6 821.1h2.6v2.6h-2.6zM576.4 835.2h2.6v2.6h-2.6zM611.3 785.2h2.6v2.6h-2.6zM580.2 795.6h2.6v2.6h-2.6zM559.1 780.0h2.6v2.6h-2.6zM565.4 805.1h2.6v2.6h-2.6zM592.8 803.8h2.6v2.6h-2.6zM557.6 811.5h2.6v2.6h-2.6zM581.9 806.4h2.6v2.6h-2.6zM577.9 772.3h2.6v2.6h-2.6zM589.9 795.3h2.6v2.6h-2.6zM593.0 832.1h2.6v2.6h-2.6zM593.4 793.0h2.6v2.6h-2.6zM582.2 807.3h2.6v2.6h-2.6zM591.7 792.6h2.6v2.6h-2.6zM575.7 810.2h2.6v2.6h-2.6zM559.0 802.5h2.6v2.6h-2.6zM574.9 799.0h2.6v2.6h-2.6zM588.3 808.0h2.6v2.6h-2.6zM595.9 791.2h2.6v2.6h-2.6zM614.0 803.6h2.6v2.6h-2.6zM570.1 798.8h2.6v2.6h-2.6zM556.8 806.6h2.6v2.6h-2.6zM556.8 796.5h2.6v2.6h-2.6zM581.4 766.9h2.6v2.6h-2.6zM536.9 793.2h2.6v2.6h-2.6zM548.8 787.1h2.6v2.6h-2.6zM581.7 782.8h2.6v2.6h-2.6zM582.6 806.4h2.6v2.6h-2.6zM546.2 768.4h2.6v2.6h-2.6zM589.1 798.5h2.6v2.6h-2.6zM578.3 803.8h2.6v2.6h-2.6zM591.6 805.0h2.6v2.6h-2.6zM597.9 810.5h2.6v2.6h-2.6zM574.1 797.2h2.6v2.6h-2.6zM577.4 785.3h2.6v2.6h-2.6zM586.4 815.0h2.6v2.6h-2.6zM555.8 799.4h2.6v2.6h-2.6zM587.7 801.7h2.6v2.6h-2.6zM546.1 796.4h2.6v2.6h-2.6zM598.9 797.8h2.6v2.6h-2.6zM587.9 812.3h2.6v2.6h-2.6zM563.5 802.3h2.6v2.6h-2.6zM576.9 795.8h2.6v2.6h-2.6zM565.9 814.2h2.6v2.6h-2.6zM584.3 807.5h2.6v2.6h-2.6zM602.0 801.1h2.6v2.6h-2.6zM572.2 798.3h2.6v2.6h-2.6zM582.5 811.0h2.6v2.6h-2.6zM601.4 779.2h2.6v2.6h-2.6zM575.3 788.1h2.6v2.6h-2.6zM595.9 815.6h2.6v2.6h-2.6zM562.2 795.4h2.6v2.6h-2.6zM572.3 793.4h2.6v2.6h-2.6zM593.3 818.4h2.6v2.6h-2.6zM601.4 813.1h2.6v2.6h-2.6zM552.9 801.3h2.6v2.6h-2.6zM575.4 808.7h2.6v2.6h-2.6zM603.7 802.4h2.6v2.6h-2.6zM584.8 797.6h2.6v2.6h-2.6zM561.5 811.7h2.6v2.6h-2.6zM584.7 812.0h2.6v2.6h-2.6zM566.9 798.1h2.6v2.6h-2.6zM603.3 800.0h2.6v2.6h-2.6zM561.4 778.9h2.6v2.6h-2.6zM556.4 788.9h2.6v2.6h-2.6zM579.6 783.0h2.6v2.6h-2.6zM576.8 813.0h2.6v2.6h-2.6zM576.8 815.7h2.6v2.6h-2.6zM559.7 782.2h2.6v2.6h-2.6zM591.7 804.3h2.6v2.6h-2.6zM573.8 816.8h2.6v2.6h-2.6zM555.2 806.2h2.6v2.6h-2.6zM638.1 780.1h2.6v2.6h-2.6zM587.9 790.0h2.6v2.6h-2.6zM566.9 804.6h2.6v2.6h-2.6zM594.6 810.5h2.6v2.6h-2.6zM558.8 804.6h2.6v2.6h-2.6zM601.1 804.3h2.6v2.6h-2.6zM605.4 799.0h2.6v2.6h-2.6zM592.2 809.1h2.6v2.6h-2.6zM597.0 790.5h2.6v2.6h-2.6zM600.1 804.7h2.6v2.6h-2.6zM619.3 792.3h2.6v2.6h-2.6zM648.7 804.7h2.6v2.6h-2.6zM532.2 763.4h2.6v2.6h-2.6zM592.8 803.8h2.6v2.6h-2.6zM578.0 787.5h2.6v2.6h-2.6zM614.9 806.6h2.6v2.6h-2.6zM583.5 772.4h2.6v2.6h-2.6zM590.0 801.8h2.6v2.6h-2.6zM571.9 784.3h2.6v2.6h-2.6zM601.9 796.1h2.6v2.6h-2.6zM595.0 788.3h2.6v2.6h-2.6zM582.1 768.0h2.6v2.6h-2.6zM615.4 818.8h2.6v2.6h-2.6zM620.7 800.8h2.6v2.6h-2.6zM590.3 789.7h2.6v2.6h-2.6zM577.5 807.1h2.6v2.6h-2.6zM566.9 773.2h2.6v2.6h-2.6zM623.9 792.3h2.6v2.6h-2.6zM562.9 811.1h2.6v2.6h-2.6zM587.9 787.8h2.6v2.6h-2.6zM564.4 798.6h2.6v2.6h-2.6zM563.5 814.4h2.6v2.6h-2.6zM562.9 794.6h2.6v2.6h-2.6zM609.8 797.4h2.6v2.6h-2.6zM570.9 793.7h2.6v2.6h-2.6zM544.4 802.0h2.6v2.6h-2.6zM557.8 803.0h2.6v2.6h-2.6zM550.0 790.2h2.6v2.6h-2.6zM569.8 821.0h2.6v2.6h-2.6zM567.7 792.8h2.6v2.6h-2.6zM608.3 785.5h2.6v2.6h-2.6zM559.6 792.1h2.6v2.6h-2.6zM555.0 809.5h2.6v2.6h-2.6zM582.4 798.8h2.6v2.6h-2.6zM616.2 804.3h2.6v2.6h-2.6zM571.0 759.5h2.6v2.6h-2.6zM563.5 800.2h2.6v2.6h-2.6zM606.2 797.6h2.6v2.6h-2.6zM544.2 776.5h2.6v2.6h-2.6zM577.4 786.0h2.6v2.6h-2.6zM569.5 810.8h2.6v2.6h-2.6zM590.9 816.7h2.6v2.6h-2.6zM587.5 781.8h2.6v2.6h-2.6zM574.7 772.5h2.6v2.6h-2.6zM570.6 795.6h2.6v2.6h-2.6zM578.8 798.6h2.6v2.6h-2.6zM571.4 787.5h2.6v2.6h-2.6zM566.9 781.4h2.6v2.6h-2.6zM578.7 763.6h2.6v2.6h-2.6zM581.4 799.3h2.6v2.6h-2.6zM612.0 789.6h2.6v2.6h-2.6zM586.2 767.4h2.6v2.6h-2.6zM559.8 784.9h2.6v2.6h-2.6zM583.0 797.1h2.6v2.6h-2.6zM564.4 788.1h2.6v2.6h-2.6zM613.3 820.3h2.6v2.6h-2.6zM585.1 794.4h2.6v2.6h-2.6zM565.6 793.7h2.6v2.6h-2.6zM558.4 813.6h2.6v2.6h-2.6zM591.6 804.5h2.6v2.6h-2.6zM560.7 809.9h2.6v2.6h-2.6zM553.2 796.7h2.6v2.6h-2.6zM575.6 784.0h2.6v2.6h-2.6zM560.5 809.4h2.6v2.6h-2.6zM577.3 772.0h2.6v2.6h-2.6zM583.7 794.4h2.6v2.6h-2.6zM613.3 783.9h2.6v2.6h-2.6zM606.4 793.8h2.6v2.6h-2.6zM603.3 796.0h2.6v2.6h-2.6zM563.4 805.4h2.6v2.6h-2.6zM588.4 764.7h2.6v2.6h-2.6zM558.8 802.0h2.6v2.6h-2.6zM567.4 817.1h2.6v2.6h-2.6zM566.1 822.1h2.6v2.6h-2.6zM553.7 792.2h2.6v2.6h-2.6zM537.6 817.8h2.6v2.6h-2.6zM594.9 786.0h2.6v2.6h-2.6zM578.5 798.0h2.6v2.6h-2.6zM560.9 803.9h2.6v2.6h-2.6zM582.6 782.6h2.6v2.6h-2.6zM572.1 794.2h2.6v2.6h-2.6zM592.3 779.8h2.6v2.6h-2.6zM569.7 810.9h2.6v2.6h-2.6zM587.5 798.3h2.6v2.6h-2.6zM529.7 835.3h2.6v2.6h-2.6zM616.1 793.9h2.6v2.6h-2.6zM591.9 798.0h2.6v2.6h-2.6zM564.5 826.2h2.6v2.6h-2.6zM552.8 803.7h2.6v2.6h-2.6zM531.6 808.1h2.6v2.6h-2.6zM567.1 777.7h2.6v2.6h-2.6zM562.8 807.8h2.6v2.6h-2.6zM570.3 780.6h2.6v2.6h-2.6zM570.2 801.5h2.6v2.6h-2.6zM577.9 779.5h2.6v2.6h-2.6zM539.2 813.1h2.6v2.6h-2.6zM539.6 803.6h2.6v2.6h-2.6zM593.8 771.5h2.6v2.6h-2.6zM575.7 781.4h2.6v2.6h-2.6zM600.9 800.1h2.6v2.6h-2.6zM551.4 782.6h2.6v2.6h-2.6zM568.9 795.5h2.6v2.6h-2.6zM551.9 790.5h2.6v2.6h-2.6zM629.7 778.7h2.6v2.6h-2.6zM539.2 795.9h2.6v2.6h-2.6zM554.3 806.0h2.6v2.6h-2.6zM584.9 810.1h2.6v2.6h-2.6zM598.0 788.6h2.6v2.6h-2.6zM534.2 804.8h2.6v2.6h-2.6zM557.1 785.0h2.6v2.6h-2.6zM530.3 801.2h2.6v2.6h-2.6zM594.1 776.4h2.6v2.6h-2.6zM588.7 806.0h2.6v2.6h-2.6zM572.0 794.3h2.6v2.6h-2.6zM553.7 780.7h2.6v2.6h-2.6zM575.2 819.7h2.6v2.6h-2.6zM572.4 824.4h2.6v2.6h-2.6zM581.5 786.8h2.6v2.6h-2.6zM554.8 803.5h2.6v2.6h-2.6zM599.7 810.8h2.6v2.6h-2.6zM555.3 806.0h2.6v2.6h-2.6zM565.8 798.2h2.6v2.6h-2.6zM571.3 792.1h2.6v2.6h-2.6zM594.6 795.6h2.6v2.6h-2.6zM575.0 792.0h2.6v2.6h-2.6zM611.0 823.4h2.6v2.6h-2.6zM601.5 779.3h2.6v2.6h-2.6zM565.4 794.7h2.6v2.6h-2.6zM597.1 802.9h2.6v2.6h-2.6zM554.4 784.8h2.6v2.6h-2.6zM550.1 809.1h2.6v2.6h-2.6zM611.8 791.7h2.6v2.6h-2.6zM588.9 816.4h2.6v2.6h-2.6zM611.7 776.0h2.6v2.6h-2.6zM574.2 836.6h2.6v2.6h-2.6zM566.7 813.1h2.6v2.6h-2.6zM561.3 821.5h2.6v2.6h-2.6zM610.9 806.0h2.6v2.6h-2.6zM590.6 784.6h2.6v2.6h-2.6zM543.8 788.6h2.6v2.6h-2.6zM557.5 781.2h2.6v2.6h-2.6zM560.3 769.0h2.6v2.6h-2.6zM550.1 804.6h2.6v2.6h-2.6zM598.3 787.8h2.6v2.6h-2.6zM573.2 798.1h2.6v2.6h-2.6zM590.1 817.1h2.6v2.6h-2.6zM580.2 777.6h2.6v2.6h-2.6zM542.6 806.5h2.6v2.6h-2.6zM564.7 779.2h2.6v2.6h-2.6zM555.4 790.3h2.6v2.6h-2.6zM595.6 785.6h2.6v2.6h-2.6zM584.7 797.6h2.6v2.6h-2.6zM564.5 781.0h2.6v2.6h-2.6zM605.7 801.5h2.6v2.6h-2.6zM627.1 783.6h2.6v2.6h-2.6zM556.8 797.0h2.6v2.6h-2.6zM538.6 797.2h2.6v2.6h-2.6zM581.7 796.6h2.6v2.6h-2.6zM586.2 817.4h2.6v2.6h-2.6zM539.5 800.2h2.6v2.6h-2.6zM550.8 790.4h2.6v2.6h-2.6zM558.3 787.1h2.6v2.6h-2.6zM589.4 812.9h2.6v2.6h-2.6zM582.1 784.3h2.6v2.6h-2.6zM549.3 788.0h2.6v2.6h-2.6zM556.7 799.1h2.6v2.6h-2.6zM552.7 803.0h2.6v2.6h-2.6zM576.8 800.4h2.6v2.6h-2.6zM619.3 778.6h2.6v2.6h-2.6zM606.5 783.9h2.6v2.6h-2.6zM594.4 770.9h2.6v2.6h-2.6zM552.9 767.8h2.6v2.6h-2.6zM598.9 775.9h2.6v2.6h-2.6zM561.4 802.9h2.6v2.6h-2.6zM560.4 792.0h2.6v2.6h-2.6zM599.1 768.0h2.6v2.6h-2.6zM572.3 794.3h2.6v2.6h-2.6zM592.6 794.9h2.6v2.6h-2.6zM588.5 823.4h2.6v2.6h-2.6zM564.0 807.5h2.6v2.6h-2.6zM580.4 805.1h2.6v2.6h-2.6zM588.7 825.2h2.6v2.6h-2.6zM575.4 808.3h2.6v2.6h-2.6zM552.3 783.1h2.6v2.6h-2.6zM602.8 780.1h2.6v2.6h-2.6zM565.2 821.0h2.6v2.6h-2.6zM560.7 828.2h2.6v2.6h-2.6zM565.6 820.8h2.6v2.6h-2.6zM595.7 823.3h2.6v2.6h-2.6zM581.4 833.5h2.6v2.6h-2.6zM613.6 817.9h2.6v2.6h-2.6zM546.3 793.2h2.6v2.6h-2.6zM567.7 796.1h2.6v2.6h-2.6zM579.2 795.5h2.6v2.6h-2.6zM571.2 792.8h2.6v2.6h-2.6zM546.9 788.6h2.6v2.6h-2.6zM555.8 793.4h2.6v2.6h-2.6zM565.2 821.6h2.6v2.6h-2.6zM566.3 834.0h2.6v2.6h-2.6zM572.7 809.8h2.6v2.6h-2.6zM570.3 781.8h2.6v2.6h-2.6zM554.7 786.0h2.6v2.6h-2.6zM541.7 797.4h2.6v2.6h-2.6zM603.4 801.1h2.6v2.6h-2.6zM607.0 805.1h2.6v2.6h-2.6zM577.0 802.5h2.6v2.6h-2.6zM598.1 825.2h2.6v2.6h-2.6zM595.4 809.0h2.6v2.6h-2.6zM594.9 816.4h2.6v2.6h-2.6zM563.5 805.9h2.6v2.6h-2.6zM579.2 812.4h2.6v2.6h-2.6zM566.7 791.8h2.6v2.6h-2.6zM544.0 795.4h2.6v2.6h-2.6zM549.9 819.2h2.6v2.6h-2.6zM581.2 775.6h2.6v2.6h-2.6zM576.6 781.9h2.6v2.6h-2.6zM586.1 818.6h2.6v2.6h-2.6zM578.1 810.1h2.6v2.6h-2.6zM580.0 788.7h2.6v2.6h-2.6zM582.8 784.6h2.6v2.6h-2.6zM554.9 821.0h2.6v2.6h-2.6zM561.3 794.9h2.6v2.6h-2.6zM623.2 820.7h2.6v2.6h-2.6zM584.5 807.5h2.6v2.6h-2.6zM602.3 805.2h2.6v2.6h-2.6zM566.4 799.5h2.6v2.6h-2.6zM578.3 789.8h2.6v2.6h-2.6zM604.9 786.6h2.6v2.6h-2.6zM583.4 789.1h2.6v2.6h-2.6zM588.2 824.9h2.6v2.6h-2.6zM595.4 814.8h2.6v2.6h-2.6zM576.3 818.9h2.6v2.6h-2.6zM551.7 791.3h2.6v2.6h-2.6zM549.9 794.3h2.6v2.6h-2.6zM550.2 772.3h2.6v2.6h-2.6zM547.6 793.7h2.6v2.6h-2.6zM533.8 795.1h2.6v2.6h-2.6zM552.6 768.8h2.6v2.6h-2.6zM562.4 793.3h2.6v2.6h-2.6zM610.9 772.9h2.6v2.6h-2.6zM559.6 798.8h2.6v2.6h-2.6zM578.7 813.6h2.6v2.6h-2.6zM573.0 794.8h2.6v2.6h-2.6zM573.9 793.0h2.6v2.6h-2.6zM551.9 800.9h2.6v2.6h-2.6zM587.1 797.7h2.6v2.6h-2.6zM565.6 816.0h2.6v2.6h-2.6zM599.6 785.4h2.6v2.6h-2.6zM582.2 805.7h2.6v2.6h-2.6zM549.3 795.1h2.6v2.6h-2.6zM594.3 775.2h2.6v2.6h-2.6zM551.3 799.4h2.6v2.6h-2.6zM541.3 808.3h2.6v2.6h-2.6zM618.9 818.9h2.6v2.6h-2.6zM589.4 776.2h2.6v2.6h-2.6zM598.5 787.4h2.6v2.6h-2.6zM569.5 798.5h2.6v2.6h-2.6zM568.7 758.1h2.6v2.6h-2.6zM558.0 790.9h2.6v2.6h-2.6zM566.2 803.5h2.6v2.6h-2.6zM564.5 825.9h2.6v2.6h-2.6zM544.9 803.1h2.6v2.6h-2.6zM603.6 778.4h2.6v2.6h-2.6zM556.7 805.5h2.6v2.6h-2.6zM594.9 810.9h2.6v2.6h-2.6zM553.1 768.3h2.6v2.6h-2.6zM579.0 802.8h2.6v2.6h-2.6zM557.2 825.1h2.6v2.6h-2.6zM566.6 804.3h2.6v2.6h-2.6zM573.3 797.5h2.6v2.6h-2.6zM565.1 783.9h2.6v2.6h-2.6zM573.9 785.8h2.6v2.6h-2.6zM570.2 826.8h2.6v2.6h-2.6zM557.7 797.0h2.6v2.6h-2.6zM575.8 810.4h2.6v2.6h-2.6zM577.3 814.9h2.6v2.6h-2.6zM593.2 811.0h2.6v2.6h-2.6zM571.3 799.6h2.6v2.6h-2.6zM551.6 803.9h2.6v2.6h-2.6zM563.0 774.6h2.6v2.6h-2.6zM574.9 783.5h2.6v2.6h-2.6zM571.6 799.0h2.6v2.6h-2.6zM591.3 815.7h2.6v2.6h-2.6zM608.0 836.0h2.6v2.6h-2.6zM585.5 793.1h2.6v2.6h-2.6zM586.1 820.1h2.6v2.6h-2.6zM589.9 811.7h2.6v2.6h-2.6zM571.6 791.7h2.6v2.6h-2.6zM579.0 795.8h2.6v2.6h-2.6zM594.5 780.5h2.6v2.6h-2.6zM591.1 813.2h2.6v2.6h-2.6zM544.9 825.9h2.6v2.6h-2.6zM573.8 794.7h2.6v2.6h-2.6zM572.6 798.8h2.6v2.6h-2.6zM582.2 810.2h2.6v2.6h-2.6zM608.5 810.0h2.6v2.6h-2.6zM607.4 785.9h2.6v2.6h-2.6zM561.7 807.0h2.6v2.6h-2.6zM608.9 795.5h2.6v2.6h-2.6zM568.5 819.3h2.6v2.6h-2.6zM597.4 810.9h2.6v2.6h-2.6zM585.5 781.3h2.6v2.6h-2.6zM578.7 800.8h2.6v2.6h-2.6zM563.1 814.1h2.6v2.6h-2.6zM597.9 802.5h2.6v2.6h-2.6zM592.3 782.6h2.6v2.6h-2.6zM547.7 772.9h2.6v2.6h-2.6zM605.6 787.1h2.6v2.6h-2.6zM575.5 790.5h2.6v2.6h-2.6zM589.7 788.5h2.6v2.6h-2.6zM562.4 769.5h2.6v2.6h-2.6zM576.8 804.6h2.6v2.6h-2.6zM575.6 803.2h2.6v2.6h-2.6zM518.9 785.1h2.6v2.6h-2.6zM607.8 809.3h2.6v2.6h-2.6zM589.2 802.0h2.6v2.6h-2.6zM574.6 790.3h2.6v2.6h-2.6zM614.9 803.8h2.6v2.6h-2.6zM607.6 788.7h2.6v2.6h-2.6zM603.8 803.5h2.6v2.6h-2.6zM555.3 775.2h2.6v2.6h-2.6zM618.8 793.7h2.6v2.6h-2.6zM586.7 775.7h2.6v2.6h-2.6zM610.8 805.7h2.6v2.6h-2.6zM560.5 818.8h2.6v2.6h-2.6zM576.0 826.4h2.6v2.6h-2.6zM561.3 794.4h2.6v2.6h-2.6zM566.8 777.5h2.6v2.6h-2.6zM559.7 810.7h2.6v2.6h-2.6z" fill="#ff1010"/>
</g>
<line x1="482.5" y1="1027.5" x2="487.6" y2="1027.5" stroke="#666" stroke-width="1.6" stroke-linecap="butt"/>
<line x1="485.0" y1="1007.1" x2="487.6" y2="1007.1" stroke="#777" stroke-width="1.2" stroke-linecap="butt"/>
<line x1="485.0" y1="995.2" x2="487.6" y2="995.2" stroke="#777" stroke-width="1.2" stroke-linecap="butt"/>
<line x1="485.0" y1="986.7" x2="487.6" y2="986.7" stroke="#777" stroke-width="1.2" stroke-linecap="butt"/>
<line x1="485.0" y1="980.2" x2="487.6" y2="980.2" stroke="#777" stroke-width="1.2" stroke-linecap="butt"/>
<line x1="485.0" y1="974.8" x2="487.6" y2="974.8" stroke="#777" stroke-width="1.2" stroke-linecap="butt"/>
<line x1="485.0" y1="970.3" x2="487.6" y2="970.3" stroke="#777" stroke-width="1.2" stroke-linecap="butt"/>
<line x1="485.0" y1="966.4" x2="487.6" y2="966.4" stroke="#777" stroke-width="1.2" stroke-linecap="butt"/>
<line x1="485.0" y1="962.9" x2="487.6" y2="962.9" stroke="#777" stroke-width="1.2" stroke-linecap="butt"/>
<line x1="482.5" y1="959.8" x2="487.6" y2="959.8" stroke="#666" stroke-width="1.6" stroke-linecap="butt"/>
<line x1="485.0" y1="939.4" x2="487.6" y2="939.4" stroke="#777" stroke-width="1.2" stroke-linecap="butt"/>
<line x1="485.0" y1="927.5" x2="487.6" y2="927.5" stroke="#777" stroke-width="1.2" stroke-linecap="butt"/>
<line x1="485.0" y1="919.0" x2="487.6" y2="919.0" stroke="#777" stroke-width="1.2" stroke-linecap="butt"/>
<line x1="485.0" y1="912.5" x2="487.6" y2="912.5" stroke="#777" stroke-width="1.2" stroke-linecap="butt"/>
<line x1="485.0" y1="907.1" x2="487.6" y2="907.1" stroke="#777" stroke-width="1.2" stroke-linecap="butt"/>
<line x1="485.0" y1="902.6" x2="487.6" y2="902.6" stroke="#777" stroke-width="1.2" stroke-linecap="butt"/>
<line x1="485.0" y1="898.7" x2="487.6" y2="898.7" stroke="#777" stroke-width="1.2" stroke-linecap="butt"/>
<line x1="485.0" y1="895.2" x2="487.6" y2="895.2" stroke="#777" stroke-width="1.2" stroke-linecap="butt"/>
<line x1="482.5" y1="892.1" x2="487.6" y2="892.1" stroke="#666" stroke-width="1.6" stroke-linecap="butt"/>
<line x1="485.0" y1="871.7" x2="487.6" y2="871.7" stroke="#777" stroke-width="1.2" stroke-linecap="butt"/>
<line x1="485.0" y1="859.8" x2="487.6" y2="859.8" stroke="#777" stroke-width="1.2" stroke-linecap="butt"/>
<line x1="485.0" y1="851.3" x2="487.6" y2="851.3" stroke="#777" stroke-width="1.2" stroke-linecap="butt"/>
<line x1="485.0" y1="844.8" x2="487.6" y2="844.8" stroke="#777" stroke-width="1.2" stroke-linecap="butt"/>
<line x1="485.0" y1="839.4" x2="487.6" y2="839.4" stroke="#777" stroke-width="1.2" stroke-linecap="butt"/>
<line x1="485.0" y1="834.9" x2="487.6" y2="834.9" stroke="#777" stroke-width="1.2" stroke-linecap="butt"/>
<line x1="485.0" y1="831.0" x2="487.6" y2="831.0" stroke="#777" stroke-width="1.2" stroke-linecap="butt"/>
<line x1="485.0" y1="827.5" x2="487.6" y2="827.5" stroke="#777" stroke-width="1.2" stroke-linecap="butt"/>
<line x1="482.5" y1="824.4" x2="487.6" y2="824.4" stroke="#666" stroke-width="1.6" stroke-linecap="butt"/>
<line x1="485.0" y1="804.0" x2="487.6" y2="804.0" stroke="#777" stroke-width="1.2" stroke-linecap="butt"/>
<line x1="485.0" y1="792.1" x2="487.6" y2="792.1" stroke="#777" stroke-width="1.2" stroke-linecap="butt"/>
<line x1="485.0" y1="783.6" x2="487.6" y2="783.6" stroke="#777" stroke-width="1.2" stroke-linecap="butt"/>
<line x1="485.0" y1="777.1" x2="487.6" y2="777.1" stroke="#777" stroke-width="1.2" stroke-linecap="butt"/>
<line x1="485.0" y1="771.7" x2="487.6" y2="771.7" stroke="#777" stroke-width="1.2" stroke-linecap="butt"/>
<line x1="485.0" y1="767.2" x2="487.6" y2="767.2" stroke="#777" stroke-width="1.2" stroke-linecap="butt"/>
<line x1="485.0" y1="763.3" x2="487.6" y2="763.3" stroke="#777" stroke-width="1.2" stroke-linecap="butt"/>
<line x1="485.0" y1="759.8" x2="487.6" y2="759.8" stroke="#777" stroke-width="1.2" stroke-linecap="butt"/>
<line x1="482.5" y1="756.7" x2="487.6" y2="756.7" stroke="#666" stroke-width="1.6" stroke-linecap="butt"/>
<line x1="485.0" y1="736.3" x2="487.6" y2="736.3" stroke="#777" stroke-width="1.2" stroke-linecap="butt"/>
<line x1="485.0" y1="724.4" x2="487.6" y2="724.4" stroke="#777" stroke-width="1.2" stroke-linecap="butt"/>
<line x1="485.0" y1="715.9" x2="487.6" y2="715.9" stroke="#777" stroke-width="1.2" stroke-linecap="butt"/>
<line x1="485.0" y1="709.4" x2="487.6" y2="709.4" stroke="#777" stroke-width="1.2" stroke-linecap="butt"/>
<line x1="485.0" y1="704.0" x2="487.6" y2="704.0" stroke="#777" stroke-width="1.2" stroke-linecap="butt"/>
<line x1="485.0" y1="699.5" x2="487.6" y2="699.5" stroke="#777" stroke-width="1.2" stroke-linecap="butt"/>
<line x1="485.0" y1="695.6" x2="487.6" y2="695.6" stroke="#777" stroke-width="1.2" stroke-linecap="butt"/>
<line x1="485.0" y1="692.1" x2="487.6" y2="692.1" stroke="#777" stroke-width="1.2" stroke-linecap="butt"/>
<line x1="482.5" y1="689.0" x2="487.6" y2="689.0" stroke="#666" stroke-width="1.6" stroke-linecap="butt"/>
<line x1="485.0" y1="668.6" x2="487.6" y2="668.6" stroke="#777" stroke-width="1.2" stroke-linecap="butt"/>
<line x1="504.2" y1="1030.0" x2="504.2" y2="1034.5" stroke="#666" stroke-width="1.6" stroke-linecap="butt"/>
<line x1="643.4" y1="1030.0" x2="643.4" y2="1034.5" stroke="#666" stroke-width="1.6" stroke-linecap="butt"/>
<line x1="750.2" y1="1030.0" x2="750.2" y2="1034.5" stroke="#666" stroke-width="1.6" stroke-linecap="butt"/>
<line x1="841.0" y1="1030.0" x2="841.0" y2="1034.5" stroke="#666" stroke-width="1.6" stroke-linecap="butt"/>
<line x1="512.0" y1="1030.0" x2="512.0" y2="1032.5" stroke="#777" stroke-width="1.2" stroke-linecap="butt"/>
<line x1="519.5" y1="1030.0" x2="519.5" y2="1032.5" stroke="#777" stroke-width="1.2" stroke-linecap="butt"/>
<line x1="527.0" y1="1030.0" x2="527.0" y2="1032.5" stroke="#777" stroke-width="1.2" stroke-linecap="butt"/>
<line x1="534.5" y1="1030.0" x2="534.5" y2="1032.5" stroke="#777" stroke-width="1.2" stroke-linecap="butt"/>
<line x1="542.0" y1="1030.0" x2="542.0" y2="1032.5" stroke="#777" stroke-width="1.2" stroke-linecap="butt"/>
<line x1="549.5" y1="1030.0" x2="549.5" y2="1032.5" stroke="#777" stroke-width="1.2" stroke-linecap="butt"/>
<line x1="557.0" y1="1030.0" x2="557.0" y2="1032.5" stroke="#777" stroke-width="1.2" stroke-linecap="butt"/>
<line x1="564.5" y1="1030.0" x2="564.5" y2="1032.5" stroke="#777" stroke-width="1.2" stroke-linecap="butt"/>
<line x1="580.0" y1="1030.0" x2="580.0" y2="1032.5" stroke="#777" stroke-width="1.2" stroke-linecap="butt"/>
<line x1="587.5" y1="1030.0" x2="587.5" y2="1032.5" stroke="#777" stroke-width="1.2" stroke-linecap="butt"/>
<line x1="595.0" y1="1030.0" x2="595.0" y2="1032.5" stroke="#777" stroke-width="1.2" stroke-linecap="butt"/>
<line x1="602.5" y1="1030.0" x2="602.5" y2="1032.5" stroke="#777" stroke-width="1.2" stroke-linecap="butt"/>
<line x1="610.0" y1="1030.0" x2="610.0" y2="1032.5" stroke="#777" stroke-width="1.2" stroke-linecap="butt"/>
<line x1="617.5" y1="1030.0" x2="617.5" y2="1032.5" stroke="#777" stroke-width="1.2" stroke-linecap="butt"/>
<line x1="625.0" y1="1030.0" x2="625.0" y2="1032.5" stroke="#777" stroke-width="1.2" stroke-linecap="butt"/>
<line x1="632.5" y1="1030.0" x2="632.5" y2="1032.5" stroke="#777" stroke-width="1.2" stroke-linecap="butt"/>
<line x1="668.0" y1="1030.0" x2="668.0" y2="1032.5" stroke="#777" stroke-width="1.2" stroke-linecap="butt"/>
<line x1="690.0" y1="1030.0" x2="690.0" y2="1032.5" stroke="#777" stroke-width="1.2" stroke-linecap="butt"/>
<line x1="705.0" y1="1030.0" x2="705.0" y2="1032.5" stroke="#777" stroke-width="1.2" stroke-linecap="butt"/>
<line x1="716.0" y1="1030.0" x2="716.0" y2="1032.5" stroke="#777" stroke-width="1.2" stroke-linecap="butt"/>
<line x1="726.0" y1="1030.0" x2="726.0" y2="1032.5" stroke="#777" stroke-width="1.2" stroke-linecap="butt"/>
<line x1="734.0" y1="1030.0" x2="734.0" y2="1032.5" stroke="#777" stroke-width="1.2" stroke-linecap="butt"/>
<line x1="741.0" y1="1030.0" x2="741.0" y2="1032.5" stroke="#777" stroke-width="1.2" stroke-linecap="butt"/>
<line x1="746.0" y1="1030.0" x2="746.0" y2="1032.5" stroke="#777" stroke-width="1.2" stroke-linecap="butt"/>
<line x1="776.0" y1="1030.0" x2="776.0" y2="1032.5" stroke="#777" stroke-width="1.2" stroke-linecap="butt"/>
<line x1="798.0" y1="1030.0" x2="798.0" y2="1032.5" stroke="#777" stroke-width="1.2" stroke-linecap="butt"/>
<line x1="811.0" y1="1030.0" x2="811.0" y2="1032.5" stroke="#777" stroke-width="1.2" stroke-linecap="butt"/>
<line x1="820.0" y1="1030.0" x2="820.0" y2="1032.5" stroke="#777" stroke-width="1.2" stroke-linecap="butt"/>
<line x1="827.0" y1="1030.0" x2="827.0" y2="1032.5" stroke="#777" stroke-width="1.2" stroke-linecap="butt"/>
<line x1="833.0" y1="1030.0" x2="833.0" y2="1032.5" stroke="#777" stroke-width="1.2" stroke-linecap="butt"/>
<line x1="837.0" y1="1030.0" x2="837.0" y2="1032.5" stroke="#777" stroke-width="1.2" stroke-linecap="butt"/>
<line x1="860.0" y1="1030.0" x2="860.0" y2="1032.5" stroke="#777" stroke-width="1.2" stroke-linecap="butt"/>
<line x1="872.0" y1="1030.0" x2="872.0" y2="1032.5" stroke="#777" stroke-width="1.2" stroke-linecap="butt"/>
<line x1="565.0" y1="1030.0" x2="565.0" y2="1033.0" stroke="#444" stroke-width="1.4" stroke-linecap="butt"/>
<line x1="567.2" y1="1030.0" x2="567.2" y2="1033.0" stroke="#444" stroke-width="1.4" stroke-linecap="butt"/>
<line x1="569.4" y1="1030.0" x2="569.4" y2="1033.0" stroke="#444" stroke-width="1.4" stroke-linecap="butt"/>
<line x1="571.6" y1="1030.0" x2="571.6" y2="1033.0" stroke="#444" stroke-width="1.4" stroke-linecap="butt"/>
<line x1="573.8" y1="1030.0" x2="573.8" y2="1033.0" stroke="#444" stroke-width="1.4" stroke-linecap="butt"/>
<line x1="576.0" y1="1030.0" x2="576.0" y2="1033.0" stroke="#444" stroke-width="1.4" stroke-linecap="butt"/>
<line x1="578.2" y1="1030.0" x2="578.2" y2="1033.0" stroke="#444" stroke-width="1.4" stroke-linecap="butt"/>
<line x1="580.4" y1="1030.0" x2="580.4" y2="1033.0" stroke="#444" stroke-width="1.4" stroke-linecap="butt"/>
<line x1="582.6" y1="1030.0" x2="582.6" y2="1033.0" stroke="#444" stroke-width="1.4" stroke-linecap="butt"/>
<line x1="584.8" y1="1030.0" x2="584.8" y2="1033.0" stroke="#444" stroke-width="1.4" stroke-linecap="butt"/>
<text transform="translate(109.65,46.85) scale(0.5515,0.5485)" font-size="100" font-weight="700" fill="#000" stroke="#000" stroke-width="0.55">A</text>
<text transform="translate(63.50,92.69) scale(0.3592,0.3592)" font-size="100" font-weight="400" fill="#000" stroke="#000" stroke-width="0.84">6000</text>
<text transform="translate(63.50,218.69) scale(0.3592,0.3592)" font-size="100" font-weight="400" fill="#000" stroke="#000" stroke-width="0.84">4000</text>
<text transform="translate(63.50,343.99) scale(0.3592,0.3592)" font-size="100" font-weight="400" fill="#000" stroke="#000" stroke-width="0.84">2000</text>
<text transform="translate(123.12,468.59) scale(0.3592,0.3592)" font-size="100" font-weight="400" fill="#000" stroke="#000" stroke-width="0.84">0</text>
<text transform="translate(40.15,490.32) rotate(-90) scale(0.4040,0.4213)" font-size="100" font-weight="400" fill="#000" stroke="#000" stroke-width="0.73">Soluble CXCL16 (pg/mL)</text>
<text transform="translate(514.54,46.30) scale(0.5377,0.5420)" font-size="100" font-weight="700" fill="#000" stroke="#000" stroke-width="0.56">B</text>
<text transform="translate(475.54,93.09) scale(0.3127,0.3127)" font-size="100" font-weight="400" fill="#000" stroke="#000" stroke-width="0.96">6000</text>
<text transform="translate(475.54,217.89) scale(0.3127,0.3127)" font-size="100" font-weight="400" fill="#000" stroke="#000" stroke-width="0.96">4000</text>
<text transform="translate(475.54,342.69) scale(0.3127,0.3127)" font-size="100" font-weight="400" fill="#000" stroke="#000" stroke-width="0.96">2000</text>
<text transform="translate(527.44,467.49) scale(0.3127,0.3127)" font-size="100" font-weight="400" fill="#000" stroke="#000" stroke-width="0.96">0</text>
<text transform="translate(542.43,501.58) scale(0.3183,0.3183)" font-size="100" font-weight="400" fill="#000" stroke="#000" stroke-width="0.94">50</text>
<text transform="translate(594.37,501.58) scale(0.3183,0.3183)" font-size="100" font-weight="400" fill="#000" stroke="#000" stroke-width="0.94">60</text>
<text transform="translate(646.47,501.58) scale(0.3183,0.3183)" font-size="100" font-weight="400" fill="#000" stroke="#000" stroke-width="0.94">70</text>
<text transform="translate(698.73,501.58) scale(0.3183,0.3183)" font-size="100" font-weight="400" fill="#000" stroke="#000" stroke-width="0.94">80</text>
<text transform="translate(750.67,501.58) scale(0.3183,0.3183)" font-size="100" font-weight="400" fill="#000" stroke="#000" stroke-width="0.94">90</text>
<text transform="translate(793.38,501.58) scale(0.3183,0.3183)" font-size="100" font-weight="400" fill="#000" stroke="#000" stroke-width="0.94">100</text>
<text transform="translate(564.71,547.64) scale(0.3610,0.3622)" font-size="100" font-weight="400" fill="#000" stroke="#000" stroke-width="0.83">FEV1/FVC ratio</text>
<text transform="translate(462.23,493.43) rotate(-90) scale(0.4054,0.4128)" font-size="100" font-weight="400" fill="#000" stroke="#000" stroke-width="0.73">Soluble CXCL16 (pg/mL)</text>
<text transform="translate(672.48,94.91) scale(0.2749,0.2930)" font-size="100" font-weight="400" fill="#000" stroke="#000" stroke-width="1.06">r = -0.3880</text>
<text transform="translate(672.89,126.60) scale(0.2728,0.2857)" font-size="100" font-weight="400" fill="#000" stroke="#000" stroke-width="1.07">p = 0.0022</text>
<text transform="translate(990.20,126.65) scale(0.3628,0.3514)" font-size="100" font-weight="400" fill="#000" stroke="#000" stroke-width="0.84">Non-smokers</text>
<text transform="translate(989.79,192.84) scale(0.3636,0.3595)" font-size="100" font-weight="400" fill="#000" stroke="#000" stroke-width="0.83">Normal LF smokers</text>
<text transform="translate(990.28,258.63) scale(0.3630,0.3511)" font-size="100" font-weight="400" fill="#000" stroke="#000" stroke-width="0.84">GOLD 1 patients</text>
<text transform="translate(111.09,618.37) scale(0.5031,0.5324)" font-size="100" font-weight="700" fill="#000" stroke="#000" stroke-width="0.58">C</text>
<text transform="translate(102.03,667.60) scale(0.3743,0.3743)" font-size="100" font-weight="400" fill="#000" stroke="#000" stroke-width="0.80">12</text>
<text transform="translate(122.88,792.70) scale(0.3690,0.3690)" font-size="100" font-weight="400" fill="#000" stroke="#000" stroke-width="0.81">8</text>
<text transform="translate(121.28,918.92) scale(0.3853,0.3853)" font-size="100" font-weight="400" fill="#000" stroke="#000" stroke-width="0.78">4</text>
<text transform="translate(122.51,1043.63) scale(0.3690,0.3690)" font-size="100" font-weight="400" fill="#000" stroke="#000" stroke-width="0.81">0</text>
<text transform="translate(59.08,994.21) rotate(-90) scale(0.3619,0.3532)" font-size="100" font-weight="400" fill="#000" stroke="#000" stroke-width="0.84">CXCR6 expressing</text>
<text transform="translate(102.30,938.68) rotate(-90) scale(0.3543,0.3617)" font-size="100" font-weight="400" fill="#000" stroke="#000" stroke-width="0.84">platelets (%)</text>
<text transform="translate(478.34,618.50) scale(0.5508,0.5652)" font-size="100" font-weight="700" fill="#000" stroke="#000" stroke-width="0.54">D</text>
<text transform="translate(468.93,898.23) rotate(-90) scale(0.3650,0.3746)" font-size="100" font-weight="400" fill="#000" stroke="#000" stroke-width="0.81">SSC-A</text>
<text transform="translate(558.89,1074.32) scale(0.3615,0.3803)" font-size="100" font-weight="400" fill="#000" stroke="#000" stroke-width="0.81">CXCR6-BV421</text>
<text transform="translate(1014.10,619.10) scale(0.5143,0.5551)" font-size="100" font-weight="700" fill="#000" stroke="#000" stroke-width="0.56">E</text>
<text transform="translate(1014.61,665.43) scale(0.3186,0.3186)" font-size="100" font-weight="400" fill="#000" stroke="#000" stroke-width="0.94">15</text>
<text transform="translate(1015.09,791.00) scale(0.3141,0.3141)" font-size="100" font-weight="400" fill="#000" stroke="#000" stroke-width="0.96">10</text>
<text transform="translate(1032.45,916.56) scale(0.3186,0.3186)" font-size="100" font-weight="400" fill="#000" stroke="#000" stroke-width="0.94">5</text>
<text transform="translate(1032.37,1042.14) scale(0.3141,0.3141)" font-size="100" font-weight="400" fill="#000" stroke="#000" stroke-width="0.96">0</text>
<text transform="translate(1047.62,1074.99) scale(0.3113,0.3113)" font-size="100" font-weight="400" fill="#000" stroke="#000" stroke-width="0.96">50</text>
<text transform="translate(1099.61,1074.99) scale(0.3113,0.3113)" font-size="100" font-weight="400" fill="#000" stroke="#000" stroke-width="0.96">60</text>
<text transform="translate(1151.75,1074.99) scale(0.3113,0.3113)" font-size="100" font-weight="400" fill="#000" stroke="#000" stroke-width="0.96">70</text>
<text transform="translate(1204.04,1074.99) scale(0.3113,0.3113)" font-size="100" font-weight="400" fill="#000" stroke="#000" stroke-width="0.96">80</text>
<text transform="translate(1256.03,1074.99) scale(0.3113,0.3113)" font-size="100" font-weight="400" fill="#000" stroke="#000" stroke-width="0.96">90</text>
<text transform="translate(1298.99,1074.99) scale(0.3113,0.3113)" font-size="100" font-weight="400" fill="#000" stroke="#000" stroke-width="0.96">100</text>
<text transform="translate(1069.72,1121.44) scale(0.3606,0.3608)" font-size="100" font-weight="400" fill="#000" stroke="#000" stroke-width="0.83">FEV1/FVC ratio</text>
<text transform="translate(951.55,996.51) rotate(-90) scale(0.3621,0.3691)" font-size="100" font-weight="400" fill="#000" stroke="#000" stroke-width="0.82">CXCR6 expressing</text>
<text transform="translate(994.13,940.69) rotate(-90) scale(0.3564,0.3606)" font-size="100" font-weight="400" fill="#000" stroke="#000" stroke-width="0.84">platelets (%)</text>
<text transform="translate(1169.18,694.01) scale(0.2749,0.2873)" font-size="100" font-weight="400" fill="#000" stroke="#000" stroke-width="1.07">r = -0.3449</text>
<text transform="translate(1169.19,725.86) scale(0.2731,0.2923)" font-size="100" font-weight="400" fill="#000" stroke="#000" stroke-width="1.06">p = 0.0080</text>
<text transform="translate(110.80,1193.70) scale(0.5140,0.5420)" font-size="100" font-weight="700" fill="#000" stroke="#000" stroke-width="0.57">F</text>
<text transform="translate(102.32,1240.63) scale(0.3690,0.3690)" font-size="100" font-weight="400" fill="#000" stroke="#000" stroke-width="0.81">25</text>
<text transform="translate(102.32,1315.83) scale(0.3690,0.3690)" font-size="100" font-weight="400" fill="#000" stroke="#000" stroke-width="0.81">20</text>
<text transform="translate(101.75,1391.03) scale(0.3743,0.3743)" font-size="100" font-weight="400" fill="#000" stroke="#000" stroke-width="0.80">15</text>
<text transform="translate(102.32,1466.23) scale(0.3690,0.3690)" font-size="100" font-weight="400" fill="#000" stroke="#000" stroke-width="0.81">10</text>
<text transform="translate(122.71,1541.43) scale(0.3743,0.3743)" font-size="100" font-weight="400" fill="#000" stroke="#000" stroke-width="0.80">5</text>
<text transform="translate(122.61,1616.63) scale(0.3690,0.3690)" font-size="100" font-weight="400" fill="#000" stroke="#000" stroke-width="0.81">0</text>
<text transform="translate(38.68,1652.99) rotate(-90) scale(0.3575,0.3532)" font-size="100" font-weight="400" fill="#000" stroke="#000" stroke-width="0.84">CXCR6 expressing neutrophil-</text>
<text transform="translate(82.19,1602.12) rotate(-90) scale(0.3554,0.3574)" font-size="100" font-weight="400" fill="#000" stroke="#000" stroke-width="0.84">-platelet aggregates (%)</text>
<text transform="translate(517.13,1193.17) scale(0.5176,0.5296)" font-size="100" font-weight="700" fill="#000" stroke="#000" stroke-width="0.57">G</text>
<text transform="translate(509.05,1239.28) scale(0.3229,0.3229)" font-size="100" font-weight="400" fill="#000" stroke="#000" stroke-width="0.93">15</text>
<text transform="translate(509.54,1364.58) scale(0.3183,0.3183)" font-size="100" font-weight="400" fill="#000" stroke="#000" stroke-width="0.94">10</text>
<text transform="translate(527.13,1489.88) scale(0.3229,0.3229)" font-size="100" font-weight="400" fill="#000" stroke="#000" stroke-width="0.93">5</text>
<text transform="translate(527.05,1615.18) scale(0.3183,0.3183)" font-size="100" font-weight="400" fill="#000" stroke="#000" stroke-width="0.94">0</text>
<text transform="translate(542.63,1648.58) scale(0.3183,0.3183)" font-size="100" font-weight="400" fill="#000" stroke="#000" stroke-width="0.94">50</text>
<text transform="translate(594.55,1648.58) scale(0.3183,0.3183)" font-size="100" font-weight="400" fill="#000" stroke="#000" stroke-width="0.94">60</text>
<text transform="translate(646.63,1648.58) scale(0.3183,0.3183)" font-size="100" font-weight="400" fill="#000" stroke="#000" stroke-width="0.94">70</text>
<text transform="translate(698.87,1648.58) scale(0.3183,0.3183)" font-size="100" font-weight="400" fill="#000" stroke="#000" stroke-width="0.94">80</text>
<text transform="translate(750.79,1648.58) scale(0.3183,0.3183)" font-size="100" font-weight="400" fill="#000" stroke="#000" stroke-width="0.94">90</text>
<text transform="translate(793.48,1648.58) scale(0.3183,0.3183)" font-size="100" font-weight="400" fill="#000" stroke="#000" stroke-width="0.94">100</text>
<text transform="translate(565.02,1694.64) scale(0.3603,0.3622)" font-size="100" font-weight="400" fill="#000" stroke="#000" stroke-width="0.83">FEV1/FVC ratio</text>
<text transform="translate(453.18,1657.39) rotate(-90) scale(0.3580,0.3532)" font-size="100" font-weight="400" fill="#000" stroke="#000" stroke-width="0.84">CXCR6 expressing neutrophil-</text>
<text transform="translate(496.68,1605.82) rotate(-90) scale(0.3562,0.3532)" font-size="100" font-weight="400" fill="#000" stroke="#000" stroke-width="0.85">-platelet aggregates (%)</text>
<text transform="translate(675.30,1266.81) scale(0.2721,0.2887)" font-size="100" font-weight="400" fill="#000" stroke="#000" stroke-width="1.07">r = -0.4464</text>
<text transform="translate(675.29,1298.66) scale(0.2731,0.2923)" font-size="100" font-weight="400" fill="#000" stroke="#000" stroke-width="1.06">p = 0.0003</text>
<text transform="translate(1013.71,1193.70) scale(0.5276,0.5420)" font-size="100" font-weight="700" fill="#000" stroke="#000" stroke-width="0.56">H</text>
<text transform="translate(1008.82,1240.33) scale(0.3662,0.3662)" font-size="100" font-weight="400" fill="#000" stroke="#000" stroke-width="0.82">50</text>
<text transform="translate(1008.82,1315.59) scale(0.3662,0.3662)" font-size="100" font-weight="400" fill="#000" stroke="#000" stroke-width="0.82">40</text>
<text transform="translate(1008.82,1390.85) scale(0.3662,0.3662)" font-size="100" font-weight="400" fill="#000" stroke="#000" stroke-width="0.82">30</text>
<text transform="translate(1008.82,1466.11) scale(0.3662,0.3662)" font-size="100" font-weight="400" fill="#000" stroke="#000" stroke-width="0.82">20</text>
<text transform="translate(1008.82,1541.37) scale(0.3662,0.3662)" font-size="100" font-weight="400" fill="#000" stroke="#000" stroke-width="0.82">10</text>
<text transform="translate(1028.96,1616.63) scale(0.3662,0.3662)" font-size="100" font-weight="400" fill="#000" stroke="#000" stroke-width="0.82">0</text>
<text transform="translate(941.19,1657.10) rotate(-90) scale(0.3602,0.3574)" font-size="100" font-weight="400" fill="#000" stroke="#000" stroke-width="0.84">CXCR6 expressing eosinophil-</text>
<text transform="translate(984.39,1601.72) rotate(-90) scale(0.3546,0.3574)" font-size="100" font-weight="400" fill="#000" stroke="#000" stroke-width="0.84">-platelet aggregates (%)</text>
</g>
</svg></body></html>
